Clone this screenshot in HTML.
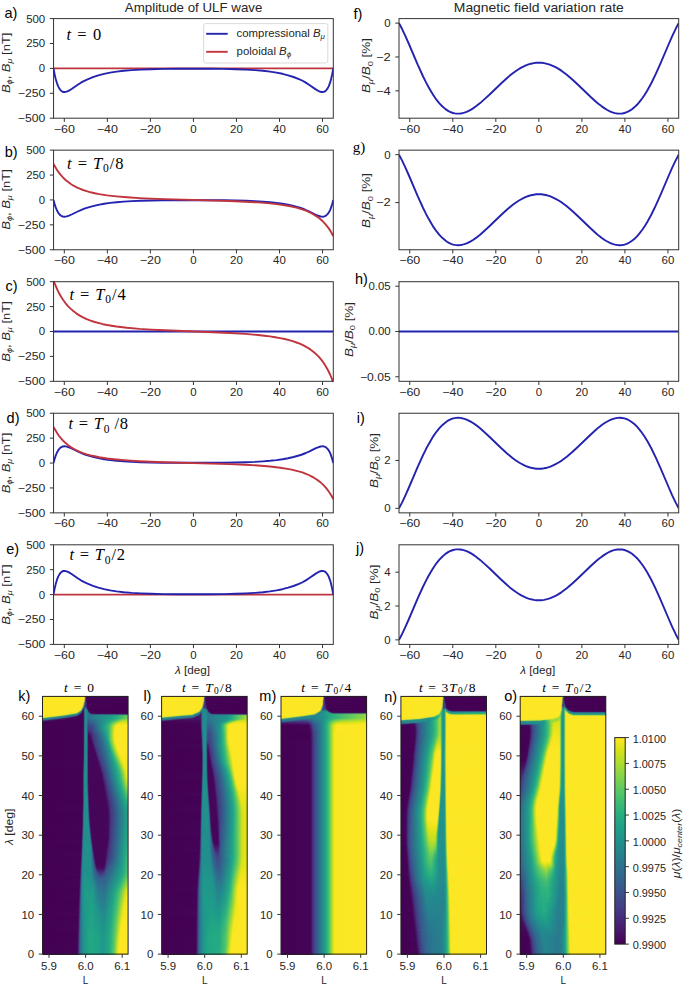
<!DOCTYPE html><html><head><meta charset="utf-8"><style>html,body{margin:0;padding:0;background:#fff;}#w{position:relative;width:685px;height:988px;overflow:hidden;background:#fff}i{position:absolute;display:block}svg{position:absolute;left:0;top:0;display:block}.p0{left:42.50px;width:85.60px}.p1{left:161.60px;width:85.60px}.p2{left:281.00px;width:85.60px}.p3{left:400.90px;width:85.60px}.p4{left:520.20px;width:85.60px}</style></head><body><div id="w"><i class="p0" style="top:696px;height:1px;background:linear-gradient(90deg,#fde725,#fce725 47.9%,#f3e329 48.5%,#c9ce3b 49.1%,#809a5b 49.6%,#4f536a 50.2%,#441c60 50.8%,#440657 51.4%,#440154 60.7%,#440154)"></i><i class="p0" style="top:697px;height:1px;background:linear-gradient(90deg,#fde725,#fce725 47.9%,#f1e12b 48.5%,#c0c443 49.1%,#728867 49.6%,#494571 50.2%,#431862 50.8%,#440557 51.4%,#440154)"></i><i class="p0" style="top:698px;height:1px;background:linear-gradient(90deg,#fde725,#fce725 47.9%,#f1e02b 48.5%,#c0c043 49.1%,#737f67 49.6%,#4a3e71 50.2%,#441562 50.8%,#440557 51.4%,#440154)"></i><i class="p0" style="top:699px;height:1px;background:linear-gradient(90deg,#fde725,#fce625 47.9%,#f0dd2b 48.5%,#c1b342 49.1%,#796c64 49.6%,#4e326f 50.2%,#451261 50.8%,#440457 51.4%,#440154)"></i><i class="p0" style="top:700px;height:1px;background:linear-gradient(90deg,#fde725,#fde725 47.3%,#f8e527 47.9%,#ddd632 48.5%,#a3a74c 49.1%,#67616a 49.6%,#4b2f70 50.2%,#451362 50.8%,#440557 51.4%,#440154)"></i><i class="p0" style="top:701px;height:1px;background:linear-gradient(90deg,#fde725,#fce725 47.3%,#f0e12b 47.9%,#bfc542 48.5%,#758b67 49.1%,#4c517b 49.6%,#46327a 50.2%,#450c5d 51.4%,#440154 52.6%,#440154)"></i><i class="p0" style="top:702px;height:1px;background:linear-gradient(90deg,#fde725,#fde725 46.7%,#f8e527 47.3%,#dedb31 47.9%,#a0b94e 48.5%,#5f8071 49.1%,#454e7f 49.6%,#45357d 50.2%,#451061 51.4%,#440456 52.0%,#440154)"></i><i class="p0" style="top:703px;height:1px;background:linear-gradient(90deg,#fde725,#fce725 46.7%,#f0e12b 47.3%,#bfc743 47.9%,#729369 48.5%,#485f7f 49.1%,#434082 49.6%,#452573 50.8%,#451161 51.4%,#440457 52.0%,#440154)"></i><i class="p0" style="top:704px;height:1px;background:linear-gradient(90deg,#fde725,#fde725 46.1%,#f9e627 46.7%,#e1dc31 47.3%,#a4bb4d 47.9%,#618170 48.5%,#464f80 49.1%,#443980 49.6%,#452573 50.8%,#440457 52.0%,#440154)"></i><i class="p0" style="top:705px;height:1px;background:linear-gradient(90deg,#fde725,#fce625 46.1%,#eee02c 46.7%,#bcc644 47.3%,#70936a 47.9%,#476080 48.5%,#434182 49.1%,#46327e 50.2%,#452775 50.8%,#440659 52.0%,#440154 56.7%,#440154)"></i><i class="p0" style="top:706px;height:1px;background:linear-gradient(90deg,#fde725,#fce725 45.6%,#f2e32a 46.1%,#cbd33a 46.7%,#87ae5b 47.3%,#507b78 47.9%,#424f82 48.5%,#443a81 49.1%,#45307c 50.8%,#440456 52.6%,#440154)"></i><i class="p0" style="top:707px;height:1px;background:linear-gradient(90deg,#fde725,#fce725 45.0%,#f1e32a 45.6%,#cbd33a 46.1%,#87b25a 46.7%,#508577 47.3%,#3e5d83 47.9%,#3f4784 48.5%,#413f82 50.8%,#412f76 51.4%,#431563 52.0%,#440557 52.6%,#440154)"></i><i class="p0" style="top:708px;height:1px;background:linear-gradient(90deg,#fde725,#fce725 44.4%,#f1e32a 45.0%,#cad33a 45.6%,#85b35a 46.1%,#4c8a77 46.7%,#39617f 47.3%,#3b467d 47.9%,#394d83 48.5%,#33628a 49.1%,#2f6c8c 49.6%,#2f698a 50.8%,#34527e 51.4%,#3d296a 52.0%,#420c5a 52.6%,#440154 53.7%,#440154)"></i><i class="p0" style="top:709px;height:1px;background:linear-gradient(90deg,#fde725,#f9e626 43.8%,#eee22b 44.4%,#c8d33b 45.0%,#84b25b 45.6%,#4c8977 46.1%,#395e7c 46.7%,#3c3570 47.3%,#3d2e6e 47.9%,#29798a 49.1%,#24898c 49.6%,#23898c 50.8%,#277d89 51.4%,#31597d 52.0%,#3c2969 52.6%,#430c5a 53.2%,#440154 54.3%,#440154)"></i><i class="p0" style="top:710px;height:1px;background:linear-gradient(90deg,#fde725,#fae625 42.1%,#e9e12b 43.2%,#d1d933 43.8%,#a7c946 44.4%,#73ad60 45.0%,#488878 45.6%,#395d7c 46.1%,#3d2f6d 46.7%,#411560 47.3%,#3e2367 47.9%,#287c89 49.1%,#228d8c 49.6%,#218f8c 50.8%,#23898c 51.4%,#2a7689 52.0%,#3e2569 53.2%,#430b5a 53.7%,#440154 54.9%,#440154)"></i><i class="p0" style="top:711px;height:1px;background:linear-gradient(90deg,#fde725,#fae625 40.3%,#eae12b 41.5%,#d3da33 42.1%,#abcb44 42.6%,#7ab65c 43.2%,#519f73 43.8%,#3b8c81 44.4%,#337a85 45.0%,#355a7e 45.6%,#3d2e6d 46.1%,#42105d 46.7%,#430a59 47.3%,#3e2165 47.9%,#33527c 48.5%,#277c89 49.1%,#228d8c 49.6%,#228b8d 51.4%,#277f8d 52.0%,#2e6a8a 52.6%,#3e256a 53.7%,#430d5c 54.3%,#440255 55.5%,#440154)"></i><i class="p0" style="top:712px;height:1px;background:linear-gradient(90deg,#fde725,#fae725 35.6%,#eee22a 39.1%,#e8e02c 39.7%,#d4da33 40.3%,#adcc44 40.9%,#53a073 42.1%,#3c8e81 42.6%,#2d7b8b 43.8%,#2d7089 44.4%,#33567f 45.0%,#3c2d6c 45.6%,#420f5d 46.1%,#440456 46.7%,#430758 47.3%,#3e2065 47.9%,#33527c 48.5%,#277c89 49.1%,#228d8c 49.6%,#228c8d 51.4%,#30678b 53.2%,#355583 53.7%,#401f67 54.9%,#430f5d 55.5%,#440254 57.2%,#440154)"></i><i class="p0" style="top:713px;height:1px;background:linear-gradient(90deg,#fde725,#fae725 28.6%,#e3de2d 34.5%,#b7d33e 36.8%,#7dbb5a 39.1%,#3b8e81 40.9%,#2d7c8b 42.1%,#2f6788 43.2%,#411f67 45.0%,#430c5b 45.6%,#440254 46.7%,#430757 47.3%,#3e2065 47.9%,#33527c 48.5%,#277c89 49.1%,#228d8c 49.6%,#228c8d 51.4%,#2d708e 53.2%,#2f6a8b 54.3%,#326087 54.9%,#411b64 56.7%,#420c5b 57.8%,#430a58)"></i><i class="p0" style="top:714px;height:1px;background:linear-gradient(90deg,#fde725,#f9e626 21.6%,#e6df2d 26.9%,#ced935 28.6%,#6db361 32.7%,#41997d 35.0%,#338588 38.6%,#2c7c8b 40.3%,#2f6888 41.5%,#402269 43.2%,#430859 44.4%,#440254 46.7%,#430757 47.3%,#3e2065 47.9%,#33527c 48.5%,#277c89 49.1%,#228d8c 49.6%,#228c8d 51.4%,#2b758e 52.6%,#2d718e 53.7%,#2b738d 55.5%,#335b85 57.8%,#385a74 92.9%,#3f596e)"></i><i class="p0" style="top:715px;height:1px;background:linear-gradient(90deg,#fde725,#f8e626 12.3%,#e2de2d 19.3%,#bad43d 22.2%,#50a473 26.9%,#3b9281 28.6%,#2d808b 33.3%,#2d6d8a 39.1%,#306588 39.7%,#3b3b77 40.9%,#43125f 42.1%,#440255 43.8%,#440254 46.7%,#430757 47.3%,#3e2065 47.9%,#33527c 48.5%,#277c89 49.1%,#228d8c 49.6%,#228c8d 51.4%,#2b758e 52.6%,#2c718e 53.7%,#26818d 61.3%,#219589 79.4%,#2ba67f 87.6%,#52ba68 95.8%,#6dc259)"></i><i class="p0" style="top:716px;height:1px;background:linear-gradient(90deg,#fce724,#e3de2d 9.3%,#bdd53c 12.3%,#4fa374 18.7%,#3a9282 21.0%,#2a768c 29.8%,#326087 33.9%,#421965 39.7%,#440456 41.5%,#440254 46.7%,#430757 47.3%,#3e2065 47.9%,#33527c 48.5%,#277c89 49.1%,#228d8c 49.6%,#228c8d 51.4%,#2b758e 52.6%,#2c718e 53.7%,#25848e 61.3%,#1f9b8a 78.9%,#27ad81 87.0%,#4ec36b 94.6%,#73d055)"></i><i class="p0" style="top:717px;height:1px;background:linear-gradient(90deg,#dddd2d,#c0d63b 2.3%,#50a473 8.8%,#3a9281 11.1%,#2e818a 16.9%,#2c6f8a 24.5%,#375283 28.0%,#431662 33.3%,#440657 38.0%,#440254 46.7%,#430757 47.3%,#3e2065 47.9%,#33527c 48.5%,#277c89 49.1%,#228d8c 49.6%,#228b8d 51.4%,#2b758e 52.6%,#2d718e 53.7%,#25848e 61.3%,#1f9b8a 78.9%,#28ae80 87.0%,#4fc36a 94.6%,#74d055)"></i><i class="p0" style="top:718px;height:1px;background:linear-gradient(90deg,#419a7c,#328488 5.3%,#2b758c 13.4%,#335e87 18.7%,#421e68 25.1%,#430a59 28.6%,#440154 40.9%,#440254 46.7%,#430757 47.3%,#3e2065 47.9%,#33527c 48.5%,#277c89 49.1%,#228d8c 49.6%,#238b8d 51.4%,#2c738e 52.6%,#2e6e8e 53.7%,#25848e 62.5%,#1f9e89 79.4%,#2aaf7f 86.4%,#56c666 94.0%,#80d34d)"></i><i class="p0" style="top:719px;height:1px;background:linear-gradient(90deg,#2a7c8d,#306689 7.6%,#3f3072 14.0%,#430e5d 19.3%,#440154 30.4%,#440254 46.7%,#430757 47.3%,#3e2065 47.9%,#33527c 48.5%,#277c89 49.1%,#228d8c 49.6%,#21908c 50.8%,#287d8d 52.0%,#2e6e8e 52.6%,#31688e 53.7%,#23898e 68.3%,#22a784 81.2%,#37b877 86.4%,#94d740 97.5%,#98d83e)"></i><i class="p0" style="top:720px;height:1px;background:linear-gradient(90deg,#365584,#431461 8.2%,#440456 15.8%,#440254 46.7%,#430757 47.3%,#3e2065 47.9%,#33527c 48.5%,#277c89 49.1%,#228d8c 49.6%,#218f8c 50.8%,#23898d 51.4%,#31688d 52.6%,#34608d 53.7%,#1f9f88 76.5%,#2db27d 82.4%,#5fc961 88.2%,#a7db34 94.6%,#afdc2f 99.3%,#afdc2f)"></i><i class="p0" style="top:721px;height:1px;background:linear-gradient(90deg,#430c5b,#440154 14.6%,#440254 46.7%,#430757 47.3%,#3e2065 47.9%,#33527c 48.5%,#277c89 49.1%,#228d8c 49.6%,#218f8c 50.8%,#24888d 51.4%,#33638c 52.6%,#375a8c 53.2%,#1f9c89 74.2%,#2cb17e 80.0%,#4fc36a 84.1%,#bbde28 92.3%,#c4e023 96.4%,#c4e023)"></i><i class="p0" style="top:722px;height:1px;background:linear-gradient(90deg,#440154,#440254 46.7%,#430757 47.3%,#3e2065 47.9%,#33527c 48.5%,#277c89 49.1%,#228d8c 49.6%,#218f8c 50.8%,#24888d 51.4%,#355e8c 52.6%,#3a538b 53.2%,#2a788e 64.3%,#20a287 74.8%,#33b57a 79.4%,#63ca5f 83.5%,#cae021 90.0%,#d7e21b 92.3%,#d7e21b)"></i><i class="p0" style="top:723px;height:1px;background:linear-gradient(90deg,#440154,#440254 46.7%,#430757 47.3%,#3e2065 47.9%,#33527c 48.5%,#277c89 49.1%,#228d8c 49.6%,#218f8c 50.8%,#24878d 51.4%,#375a8b 52.6%,#3d4e8a 53.2%,#34618d 59.6%,#1f9e88 73.0%,#30b47c 77.7%,#4fc36a 80.6%,#d1e120 87.6%,#e4e41b 89.4%,#e7e41a)"></i><i class="p0" style="top:724px;height:1px;background:linear-gradient(90deg,#440154,#440254 46.7%,#430757 47.3%,#3e2065 47.9%,#33527c 48.5%,#277c89 49.1%,#228d8c 49.6%,#218f8c 50.8%,#25868d 51.4%,#395689 52.6%,#3f4988 53.2%,#3a548b 57.8%,#1f9b8a 71.8%,#2bb07f 75.9%,#45bf70 78.9%,#86d449 82.4%,#d5e21f 85.9%,#efe51e 87.6%,#f3e61e)"></i><i class="p0" style="top:725px;height:1px;background:linear-gradient(90deg,#440154,#440254 46.7%,#430757 47.3%,#3e2065 47.9%,#33527c 48.5%,#277c89 49.1%,#228d8c 49.6%,#218f8c 50.8%,#25868c 51.4%,#3a5388 52.6%,#404587 53.2%,#3d4c8a 57.2%,#1f978b 70.7%,#27ad81 74.8%,#46c06f 78.3%,#8ed644 81.8%,#d6e21d 84.7%,#f6e621 86.4%,#fbe723 98.1%,#fbe723)"></i><i class="p0" style="top:726px;height:1px;background:linear-gradient(90deg,#440154,#440254 46.7%,#430757 47.3%,#3e2065 47.9%,#33527c 48.5%,#277c89 49.1%,#228d8c 49.6%,#218f8c 50.8%,#25858c 51.4%,#3b5088 52.6%,#414286 53.2%,#3f4888 57.2%,#21918c 69.5%,#25ab82 74.2%,#42be72 77.7%,#7dd24f 80.6%,#d7e21d 84.1%,#f9e722 85.9%,#fde725)"></i><i class="p0" style="top:727px;height:2px;background:linear-gradient(90deg,#440154,#440254 46.7%,#430757 47.3%,#3e2165 47.9%,#33527c 48.5%,#277c89 49.1%,#228d8c 49.6%,#218f8c 50.8%,#25868c 51.4%,#3b4f87 52.6%,#423f84 53.2%,#414287 57.2%,#24868e 67.8%,#20a486 73.0%,#3bba75 77.1%,#57c666 78.9%,#d1e11e 83.5%,#f8e622 85.3%,#fde725 91.1%,#fde725)"></i><i class="p0" style="top:729px;height:1px;background:linear-gradient(90deg,#440154,#440254 46.7%,#430757 47.3%,#3e2165 47.9%,#33537c 48.5%,#277d89 49.1%,#228d8c 49.6%,#218f8c 50.8%,#25868c 51.4%,#3c4c85 52.6%,#433a81 53.2%,#443882 56.1%,#2b758e 65.4%,#20a287 73.0%,#34b779 76.5%,#4cc26c 78.3%,#a5db36 81.8%,#d8e21d 83.5%,#f4e620 84.7%,#fde725 86.4%,#fde725)"></i><i class="p0" style="top:730px;height:1px;background:linear-gradient(90deg,#440154,#440254 46.7%,#430757 47.3%,#3e2165 47.9%,#33537c 48.5%,#277d89 49.1%,#228d8c 49.6%,#218f8c 50.8%,#24878c 51.4%,#2e6d89 52.0%,#3c4a83 52.6%,#45347e 53.2%,#46307d 54.3%,#414387 58.4%,#238a8d 69.5%,#22a784 74.2%,#3aba76 77.1%,#58c765 78.9%,#cbe121 82.9%,#ece51d 84.1%,#fce724 85.3%,#fde725)"></i><i class="p0" style="top:731px;height:1px;background:linear-gradient(90deg,#440154,#440254 46.7%,#430757 47.3%,#3e2165 47.9%,#32547c 48.5%,#277d89 49.1%,#228d8c 49.6%,#218f8c 50.8%,#24888c 51.4%,#2e6e88 52.0%,#3d4780 52.6%,#452d79 53.2%,#482777 54.3%,#365c8d 62.5%,#1f9d89 73.0%,#2db17d 75.9%,#4cc26c 78.3%,#aadc32 81.8%,#cee11f 82.9%,#efe51e 84.1%,#fde724 85.3%,#fde725)"></i><i class="p0" style="top:732px;height:1px;background:linear-gradient(90deg,#440154,#440254 46.7%,#430757 47.3%,#3e2265 47.9%,#32547c 48.5%,#277e89 49.1%,#228e8c 49.6%,#21908c 50.8%,#24898c 51.4%,#2d6f88 52.0%,#3c457e 52.6%,#452773 53.2%,#481d6e 53.7%,#3d4c8a 60.7%,#1f968b 72.4%,#26ac81 75.4%,#40bd72 77.7%,#78d152 80.0%,#d1e11e 82.9%,#f1e51f 84.1%,#fde724 85.3%,#fde725)"></i><i class="p0" style="top:733px;height:1px;background:linear-gradient(90deg,#440154,#440254 46.7%,#430757 47.3%,#3d2265 47.9%,#32557c 48.5%,#277e89 49.1%,#228e8c 49.6%,#21908c 50.8%,#238a8c 51.4%,#2d7087 52.0%,#3c447b 52.6%,#45216d 53.2%,#471466 53.7%,#481d6f 55.5%,#433e85 59.0%,#26838e 70.1%,#21a585 74.8%,#37b878 77.1%,#58c765 78.9%,#d4e21e 82.9%,#f3e620 84.1%,#fde724 85.3%,#fde725)"></i><i class="p0" style="top:734px;height:1px;background:linear-gradient(90deg,#440154,#440254 46.7%,#430757 47.3%,#3d2265 47.9%,#32557c 48.5%,#277e89 49.1%,#228e8c 49.6%,#21908c 50.8%,#238a8c 51.4%,#2c7187 52.0%,#3b4279 52.6%,#441b68 53.2%,#460c5f 53.7%,#470f61 54.9%,#453882 58.4%,#2b758e 68.3%,#20a287 74.8%,#36b778 77.1%,#68cc5c 79.4%,#d5e21e 82.9%,#f4e620 84.1%,#fde725 85.9%,#fde725)"></i><i class="p0" style="top:735px;height:2px;background:linear-gradient(90deg,#440154,#440254 46.7%,#430757 47.3%,#3d2365 47.9%,#31567c 48.5%,#267f89 49.1%,#228e8c 49.6%,#21908c 50.8%,#238b8b 51.4%,#2c7186 52.0%,#431864 53.2%,#45085a 53.7%,#460b5e 55.5%,#453580 58.4%,#2f6c8e 67.8%,#209e88 74.8%,#2bb07f 76.5%,#58c765 78.9%,#d6e21e 82.9%,#f5e621 84.1%,#fde725 85.9%,#fde725)"></i><i class="p0" style="top:737px;height:2px;background:linear-gradient(90deg,#440154,#440254 46.7%,#430857 47.3%,#3d2365 47.9%,#31567c 48.5%,#267f89 49.1%,#218e8c 49.6%,#21908c 50.8%,#238b8b 51.4%,#2c7286 52.0%,#431764 53.2%,#450759 53.7%,#450659 55.5%,#471b6c 57.2%,#453681 59.0%,#2e6f8e 68.9%,#20988a 74.8%,#28ac81 76.5%,#47c06f 78.3%,#99d83d 81.2%,#d3e21e 82.9%,#f3e620 84.1%,#fde724 85.3%,#fde725)"></i><i class="p0" style="top:739px;height:1px;background:linear-gradient(90deg,#440154,#440254 46.7%,#430857 47.3%,#3d2465 47.9%,#31577c 48.5%,#268089 49.1%,#218e8c 49.6%,#21908c 50.8%,#238b8b 51.4%,#2c7286 52.0%,#431764 53.2%,#450759 53.7%,#450659 56.1%,#471d6e 57.8%,#443882 59.6%,#2a778e 70.7%,#209a8a 75.4%,#2cb07e 77.1%,#60c961 79.4%,#cde120 82.9%,#efe51f 84.1%,#fde724 85.3%,#fde725)"></i><i class="p0" style="top:740px;height:1px;background:linear-gradient(90deg,#440154,#440254 46.7%,#430857 47.3%,#3d2465 47.9%,#30587c 48.5%,#26808a 49.1%,#218e8c 49.6%,#21908c 50.8%,#238b8b 51.4%,#2c7286 52.0%,#431764 53.2%,#450759 53.7%,#45075a 56.7%,#453580 59.6%,#32658e 68.3%,#20968b 75.4%,#29ad80 77.1%,#5bc863 79.4%,#c8e022 82.9%,#ebe51e 84.1%,#fce724 85.3%,#fde725)"></i><i class="p0" style="top:741px;height:1px;background:linear-gradient(90deg,#440154,#440254 46.7%,#430857 47.3%,#3c2565 47.9%,#30597c 48.5%,#26808a 49.1%,#218e8c 49.6%,#21908c 50.8%,#238b8b 51.4%,#2c7286 52.0%,#431764 53.2%,#450759 53.7%,#450558 56.7%,#471b6c 58.4%,#443982 60.2%,#2b768e 71.3%,#20998a 75.9%,#2eb17d 77.7%,#77d053 80.6%,#d4e21e 83.5%,#f4e620 84.7%,#fde725 86.4%,#fde725)"></i><i class="p0" style="top:742px;height:1px;background:linear-gradient(90deg,#440154,#440254 46.7%,#430857 47.3%,#3c2565 47.9%,#305a7c 48.5%,#25818a 49.1%,#218e8c 49.6%,#21908c 50.8%,#238b8b 51.4%,#2c7286 52.0%,#431764 53.2%,#450759 53.7%,#450659 57.2%,#472070 59.0%,#443b83 60.7%,#2a788e 71.8%,#20968b 75.9%,#2aae7f 77.7%,#5fc961 80.0%,#cde120 83.5%,#efe51f 84.7%,#fce724 85.9%,#fde725)"></i><i class="p0" style="top:743px;height:1px;background:linear-gradient(90deg,#440154,#440254 46.7%,#430857 47.3%,#3c2665 47.9%,#2f5b7c 48.5%,#25828a 49.1%,#218e8c 49.6%,#21908c 50.8%,#238b8b 51.4%,#2c7286 52.0%,#431764 53.2%,#450759 53.7%,#46075b 57.8%,#443882 60.7%,#2c728e 71.3%,#20998a 76.5%,#2fb27c 78.3%,#7ad151 81.2%,#d7e21e 84.1%,#f5e621 85.3%,#fde725 87.0%,#fde725)"></i><i class="p0" style="top:744px;height:1px;background:linear-gradient(90deg,#440154,#440254 46.7%,#430857 47.3%,#3c2665 47.9%,#2f5c7c 48.5%,#25828a 49.1%,#218f8c 49.6%,#21908c 50.8%,#238b8b 51.4%,#2c7286 52.0%,#431764 53.2%,#450759 53.7%,#450559 57.8%,#471d6e 59.6%,#443a83 61.3%,#2a788e 72.4%,#20968b 76.5%,#2aae7f 78.3%,#71cf56 81.2%,#cde120 84.1%,#efe51f 85.3%,#fce724 86.4%,#fde725)"></i><i class="p0" style="top:745px;height:1px;background:linear-gradient(90deg,#440154,#440254 46.7%,#420857 47.3%,#3b2765 47.9%,#2e5d7c 48.5%,#25838a 49.1%,#218f8c 49.6%,#238b8b 51.4%,#2c7286 52.0%,#431764 53.2%,#450759 53.7%,#45075a 58.4%,#472172 60.2%,#433d84 61.9%,#2b758e 72.4%,#20998a 77.1%,#2fb27c 78.9%,#79d152 81.8%,#d6e21e 84.7%,#f4e620 85.9%,#fde725 87.6%,#fde725)"></i><i class="p0" style="top:746px;height:1px;background:linear-gradient(90deg,#440154,#440254 46.7%,#420957 47.3%,#3b2865 47.9%,#2e5e7c 48.5%,#24848a 49.1%,#218f8c 49.6%,#238b8b 51.4%,#2c7286 52.0%,#431764 53.2%,#450759 53.7%,#46085b 59.0%,#443982 61.9%,#2a778e 73.0%,#20958b 77.1%,#2aae80 78.9%,#5fc961 81.2%,#cae021 84.7%,#ede51e 85.9%,#fce724 87.0%,#fde725)"></i><i class="p0" style="top:747px;height:1px;background:linear-gradient(90deg,#440154,#440254 46.7%,#420957 47.3%,#3b2965 47.9%,#2d5f7c 48.5%,#24858a 49.1%,#218f8c 49.6%,#238b8b 51.4%,#2c7286 52.0%,#431764 53.2%,#450759 53.7%,#450659 59.0%,#471e6f 60.7%,#433c84 62.5%,#2b758e 73.0%,#20998a 77.7%,#2eb17d 79.4%,#75d054 82.4%,#d1e11f 85.3%,#f1e61f 86.4%,#fde724 87.6%,#fde725)"></i><i class="p0" style="top:748px;height:1px;background:linear-gradient(90deg,#440154,#440254 46.7%,#420957 47.3%,#3a2965 47.9%,#2d617c 48.5%,#248589 49.1%,#218f8c 49.6%,#238b8b 51.4%,#2c7286 52.0%,#431764 53.2%,#450759 53.7%,#45075a 59.6%,#443881 62.5%,#2d6f8e 72.4%,#20958b 77.7%,#28ac80 79.4%,#5bc863 81.8%,#d7e21e 85.9%,#f5e621 87.0%,#fde725 88.8%,#fde725)"></i><i class="p0" style="top:749px;height:1px;background:linear-gradient(90deg,#440154,#440254 46.7%,#420957 47.3%,#3a2a65 47.9%,#2d617c 48.5%,#248589 49.1%,#218f8c 49.6%,#238b8b 51.4%,#2c7286 52.0%,#431764 53.2%,#450759 53.7%,#450558 59.6%,#471b6c 61.3%,#443a83 63.1%,#287d8e 74.8%,#20998a 78.3%,#2cb07e 80.0%,#60c960 82.4%,#cae021 85.9%,#ece51e 87.0%,#fce724 88.2%,#fde725)"></i><i class="p0" style="top:750px;height:1px;background:linear-gradient(90deg,#440154,#440254 46.7%,#420957 47.3%,#3a2a65 47.9%,#2d617c 48.5%,#248689 49.1%,#218f8c 49.6%,#238b8b 51.4%,#2c7286 52.0%,#431764 53.2%,#450759 53.7%,#450659 60.2%,#472070 61.9%,#433d84 63.7%,#2a778e 74.2%,#209c89 78.9%,#2fb27c 80.6%,#75d054 83.5%,#cfe120 86.4%,#efe51e 87.6%,#fae723 88.8%,#fbe723)"></i><i class="p0" style="top:751px;height:1px;background:linear-gradient(90deg,#440154,#440254 46.7%,#420957 47.3%,#3a2a65 47.9%,#2d617c 48.5%,#238689 49.1%,#218f8c 49.6%,#238b8b 51.4%,#2c7286 52.0%,#431764 53.2%,#450759 53.7%,#46075b 60.7%,#443982 63.7%,#2d718e 73.6%,#20988a 78.9%,#29ae80 80.6%,#59c764 82.9%,#d3e21f 87.0%,#f1e51f 88.2%,#fbe723 90.0%,#fbe723)"></i><i class="p0" style="top:752px;height:1px;background:linear-gradient(90deg,#440154,#440254 46.7%,#420957 47.3%,#3a2a65 47.9%,#2d627c 48.5%,#238689 49.1%,#218f8c 49.6%,#238b8b 51.4%,#2c7286 52.0%,#431764 53.2%,#450759 53.7%,#450559 60.7%,#471d6e 62.5%,#433b83 64.3%,#287b8e 75.4%,#209c89 79.4%,#2cb07e 81.2%,#5dc862 83.5%,#d7e21e 87.6%,#f3e620 88.8%,#fbe723 91.1%,#fbe723)"></i><i class="p0" style="top:753px;height:1px;background:linear-gradient(90deg,#440154,#440254 46.7%,#420957 47.3%,#3a2a65 47.9%,#2c627c 48.5%,#238689 49.1%,#218f8c 49.6%,#238b8b 51.4%,#2c7286 52.0%,#431764 53.2%,#450759 53.7%,#45065a 61.3%,#472171 63.1%,#433d84 64.8%,#287d8e 75.9%,#209f88 80.0%,#2fb27c 81.8%,#61ca60 84.1%,#c8e022 87.6%,#e9e51d 88.8%,#f9e722 90.0%,#fbe723)"></i><i class="p0" style="top:754px;height:1px;background:linear-gradient(90deg,#440154,#440254 46.7%,#420957 47.3%,#3a2a65 47.9%,#2c637c 48.5%,#238689 49.1%,#21908c 49.6%,#238b8b 51.4%,#2c7286 52.0%,#431764 53.2%,#450759 53.7%,#46085b 61.9%,#443a82 64.8%,#2a788e 75.4%,#20a187 80.6%,#32b47b 82.4%,#63cb5e 84.7%,#cbe121 88.2%,#ebe51e 89.4%,#fae722 90.5%,#fbe723)"></i><i class="p0" style="top:755px;height:1px;background:linear-gradient(90deg,#440154,#440254 46.7%,#420957 47.3%,#3a2b65 47.9%,#2c637c 48.5%,#238789 49.1%,#21908c 49.6%,#238b8b 51.4%,#2c7286 52.0%,#431764 53.2%,#450759 53.7%,#450659 61.9%,#471e6f 63.7%,#433c84 65.4%,#26818e 77.1%,#21a486 81.2%,#34b679 82.9%,#67cc5c 85.3%,#cee120 88.8%,#ede51e 90.0%,#f9e722 91.1%,#fae722)"></i><i class="p0" style="top:756px;height:1px;background:linear-gradient(90deg,#440154,#440254 46.7%,#420957 47.3%,#3a2b65 47.9%,#2c637c 48.5%,#238789 49.1%,#21918c 50.2%,#238b8b 51.4%,#2c7286 52.0%,#431764 53.2%,#450759 53.7%,#45075a 62.5%,#443881 65.4%,#2f6c8e 74.2%,#20a187 81.2%,#37b878 83.5%,#6acc5b 85.9%,#d1e11f 89.4%,#eee51e 90.5%,#f9e621 92.3%,#f9e621)"></i><i class="p0" style="top:757px;height:1px;background:linear-gradient(90deg,#440154,#440254 46.7%,#420a58 47.3%,#3a2d67 47.9%,#2c657d 48.5%,#238789 49.1%,#21918c 50.2%,#238b8b 51.4%,#2c7286 52.0%,#431764 53.2%,#450759 53.7%,#450558 62.5%,#471b6d 64.3%,#443a83 66.0%,#297a8e 76.5%,#21a386 81.8%,#39b977 84.1%,#6ccd59 86.4%,#d3e21e 90.0%,#f0e51e 91.1%,#f8e621 92.9%,#f8e621)"></i><i class="p0" style="top:758px;height:1px;background:linear-gradient(90deg,#440154,#440255 46.7%,#430c5a 47.3%,#3a2f69 47.9%,#2c667e 48.5%,#23888a 49.1%,#21918c 50.2%,#238b8b 51.4%,#2c7286 52.0%,#431764 53.2%,#450759 53.7%,#450659 63.1%,#472071 64.8%,#433c84 66.6%,#27808e 77.7%,#22a585 82.4%,#3bba75 84.7%,#6fce58 87.0%,#d5e21e 90.5%,#f1e51e 91.7%,#f8e621 94.0%,#f8e621)"></i><i class="p0" style="top:759px;height:1px;background:linear-gradient(90deg,#440154,#440355 46.7%,#430d5b 47.3%,#3b316b 47.9%,#2c687f 48.5%,#23888a 49.1%,#21918c 50.2%,#238b8b 51.4%,#2c7286 52.0%,#431764 53.2%,#450759 53.7%,#46085b 63.7%,#443882 66.6%,#2e6f8e 75.4%,#20a287 82.4%,#34b679 84.7%,#63ca5f 87.0%,#c7e023 90.5%,#e7e41d 91.7%,#f7e620 92.9%,#f8e621)"></i><i class="p0" style="top:760px;height:1px;background:linear-gradient(90deg,#440154,#440355 46.7%,#430e5c 47.3%,#3b346d 47.9%,#2c6a80 48.5%,#23898a 49.1%,#21918c 50.2%,#238b8b 51.4%,#2c7286 52.0%,#431764 53.2%,#450759 53.7%,#450559 63.7%,#471d6e 65.4%,#443b83 67.2%,#29798e 77.1%,#1f9f88 82.4%,#2fb37c 84.7%,#57c666 87.0%,#c9e022 91.1%,#e9e41d 92.3%,#f6e620 93.5%,#f7e620)"></i><i class="p0" style="top:761px;height:1px;background:linear-gradient(90deg,#440154,#440356 46.7%,#43105d 47.3%,#3b366f 47.9%,#2c6c81 48.5%,#238a8a 49.1%,#21918c 50.2%,#238b8b 51.4%,#2c7286 52.0%,#431764 53.2%,#450759 53.7%,#45075a 64.3%,#453681 67.2%,#31678e 74.8%,#20a187 82.9%,#31b47b 85.3%,#5ac764 87.6%,#cce121 91.7%,#eae51d 92.9%,#f5e61f 94.0%,#f6e620)"></i><i class="p0" style="top:762px;height:1px;background:linear-gradient(90deg,#440154,#440456 46.7%,#43115f 47.3%,#3b3971 47.9%,#2c6d83 48.5%,#238a8b 49.1%,#21918c 50.2%,#238b8b 51.4%,#2c7286 52.0%,#431764 53.2%,#450759 53.7%,#450558 64.3%,#471a6c 66.0%,#443982 67.8%,#2c718e 76.5%,#1f9f88 82.9%,#33b67a 85.9%,#5cc862 88.2%,#cfe11f 92.3%,#ece51d 93.5%,#f6e620 95.2%,#f6e620)"></i><i class="p0" style="top:763px;height:1px;background:linear-gradient(90deg,#440154,#440456 46.7%,#431360 47.3%,#3b3b73 47.9%,#2c6f84 48.5%,#238a8b 49.1%,#21908c 50.8%,#238b8b 51.4%,#2c7286 52.0%,#431764 53.2%,#450759 53.7%,#450659 64.8%,#471e6f 66.6%,#443b83 68.3%,#287c8e 78.3%,#20a187 83.5%,#35b779 86.4%,#5fc961 88.8%,#d2e11e 92.9%,#ede51d 94.0%,#f6e61f 95.8%,#f6e61f)"></i><i class="p0" style="top:764px;height:1px;background:linear-gradient(90deg,#440154,#440456 46.7%,#431461 47.3%,#3b3e75 47.9%,#2c7085 48.5%,#238b8b 49.1%,#21908c 50.8%,#238b8b 51.4%,#2c7286 52.0%,#431764 53.2%,#450759 53.7%,#46075b 65.4%,#453781 68.3%,#306a8e 75.9%,#1f9f88 83.5%,#30b47b 86.4%,#55c567 88.8%,#d5e21e 93.5%,#eee51d 94.6%,#f5e61f 98.1%,#f5e61f)"></i><i class="p0" style="top:765px;height:1px;background:linear-gradient(90deg,#440154,#440557 46.7%,#421662 47.3%,#2c7286 48.5%,#238b8b 49.1%,#21908c 50.8%,#238b8b 51.4%,#2c7286 52.0%,#431764 53.2%,#450759 53.7%,#450559 65.4%,#471c6d 67.2%,#443982 68.9%,#2b748e 77.7%,#20a187 84.1%,#32b57a 87.0%,#58c765 89.4%,#c8e022 93.5%,#e6e41c 94.6%,#f3e61e 95.8%,#f4e61e)"></i><i class="p0" style="top:766px;height:1px;background:linear-gradient(90deg,#440154,#440557 46.7%,#421863 47.3%,#2b7487 48.5%,#238b8c 49.1%,#21908c 50.8%,#238b8b 51.4%,#2c7286 52.0%,#431764 53.2%,#450759 53.7%,#45075a 66.0%,#472071 67.8%,#433b83 69.5%,#297b8e 78.9%,#20a386 84.7%,#35b779 87.6%,#5cc863 90.0%,#cce120 94.0%,#e9e41c 95.2%,#f4e61e 97.0%,#f4e61e)"></i><i class="p0" style="top:767px;height:1px;background:linear-gradient(90deg,#440154,#440254 46.1%,#440557 46.7%,#411a64 47.3%,#2a7588 48.5%,#228c8c 49.1%,#21908c 50.8%,#238b8b 51.4%,#2c7286 52.0%,#431764 53.2%,#450759 53.7%,#450558 66.0%,#47196b 67.8%,#443881 69.5%,#2e6d8e 77.1%,#20a187 84.7%,#31b47b 87.6%,#53c568 90.0%,#afdc30 93.5%,#e0e31c 95.2%,#f1e51d 96.4%,#f3e61e)"></i><i class="p0" style="top:768px;height:1px;background:linear-gradient(90deg,#440154,#440254 46.1%,#440657 46.7%,#401b64 47.3%,#2a7788 48.5%,#228c8c 49.1%,#21908c 50.8%,#238b8b 51.4%,#2c7286 52.0%,#431764 53.2%,#450759 53.7%,#45065a 66.6%,#471e6f 68.3%,#443a83 70.1%,#2a778e 78.9%,#20a387 85.3%,#33b67a 88.2%,#57c666 90.5%,#d5e21d 95.2%,#ede51c 96.4%,#f1e51d)"></i><i class="p0" style="top:769px;height:1px;background:linear-gradient(90deg,#440154,#440254 46.1%,#430657 46.7%,#401d65 47.3%,#364d7b 47.9%,#297989 48.5%,#228d8c 49.1%,#21908c 50.8%,#238b8b 51.4%,#2c7286 52.0%,#431764 53.2%,#450759 53.7%,#450558 66.6%,#47186a 68.3%,#453681 70.1%,#306a8e 77.1%,#1fa187 85.3%,#35b778 88.8%,#4fc36a 90.5%,#a9db33 94.0%,#dae31c 95.8%,#eee51c 97.0%,#f1e51d)"></i><i class="p0" style="top:770px;height:1px;background:linear-gradient(90deg,#440154,#440254 46.1%,#430757 46.7%,#3f1f65 47.3%,#34507b 47.9%,#287b89 48.5%,#228d8c 49.1%,#21908c 50.8%,#238b8b 51.4%,#2c7286 52.0%,#431764 53.2%,#450759 53.7%,#450659 67.2%,#481d6e 68.9%,#443982 70.7%,#2b748e 78.9%,#1f9f88 85.3%,#32b57a 88.8%,#54c568 91.1%,#c0df25 95.2%,#ebe51b 97.0%,#f1e51d)"></i><i class="p0" style="top:771px;height:1px;background:linear-gradient(90deg,#440154,#440254 46.1%,#430757 46.7%,#3e2165 47.3%,#33537c 47.9%,#277d89 48.5%,#228d8c 49.1%,#21908c 50.8%,#238b8b 51.4%,#2c7286 52.0%,#431764 53.2%,#450759 53.7%,#46085b 67.8%,#453580 70.7%,#31668e 77.1%,#1f9d89 85.3%,#2fb37c 88.8%,#4dc26b 91.1%,#a6db35 94.6%,#d7e21c 96.4%,#ece51b 97.5%,#efe51c)"></i><i class="p0" style="top:772px;height:1px;background:linear-gradient(90deg,#440154,#440254 46.1%,#430857 46.7%,#3d2365 47.3%,#31567c 47.9%,#267f89 48.5%,#228e8c 49.1%,#21908c 50.8%,#238b8b 51.4%,#2c7286 52.0%,#431764 53.2%,#450759 53.7%,#450659 67.8%,#481b6d 69.5%,#443882 71.3%,#2d718e 78.9%,#1fa088 85.9%,#32b57a 89.4%,#52c568 91.7%,#bedf26 95.8%,#e9e41b 97.5%,#efe51c)"></i><i class="p0" style="top:773px;height:1px;background:linear-gradient(90deg,#440154,#440254 46.1%,#430857 46.7%,#3c2565 47.3%,#30597c 47.9%,#25818a 48.5%,#218e8c 49.1%,#21908c 50.8%,#238b8b 51.4%,#2c7286 52.0%,#431764 53.2%,#450759 53.7%,#46075b 68.3%,#433b83 71.8%,#2a778e 80.0%,#20a287 86.4%,#35b779 90.0%,#4dc26b 91.7%,#a5db35 95.2%,#d7e21c 97.0%,#ebe51b 98.1%,#eee51b)"></i><i class="p0" style="top:774px;height:1px;background:linear-gradient(90deg,#440154,#440254 46.1%,#420857 46.7%,#3c2765 47.3%,#2f5c7c 47.9%,#25828a 48.5%,#218f8c 49.1%,#21908c 50.8%,#238b8b 51.4%,#2c7286 52.0%,#431764 53.2%,#450759 53.7%,#450659 68.3%,#481b6d 70.1%,#443882 71.8%,#2d718e 79.4%,#1fa088 86.4%,#32b57a 90.0%,#53c568 92.3%,#afdc2f 95.8%,#dfe31b 97.5%,#ece51b 98.7%,#ece51b)"></i><i class="p0" style="top:775px;height:2px;background:linear-gradient(90deg,#440154,#440254 46.1%,#420957 46.7%,#3b2965 47.3%,#2d607c 47.9%,#248589 48.5%,#218f8c 49.1%,#21908c 50.8%,#238b8b 51.4%,#2c7286 52.0%,#431764 53.2%,#450759 53.7%,#45075a 68.9%,#472978 71.3%,#404487 73.6%,#228b8d 83.5%,#21a585 87.6%,#3bba75 91.1%,#59c765 92.9%,#d7e21c 97.5%,#eae51a 98.7%,#ece51a)"></i><i class="p0" style="top:777px;height:1px;background:linear-gradient(90deg,#440154,#440254 46.1%,#420957 46.7%,#3a2a65 47.3%,#2d617c 47.9%,#248589 48.5%,#218f8c 49.1%,#21908c 50.8%,#238b8b 51.4%,#2c7286 52.0%,#431864 53.2%,#450759 53.7%,#450558 68.9%,#471769 70.7%,#453680 72.4%,#31688e 78.9%,#1f9f88 87.0%,#32b57b 90.5%,#52c469 92.9%,#bfdf26 97.0%,#dde31b 98.1%,#e9e41a 99.3%,#eae41a)"></i><i class="p0" style="top:778px;height:1px;background:linear-gradient(90deg,#440154,#440254 46.1%,#420957 46.7%,#3a2a65 47.3%,#2d617c 47.9%,#248689 48.5%,#218f8c 49.1%,#21908c 50.8%,#238b8c 51.4%,#2c7286 52.0%,#431864 53.2%,#45075a 53.7%,#450659 69.5%,#481d6e 71.3%,#443a83 73.0%,#2c728e 80.6%,#20a287 87.6%,#35b779 91.1%,#4dc36b 92.9%,#a7db34 96.4%,#d8e21c 98.1%,#e6e419 99.3%,#e7e419)"></i><i class="p0" style="top:779px;height:1px;background:linear-gradient(90deg,#440154,#440254 46.1%,#420957 46.7%,#3a2a65 47.3%,#2d627c 47.9%,#238689 48.5%,#218f8c 49.1%,#238b8c 51.4%,#2b7387 52.0%,#431965 53.2%,#45075a 53.7%,#450558 69.5%,#47186a 71.3%,#453781 73.0%,#2f6c8e 80.0%,#1fa088 87.6%,#32b57a 91.1%,#55c567 93.5%,#d1e11e 98.1%,#e3e419 99.3%,#e4e419)"></i><i class="p0" style="top:780px;height:1px;background:linear-gradient(90deg,#440154,#440254 46.1%,#420957 46.7%,#3a2a65 47.3%,#2d627c 47.9%,#238689 48.5%,#218f8c 49.1%,#238b8c 51.4%,#2b7487 52.0%,#421a65 53.2%,#45085a 53.7%,#45065a 70.1%,#481e6f 71.8%,#443a83 73.6%,#2a778e 81.8%,#20a287 88.2%,#35b778 91.7%,#4fc36a 93.5%,#a9db33 97.0%,#d7e21b 98.7%,#e0e318)"></i><i class="p0" style="top:781px;height:1px;background:linear-gradient(90deg,#440154,#440254 46.1%,#420957 46.7%,#3a2a65 47.3%,#2c627c 47.9%,#238689 48.5%,#218f8c 49.1%,#238c8c 51.4%,#2b7588 52.0%,#421b66 53.2%,#45085a 53.7%,#450559 70.1%,#471a6b 71.8%,#453781 73.6%,#2f6c8e 80.6%,#1fa088 88.2%,#33b57a 91.7%,#56c666 94.0%,#cfe11e 98.7%,#dae319)"></i><i class="p0" style="top:782px;height:1px;background:linear-gradient(90deg,#440154,#440254 46.1%,#420957 46.7%,#3a2a65 47.3%,#2c627c 47.9%,#238689 48.5%,#218f8c 49.1%,#228c8c 51.4%,#2a7688 52.0%,#421c67 53.2%,#45085b 53.7%,#450457 61.3%,#46075a 70.7%,#443a83 74.2%,#2a768e 82.4%,#20a187 88.8%,#35b778 92.3%,#5dc862 94.6%,#c7e021 98.7%,#d5e21a)"></i><i class="p0" style="top:783px;height:1px;background:linear-gradient(90deg,#440154,#440254 46.1%,#420957 46.7%,#3a2b65 47.3%,#2c637c 47.9%,#238689 48.5%,#21908c 49.1%,#228c8c 51.4%,#2a7789 52.0%,#421e68 53.2%,#45095b 53.7%,#450457 57.2%,#450659 70.7%,#481c6d 72.4%,#443882 74.2%,#2d708e 81.8%,#1fa088 88.8%,#32b57a 92.3%,#56c666 94.6%,#cae01f 99.3%,#cfe11d)"></i><i class="p0" style="top:784px;height:1px;background:linear-gradient(90deg,#440154,#440254 46.1%,#420957 46.7%,#3a2b65 47.3%,#2c637c 47.9%,#238789 48.5%,#21908c 49.1%,#228c8c 51.4%,#297989 52.0%,#412169 53.2%,#450a5c 53.7%,#450457 56.1%,#46085b 71.3%,#453580 74.2%,#32658e 80.6%,#1f9d89 88.8%,#2fb37c 92.3%,#50c46a 94.6%,#c1df24 99.3%,#c7e021)"></i><i class="p0" style="top:785px;height:1px;background:linear-gradient(90deg,#440154,#440254 46.1%,#420957 46.7%,#3a2b65 47.3%,#2c637c 47.9%,#238789 48.5%,#21918c 49.6%,#228d8c 51.4%,#297a89 52.0%,#36507e 52.6%,#41236a 53.2%,#450b5c 53.7%,#450457 55.5%,#45065a 71.3%,#472877 73.6%,#414286 75.9%,#24888e 85.9%,#22a685 90.5%,#38b877 93.5%,#63ca5f 95.8%,#b8de2a 99.3%,#bfdf25)"></i><i class="p0" style="top:786px;height:1px;background:linear-gradient(90deg,#440154,#440254 46.1%,#420957 46.7%,#3a2b65 47.3%,#2c637c 47.9%,#238789 48.5%,#21918c 49.6%,#228d8c 51.4%,#287b8a 52.0%,#35537f 52.6%,#40256c 53.2%,#440c5d 53.7%,#450457 54.9%,#450559 71.3%,#48196b 73.0%,#453580 74.8%,#30698e 81.8%,#1fa088 90.0%,#34b679 93.5%,#5bc863 95.8%,#aedc30 99.3%,#b6de2b)"></i><i class="p0" style="top:787px;height:1px;background:linear-gradient(90deg,#440154,#440254 46.1%,#420957 46.7%,#3a2b65 47.3%,#2c647c 47.9%,#238789 48.5%,#21918c 49.6%,#228d8c 51.4%,#287d8a 52.0%,#355580 52.6%,#40286d 53.2%,#440d5e 53.7%,#450457 54.9%,#46075a 71.8%,#443982 75.4%,#2c738e 83.5%,#20a287 90.5%,#30b47b 93.5%,#54c567 95.8%,#a4db36 99.3%,#addc30)"></i><i class="p0" style="top:788px;height:1px;background:linear-gradient(90deg,#440154,#440254 46.1%,#420957 46.7%,#3a2b65 47.3%,#2c647c 47.9%,#238789 48.5%,#21918c 49.6%,#228d8c 51.4%,#277e8a 52.0%,#345881 52.6%,#402a6e 53.2%,#440e5f 53.7%,#450457 54.9%,#450659 71.8%,#472675 74.2%,#424086 76.5%,#25858e 86.4%,#20a386 91.1%,#33b67a 94.0%,#65cb5e 97.0%,#a3da37)"></i><i class="p0" style="top:789px;height:1px;background:linear-gradient(90deg,#440154,#440254 46.1%,#420957 46.7%,#3a2c65 47.3%,#2c647c 47.9%,#238789 48.5%,#21918c 49.6%,#228e8c 51.4%,#277f8b 52.0%,#335a82 52.6%,#3f2c70 53.2%,#440f5f 53.7%,#450558 54.3%,#450558 71.8%,#47186a 73.6%,#443982 75.9%,#2a778e 84.7%,#1fa187 91.1%,#2fb37c 94.0%,#5dc862 97.0%,#98d83e)"></i><i class="p0" style="top:790px;height:1px;background:linear-gradient(90deg,#440154,#440254 46.1%,#420a57 46.7%,#3a2c65 47.3%,#2c647c 47.9%,#238889 48.5%,#21918c 49.6%,#228e8c 51.4%,#27808b 52.0%,#335c83 52.6%,#3f2e71 53.2%,#441060 53.7%,#450659 54.3%,#45075a 72.4%,#453781 75.9%,#2d708e 84.1%,#1f9f88 91.1%,#2cb17e 94.0%,#56c667 97.0%,#8dd645)"></i><i class="p0" style="top:791px;height:1px;background:linear-gradient(90deg,#440154,#440254 46.1%,#420a57 46.7%,#3a2c65 47.3%,#2b657c 47.9%,#238889 48.5%,#21918c 49.6%,#218e8c 51.4%,#26818b 52.0%,#325f84 52.6%,#3f3172 53.2%,#441161 53.7%,#450659 54.3%,#450659 72.4%,#472474 74.8%,#433e85 77.1%,#26828e 87.0%,#20a386 92.3%,#34b679 95.2%,#6fce58 98.7%,#82d44c)"></i><i class="p0" style="top:792px;height:1px;background:linear-gradient(90deg,#440154,#440254 46.1%,#420a57 46.7%,#392c65 47.3%,#2b657c 47.9%,#238889 48.5%,#21918c 49.6%,#218e8c 51.4%,#26828b 52.0%,#316184 52.6%,#3e3374 53.2%,#441262 53.7%,#450659 54.3%,#450558 72.4%,#471769 74.2%,#453882 76.5%,#2c748e 85.3%,#20a187 92.3%,#30b47b 95.2%,#78d152)"></i><i class="p0" style="top:793px;height:1px;background:linear-gradient(90deg,#440154,#440254 46.1%,#420a57 46.7%,#392c65 47.3%,#2b657b 47.9%,#238889 48.5%,#21918c 49.6%,#218e8c 51.4%,#26838b 52.0%,#316385 52.6%,#3e3575 53.2%,#441362 53.7%,#450659 54.3%,#45075a 73.0%,#453580 76.5%,#306a8e 84.1%,#1f9f88 92.3%,#2db17d 95.2%,#5ec962 98.7%,#6ece58)"></i><i class="p0" style="top:794px;height:1px;background:linear-gradient(90deg,#440154,#440254 46.1%,#420a57 46.7%,#392c65 47.3%,#2b657b 47.9%,#238889 48.5%,#21918c 49.6%,#218f8c 51.4%,#25848c 52.0%,#306686 52.6%,#3d3876 53.2%,#441563 53.7%,#450759 54.3%,#450559 73.0%,#482374 75.4%,#433d84 77.7%,#277f8e 87.6%,#21a486 93.5%,#35b779 96.4%,#65cb5e)"></i><i class="p0" style="top:795px;height:1px;background:linear-gradient(90deg,#440154,#440254 46.1%,#420a57 46.7%,#392c65 47.3%,#2b657b 47.9%,#238889 48.5%,#21918c 49.6%,#218f8c 51.4%,#25858c 52.0%,#2f6987 52.6%,#3d3c78 53.2%,#441765 53.7%,#45075a 54.3%,#450558 73.0%,#471769 74.8%,#453681 77.1%,#2e6d8e 85.3%,#20a287 93.5%,#31b47b 96.4%,#5cc863)"></i><i class="p0" style="top:796px;height:1px;background:linear-gradient(90deg,#440154,#440254 46.1%,#420a57 46.7%,#392c65 47.3%,#2b657b 47.9%,#238889 48.5%,#21918c 49.6%,#218f8c 51.4%,#24878c 52.0%,#2e6c88 52.6%,#431966 53.7%,#45085b 54.3%,#450457 68.3%,#45075a 73.6%,#453480 77.1%,#31678e 84.7%,#1f9f88 93.5%,#2db27d 96.4%,#54c568)"></i><i class="p0" style="top:797px;height:1px;background:linear-gradient(90deg,#440154,#440254 46.1%,#420a57 46.7%,#392c65 47.3%,#2b657b 47.9%,#238889 48.5%,#21918c 49.6%,#218f8c 51.4%,#24888c 52.0%,#2d7089 52.6%,#431d68 53.7%,#45095b 54.3%,#450457 57.8%,#450559 73.6%,#453782 77.7%,#2d718e 86.4%,#1fa187 94.0%,#34b679 97.5%,#4cc26c)"></i><i class="p0" style="top:798px;height:1px;background:linear-gradient(90deg,#440154,#440254 46.1%,#420a57 46.7%,#392c65 47.3%,#2b657b 47.9%,#238889 48.5%,#21918c 49.6%,#21908c 51.4%,#23898c 52.0%,#2c7389 52.6%,#42206a 53.7%,#450a5c 54.3%,#450457 56.1%,#46085b 74.2%,#453580 77.7%,#2f6b8e 85.9%,#1f9f88 94.0%,#30b47c 97.5%,#45bf70)"></i><i class="p0" style="top:799px;height:2px;background:linear-gradient(90deg,#440154,#440254 46.1%,#420a57 46.7%,#392c65 47.3%,#2b657b 47.9%,#238889 48.5%,#21918c 49.6%,#238b8c 52.0%,#2a788a 52.6%,#374f7f 53.2%,#41246c 53.7%,#450c5d 54.3%,#450457 55.5%,#450659 74.2%,#46337f 77.7%,#32658e 85.3%,#1f9f88 94.6%,#34b679 98.7%,#3cbb75)"></i><i class="p0" style="top:801px;height:2px;background:linear-gradient(90deg,#440154,#440254 46.1%,#420a57 46.7%,#392c65 47.3%,#2b667c 47.9%,#238889 48.5%,#21918c 49.6%,#228d8c 52.0%,#287d8a 52.6%,#355681 53.2%,#40296f 53.7%,#450e5f 54.3%,#450457 55.5%,#45075a 74.8%,#453480 78.3%,#30698e 86.4%,#1f9f88 95.2%,#33b67a)"></i><i class="p0" style="top:803px;height:2px;background:linear-gradient(90deg,#440154,#440255 46.1%,#430c5a 46.7%,#3a3169 47.3%,#2c687e 47.9%,#23898a 48.5%,#21918c 49.6%,#228e8c 52.0%,#27808b 52.6%,#335c83 53.2%,#3f2e71 53.7%,#441060 54.3%,#450659 54.9%,#46085b 75.4%,#453681 78.9%,#2e6d8e 87.6%,#20a287 96.4%,#2bb17e)"></i><i class="p0" style="top:805px;height:2px;background:linear-gradient(90deg,#440154,#440356 46.1%,#43115e 46.7%,#3b3870 47.3%,#2c6c82 47.9%,#238a8b 48.5%,#21918c 49.6%,#218e8c 52.0%,#26828b 52.6%,#316185 53.2%,#3e3474 53.7%,#441362 54.3%,#450659 54.9%,#450559 75.4%,#482373 77.7%,#433c84 80.0%,#287b8e 90.5%,#1fa287 97.0%,#26ac81)"></i><i class="p0" style="top:807px;height:2px;background:linear-gradient(90deg,#440154,#440456 46.1%,#431461 46.7%,#3a3e75 47.3%,#2c7085 47.9%,#238b8b 48.5%,#21918c 50.2%,#218f8c 52.0%,#25858c 52.6%,#2f6987 53.2%,#431865 54.3%,#45075a 54.9%,#45075a 75.9%,#453681 79.4%,#2f6c8e 88.2%,#1fa187 97.5%,#23a884)"></i><i class="p0" style="top:809px;height:2px;background:linear-gradient(90deg,#440154,#440557 46.1%,#421863 46.7%,#2b7487 47.9%,#238b8c 48.5%,#21908c 51.4%,#24888c 52.6%,#2d7089 53.2%,#421e68 54.3%,#45095b 54.9%,#450457 57.8%,#450558 75.9%,#48196b 77.7%,#45347f 79.4%,#31678e 87.6%,#1f9f88 97.5%,#21a685)"></i><i class="p0" style="top:811px;height:2px;background:linear-gradient(90deg,#440154,#440254 45.6%,#440657 46.1%,#401c64 46.7%,#2a7788 47.9%,#228c8c 48.5%,#21908c 52.0%,#238a8d 52.6%,#2a778a 53.2%,#36507f 53.7%,#41256c 54.3%,#450c5d 54.9%,#450457 56.1%,#46075b 76.5%,#453882 80.0%,#2d708e 89.4%,#1fa187 98.7%,#20a486)"></i><i class="p0" style="top:813px;height:2px;background:linear-gradient(90deg,#440154,#440254 45.6%,#430757 46.1%,#3f1f65 46.7%,#344f7b 47.3%,#287b89 47.9%,#228d8c 48.5%,#228d8c 52.6%,#287d8b 53.2%,#345882 53.7%,#402b6f 54.3%,#450f5f 54.9%,#450457 56.1%,#45065a 76.5%,#453781 80.0%,#2e6f8e 89.4%,#1fa088 98.7%,#20a387)"></i><i class="p0" style="top:815px;height:2px;background:linear-gradient(90deg,#440154,#440254 45.6%,#430757 46.1%,#3e2265 46.7%,#32547c 47.3%,#277e89 47.9%,#228e8c 48.5%,#228e8c 52.6%,#26818b 53.2%,#325f85 53.7%,#3f3374 54.3%,#441262 54.9%,#450659 55.5%,#450659 76.5%,#453781 80.0%,#2e6f8e 89.4%,#1fa088 98.7%,#20a387)"></i><i class="p0" style="top:817px;height:1px;background:linear-gradient(90deg,#440154,#440254 45.6%,#430857 46.1%,#3d2465 46.7%,#30587c 47.3%,#26808a 47.9%,#218e8c 48.5%,#218e8c 52.6%,#26838c 53.2%,#306687 53.7%,#431765 54.9%,#45075a 55.5%,#450659 76.5%,#453781 80.0%,#2e6f8e 89.4%,#1fa088 98.7%,#20a387)"></i><i class="p0" style="top:818px;height:1px;background:linear-gradient(90deg,#440154,#440254 45.6%,#430857 46.1%,#3c2665 46.7%,#2f5b7c 47.3%,#25828a 47.9%,#218e8c 48.5%,#218f8c 52.6%,#25858c 53.2%,#2f6b89 53.7%,#431b67 54.9%,#45085b 55.5%,#450457 64.8%,#450659 76.5%,#453781 80.0%,#2d6f8e 89.4%,#1fa088 98.7%,#20a387)"></i><i class="p0" style="top:819px;height:1px;background:linear-gradient(90deg,#440154,#440254 45.6%,#420857 46.1%,#3b2765 46.7%,#2e5d7c 47.3%,#25838a 47.9%,#218f8c 48.5%,#218f8c 52.6%,#24878c 53.2%,#2d708a 53.7%,#421f69 54.9%,#450a5c 55.5%,#450457 57.8%,#450659 76.5%,#453781 80.0%,#2d6f8e 89.4%,#1fa088 98.7%,#20a387)"></i><i class="p0" style="top:820px;height:2px;background:linear-gradient(90deg,#440154,#440254 45.6%,#420957 46.1%,#3b2965 46.7%,#2d607c 47.3%,#248589 47.9%,#218f8c 48.5%,#21908c 52.6%,#238a8d 53.2%,#2a778b 53.7%,#365180 54.3%,#40266d 54.9%,#450d5e 55.5%,#450457 56.7%,#45065a 76.5%,#453882 80.0%,#2d6f8e 89.4%,#1fa088 98.7%,#20a387)"></i><i class="p0" style="top:822px;height:1px;background:linear-gradient(90deg,#440154,#440254 45.6%,#420957 46.1%,#3a2a65 46.7%,#2d617c 47.3%,#248589 47.9%,#218f8c 48.5%,#228d8d 53.2%,#287e8b 53.7%,#335b83 54.3%,#3f2e72 54.9%,#441060 55.5%,#450659 56.1%,#45075a 76.5%,#443882 80.0%,#2d708e 89.4%,#1fa188 98.7%,#20a386)"></i><i class="p0" style="top:823px;height:1px;background:linear-gradient(90deg,#440154,#440254 45.6%,#420957 46.1%,#3a2a65 46.7%,#2d617c 47.3%,#248689 47.9%,#218f8c 48.5%,#228e8c 53.2%,#26828c 53.7%,#326186 54.3%,#3e3576 54.9%,#441463 55.5%,#450659 56.1%,#45075a 76.5%,#443882 80.0%,#2d708e 89.4%,#1fa187 98.7%,#20a486)"></i><i class="p0" style="top:824px;height:1px;background:linear-gradient(90deg,#440154,#440254 45.6%,#420957 46.1%,#3a2a65 46.7%,#2d627c 47.3%,#238689 47.9%,#218f8c 48.5%,#218f8c 53.2%,#25848c 53.7%,#306888 54.3%,#431865 55.5%,#45075a 56.1%,#45075a 76.5%,#443882 80.0%,#2d708e 89.4%,#1fa187 98.7%,#20a486)"></i><i class="p0" style="top:825px;height:1px;background:linear-gradient(90deg,#440154,#440254 45.6%,#420a58 46.1%,#3a2b67 46.7%,#2d637d 47.3%,#23868a 47.9%,#218f8c 48.5%,#218f8c 53.2%,#24878c 53.7%,#2d6e89 54.3%,#421d68 55.5%,#45095b 56.1%,#450457 60.7%,#46075a 76.5%,#443982 80.0%,#2c748e 90.0%,#1fa287 98.7%,#20a486)"></i><i class="p0" style="top:826px;height:1px;background:linear-gradient(90deg,#440154,#440355 45.6%,#430d5b 46.1%,#3b306b 46.7%,#2d6680 47.3%,#23878a 47.9%,#21918c 49.1%,#218f8c 53.2%,#23898d 53.7%,#2b748a 54.3%,#374e7f 54.9%,#41236a 55.5%,#440b5c 56.1%,#450457 57.8%,#46075a 76.5%,#443983 80.0%,#2b748e 90.0%,#20a287 98.7%,#21a586)"></i><i class="p0" style="top:827px;height:1px;background:linear-gradient(90deg,#440154,#440356 45.6%,#43105e 46.1%,#3c3670 46.7%,#2d6982 47.3%,#23888b 47.9%,#21918c 49.1%,#21908c 53.2%,#238b8d 53.7%,#297a8b 54.3%,#345681 54.9%,#402a6e 55.5%,#440e5e 56.1%,#450457 57.2%,#46075a 76.5%,#45347f 79.4%,#34608d 86.4%,#1f9f88 97.5%,#21a585)"></i><i class="p0" style="top:828px;height:1px;background:linear-gradient(90deg,#440154,#440456 45.6%,#431360 46.1%,#3b3a74 46.7%,#2d6c85 47.3%,#23898b 47.9%,#21918c 49.1%,#228d8d 53.7%,#277f8b 54.3%,#325e84 54.9%,#3f3173 55.5%,#441161 56.1%,#450659 56.7%,#46075a 76.5%,#453480 79.4%,#32648e 87.0%,#1f9f88 97.5%,#21a685)"></i><i class="p0" style="top:829px;height:1px;background:linear-gradient(90deg,#440154,#440557 45.6%,#431562 46.1%,#2d6f86 47.3%,#23898c 47.9%,#21918c 49.1%,#218e8c 53.7%,#26838c 54.3%,#306587 54.9%,#3d3977 55.5%,#441664 56.1%,#450759 56.7%,#46075a 76.5%,#453580 79.4%,#32648e 87.0%,#1fa088 97.5%,#21a685)"></i><i class="p0" style="top:830px;height:1px;background:linear-gradient(90deg,#440154,#440557 45.6%,#421863 46.1%,#2c7287 47.3%,#238a8c 47.9%,#21918c 49.6%,#218f8c 53.7%,#25868c 54.3%,#2e6c89 54.9%,#421b66 56.1%,#45085a 56.7%,#450457 75.4%,#460d60 77.1%,#453580 79.4%,#32658e 87.0%,#1fa088 97.5%,#22a785)"></i><i class="p0" style="top:831px;height:1px;background:linear-gradient(90deg,#440154,#440254 45.0%,#440657 45.6%,#411a64 46.1%,#2b7488 47.3%,#238b8c 47.9%,#21918c 50.2%,#218f8c 53.7%,#24888d 54.3%,#2b738a 54.9%,#374c7e 55.5%,#412169 56.1%,#440a5b 56.7%,#450457 58.4%,#46075b 76.5%,#453681 79.4%,#30698e 87.6%,#1fa188 97.5%,#22a784)"></i><i class="p0" style="top:832px;height:1px;background:linear-gradient(90deg,#440154,#440254 45.0%,#440657 45.6%,#401c64 46.1%,#374a7b 46.7%,#2a7689 47.3%,#238b8c 47.9%,#21918c 51.4%,#238b8d 54.3%,#297a8b 54.9%,#345581 55.5%,#40296d 56.1%,#440d5e 56.7%,#450457 57.8%,#46085b 76.5%,#453781 79.4%,#2f6c8e 88.2%,#1fa187 97.5%,#22a884)"></i><i class="p0" style="top:833px;height:1px;background:linear-gradient(90deg,#440154,#440254 45.0%,#430657 45.6%,#3f1e65 46.1%,#354d7b 46.7%,#297889 47.3%,#228c8c 47.9%,#21918c 53.2%,#228d8d 54.3%,#277f8b 54.9%,#325e84 55.5%,#3f3172 56.1%,#441161 56.7%,#450659 57.2%,#46085b 76.5%,#453781 79.4%,#30698e 87.6%,#1f9f88 97.0%,#23a984)"></i><i class="p0" style="top:834px;height:1px;background:linear-gradient(90deg,#440154,#440254 45.0%,#430757 45.6%,#3f1f65 46.1%,#344f7c 46.7%,#287a89 47.3%,#228c8c 47.9%,#21908c 53.7%,#218e8c 54.3%,#26838c 54.9%,#306687 55.5%,#431664 56.7%,#450759 57.2%,#46085b 76.5%,#443882 79.4%,#2e6d8e 88.2%,#1f9f88 97.0%,#23a983)"></i><i class="p0" style="top:835px;height:1px;background:linear-gradient(90deg,#440154,#440254 45.0%,#430757 45.6%,#3e2165 46.1%,#33527c 46.7%,#287b8a 47.3%,#228d8c 47.9%,#218f8c 54.3%,#24868c 54.9%,#2d6d89 55.5%,#421c67 56.7%,#44085a 57.2%,#450457 68.3%,#46085b 76.5%,#443882 79.4%,#2e6e8e 88.2%,#1fa088 97.0%,#24aa83)"></i><i class="p0" style="top:836px;height:1px;background:linear-gradient(90deg,#440154,#440254 45.0%,#430858 45.6%,#3d2266 46.1%,#32547c 46.7%,#277d8a 47.3%,#228d8c 47.9%,#218f8c 54.3%,#23898d 54.9%,#2b748a 55.5%,#364e7e 56.1%,#40236a 56.7%,#440b5c 57.2%,#450457 59.0%,#450558 75.9%,#471b6c 77.7%,#443982 79.4%,#2c718e 88.8%,#1fa188 97.0%,#24ab82)"></i><i class="p0" style="top:837px;height:1px;background:linear-gradient(90deg,#440154,#440255 45.0%,#430959 45.6%,#3d2568 46.1%,#31587e 46.7%,#267f8a 47.3%,#228d8c 47.9%,#21908c 54.3%,#238b8d 54.9%,#287b8b 55.5%,#345882 56.1%,#3f2c6f 56.7%,#440f5f 57.2%,#450558 57.8%,#450559 75.9%,#471c6d 77.7%,#443a83 79.4%,#2b758e 89.4%,#1fa187 97.0%,#25ab82)"></i><i class="p0" style="top:838px;height:1px;background:linear-gradient(90deg,#440154,#440355 45.0%,#430c5b 45.6%,#3e2b6c 46.1%,#315c80 46.7%,#26808b 47.3%,#228e8c 47.9%,#228d8d 54.9%,#27808c 55.5%,#316186 56.1%,#3e3676 56.7%,#441463 57.2%,#450659 57.8%,#450659 75.9%,#471e6f 77.7%,#443b83 79.4%,#2b768e 89.4%,#20a287 97.0%,#26ac82)"></i><i class="p0" style="top:839px;height:1px;background:linear-gradient(90deg,#440154,#440356 45.0%,#440f5e 45.6%,#3d3070 46.1%,#306182 46.7%,#26828b 47.3%,#218e8c 47.9%,#218e8d 54.9%,#25848c 55.5%,#2f6a89 56.1%,#421b66 57.2%,#45085a 57.8%,#450457 74.8%,#460b5e 76.5%,#453580 78.9%,#34618d 85.9%,#1f9f88 96.4%,#26ad81)"></i><i class="p0" style="top:840px;height:1px;background:linear-gradient(90deg,#440154,#440456 45.0%,#431160 45.6%,#3d3573 46.1%,#306584 46.7%,#25848b 47.3%,#218e8c 47.9%,#218f8c 54.9%,#24878d 55.5%,#2c728a 56.1%,#374d7f 56.7%,#41236b 57.2%,#440b5c 57.8%,#450457 59.6%,#45075a 75.9%,#453681 78.9%,#30698e 87.0%,#1fa088 96.4%,#27ad81)"></i><i class="p0" style="top:841px;height:1px;background:linear-gradient(90deg,#440154,#440456 45.0%,#431361 45.6%,#3c3975 46.1%,#2f6886 46.7%,#25858c 47.3%,#21908c 48.5%,#218f8c 54.9%,#23898d 55.5%,#2a788c 56.1%,#355783 56.7%,#402d71 57.2%,#441060 57.8%,#450659 58.4%,#46085b 75.9%,#443882 78.9%,#2e6d8e 87.6%,#1fa187 96.4%,#28ae80)"></i><i class="p0" style="top:842px;height:1px;background:linear-gradient(90deg,#440154,#440557 45.0%,#431562 45.6%,#2e6c87 46.7%,#24878c 47.3%,#21908c 48.5%,#21908c 54.9%,#238b8d 55.5%,#287d8c 56.1%,#326087 56.7%,#441664 57.8%,#45075a 58.4%,#450558 75.4%,#471c6d 77.1%,#443982 78.9%,#2b758e 88.8%,#20a187 96.4%,#29af80)"></i><i class="p0" style="top:843px;height:1px;background:linear-gradient(90deg,#440154,#440557 45.0%,#421763 45.6%,#2d6f88 46.7%,#24888c 47.3%,#21908c 48.5%,#228c8d 55.5%,#27818d 56.1%,#2f698a 56.7%,#421d68 57.8%,#45095b 58.4%,#450457 61.9%,#450659 75.4%,#471f70 77.1%,#443a83 78.9%,#2a798e 89.4%,#20a287 96.4%,#2ab07f)"></i><i class="p0" style="top:844px;height:1px;background:linear-gradient(90deg,#440154,#440254 44.4%,#440557 45.0%,#411964 45.6%,#2c7088 46.7%,#24888c 47.3%,#21908c 48.5%,#228d8d 55.5%,#25848d 56.1%,#2d708b 56.7%,#374e81 57.2%,#41276e 57.8%,#450e5e 58.4%,#450457 59.6%,#45075a 75.4%,#453580 78.3%,#31688e 86.4%,#1f9f88 95.8%,#2bb07e)"></i><i class="p0" style="top:845px;height:1px;background:linear-gradient(90deg,#440154,#440254 44.4%,#440657 45.0%,#411a64 45.6%,#2c7289 46.7%,#23898c 47.3%,#21918c 49.1%,#218e8d 55.5%,#24878d 56.1%,#2b758c 56.7%,#355886 57.2%,#441363 58.4%,#450659 59.0%,#450558 74.8%,#47196b 76.5%,#453781 78.3%,#2f6c8e 87.0%,#1fa088 95.8%,#2cb17e)"></i><i class="p0" style="top:846px;height:1px;background:linear-gradient(90deg,#440154,#440254 44.4%,#440657 45.0%,#401c65 45.6%,#37497b 46.1%,#2b7489 46.7%,#23898c 47.3%,#21918c 49.1%,#218f8d 55.5%,#23898d 56.1%,#297a8d 56.7%,#336089 57.2%,#431a67 58.4%,#45085b 59.0%,#450457 67.8%,#450659 74.8%,#481c6e 76.5%,#443882 78.3%,#2c738e 88.2%,#1fa187 95.8%,#2db27d)"></i><i class="p0" style="top:847px;height:1px;background:linear-gradient(90deg,#440154,#440254 44.4%,#440758 45.0%,#401e66 45.6%,#364b7c 46.1%,#2a758a 46.7%,#238a8d 47.3%,#21918c 49.1%,#218f8c 55.5%,#238a8d 56.1%,#287d8d 56.7%,#30678b 57.2%,#3a4780 57.8%,#42236d 58.4%,#450c5e 59.0%,#450457 60.2%,#45075a 74.8%,#443983 78.3%,#2a788e 88.8%,#20a287 95.8%,#2eb37d)"></i><i class="p0" style="top:848px;height:1px;background:linear-gradient(90deg,#440154,#440255 44.4%,#440a5a 45.0%,#40236a 45.6%,#36507f 46.1%,#2a778a 46.7%,#238a8d 47.3%,#21918c 49.6%,#21908c 55.5%,#277f8d 56.7%,#2f6c8c 57.2%,#385084 57.8%,#451162 59.0%,#450659 59.6%,#46085b 74.8%,#453580 77.7%,#306a8e 86.4%,#1f9f88 95.2%,#2fb47c)"></i><i class="p0" style="top:849px;height:1px;background:linear-gradient(90deg,#440154,#440355 44.4%,#440c5c 45.0%,#40286d 45.6%,#355381 46.1%,#29798b 46.7%,#238b8d 47.3%,#21918c 50.2%,#228c8d 56.1%,#2d708d 57.2%,#365888 57.8%,#441866 59.0%,#45085a 59.6%,#450559 74.2%,#481b6c 75.9%,#453681 77.7%,#2e6e8e 87.0%,#1fa088 95.2%,#30b47b)"></i><i class="p0" style="top:850px;height:1px;background:linear-gradient(90deg,#440154,#440356 44.4%,#440e5e 45.0%,#402b70 45.6%,#355783 46.1%,#297a8b 46.7%,#238b8d 47.3%,#21918c 50.8%,#228d8d 56.1%,#2c748d 57.2%,#345e8a 57.8%,#43206c 59.0%,#450b5d 59.6%,#450457 60.7%,#450659 74.2%,#472877 76.5%,#423f85 78.9%,#24888e 91.1%,#20a486 95.8%,#31b57b)"></i><i class="p0" style="top:851px;height:1px;background:linear-gradient(90deg,#440154,#440456 44.4%,#44105f 45.0%,#3f2f72 45.6%,#345a84 46.1%,#287c8c 46.7%,#238b8d 47.3%,#21918c 52.0%,#228d8d 56.1%,#2b768e 57.2%,#3b4983 58.4%,#451061 59.6%,#450659 60.2%,#46075b 74.2%,#46337f 77.1%,#34608d 84.7%,#1f9e89 94.6%,#33b67a)"></i><i class="p0" style="top:852px;height:1px;background:linear-gradient(90deg,#440154,#440456 44.4%,#441160 45.0%,#3f3374 45.6%,#335d85 46.1%,#287d8c 46.7%,#228b8d 47.3%,#21918c 53.2%,#228e8d 56.1%,#2a788e 57.2%,#3a5087 58.4%,#441665 59.6%,#45085a 60.2%,#450558 73.6%,#48196b 75.4%,#453480 77.1%,#30688e 85.9%,#1f9e88 94.6%,#34b779)"></i><i class="p0" style="top:853px;height:1px;background:linear-gradient(90deg,#440154,#440457 44.4%,#431361 45.0%,#326086 46.1%,#277e8c 46.7%,#228c8d 47.3%,#21918c 54.3%,#218e8d 56.1%,#297a8e 57.2%,#385689 58.4%,#441e6b 59.6%,#450b5d 60.2%,#450457 61.9%,#450659 73.6%,#472676 75.9%,#433e85 78.3%,#24868e 90.5%,#21a685 95.8%,#35b778)"></i><i class="p0" style="top:854px;height:1px;background:linear-gradient(90deg,#440154,#440557 44.4%,#431462 45.0%,#316387 46.1%,#277f8c 46.7%,#228c8d 47.3%,#21908c 55.5%,#24888d 56.7%,#365a8a 58.4%,#442571 59.6%,#450f60 60.2%,#450457 61.3%,#45075a 73.6%,#453681 77.1%,#2d718e 87.0%,#1fa088 94.6%,#37b878)"></i><i class="p0" style="top:855px;height:1px;background:linear-gradient(90deg,#440154,#440557 44.4%,#431663 45.0%,#316588 46.1%,#27818d 46.7%,#228d8d 47.3%,#218f8d 56.1%,#287d8e 57.2%,#3d4885 59.0%,#451464 60.2%,#45075a 60.7%,#46085b 73.6%,#46327f 76.5%,#33638d 84.7%,#1fa088 94.6%,#38b977)"></i><i class="p0" style="top:856px;height:1px;background:linear-gradient(90deg,#440154,#440557 44.4%,#421764 45.0%,#306888 46.1%,#26828d 46.7%,#21908c 47.9%,#218f8d 56.1%,#277e8e 57.2%,#3b4e88 59.0%,#451b6a 60.2%,#450a5d 60.7%,#450457 63.1%,#450558 73.0%,#48196b 74.8%,#453480 76.5%,#31678e 85.3%,#1fa187 94.6%,#39ba76)"></i><i class="p0" style="top:857px;height:1px;background:linear-gradient(90deg,#440154,#440254 43.8%,#440658 44.4%,#421a65 45.0%,#2f6a89 46.1%,#26838d 46.7%,#21908c 47.9%,#218f8d 56.1%,#277f8e 57.2%,#3a5389 59.0%,#442370 60.2%,#450e60 60.7%,#450457 61.9%,#450659 73.0%,#481c6d 74.8%,#453681 76.5%,#2f6c8e 85.9%,#20a287 94.6%,#3bba75)"></i><i class="p0" style="top:858px;height:1px;background:linear-gradient(90deg,#440154,#440255 43.8%,#44085a 44.4%,#421e69 45.0%,#3a467d 45.6%,#2e6d8a 46.1%,#25848d 46.7%,#21908c 47.9%,#218f8d 56.1%,#27818e 57.2%,#38568b 59.0%,#442a75 60.2%,#451364 60.7%,#45075a 61.3%,#450659 73.0%,#443882 76.5%,#2b758e 87.0%,#20a287 94.6%,#3cbb75)"></i><i class="p0" style="top:859px;height:1px;background:linear-gradient(90deg,#440154,#440355 43.8%,#440a5c 44.4%,#42226c 45.0%,#394a7f 45.6%,#2d708b 46.1%,#25858d 46.7%,#21908c 47.9%,#218f8d 56.1%,#26828e 57.2%,#3d4987 59.6%,#451a69 60.7%,#450a5c 61.3%,#450457 64.3%,#46075b 73.0%,#453680 75.9%,#32658e 84.1%,#1f9f88 94.0%,#33b67a 98.1%,#3ebc74)"></i><i class="p0" style="top:860px;height:1px;background:linear-gradient(90deg,#440154,#440356 43.8%,#440c5d 44.4%,#42266e 45.0%,#384e81 45.6%,#2c728b 46.1%,#25868d 46.7%,#21908c 47.9%,#21908d 56.1%,#26838e 57.2%,#3b4f89 59.6%,#452270 60.7%,#450e60 61.3%,#450457 62.5%,#46085b 73.0%,#443982 75.9%,#2d718e 85.9%,#1fa088 94.0%,#33b67a 98.1%,#3fbc73)"></i><i class="p0" style="top:861px;height:1px;background:linear-gradient(90deg,#440154,#440356 43.8%,#440e5e 44.4%,#412a71 45.0%,#375283 45.6%,#2b748b 46.1%,#24878d 46.7%,#20918c 48.5%,#228c8d 56.7%,#3a538a 59.6%,#442b75 60.7%,#451364 61.3%,#45075a 61.9%,#450559 72.4%,#471d6e 74.2%,#433c84 75.9%,#287d8e 87.6%,#20a486 94.6%,#40bd73)"></i><i class="p0" style="top:862px;height:1px;background:linear-gradient(90deg,#440154,#440456 43.8%,#441060 44.4%,#412d73 45.0%,#365584 45.6%,#2b768c 46.1%,#24878d 46.7%,#20918c 48.5%,#228c8d 56.7%,#38588b 59.6%,#42347b 60.7%,#451b6a 61.3%,#450a5d 61.9%,#450457 64.3%,#450659 72.4%,#472272 74.2%,#424086 75.9%,#25858e 88.8%,#20a486 94.6%,#39ba76 98.7%,#41be72)"></i><i class="p0" style="top:863px;height:1px;background:linear-gradient(90deg,#440154,#440456 43.8%,#441161 44.4%,#403075 45.0%,#365885 45.6%,#2a788c 46.1%,#24888d 46.7%,#20918c 48.5%,#228c8d 56.7%,#3b4f89 60.2%,#442471 61.3%,#450f61 61.9%,#450457 63.1%,#45075a 72.4%,#472675 74.2%,#414487 75.9%,#228c8d 90.0%,#23a884 95.2%,#42be71)"></i><i class="p0" style="top:864px;height:1px;background:linear-gradient(90deg,#440154,#440457 43.8%,#441362 44.4%,#355b86 45.6%,#2a798c 46.1%,#23898d 46.7%,#20928c 48.5%,#228d8d 56.7%,#39548b 60.2%,#432f78 61.3%,#451666 61.9%,#45085a 62.5%,#450558 71.8%,#471163 73.0%,#414286 75.4%,#25858e 88.2%,#21a585 94.6%,#43bf71)"></i><i class="p0" style="top:865px;height:1px;background:linear-gradient(90deg,#440154,#440557 43.8%,#431462 44.4%,#345d87 45.6%,#297a8d 46.1%,#23898d 46.7%,#20928c 48.5%,#228d8d 56.7%,#3c4d88 60.7%,#450d5f 62.5%,#450458 63.7%,#450659 71.8%,#471567 73.0%,#423d84 74.8%,#3b528b 77.1%,#1f9a8a 92.3%,#29af7f 96.4%,#44bf70)"></i><i class="p0" style="top:866px;height:1px;background:linear-gradient(90deg,#440154,#440255 43.2%,#440658 43.8%,#431765 44.4%,#336088 45.6%,#297c8d 46.1%,#218f8c 47.3%,#228d8d 56.7%,#3a528a 60.7%,#3f4484 61.3%,#451566 62.5%,#45095c 63.1%,#46085c 71.8%,#471a6b 73.0%,#414386 74.8%,#38578c 77.7%,#1f9b8a 92.3%,#2ab07f 96.4%,#45bf70)"></i><i class="p0" style="top:867px;height:1px;background:linear-gradient(90deg,#440154,#440255 43.2%,#45085a 43.8%,#431b68 44.4%,#326389 45.6%,#287d8d 46.1%,#21908c 47.3%,#228e8d 56.7%,#3c4c88 61.3%,#461162 63.1%,#460a5d 64.8%,#470d60 71.8%,#452f7b 73.6%,#3c4f8a 75.4%,#1f978b 91.1%,#28ae80 95.8%,#46c06f)"></i><i class="p0" style="top:868px;height:1px;background:linear-gradient(90deg,#440154,#440355 43.2%,#450a5b 43.8%,#431f6b 44.4%,#31658a 45.6%,#287e8d 46.1%,#21908c 47.3%,#218e8d 56.7%,#3a538b 61.3%,#3e4685 61.9%,#461c6b 63.1%,#471062 64.3%,#471063 71.3%,#471d6e 72.4%,#404486 74.2%,#39568c 75.9%,#1f9b8a 91.7%,#29ae80 95.8%,#47c06f)"></i><i class="p0" style="top:869px;height:1px;background:linear-gradient(90deg,#440154,#440355 43.2%,#450b5d 43.8%,#43226d 44.4%,#3c4580 45.0%,#30678a 45.6%,#277f8d 46.1%,#21908c 47.3%,#218e8d 56.7%,#3b4f89 61.9%,#471c6c 63.7%,#481568 68.3%,#481769 71.3%,#45327d 73.0%,#3b518b 74.8%,#1f9a8a 91.1%,#2aaf7f 95.8%,#49c16d)"></i><i class="p0" style="top:870px;height:1px;background:linear-gradient(90deg,#440154,#440356 43.2%,#450d5e 43.8%,#43256f 44.4%,#3b4881 45.0%,#306a8b 45.6%,#27808d 46.1%,#21918c 47.3%,#218e8d 56.7%,#3c4c88 62.5%,#462976 63.7%,#481e6f 64.8%,#482071 71.3%,#3b508a 74.2%,#1f988a 90.5%,#28ae80 95.2%,#4cc26c)"></i><i class="p0" style="top:871px;height:1px;background:linear-gradient(90deg,#440154,#440356 43.2%,#450e5f 43.8%,#422871 44.4%,#3a4b83 45.0%,#2f6c8b 45.6%,#27818d 46.1%,#21918c 47.3%,#218e8d 56.7%,#39548b 62.5%,#462c79 64.3%,#482575 67.8%,#472a79 71.3%,#3a548b 74.2%,#1f9a8a 90.5%,#29af80 95.2%,#4ec36b)"></i><i class="p0" style="top:872px;height:1px;background:linear-gradient(90deg,#440154,#440456 43.2%,#440f60 43.8%,#422a73 44.4%,#394e84 45.0%,#2e6e8c 45.6%,#26828d 46.1%,#21918c 47.3%,#218f8d 56.7%,#3a548b 63.1%,#46317d 64.8%,#462f7d 70.7%,#38588c 74.2%,#1f9e89 91.1%,#2ab07f 95.2%,#51c469)"></i><i class="p0" style="top:873px;height:1px;background:linear-gradient(90deg,#440154,#440456 43.2%,#441060 43.8%,#385185 45.0%,#2d708c 45.6%,#26838d 46.1%,#20948c 47.9%,#218f8d 56.7%,#365b8d 62.5%,#3a548b 63.7%,#443882 65.4%,#453781 70.1%,#375a8c 74.2%,#1f9d89 90.5%,#2cb17e 95.2%,#55c667)"></i><i class="p0" style="top:874px;height:1px;background:linear-gradient(90deg,#440154,#440457 43.2%,#441261 43.8%,#375486 45.0%,#2d728c 45.6%,#25848d 46.1%,#20948c 47.9%,#228c8d 57.2%,#355e8d 62.5%,#39558b 64.3%,#424086 66.0%,#424186 70.1%,#34618d 75.4%,#1fa088 91.1%,#2eb37c 95.2%,#59c764)"></i><i class="p0" style="top:875px;height:1px;background:linear-gradient(90deg,#440154,#440557 43.2%,#441463 43.8%,#375787 45.0%,#2c738d 45.6%,#25848d 46.1%,#1f948c 47.9%,#228d8d 57.2%,#34608d 62.5%,#39568c 64.8%,#3f4888 66.6%,#3e4a89 70.1%,#20948c 87.6%,#26ac82 93.5%,#4dc36b 98.1%,#5fc961)"></i><i class="p0" style="top:876px;height:1px;background:linear-gradient(90deg,#440154,#440255 42.6%,#440659 43.2%,#441665 43.8%,#365987 45.0%,#2b758d 45.6%,#228d8d 46.7%,#1f958b 49.1%,#228e8d 57.2%,#34608d 63.1%,#3a548b 66.0%,#3b518b 69.5%,#1f988b 88.2%,#28ae80 93.5%,#52c568 98.1%,#66cc5d)"></i><i class="p0" style="top:877px;height:1px;background:linear-gradient(90deg,#440154,#440255 42.6%,#45085a 43.2%,#441a68 43.8%,#355c88 45.0%,#2b778d 45.6%,#228d8d 46.7%,#1f968b 49.1%,#218f8d 57.2%,#33638d 63.1%,#39568c 68.9%,#31668e 75.4%,#1fa187 90.0%,#2eb37c 94.0%,#6dce59)"></i><i class="p0" style="top:878px;height:1px;background:linear-gradient(90deg,#440154,#440255 42.6%,#45095b 43.2%,#441c6a 43.8%,#345e89 45.0%,#2a788d 45.6%,#218e8d 46.7%,#1f968b 49.1%,#21908c 57.2%,#32658e 63.1%,#365d8d 70.1%,#33648d 74.2%,#1fa187 89.4%,#2db27d 93.5%,#60ca61 98.1%,#74d054)"></i><i class="p0" style="top:879px;height:1px;background:linear-gradient(90deg,#440154,#440355 42.6%,#450a5c 43.2%,#441f6c 43.8%,#33608a 45.0%,#297a8d 45.6%,#218e8d 46.7%,#1f978b 49.1%,#20918c 57.2%,#32658e 63.7%,#34618d 73.0%,#1fa088 88.8%,#31b57b 93.5%,#70cf57 98.7%,#7dd24f)"></i><i class="p0" style="top:880px;height:1px;background:linear-gradient(90deg,#440154,#440356 42.6%,#450b5d 43.2%,#44216e 43.8%,#33628a 45.0%,#297a8d 45.6%,#218e8d 46.7%,#1f978b 49.1%,#218f8d 57.8%,#31678e 63.7%,#33638d 73.0%,#1fa088 88.2%,#30b47b 92.9%,#67cc5c 97.5%,#87d549)"></i><i class="p0" style="top:881px;height:1px;background:linear-gradient(90deg,#440154,#440356 42.6%,#450d5e 43.2%,#44246f 43.8%,#3d4481 44.4%,#32648b 45.0%,#297b8d 45.6%,#218f8d 46.7%,#1f988b 49.1%,#20918c 57.8%,#30698e 63.7%,#32648e 73.0%,#1fa088 87.6%,#30b47b 92.3%,#67cc5c 97.0%,#92d742)"></i><i class="p0" style="top:882px;height:1px;background:linear-gradient(90deg,#440154,#440356 42.6%,#450e5f 43.2%,#432671 43.8%,#3c4782 44.4%,#31668b 45.0%,#297c8d 45.6%,#218f8c 46.7%,#1f988b 49.1%,#20938c 57.8%,#2f6b8e 63.7%,#31668e 73.0%,#20a287 87.6%,#34b779 92.3%,#70cf57 97.0%,#9dd93b)"></i><i class="p0" style="top:883px;height:1px;background:linear-gradient(90deg,#440154,#440456 42.6%,#450e5f 43.2%,#3b4983 44.4%,#31678b 45.0%,#287c8d 45.6%,#20948b 47.3%,#1f988b 54.9%,#21918c 58.4%,#2f6c8e 64.3%,#31688e 73.0%,#1fa287 87.0%,#33b67a 91.7%,#70cf57 96.4%,#a8db33)"></i><i class="p0" style="top:884px;height:1px;background:linear-gradient(90deg,#440154,#440456 42.6%,#440f60 43.2%,#3b4b84 44.4%,#30698c 45.0%,#287d8e 45.6%,#20948b 47.3%,#1f998a 53.2%,#20928c 58.4%,#2e6e8e 64.3%,#30698e 73.0%,#1fa187 86.4%,#33b67a 91.1%,#67cc5c 95.2%,#b4dd2c)"></i><i class="p0" style="top:885px;height:1px;background:linear-gradient(90deg,#440154,#440457 42.6%,#441161 43.2%,#3a4d85 44.4%,#306a8c 45.0%,#287e8e 45.6%,#20958b 47.3%,#1f9a8a 53.7%,#20948c 58.4%,#2d708e 64.3%,#2f6b8e 73.0%,#1fa188 85.9%,#33b67a 90.5%,#5dc962 94.0%,#bedf26)"></i><i class="p0" style="top:886px;height:1px;background:linear-gradient(90deg,#440154,#440558 42.6%,#451363 43.2%,#395086 44.4%,#2f6c8c 45.0%,#287e8e 45.6%,#20958b 47.3%,#1e9b8a 52.6%,#1f968b 58.4%,#2c728e 64.3%,#2f6d8e 73.0%,#20a387 85.9%,#37b878 90.5%,#6fce58 94.6%,#c8e020)"></i><i class="p0" style="top:887px;height:1px;background:linear-gradient(90deg,#440154,#440255 42.1%,#450659 42.6%,#451565 43.2%,#395286 44.4%,#2f6d8c 45.0%,#23898d 46.1%,#1f9b8a 48.5%,#1f978b 58.4%,#2c728e 64.8%,#2e6e8e 73.0%,#20a287 85.3%,#36b878 90.0%,#6ece58 94.0%,#cce11f 99.3%,#d2e11c)"></i><i class="p0" style="top:888px;height:1px;background:linear-gradient(90deg,#440154,#440255 42.1%,#45075a 42.6%,#451867 43.2%,#385487 44.4%,#2e6e8d 45.0%,#23898d 46.1%,#1f9b8a 48.5%,#1f998a 58.4%,#2b748e 64.8%,#2d6f8e 73.0%,#1fa187 84.7%,#35b778 89.4%,#62ca5f 92.9%,#cce11e 98.7%,#dbe319)"></i><i class="p0" style="top:889px;height:1px;background:linear-gradient(90deg,#440154,#440255 42.1%,#45085b 42.6%,#451a69 43.2%,#375688 44.4%,#2e6f8d 45.0%,#23898d 46.1%,#1f9b8a 48.5%,#1f9a8a 58.4%,#2b758e 64.8%,#2d718e 73.0%,#20a386 84.7%,#39b977 89.4%,#6acd5b 92.9%,#d5e21b 98.7%,#e1e319)"></i><i class="p0" style="top:890px;height:1px;background:linear-gradient(90deg,#440154,#440355 42.1%,#45095b 42.6%,#451c6a 43.2%,#375888 44.4%,#2d718d 45.0%,#238a8d 46.1%,#1e9b8a 48.5%,#1f9b8a 58.4%,#2a778e 64.8%,#2c728e 73.0%,#20a287 84.1%,#33b67a 88.2%,#54c567 91.1%,#d4e21c 98.1%,#e8e41a)"></i><i class="p0" style="top:891px;height:1px;background:linear-gradient(90deg,#440154,#440355 42.1%,#450a5c 42.6%,#451e6c 43.2%,#365a89 44.4%,#2d728d 45.0%,#238a8d 46.1%,#1e9c89 48.5%,#1f9c89 58.4%,#2a788e 64.8%,#2c748e 73.0%,#20a486 84.1%,#36b878 88.2%,#5ac764 91.1%,#d3e21c 97.5%,#ede51b)"></i><i class="p0" style="top:892px;height:1px;background:linear-gradient(90deg,#440154,#440356 42.1%,#450b5d 42.6%,#44206d 43.2%,#365b89 44.4%,#2c738d 45.0%,#238a8d 46.1%,#1e9c89 48.5%,#1f9d89 58.4%,#29798e 65.4%,#2b758e 73.0%,#20a287 83.5%,#34b679 87.6%,#56c666 90.5%,#cfe11d 97.0%,#ede51c 99.3%,#f1e61d)"></i><i class="p0" style="top:893px;height:2px;background:linear-gradient(90deg,#440154,#440356 42.1%,#450c5e 42.6%,#44226f 43.2%,#355e8a 44.4%,#2c748d 45.0%,#238a8d 46.1%,#1e9c89 48.5%,#1f9e89 58.4%,#297b8e 65.4%,#2a778e 73.0%,#20a486 83.5%,#37b877 87.6%,#5cc863 90.5%,#d7e21b 97.0%,#f5e61f)"></i><i class="p0" style="top:895px;height:2px;background:linear-gradient(90deg,#440154,#440356 42.1%,#450e5f 42.6%,#3d4482 43.8%,#2b768d 45.0%,#21908c 46.7%,#1e9d89 49.1%,#1f9f88 58.4%,#287d8e 65.4%,#2a778e 72.4%,#20a386 82.9%,#36b878 87.0%,#5ac864 90.0%,#d6e21b 96.4%,#f4e61f 99.3%,#f7e620)"></i><i class="p0" style="top:897px;height:2px;background:linear-gradient(90deg,#440154,#440457 42.1%,#451061 42.6%,#3c4883 43.8%,#2b778e 45.0%,#1f968b 47.3%,#1f9e89 52.0%,#1f9f88 58.4%,#277f8e 65.4%,#29798e 72.4%,#20a287 82.4%,#35b779 86.4%,#57c666 89.4%,#d4e21c 95.8%,#eae51a 97.5%,#f9e621)"></i><i class="p0" style="top:899px;height:2px;background:linear-gradient(90deg,#440154,#440255 41.5%,#450658 42.1%,#451364 42.6%,#3b4b85 43.8%,#2a788e 45.0%,#1f968b 47.3%,#1fa088 53.7%,#1f9d89 59.0%,#26818e 66.0%,#297b8e 72.4%,#20a486 82.4%,#38b977 86.4%,#5dc962 89.4%,#d1e11d 95.2%,#eae51a 97.0%,#f9e722)"></i><i class="p0" style="top:901px;height:2px;background:linear-gradient(90deg,#440154,#440255 41.5%,#45075a 42.1%,#451767 42.6%,#3a4e86 43.8%,#2a788e 45.0%,#1f968b 47.3%,#1fa088 53.7%,#1f9d89 59.0%,#25838e 66.0%,#287d8e 72.4%,#20a386 81.8%,#37b878 85.9%,#5ac764 88.8%,#cee11e 94.6%,#eae41a 96.4%,#fae722)"></i><i class="p0" style="top:903px;height:2px;background:linear-gradient(90deg,#440154,#440255 41.5%,#45095b 42.1%,#451a69 42.6%,#395287 43.8%,#29798e 45.0%,#1f998a 47.9%,#1fa088 58.4%,#25858e 66.6%,#27808e 72.4%,#21a585 81.8%,#3aba76 85.9%,#60ca61 88.8%,#d7e21b 94.6%,#ede51b 96.4%,#fae722)"></i><i class="p0" style="top:905px;height:2px;background:linear-gradient(90deg,#440154,#440355 41.5%,#450a5c 42.1%,#451d6c 42.6%,#385588 43.8%,#297a8e 45.0%,#1f998a 47.9%,#1fa287 57.8%,#24868e 67.2%,#26828e 72.4%,#20a486 81.2%,#38b977 85.3%,#5cc863 88.2%,#d4e21c 94.0%,#eee51b 95.8%,#fce724)"></i><i class="p0" style="top:907px;height:2px;background:linear-gradient(90deg,#440154,#440356 41.5%,#450c5d 42.1%,#403c7f 43.2%,#2e6d8d 44.4%,#26838e 45.6%,#1f9b8a 48.5%,#1fa287 57.8%,#24868e 68.3%,#25848e 72.4%,#21a685 81.2%,#3bbb75 85.3%,#62ca5f 88.2%,#d1e11d 93.5%,#eee51c 95.2%,#fce724)"></i><i class="p0" style="top:909px;height:2px;background:linear-gradient(90deg,#440154,#440356 41.5%,#450d5e 42.1%,#3f3f81 43.2%,#2e6f8d 44.4%,#23898d 46.1%,#1f9a8a 48.5%,#1fa287 57.8%,#25848e 70.7%,#20a486 80.6%,#39b976 84.7%,#5dc962 87.6%,#cde11f 92.9%,#ede51c 94.6%,#fce724)"></i><i class="p0" style="top:911px;height:2px;background:linear-gradient(90deg,#440154,#440457 41.5%,#450f60 42.1%,#3e4382 43.2%,#2d708e 44.4%,#218f8c 46.7%,#1e9b8a 49.6%,#1fa287 57.8%,#24868e 71.8%,#21a685 80.6%,#3cbb75 84.7%,#63cb5f 87.6%,#d6e21c 92.9%,#f2e61d 94.6%,#fde724)"></i><i class="p0" style="top:913px;height:2px;background:linear-gradient(90deg,#440154,#450558 41.5%,#451263 42.1%,#3d4684 43.2%,#2d718e 44.4%,#20948c 47.3%,#20a386 57.2%,#23888e 71.8%,#21a486 80.0%,#3aba76 84.1%,#5ec962 87.0%,#d2e11d 92.3%,#f1e51d 94.0%,#fde725)"></i><i class="p0" style="top:915px;height:2px;background:linear-gradient(90deg,#440154,#440255 40.9%,#450759 41.5%,#451565 42.1%,#3d4985 43.2%,#2d718e 44.4%,#20948c 47.3%,#20a386 57.2%,#238a8d 71.8%,#21a685 80.0%,#3dbb74 84.1%,#63cb5f 87.0%,#cde11f 91.7%,#f0e51d 93.5%,#fde725)"></i><i class="p0" style="top:917px;height:2px;background:linear-gradient(90deg,#440154,#440255 40.9%,#45085a 41.5%,#451868 42.1%,#3c4b86 43.2%,#2d728e 44.4%,#20938c 47.3%,#20a486 56.7%,#228c8d 71.8%,#22a784 80.0%,#3fbd73 84.1%,#5dc962 86.4%,#d6e21c 91.7%,#f5e61f 93.5%,#fde725)"></i><i class="p0" style="top:919px;height:2px;background:linear-gradient(90deg,#440154,#440355 40.9%,#45095b 41.5%,#451a6a 42.1%,#3b4e87 43.2%,#2c728e 44.4%,#20938c 47.3%,#21a586 56.7%,#218e8d 71.8%,#21a585 79.4%,#3cbb75 83.5%,#62ca5f 86.4%,#d1e11e 91.1%,#f4e61f 92.9%,#fde725)"></i><i class="p0" style="top:921px;height:2px;background:linear-gradient(90deg,#440154,#440355 40.9%,#450a5c 41.5%,#42377d 42.6%,#32658d 43.8%,#297b8e 45.0%,#1f968b 47.9%,#21a586 56.7%,#218f8d 71.8%,#22a785 79.4%,#3fbc73 83.5%,#5cc863 85.9%,#cae120 90.5%,#f2e61e 92.3%,#fbe723 94.6%,#fde725)"></i><i class="p0" style="top:923px;height:2px;background:linear-gradient(90deg,#440154,#440356 40.9%,#450b5d 41.5%,#41397e 42.6%,#31678d 43.8%,#26828e 45.6%,#1f978b 48.5%,#21a585 56.7%,#20918c 71.8%,#23a884 79.4%,#41be72 83.5%,#60ca60 85.9%,#d3e21d 90.5%,#f7e621 92.3%,#fde725)"></i><i class="p0" style="top:925px;height:2px;background:linear-gradient(90deg,#440154,#440356 40.9%,#450c5e 41.5%,#413c7f 42.6%,#31688d 43.8%,#24888d 46.1%,#1f988b 49.1%,#21a685 56.1%,#1f968b 67.8%,#20928c 71.8%,#24a983 79.4%,#44bf70 83.5%,#65cb5d 85.9%,#cde11f 90.0%,#f4e620 91.7%,#fde725 95.8%,#fde725)"></i><i class="p0" style="top:927px;height:2px;background:linear-gradient(90deg,#440154,#440457 40.9%,#450e60 41.5%,#403e81 42.6%,#30698d 43.8%,#228d8d 46.7%,#22a785 55.5%,#1f9a8a 66.6%,#20948c 71.8%,#25aa82 79.4%,#46c06f 83.5%,#6acd5b 85.9%,#d5e21d 90.0%,#f0e51e 91.1%,#fce724 92.9%,#fde725)"></i><i class="p0" style="top:929px;height:2px;background:linear-gradient(90deg,#440154,#450558 40.9%,#451062 41.5%,#3f4082 42.6%,#30698d 43.8%,#228d8d 46.7%,#22a784 54.9%,#1f9d89 66.0%,#1f958b 71.8%,#23a884 78.9%,#42be71 82.9%,#62ca5f 85.3%,#cde11f 89.4%,#ece51d 90.5%,#fce724 91.7%,#fde725)"></i><i class="p0" style="top:931px;height:2px;background:linear-gradient(90deg,#440154,#440255 40.3%,#450659 40.9%,#461364 41.5%,#3f4383 42.6%,#306a8d 43.8%,#228d8d 46.7%,#22a784 54.9%,#1f9f88 65.4%,#1f958c 71.3%,#24a983 78.9%,#44bf70 82.9%,#66cb5d 85.3%,#d5e21d 89.4%,#f2e61f 90.5%,#fde724 91.7%,#fde725)"></i><i class="p0" style="top:933px;height:2px;background:linear-gradient(90deg,#440154,#440255 40.3%,#450759 40.9%,#461565 41.5%,#3e4484 42.6%,#306a8d 43.8%,#20918c 47.3%,#22a884 54.9%,#1fa088 65.4%,#1f958b 71.3%,#24aa83 78.9%,#46c06f 82.9%,#6acd5b 85.3%,#cce120 88.8%,#ece51d 90.0%,#fce724 91.1%,#fde725)"></i><i class="p0" style="top:935px;height:2px;background:linear-gradient(90deg,#440154,#440255 40.3%,#45085a 40.9%,#461767 41.5%,#3e4685 42.6%,#2f6b8e 43.8%,#21918c 47.3%,#22a884 54.9%,#1fa287 64.8%,#1f968b 71.3%,#25ab82 78.9%,#48c16e 82.9%,#61ca60 84.7%,#c2df25 88.2%,#e4e41c 89.4%,#fae723 90.5%,#fde725)"></i><i class="p0" style="top:937px;height:2px;background:linear-gradient(90deg,#440154,#440255 40.3%,#45095b 40.9%,#443079 42.1%,#355d8b 43.2%,#2b758e 44.4%,#20948c 47.9%,#22a884 54.9%,#20a287 64.8%,#1f978b 71.3%,#26ac82 78.9%,#4ac16d 82.9%,#64cb5e 84.7%,#c9e022 88.2%,#ebe51d 89.4%,#fce724 90.5%,#fde725)"></i><i class="p0" style="top:939px;height:2px;background:linear-gradient(90deg,#440154,#440355 40.3%,#45095c 40.9%,#43317a 42.1%,#355e8c 43.2%,#2b758e 44.4%,#20948c 47.9%,#22a884 54.9%,#20a387 64.8%,#1f978b 71.3%,#26ac81 78.9%,#4bc26c 82.9%,#68cc5c 84.7%,#d0e11f 88.2%,#f0e51f 89.4%,#fde724 90.5%,#fde725)"></i><i class="p0" style="top:941px;height:2px;background:linear-gradient(90deg,#440154,#440355 40.3%,#450a5c 40.9%,#43337b 42.1%,#345f8c 43.2%,#2b768e 44.4%,#20948c 47.9%,#22a884 54.9%,#20a387 64.8%,#1f978b 71.3%,#24aa83 78.3%,#46c06f 82.4%,#6bcd5a 84.7%,#d6e21e 88.2%,#f5e621 89.4%,#fde725 91.1%,#fde725)"></i><i class="p0" style="top:943px;height:2px;background:linear-gradient(90deg,#440154,#440356 40.3%,#450b5d 40.9%,#3c4c87 42.6%,#2e6d8e 43.8%,#20918c 47.3%,#22a884 54.9%,#20a387 64.8%,#1f978b 71.3%,#24aa83 78.3%,#47c06f 82.4%,#60ca60 84.1%,#b7de2b 87.0%,#dce31d 88.2%,#f8e622 89.4%,#fde725 94.0%,#fde725)"></i><i class="p0" style="top:945px;height:3px;background:linear-gradient(90deg,#440154,#440356 40.3%,#450b5d 40.9%,#3b4e88 42.6%,#2e6e8e 43.8%,#20928c 47.3%,#22a884 54.9%,#20a387 64.8%,#1f978b 71.3%,#25ab82 78.3%,#49c16e 82.4%,#63cb5e 84.1%,#bedf27 87.0%,#e4e41d 88.2%,#fae723 89.4%,#fde725)"></i><i class="p0" style="top:948px;height:3px;background:linear-gradient(90deg,#440154,#440356 40.3%,#450c5e 40.9%,#42387e 42.1%,#33628c 43.2%,#287d8e 45.0%,#20948c 47.9%,#22a884 54.9%,#20a387 64.8%,#1f978b 71.3%,#26ab82 78.3%,#4ac26d 82.4%,#67cc5c 84.1%,#c6e023 87.0%,#ebe51e 88.2%,#fce724 89.4%,#fde725)"></i><i class="p0" style="top:951px;height:3px;background:linear-gradient(90deg,#440154,#450457 40.3%,#450e60 40.9%,#423a7f 42.1%,#33638d 43.2%,#25848e 45.6%,#1f968b 48.5%,#22a884 54.9%,#20a387 64.8%,#1f978b 71.3%,#26ac81 78.3%,#4cc26c 82.4%,#6bcd5a 84.1%,#cee121 87.0%,#f1e51f 88.2%,#fde724 89.4%,#fde725)"></i><i class="p0" style="top:954px;height:1px;background:linear-gradient(90deg,#440154,#450557 40.3%,#460f61 40.9%,#413b80 42.1%,#33638d 43.2%,#25848e 45.6%,#1f968b 48.5%,#22a884 54.9%,#20a387 64.8%,#1f978b 71.3%,#24aa83 77.7%,#46c06f 81.8%,#5fc961 83.5%,#93d741 85.3%,#d2e11f 87.0%,#f4e621 88.2%,#fde725 89.4%,#fde725)"></i><i class="p1" style="top:696px;height:1px;background:linear-gradient(90deg,#fde725,#fce625 48.5%,#efdf2b 49.1%,#bcbd42 49.6%,#6f745e 50.2%,#482b5f 50.8%,#440957 51.4%,#440154 52.6%,#440154)"></i><i class="p1" style="top:697px;height:1px;background:linear-gradient(90deg,#fde725,#fde725 47.9%,#f8e527 48.5%,#dcd832 49.1%,#9fab4d 49.6%,#626163 50.2%,#472160 50.8%,#440757 51.4%,#440154 54.3%,#440154)"></i><i class="p1" style="top:698px;height:1px;background:linear-gradient(90deg,#fde725,#fce725 47.9%,#f2e12a 48.5%,#c2c541 49.1%,#768965 49.6%,#4b4570 50.2%,#441862 50.8%,#440657 51.4%,#440154 71.3%,#440154)"></i><i class="p1" style="top:699px;height:1px;background:linear-gradient(90deg,#fde725,#fce725 47.9%,#f1e02b 48.5%,#bfc243 49.1%,#718569 49.6%,#494777 50.2%,#45206b 50.8%,#450b5d 51.4%,#440154 52.6%,#440154)"></i><i class="p1" style="top:700px;height:1px;background:linear-gradient(90deg,#fde725,#fce625 47.9%,#f0df2b 48.5%,#bfbd44 49.1%,#747e69 49.6%,#4b477b 50.2%,#452772 50.8%,#451061 51.4%,#440456 52.0%,#440154)"></i><i class="p1" style="top:701px;height:1px;background:linear-gradient(90deg,#fde725,#f9e526 47.9%,#e5d92f 48.5%,#b0ad49 49.1%,#6e696a 49.6%,#4d3c7a 50.2%,#462673 50.8%,#451161 51.4%,#440457 52.0%,#440154)"></i><i class="p1" style="top:702px;height:1px;background:linear-gradient(90deg,#fde725,#fce725 47.3%,#f1e12a 47.9%,#c2c741 48.5%,#778e66 49.1%,#4d547b 49.6%,#46377e 50.2%,#440659 52.0%,#440154 57.2%,#440154)"></i><i class="p1" style="top:703px;height:1px;background:linear-gradient(90deg,#fde725,#fae626 47.3%,#e8de2d 47.9%,#b0be48 48.5%,#68846d 49.1%,#47507f 49.6%,#453880 50.2%,#452270 51.4%,#450f60 52.0%,#440456 52.6%,#440154)"></i><i class="p1" style="top:704px;height:1px;background:linear-gradient(90deg,#fde725,#fce725 46.7%,#f2e22a 47.3%,#c2cc41 47.9%,#739f67 48.5%,#456d80 49.1%,#404883 49.6%,#443780 50.2%,#452573 51.4%,#440457 52.6%,#440154)"></i><i class="p1" style="top:705px;height:1px;background:linear-gradient(90deg,#fde725,#fbe626 46.7%,#ebdf2d 47.3%,#b5c047 47.9%,#6a886d 48.5%,#465480 49.1%,#443c81 49.6%,#46327e 50.8%,#452674 51.4%,#440658 52.6%,#440154 69.5%,#440154)"></i><i class="p1" style="top:706px;height:1px;background:linear-gradient(90deg,#fde725,#fce725 46.1%,#f2e32a 46.7%,#c4ce3f 47.3%,#77a465 47.9%,#47727e 48.5%,#404a83 49.1%,#443881 49.6%,#462e7b 51.4%,#450e5f 52.6%,#440154 53.7%,#440154)"></i><i class="p1" style="top:707px;height:1px;background:linear-gradient(90deg,#fde725,#fce725 45.6%,#f7e527 46.1%,#e2dd30 46.7%,#abbf4a 47.3%,#648a6f 47.9%,#435a82 48.5%,#414283 49.1%,#443a82 50.2%,#44367f 51.4%,#442974 52.0%,#441362 52.6%,#440557 53.2%,#440154)"></i><i class="p1" style="top:708px;height:1px;background:linear-gradient(90deg,#fde725,#fbe625 45.0%,#f1e329 45.6%,#d1d837 46.1%,#94be53 46.7%,#569c73 47.3%,#377d86 47.9%,#33678b 48.5%,#365b8b 49.6%,#385688 51.4%,#3a467f 52.0%,#430f5d 53.2%,#440254 54.3%,#440154)"></i><i class="p1" style="top:709px;height:1px;background:linear-gradient(90deg,#fde725,#fce725 43.8%,#f7e527 44.4%,#e4df2e 45.0%,#b5cd43 45.6%,#74ae62 46.1%,#43927d 46.7%,#2e848a 47.3%,#26838d 49.1%,#277f8d 51.4%,#2a778b 52.0%,#305f82 52.6%,#411660 53.7%,#430657 54.3%,#440154 61.9%,#440154)"></i><i class="p1" style="top:710px;height:1px;background:linear-gradient(90deg,#fde725,#fae626 43.2%,#f0e32a 43.8%,#cfd738 44.4%,#559e73 45.6%,#348886 46.1%,#2a808c 46.7%,#228e8d 49.6%,#24868d 52.0%,#287c8c 52.6%,#2f6585 53.2%,#401b63 54.3%,#430858 54.9%,#440154 57.2%,#440154)"></i><i class="p1" style="top:711px;height:1px;background:linear-gradient(90deg,#fde725,#fce725 40.3%,#e6e02d 42.6%,#d2d934 43.2%,#a8c947 43.8%,#6eac65 44.4%,#42907e 45.0%,#2f808a 45.6%,#2a788e 46.7%,#218e8d 49.1%,#24888e 52.0%,#29788d 53.2%,#2f6688 53.7%,#3f2368 54.9%,#430d5c 55.5%,#440255 56.7%,#440154)"></i><i class="p1" style="top:712px;height:1px;background:linear-gradient(90deg,#fde725,#fae725 38.0%,#ebe12b 39.7%,#dfdd2f 40.3%,#c8d738 40.9%,#61ab6a 42.6%,#489b79 43.2%,#308289 44.4%,#30698b 45.6%,#345f8b 46.1%,#32668c 46.7%,#25858d 47.9%,#218e8d 49.1%,#24888e 52.0%,#2e6b8b 54.3%,#3a3e78 55.5%,#421360 56.7%,#440255 58.4%,#440154)"></i><i class="p1" style="top:713px;height:1px;background:linear-gradient(90deg,#fde725,#fae725 35.0%,#efe32a 36.8%,#e5df2d 37.4%,#d4da33 38.0%,#94c44f 39.1%,#53a272 40.3%,#40947e 40.9%,#2d818b 42.6%,#2a798d 43.8%,#2e6b8a 44.4%,#3e3e7d 45.6%,#3e4281 46.1%,#2b758d 47.3%,#25858d 47.9%,#218e8d 49.1%,#24888e 52.0%,#2b758e 54.3%,#2f6889 56.1%,#3a3f78 57.2%,#421661 58.4%,#420c5a 59.6%,#440b57)"></i><i class="p1" style="top:714px;height:1px;background:linear-gradient(90deg,#fde725,#f9e626 21.0%,#e1de2c 33.3%,#d2da32 35.0%,#c1d53a 35.6%,#5faa6b 37.4%,#479a79 38.0%,#338787 39.1%,#297a8e 41.5%,#2e6c8a 43.2%,#345a85 43.8%,#432770 45.0%,#452571 45.6%,#40397d 46.1%,#2b758d 47.3%,#25858d 47.9%,#218e8d 49.1%,#24888e 52.0%,#2b768e 54.3%,#2b758c 57.2%,#325f86 59.0%,#335a7e 78.3%,#406470 91.1%,#4c6166)"></i><i class="p1" style="top:715px;height:1px;background:linear-gradient(90deg,#fde725,#f6e527 11.1%,#e5df2d 18.1%,#c0d63b 21.6%,#8fc452 25.7%,#49a077 32.7%,#297c8e 38.6%,#30688a 40.9%,#45226e 43.8%,#471768 45.0%,#46206e 45.6%,#365988 46.7%,#2b758d 47.3%,#25858d 47.9%,#218e8d 49.1%,#24888e 52.0%,#2b768e 54.3%,#24878c 70.7%,#21918a 77.7%,#29a580 82.9%,#58bd65 90.0%,#a6d034)"></i><i class="p1" style="top:716px;height:1px;background:linear-gradient(90deg,#f4e528,#e5df2d 6.4%,#c8d838 9.3%,#51a572 17.5%,#3a9281 20.4%,#318488 26.9%,#2a778d 36.8%,#326288 38.6%,#432771 40.9%,#471667 42.6%,#471567 45.0%,#46206e 45.6%,#365988 46.7%,#2b758d 47.3%,#25858d 47.9%,#218e8d 49.1%,#24888e 52.0%,#2b768e 54.3%,#23898e 66.6%,#1f958b 77.1%,#25ab82 82.4%,#4cc26c 88.2%,#b3dd2d)"></i><i class="p1" style="top:717px;height:1px;background:linear-gradient(90deg,#a1cc47,#4ba176 6.4%,#388f83 9.3%,#2b808c 17.5%,#2e6b8a 35.0%,#355a86 36.2%,#44216d 38.6%,#471365 40.9%,#471567 45.0%,#46206e 45.6%,#365988 46.7%,#2b758d 47.3%,#25858d 47.9%,#218e8d 49.1%,#24888e 52.0%,#2b768e 54.3%,#23898e 66.6%,#1f958b 77.1%,#25ab82 82.4%,#4cc26c 88.2%,#b3dd2d)"></i><i class="p1" style="top:718px;height:1px;background:linear-gradient(90deg,#358786,#297b8e 10.5%,#2f698a 20.4%,#44216d 35.6%,#471163 38.6%,#471567 45.0%,#461f6e 45.6%,#365988 46.7%,#2c758d 47.3%,#25858d 47.9%,#218e8d 49.1%,#24888e 52.0%,#2b758e 54.3%,#23898e 66.6%,#1f958b 77.1%,#26ac82 82.4%,#4ec36b 88.2%,#b5dd2b)"></i><i class="p1" style="top:719px;height:1px;background:linear-gradient(90deg,#297a8e,#2f6989 8.8%,#3e3677 16.4%,#441664 22.8%,#471063 43.2%,#471365 45.0%,#461e6d 45.6%,#365888 46.7%,#2c748d 47.3%,#25858d 47.9%,#218e8d 49.1%,#24888e 52.0%,#2b748e 54.3%,#23888e 66.6%,#1f978b 76.5%,#27ac81 81.2%,#54c567 87.0%,#bade28 97.5%,#c4e022)"></i><i class="p1" style="top:720px;height:1px;background:linear-gradient(90deg,#355784,#431764 9.3%,#45095b 16.9%,#470f62 45.0%,#451b6a 45.6%,#375787 46.7%,#2c748d 47.3%,#25858d 47.9%,#218e8d 49.1%,#24878e 52.0%,#2d718e 54.3%,#23898e 67.2%,#1f988a 74.8%,#29ad80 78.9%,#53c468 83.5%,#bfdf27 92.3%,#d1e11d 96.4%,#d3e21b)"></i><i class="p1" style="top:721px;height:1px;background:linear-gradient(90deg,#430c5b,#450357 16.4%,#460b5e 45.0%,#451767 45.6%,#375686 46.7%,#2c748c 47.3%,#25858d 47.9%,#218e8d 49.1%,#24878e 52.0%,#2e6d8e 54.3%,#228b8d 68.3%,#20998a 73.0%,#2bae7f 76.5%,#58c665 80.6%,#c8e025 87.6%,#dde31b 90.5%,#e1e319)"></i><i class="p1" style="top:722px;height:1px;background:linear-gradient(90deg,#440154,#45085b 45.0%,#451464 45.6%,#375586 46.7%,#2c738c 47.3%,#25858d 47.9%,#218e8d 49.1%,#24868e 52.0%,#306a8e 54.3%,#20958b 70.7%,#26aa82 73.6%,#46be6f 76.5%,#88d349 80.0%,#cfe125 83.5%,#e7e41e 85.9%,#ede51b 97.5%,#ede51b)"></i><i class="p1" style="top:723px;height:1px;background:linear-gradient(90deg,#440154,#450658 45.0%,#441262 45.6%,#412f75 46.1%,#375485 46.7%,#2c738c 47.3%,#25858d 47.9%,#218e8d 49.1%,#24868e 52.0%,#2f6b8e 53.7%,#2f6b8e 56.7%,#20958b 69.5%,#2aae7f 72.4%,#57c566 75.4%,#c2df2a 79.4%,#e5e422 81.2%,#f3e620 83.5%,#f6e620)"></i><i class="p1" style="top:724px;height:1px;background:linear-gradient(90deg,#440154,#440457 45.0%,#441161 45.6%,#412e74 46.1%,#375485 46.7%,#2c738c 47.3%,#25858d 47.9%,#218e8d 49.1%,#25868e 52.0%,#30688e 53.7%,#31678e 56.1%,#1f978b 68.9%,#29ae80 71.3%,#4fc36a 73.6%,#8fd643 75.9%,#cae025 77.7%,#eae421 78.9%,#fae724 80.6%,#fce724)"></i><i class="p1" style="top:725px;height:2px;background:linear-gradient(90deg,#440154,#440456 45.0%,#441060 45.6%,#412d74 46.1%,#375385 46.7%,#2c738c 47.3%,#25858d 47.9%,#218e8d 49.1%,#25858e 52.0%,#32658d 53.7%,#33628d 56.1%,#20968b 68.3%,#28ad80 70.7%,#4ec36b 73.0%,#7fd24e 74.8%,#d2e120 77.1%,#f4e621 78.3%,#fde725 80.0%,#fde725)"></i><i class="p1" style="top:727px;height:2px;background:linear-gradient(90deg,#440154,#440356 45.0%,#440f5f 45.6%,#412a72 46.1%,#385083 46.7%,#2d718c 47.3%,#25858d 47.9%,#218f8d 49.1%,#238b8d 51.4%,#2a788e 52.6%,#355e8d 53.7%,#375b8d 55.5%,#1f988b 68.3%,#29ae80 70.7%,#4ec36b 73.0%,#81d34c 74.8%,#c2df26 76.5%,#eae51e 77.7%,#fce724 78.9%,#fde725)"></i><i class="p1" style="top:729px;height:2px;background:linear-gradient(90deg,#440154,#440355 45.0%,#440b5c 45.6%,#42236d 46.1%,#394a80 46.7%,#2d6f8b 47.3%,#25848d 47.9%,#218f8d 49.1%,#228b8d 51.4%,#2b768e 52.6%,#38588c 53.7%,#39558c 55.5%,#20948c 67.8%,#24a983 70.1%,#40bd73 72.4%,#6bcd5a 74.2%,#c3df25 76.5%,#ece51f 77.7%,#fce724 78.9%,#fde725)"></i><i class="p1" style="top:731px;height:2px;background:linear-gradient(90deg,#440154,#440254 45.0%,#440658 45.6%,#421965 46.1%,#2f6a89 47.3%,#25838d 47.9%,#218f8d 49.1%,#228c8d 51.4%,#2c738d 52.6%,#3b528b 53.7%,#3c4f8a 55.5%,#20948b 67.8%,#27ad81 70.7%,#46c06f 73.0%,#7cd150 74.8%,#c3df26 76.5%,#eee51f 77.7%,#fde724 78.9%,#fde725)"></i><i class="p1" style="top:733px;height:2px;background:linear-gradient(90deg,#440154,#440557 45.6%,#431462 46.1%,#316587 47.3%,#26828c 47.9%,#228d8d 48.5%,#228d8d 51.4%,#26838d 52.0%,#375b8b 53.2%,#3d4d8a 53.7%,#3e4b89 55.5%,#20948b 67.8%,#26ac82 70.7%,#42be71 73.0%,#63ca5f 74.2%,#c2df26 76.5%,#eee51f 77.7%,#fde724 78.9%,#fde725)"></i><i class="p1" style="top:735px;height:2px;background:linear-gradient(90deg,#440154,#440456 45.6%,#44105f 46.1%,#3e3172 46.7%,#325e84 47.3%,#27808c 47.9%,#228d8d 48.5%,#228d8d 51.4%,#26828d 52.0%,#38588b 53.2%,#3e4a89 53.7%,#3f4989 56.1%,#20948b 67.8%,#26ab82 70.7%,#41bd72 73.0%,#61c960 74.2%,#c2df26 76.5%,#efe51f 77.7%,#fde724 78.9%,#fde725)"></i><i class="p1" style="top:737px;height:2px;background:linear-gradient(90deg,#440154,#440355 45.6%,#440c5c 46.1%,#3f296d 46.7%,#335881 47.3%,#287d8b 47.9%,#228d8c 48.5%,#228d8d 51.4%,#26828d 52.0%,#39568a 53.2%,#3f4888 53.7%,#404788 56.1%,#21908c 67.2%,#22a685 70.1%,#37b878 72.4%,#4dc26b 73.6%,#8dd545 75.4%,#bfdf28 76.5%,#ece51f 77.7%,#fce724 78.9%,#fde725)"></i><i class="p1" style="top:739px;height:2px;background:linear-gradient(90deg,#440154,#440254 45.6%,#430758 46.1%,#3f2066 46.7%,#34507c 47.3%,#287a8a 47.9%,#228c8c 48.5%,#21908c 50.8%,#228d8d 51.4%,#26818d 52.0%,#3a548a 53.2%,#404688 53.7%,#404788 56.7%,#21908c 67.2%,#25aa82 70.7%,#3ebc73 73.0%,#5cc863 74.2%,#d1e121 77.1%,#f6e622 78.3%,#fde725 80.0%,#fde725)"></i><i class="p1" style="top:741px;height:1px;background:linear-gradient(90deg,#440154,#440254 45.6%,#430657 46.1%,#401d65 46.7%,#364c7b 47.3%,#297789 47.9%,#238b8c 48.5%,#21908c 50.8%,#228d8d 51.4%,#27818d 52.0%,#3b4f88 53.2%,#414286 53.7%,#3f4989 57.2%,#218f8d 67.2%,#24aa83 70.7%,#3dbb74 73.0%,#58c665 74.2%,#c9e023 77.1%,#f2e620 78.3%,#fde724 79.4%,#fde725)"></i><i class="p1" style="top:742px;height:1px;background:linear-gradient(90deg,#440154,#440254 45.6%,#440657 46.1%,#401c64 46.7%,#37497b 47.3%,#2a7689 47.9%,#238b8c 48.5%,#21908c 50.8%,#228d8d 51.4%,#27808c 52.0%,#3d4985 53.2%,#433a82 53.7%,#3d4c8a 57.8%,#20938c 67.8%,#24a983 70.7%,#3cbb75 73.0%,#56c666 74.2%,#c3df25 77.1%,#ede51f 78.3%,#fde724 79.4%,#fde725)"></i><i class="p1" style="top:743px;height:1px;background:linear-gradient(90deg,#440154,#440254 45.6%,#440657 46.1%,#411a64 46.7%,#2b7488 47.9%,#238a8c 48.5%,#21918c 50.2%,#228d8d 51.4%,#27808c 52.0%,#3f4180 53.2%,#45317c 53.7%,#37598c 59.6%,#1f9c89 68.9%,#2db17d 71.8%,#45bf70 73.6%,#79d151 75.4%,#d4e220 77.7%,#f6e622 78.9%,#fde725 81.2%,#fde725)"></i><i class="p1" style="top:744px;height:1px;background:linear-gradient(90deg,#440154,#440557 46.1%,#421863 46.7%,#2c7188 47.9%,#238a8c 48.5%,#21918c 50.2%,#228d8c 51.4%,#277f8b 52.0%,#40387a 53.2%,#462674 53.7%,#433e85 56.1%,#26828e 65.4%,#21a486 70.1%,#39b976 73.0%,#61ca60 74.8%,#cce122 77.7%,#f2e620 78.9%,#fde724 80.0%,#fde725)"></i><i class="p1" style="top:745px;height:1px;background:linear-gradient(90deg,#440154,#440557 46.1%,#421662 46.7%,#2d6f87 47.9%,#23898c 48.5%,#21918c 49.6%,#228d8c 51.4%,#277f8b 52.0%,#403274 53.2%,#461d6c 53.7%,#472070 54.3%,#433c84 56.1%,#287d8e 64.8%,#20a386 70.1%,#38b877 73.0%,#5dc862 74.8%,#c5e024 77.7%,#ece51f 78.9%,#fce724 80.0%,#fde725)"></i><i class="p1" style="top:746px;height:1px;background:linear-gradient(90deg,#440154,#440456 46.1%,#431461 46.7%,#3b3c75 47.3%,#2d6c85 47.9%,#24888c 48.5%,#21918c 49.6%,#228e8c 51.4%,#277f8b 52.0%,#325c82 52.6%,#3f3072 53.2%,#461867 53.7%,#471a6b 54.3%,#443983 56.1%,#2c748e 63.7%,#20a287 70.1%,#37b878 73.0%,#59c764 74.8%,#d2e11f 78.3%,#f5e621 79.4%,#fde725 81.2%,#fde725)"></i><i class="p1" style="top:747px;height:1px;background:linear-gradient(90deg,#440154,#440456 46.1%,#43115f 46.7%,#3c3772 47.3%,#2e6a84 47.9%,#24888b 48.5%,#21918c 49.6%,#228e8c 51.4%,#27808b 52.0%,#325c82 52.6%,#3f2e71 53.2%,#451565 53.7%,#471567 54.3%,#453781 56.1%,#2e6e8e 63.1%,#20a287 70.1%,#35b779 73.0%,#55c567 74.8%,#b5dd2c 77.7%,#dee31d 78.9%,#f9e722 80.0%,#fde725)"></i><i class="p1" style="top:748px;height:1px;background:linear-gradient(90deg,#440154,#440355 46.1%,#430f5d 46.7%,#3c336e 47.3%,#2e6781 47.9%,#24878b 48.5%,#21918c 49.6%,#228e8c 51.4%,#27808b 52.0%,#325c82 52.6%,#3f2d70 53.2%,#451262 53.7%,#471163 54.3%,#45337f 56.1%,#32648d 61.9%,#20a187 70.1%,#34b679 73.0%,#52c469 74.8%,#addc31 77.7%,#d7e21e 78.9%,#f6e621 80.0%,#fde725 82.4%,#fde725)"></i><i class="p1" style="top:749px;height:1px;background:linear-gradient(90deg,#440154,#440255 46.1%,#430c5a 46.7%,#3b2e6a 47.3%,#2d637f 47.9%,#24868a 48.5%,#218f8c 49.1%,#228e8c 51.4%,#27808b 52.0%,#325c82 52.6%,#3f2d70 53.2%,#451161 53.7%,#460e60 54.3%,#453881 56.7%,#2d708e 63.7%,#1fa088 70.1%,#32b57a 73.0%,#4ec36b 74.8%,#a6db35 77.7%,#cee120 78.9%,#f1e51f 80.0%,#fde724 81.2%,#fde725)"></i><i class="p1" style="top:750px;height:1px;background:linear-gradient(90deg,#440154,#440254 46.1%,#420958 46.7%,#3b2a66 47.3%,#2d617d 47.9%,#24858a 48.5%,#218f8c 49.1%,#228e8c 51.4%,#27808b 52.0%,#325c82 52.6%,#3f2d6f 53.2%,#451060 53.7%,#460b5d 54.3%,#453580 56.7%,#32658e 62.5%,#1f9f88 70.1%,#31b47b 73.0%,#4bc16d 74.8%,#9fd93a 77.7%,#d9e21d 79.4%,#f6e621 80.6%,#fde725 82.9%,#fde725)"></i><i class="p1" style="top:751px;height:1px;background:linear-gradient(90deg,#440154,#440254 46.1%,#420957 46.7%,#3b2865 47.3%,#2e5f7c 47.9%,#24848a 48.5%,#218f8c 49.1%,#228e8c 51.4%,#27808b 52.0%,#325c82 52.6%,#3f2d6f 53.2%,#440f5f 53.7%,#45095c 54.3%,#471a6c 55.5%,#443a83 57.2%,#2b768e 64.8%,#20a387 70.7%,#36b778 73.6%,#54c567 75.4%,#bedf27 78.9%,#e3e41d 80.0%,#fae723 81.2%,#fde725)"></i><i class="p1" style="top:752px;height:1px;background:linear-gradient(90deg,#440154,#440254 46.1%,#420857 46.7%,#3b2765 47.3%,#2e5d7c 47.9%,#25838a 48.5%,#218f8c 49.1%,#228e8c 51.4%,#26808b 52.0%,#325c82 52.6%,#3f2d6f 53.2%,#440f5f 53.7%,#45075a 54.3%,#471668 55.5%,#443781 57.2%,#2d708e 64.3%,#20a287 70.7%,#34b679 73.6%,#51c469 75.4%,#a3da37 78.3%,#dce31d 80.0%,#f8e622 81.2%,#fde725 84.7%,#fde725)"></i><i class="p1" style="top:753px;height:1px;background:linear-gradient(90deg,#440154,#440254 46.1%,#430857 46.7%,#3c2665 47.3%,#2f5b7c 47.9%,#25828a 48.5%,#218f8c 49.1%,#228e8c 51.4%,#26808b 52.0%,#325c82 52.6%,#3f2d6f 53.2%,#440f5f 53.7%,#450659 54.3%,#471264 55.5%,#453580 57.2%,#355f8d 62.5%,#1f9c89 70.1%,#2cb17e 73.0%,#4dc26b 75.4%,#9dd93b 78.3%,#d5e21e 80.0%,#f3e620 81.2%,#fde725 82.9%,#fde725)"></i><i class="p1" style="top:754px;height:1px;background:linear-gradient(90deg,#440154,#440254 46.1%,#430857 46.7%,#3c2565 47.3%,#305a7c 47.9%,#25818a 48.5%,#218e8c 49.1%,#228e8c 51.4%,#26808b 52.0%,#325c82 52.6%,#3f2d6f 53.2%,#440f5f 53.7%,#450659 54.3%,#460e61 55.5%,#443a83 57.8%,#2b768e 65.4%,#1fa088 70.7%,#31b47b 73.6%,#49c16d 75.4%,#96d83f 78.3%,#cde120 80.0%,#ede51e 81.2%,#fce724 82.4%,#fde725)"></i><i class="p1" style="top:755px;height:1px;background:linear-gradient(90deg,#440154,#440254 46.1%,#430857 46.7%,#3c2565 47.3%,#30597c 47.9%,#26808a 48.5%,#218e8c 49.1%,#218e8c 51.4%,#26818b 52.0%,#325c82 52.6%,#3f2d6f 53.2%,#440f5f 53.7%,#450659 54.3%,#460b5e 55.5%,#443881 57.8%,#2e6f8e 64.8%,#1f9f88 70.7%,#2fb37c 73.6%,#52c469 75.9%,#b3dd2d 79.4%,#d7e21d 80.6%,#f4e620 81.8%,#fde725 83.5%,#fde725)"></i><i class="p1" style="top:756px;height:1px;background:linear-gradient(90deg,#440154,#440254 46.1%,#430857 46.7%,#3d2465 47.3%,#31587c 47.9%,#26808a 48.5%,#218e8c 49.1%,#218e8c 51.4%,#26818b 52.0%,#325d82 52.6%,#3f2d6f 53.2%,#440f5f 53.7%,#450558 54.3%,#46095c 55.5%,#453580 57.8%,#355e8d 63.1%,#1f9e89 70.7%,#2eb27d 73.6%,#4ec36b 75.9%,#addc31 79.4%,#d0e11f 80.6%,#efe51e 81.8%,#fde724 82.9%,#fde725)"></i><i class="p1" style="top:757px;height:1px;background:linear-gradient(90deg,#440154,#440254 46.1%,#430857 46.7%,#3d2365 47.3%,#31577c 47.9%,#267f89 48.5%,#218e8c 49.1%,#218e8c 51.4%,#26818b 52.0%,#325d82 52.6%,#3f2e6f 53.2%,#440f5f 53.7%,#450558 54.3%,#45075a 55.5%,#433b83 58.4%,#297b8e 66.6%,#1fa187 71.3%,#32b57a 74.2%,#57c666 76.5%,#c9e021 80.6%,#eae51d 81.8%,#fce724 82.9%,#fde725)"></i><i class="p1" style="top:758px;height:2px;background:linear-gradient(90deg,#440154,#440254 46.1%,#430857 46.7%,#3d2365 47.3%,#31567c 47.9%,#267f89 48.5%,#228e8c 49.1%,#218e8c 51.4%,#26818b 52.0%,#325d82 52.6%,#3e2e6f 53.2%,#440f5f 53.7%,#450558 54.3%,#460a5d 56.1%,#443881 58.4%,#2e6d8e 65.4%,#1f9f88 71.3%,#2fb37c 74.2%,#51c469 76.5%,#afdc2f 80.0%,#d2e11e 81.2%,#f0e51f 82.4%,#fde724 83.5%,#fde725)"></i><i class="p1" style="top:760px;height:2px;background:linear-gradient(90deg,#440154,#440254 46.1%,#430857 46.7%,#3d2365 47.3%,#31567c 47.9%,#267f89 48.5%,#228e8c 49.1%,#218e8c 51.4%,#26828b 52.0%,#315e82 52.6%,#3e2e6f 53.2%,#440f5f 53.7%,#450558 54.3%,#450659 56.1%,#471668 57.2%,#433b83 59.0%,#2b748e 66.6%,#1fa187 71.8%,#31b57b 74.8%,#56c666 77.1%,#c6e022 81.2%,#e8e41d 82.4%,#fbe723 83.5%,#fde725)"></i><i class="p1" style="top:762px;height:1px;background:linear-gradient(90deg,#440154,#440254 46.1%,#430857 46.7%,#3d2465 47.3%,#31577c 47.9%,#268089 48.5%,#218e8c 49.1%,#218e8c 51.4%,#26828b 52.0%,#315f82 52.6%,#3e2f70 53.2%,#44105f 53.7%,#450558 54.3%,#46085b 56.7%,#423f85 59.6%,#2d708e 66.6%,#1f9e88 71.8%,#2eb27d 74.8%,#4fc36a 77.1%,#acdc31 80.6%,#cfe11f 81.8%,#efe51e 82.9%,#fde724 84.1%,#fde725)"></i><i class="p1" style="top:763px;height:1px;background:linear-gradient(90deg,#440154,#440254 46.1%,#430857 46.7%,#3c2465 47.3%,#30587c 47.9%,#26808a 48.5%,#218e8c 49.1%,#218e8c 51.4%,#25838b 52.0%,#316082 52.6%,#3e3070 53.2%,#44105f 53.7%,#450558 54.3%,#450659 56.7%,#471668 57.8%,#433c83 59.6%,#2e6e8e 66.6%,#1f9c89 71.8%,#2bb07e 74.8%,#49c16d 77.1%,#94d740 80.0%,#c9e021 81.8%,#ebe51d 82.9%,#fce724 84.1%,#fde725)"></i><i class="p1" style="top:764px;height:1px;background:linear-gradient(90deg,#440154,#440254 46.1%,#430857 46.7%,#3c2565 47.3%,#305a7c 47.9%,#25818a 48.5%,#218e8c 49.1%,#218f8c 51.4%,#25838b 52.0%,#306183 52.6%,#3e3170 53.2%,#441060 53.7%,#450659 54.3%,#46085c 57.2%,#443881 59.6%,#37598c 64.3%,#1f9e89 72.4%,#2eb27d 75.4%,#4fc36a 77.7%,#b1dd2e 81.2%,#d5e21e 82.4%,#f4e620 83.5%,#fde725 85.3%,#fde725)"></i><i class="p1" style="top:765px;height:1px;background:linear-gradient(90deg,#440154,#440254 46.1%,#420857 46.7%,#3c2665 47.3%,#2f5c7c 47.9%,#25828a 48.5%,#218f8c 49.1%,#218f8c 51.4%,#25848b 52.0%,#306283 52.6%,#3e3271 53.2%,#441160 53.7%,#450659 54.3%,#45065a 57.2%,#47196a 58.4%,#433d84 60.2%,#2e6d8e 67.2%,#1f9f88 73.0%,#30b47b 75.9%,#48c06e 77.7%,#98d83e 80.6%,#cfe11f 82.4%,#f0e51f 83.5%,#fde724 84.7%,#fde725)"></i><i class="p1" style="top:766px;height:1px;background:linear-gradient(90deg,#440154,#440254 46.1%,#420957 46.7%,#3b2865 47.3%,#2e5e7c 47.9%,#24848a 48.5%,#218f8c 49.1%,#218f8c 51.4%,#25848b 52.0%,#306383 52.6%,#3d3372 53.2%,#441160 53.7%,#450659 54.3%,#450558 57.2%,#471365 58.4%,#443982 60.2%,#2d6f8e 67.8%,#20a187 73.6%,#33b67a 76.5%,#4ec36b 78.3%,#a2da37 81.2%,#dbe31d 82.9%,#f8e622 84.1%,#fde725 88.2%,#fde725)"></i><i class="p1" style="top:767px;height:1px;background:linear-gradient(90deg,#440154,#440254 46.1%,#420957 46.7%,#3b2965 47.3%,#2d607c 47.9%,#248589 48.5%,#218f8c 49.1%,#218f8c 51.4%,#25858b 52.0%,#2f6584 52.6%,#3d3472 53.2%,#441261 53.7%,#450659 54.3%,#45075a 57.8%,#472977 59.6%,#414387 61.3%,#2f6c8e 67.8%,#1f9e89 73.6%,#2fb37c 76.5%,#47c06f 78.3%,#87d449 80.6%,#d5e21e 82.9%,#f5e621 84.1%,#fde725 85.9%,#fde725)"></i><i class="p1" style="top:768px;height:1px;background:linear-gradient(90deg,#440154,#440254 46.1%,#420957 46.7%,#3a2965 47.3%,#2d617c 47.9%,#248589 48.5%,#218f8c 49.1%,#218f8c 51.4%,#25858b 52.0%,#2f6684 52.6%,#3d3673 53.2%,#441361 53.7%,#450659 54.3%,#450659 57.8%,#471567 59.0%,#443a83 60.7%,#2c748e 68.9%,#1f9f88 74.2%,#31b47b 77.1%,#4cc26c 78.9%,#91d742 81.2%,#cfe120 82.9%,#f1e61f 84.1%,#fde724 85.3%,#fde725)"></i><i class="p1" style="top:769px;height:1px;background:linear-gradient(90deg,#440154,#440254 46.1%,#420957 46.7%,#3a2a65 47.3%,#2d617c 47.9%,#248689 48.5%,#218f8c 49.1%,#218f8c 51.4%,#24868b 52.0%,#2f6885 52.6%,#3d3875 53.2%,#441462 53.7%,#450659 54.3%,#46085b 58.4%,#453680 60.7%,#3b508b 64.3%,#2b768e 69.5%,#20a187 74.8%,#33b67a 77.7%,#52c469 79.4%,#9dd93b 81.8%,#c7e023 82.9%,#ede51e 84.1%,#fce724 85.3%,#fde725)"></i><i class="p1" style="top:770px;height:1px;background:linear-gradient(90deg,#440154,#440254 46.1%,#420957 46.7%,#3a2a65 47.3%,#2d627c 47.9%,#238689 48.5%,#218f8c 49.1%,#218f8c 51.4%,#24878c 52.0%,#2e6a86 52.6%,#3c3b76 53.2%,#441563 53.7%,#450759 54.3%,#450659 58.4%,#471769 59.6%,#433b83 61.3%,#2c738e 69.5%,#1f9e89 74.8%,#2fb37c 77.7%,#4ac16d 79.4%,#93d741 81.8%,#d5e21f 83.5%,#f6e621 84.7%,#fde725 86.4%,#fde725)"></i><i class="p1" style="top:771px;height:1px;background:linear-gradient(90deg,#440154,#440254 46.1%,#420957 46.7%,#3a2a65 47.3%,#2c627c 47.9%,#238689 48.5%,#218f8c 49.1%,#218f8c 51.4%,#24888c 52.0%,#2e6c86 52.6%,#3c3d77 53.2%,#431664 53.7%,#450759 54.3%,#450558 58.4%,#471264 59.6%,#443781 61.3%,#32668e 68.3%,#1f9f88 75.4%,#32b57b 78.3%,#50c36a 80.0%,#9fd939 82.4%,#cde121 83.5%,#f3e620 84.7%,#fde724 85.9%,#fde725)"></i><i class="p1" style="top:772px;height:1px;background:linear-gradient(90deg,#440154,#440255 46.1%,#420a59 46.7%,#3b2c67 47.3%,#2d647d 47.9%,#23878a 48.5%,#21918c 49.6%,#21908c 51.4%,#23898c 52.0%,#2d6f87 52.6%,#431865 53.7%,#45075a 54.3%,#45075a 59.0%,#472776 60.7%,#424186 62.5%,#2c728e 70.1%,#20a187 75.9%,#34b679 78.9%,#57c666 80.6%,#c5e025 83.5%,#eee51f 84.7%,#fde724 85.9%,#fde725)"></i><i class="p1" style="top:773px;height:1px;background:linear-gradient(90deg,#440154,#440355 46.1%,#430d5b 46.7%,#3b316b 47.3%,#2d667f 47.9%,#23878a 48.5%,#21918c 49.6%,#21908c 51.4%,#238a8c 52.0%,#2c7188 52.6%,#421965 53.7%,#45075a 54.3%,#450659 59.0%,#471567 60.2%,#443982 61.9%,#2b748e 70.7%,#20a287 76.5%,#38b877 79.4%,#4fc36a 80.6%,#a3da37 82.9%,#d4e220 84.1%,#f7e622 85.3%,#fde725 87.6%,#fde725)"></i><i class="p1" style="top:774px;height:1px;background:linear-gradient(90deg,#440154,#440356 46.1%,#430f5d 46.7%,#3b356f 47.3%,#2d6982 47.9%,#23888b 48.5%,#21918c 49.6%,#238b8c 52.0%,#2b7488 52.6%,#421b66 53.7%,#45085a 54.3%,#450558 59.0%,#471163 60.2%,#453680 61.9%,#37598c 67.2%,#1f9c89 75.9%,#2db27d 78.9%,#47c06f 80.6%,#81d34c 82.4%,#cbe023 84.1%,#f4e621 85.3%,#fde725 86.4%,#fde725)"></i><i class="p1" style="top:775px;height:1px;background:linear-gradient(90deg,#440154,#440456 46.1%,#43125f 46.7%,#3b3972 47.3%,#2d6c83 47.9%,#23898b 48.5%,#21918c 49.6%,#228c8c 52.0%,#2a7689 52.6%,#411d67 53.7%,#44095a 54.3%,#450458 59.0%,#460d60 60.2%,#433b83 62.5%,#297a8e 71.8%,#20a287 77.1%,#38b877 80.0%,#4fc36a 81.2%,#8fd643 82.9%,#c2df26 84.1%,#eee51f 85.3%,#fde724 86.4%,#fde725)"></i><i class="p1" style="top:776px;height:1px;background:linear-gradient(90deg,#440154,#440456 46.1%,#431461 46.7%,#3b3c74 47.3%,#2d6e85 47.9%,#23898b 48.5%,#21918c 49.6%,#228c8c 52.0%,#297989 52.6%,#412068 53.7%,#44095b 54.3%,#450457 57.2%,#450659 59.6%,#471567 60.7%,#443982 62.5%,#2c738e 71.3%,#20a187 77.1%,#35b779 80.0%,#48c06e 81.2%,#86d449 82.9%,#d2e121 84.7%,#f6e622 85.9%,#fde725 88.2%,#fde725)"></i><i class="p1" style="top:777px;height:1px;background:linear-gradient(90deg,#440154,#440557 46.1%,#421662 46.7%,#2c7086 47.9%,#238a8c 48.5%,#21918c 50.2%,#228d8c 52.0%,#297a89 52.6%,#36507d 53.2%,#402269 53.7%,#440a5b 54.3%,#450457 56.1%,#46095c 60.2%,#453781 62.5%,#32648d 69.5%,#1f9f88 77.1%,#32b57b 80.0%,#43be71 81.2%,#65cb5d 82.4%,#c9e024 84.7%,#f3e621 85.9%,#fde725 87.0%,#fde725)"></i><i class="p1" style="top:778px;height:1px;background:linear-gradient(90deg,#440154,#440557 46.1%,#421863 46.7%,#2b7387 47.9%,#238b8c 48.5%,#21918c 50.8%,#228d8c 52.0%,#287c8a 52.6%,#34547f 53.2%,#40256b 53.7%,#440b5c 54.3%,#450457 55.5%,#45075a 60.2%,#433c84 63.1%,#287e8e 73.0%,#20a187 77.7%,#36b778 80.6%,#4bc16d 81.8%,#8bd546 83.5%,#bfdf28 84.7%,#ece51f 85.9%,#fde724 87.0%,#fde725)"></i><i class="p1" style="top:779px;height:1px;background:linear-gradient(90deg,#440154,#440254 45.6%,#440557 46.1%,#411a64 46.7%,#2b7588 47.9%,#238b8c 48.5%,#21908c 51.4%,#228e8c 52.0%,#277e8a 52.6%,#335780 53.2%,#3f286c 53.7%,#440d5d 54.3%,#450457 55.5%,#450659 60.2%,#471769 61.3%,#443a83 63.1%,#2a788e 72.4%,#1fa088 77.7%,#33b57a 80.6%,#45bf70 81.8%,#69cc5b 82.9%,#cde122 85.3%,#f5e621 86.4%,#fde725 87.6%,#fde725)"></i><i class="p1" style="top:780px;height:1px;background:linear-gradient(90deg,#440154,#440254 45.6%,#440657 46.1%,#401c64 46.7%,#2a7788 47.9%,#228c8c 48.5%,#228e8c 52.0%,#27808b 52.6%,#325b81 53.2%,#3f2c6e 53.7%,#440e5e 54.3%,#450457 55.5%,#450559 60.2%,#471366 61.3%,#443881 63.1%,#2e6d8e 71.3%,#1f9e89 77.7%,#30b47b 80.6%,#4dc26b 82.4%,#8ed644 84.1%,#c3df26 85.3%,#efe520 86.4%,#fde724 87.6%,#fde725)"></i><i class="p1" style="top:781px;height:1px;background:linear-gradient(90deg,#440154,#440254 45.6%,#430657 46.1%,#401e65 46.7%,#354d7b 47.3%,#297989 47.9%,#228d8c 48.5%,#218e8c 52.0%,#26818b 52.6%,#325e82 53.2%,#3e2f70 53.7%,#441060 54.3%,#450559 54.9%,#46085b 60.7%,#453680 63.1%,#39558c 67.8%,#1f9c89 77.7%,#2eb27d 80.6%,#47c06f 82.4%,#83d34b 84.1%,#d0e122 85.9%,#f6e622 87.0%,#fde725 88.8%,#fde725)"></i><i class="p1" style="top:782px;height:1px;background:linear-gradient(90deg,#440154,#440254 45.6%,#430757 46.1%,#3f1f65 46.7%,#34507c 47.3%,#287b89 47.9%,#228d8c 48.5%,#218e8c 52.0%,#26838b 52.6%,#316284 53.2%,#3e3373 53.7%,#441261 54.3%,#450659 54.9%,#45075a 60.7%,#433b83 63.7%,#287c8e 73.6%,#20a386 78.9%,#39b977 81.8%,#50c36a 82.9%,#91d643 84.7%,#c4df26 85.9%,#f0e520 87.0%,#fce724 88.2%,#fce724)"></i><i class="p1" style="top:783px;height:1px;background:linear-gradient(90deg,#440154,#440254 45.6%,#430757 46.1%,#3e2165 46.7%,#33537c 47.3%,#277d89 47.9%,#228d8c 48.5%,#218f8c 52.0%,#25848c 52.6%,#306685 53.2%,#3d3775 53.7%,#441462 54.3%,#450659 54.9%,#450659 60.7%,#471768 61.9%,#443a82 63.7%,#2a768e 73.0%,#20a187 78.9%,#36b778 81.8%,#49c16e 82.9%,#85d44a 84.7%,#d1e121 86.4%,#f4e621 87.6%,#fbe723 90.0%,#fbe723)"></i><i class="p1" style="top:784px;height:1px;background:linear-gradient(90deg,#440154,#440254 45.6%,#430857 46.1%,#3d2365 46.7%,#31567c 47.3%,#267f89 47.9%,#228e8c 48.5%,#218f8c 52.0%,#24868c 52.6%,#2e6a87 53.2%,#431764 54.3%,#45075a 54.9%,#450559 60.7%,#471366 61.9%,#443881 63.7%,#2f6c8e 71.8%,#1fa088 78.9%,#33b67a 81.8%,#52c468 83.5%,#92d742 85.3%,#c4df25 86.4%,#eee51f 87.6%,#fae723 88.8%,#fbe723)"></i><i class="p1" style="top:785px;height:1px;background:linear-gradient(90deg,#440154,#440254 45.6%,#430857 46.1%,#3c2565 46.7%,#30597c 47.3%,#26808a 47.9%,#218e8c 48.5%,#218f8c 52.0%,#24888c 52.6%,#2d6f88 53.2%,#421b66 54.3%,#45085a 54.9%,#450558 60.7%,#471163 61.9%,#453580 63.7%,#38598c 68.9%,#1f9a8a 78.3%,#2ab07f 81.2%,#4bc26c 83.5%,#87d448 85.3%,#d0e121 87.0%,#f3e620 88.2%,#fae722 90.5%,#fae722)"></i><i class="p1" style="top:786px;height:1px;background:linear-gradient(90deg,#440154,#440254 45.6%,#430857 46.1%,#3c2665 46.7%,#2f5b7c 47.3%,#25828a 47.9%,#218f8c 48.5%,#21908c 52.0%,#238a8c 52.6%,#2b7589 53.2%,#412069 54.3%,#450a5c 54.9%,#450457 57.2%,#45075a 61.3%,#433b83 64.3%,#297b8e 74.2%,#20a187 79.4%,#34b779 82.4%,#54c567 84.1%,#abdc32 86.4%,#dbe31f 87.6%,#ede51e 88.2%,#f8e621 89.4%,#f9e621)"></i><i class="p1" style="top:787px;height:1px;background:linear-gradient(90deg,#440154,#440254 45.6%,#420957 46.1%,#3b2865 46.7%,#2e5e7c 47.3%,#24848a 47.9%,#218f8c 48.5%,#228c8c 52.6%,#297a8a 53.2%,#36527f 53.7%,#41256c 54.3%,#450c5d 54.9%,#450457 56.1%,#450659 61.3%,#472474 63.1%,#423f85 64.8%,#25858e 75.9%,#21a486 80.0%,#39b976 82.9%,#4ec36b 84.1%,#88d448 85.9%,#cfe121 87.6%,#f1e61f 88.8%,#f8e621 91.1%,#f8e621)"></i><i class="p1" style="top:788px;height:1px;background:linear-gradient(90deg,#440154,#440254 45.6%,#420957 46.1%,#3b2965 46.7%,#2d607c 47.3%,#248589 47.9%,#218f8c 48.5%,#228d8c 52.6%,#287e8a 53.2%,#345881 53.7%,#402a6f 54.3%,#440e5f 54.9%,#450457 56.1%,#450659 61.3%,#471467 62.5%,#443881 64.3%,#2f6c8e 72.4%,#20a287 80.0%,#36b878 82.9%,#57c666 84.7%,#abdc32 87.0%,#d9e21e 88.2%,#eae51e 88.8%,#f6e620 90.0%,#f7e620)"></i><i class="p1" style="top:789px;height:1px;background:linear-gradient(90deg,#440154,#440254 45.6%,#420958 46.1%,#3a2a66 46.7%,#2d617c 47.3%,#248589 47.9%,#218f8c 48.5%,#228e8c 52.6%,#27808b 53.2%,#335c83 53.7%,#3f2f71 54.3%,#441060 54.9%,#450659 55.5%,#450558 61.3%,#471264 62.5%,#453680 64.3%,#33638d 71.3%,#1fa088 80.0%,#34b679 82.9%,#51c469 84.7%,#9fd939 87.0%,#cde121 88.2%,#efe51e 89.4%,#f6e620 91.1%,#f6e620)"></i><i class="p1" style="top:790px;height:1px;background:linear-gradient(90deg,#440154,#440255 45.6%,#430b59 46.1%,#3b2d69 46.7%,#2d637e 47.3%,#24868a 47.9%,#218f8c 48.5%,#218e8c 52.6%,#26828b 53.2%,#326185 53.7%,#3e3474 54.3%,#441362 54.9%,#450659 55.5%,#46085b 61.9%,#433b83 64.8%,#297a8e 74.8%,#20a386 80.6%,#38b977 83.5%,#5ac764 85.3%,#d6e21f 88.8%,#f1e51e 90.0%,#f5e61f)"></i><i class="p1" style="top:791px;height:1px;background:linear-gradient(90deg,#440154,#440355 45.6%,#430e5c 46.1%,#3c326d 46.7%,#2d6681 47.3%,#24878a 47.9%,#21918c 49.1%,#218f8c 52.6%,#25848c 53.2%,#306687 53.7%,#3d3977 54.3%,#441664 54.9%,#450759 55.5%,#45075a 61.9%,#443a83 64.8%,#2b758e 74.2%,#20a287 80.6%,#36b778 83.5%,#54c567 85.3%,#9fd939 87.6%,#cbe022 88.8%,#ece51d 90.0%,#f4e61e 91.7%,#f4e61e)"></i><i class="p1" style="top:792px;height:1px;background:linear-gradient(90deg,#440154,#440356 45.6%,#43115e 46.1%,#3c3671 46.7%,#2d6983 47.3%,#24888b 47.9%,#21918c 49.1%,#218f8c 52.6%,#25868c 53.2%,#2e6b88 53.7%,#431a66 54.9%,#45085a 55.5%,#450659 61.9%,#472373 63.7%,#433e85 65.4%,#25838e 76.5%,#21a586 81.2%,#3bba75 84.1%,#5dc862 85.9%,#d3e21f 89.4%,#eee51d 90.5%,#f3e61e)"></i><i class="p1" style="top:793px;height:1px;background:linear-gradient(90deg,#440154,#440456 45.6%,#431360 46.1%,#3b3b74 46.7%,#2d6c85 47.3%,#23898b 47.9%,#21918c 49.1%,#218f8c 52.6%,#24888c 53.2%,#2c718a 53.7%,#421f69 54.9%,#450a5c 55.5%,#450457 57.8%,#450559 61.9%,#471466 63.1%,#453781 64.8%,#31678e 72.4%,#1f9f88 80.6%,#31b57b 83.5%,#58c665 85.9%,#b4dd2d 88.8%,#dce31d 90.0%,#f0e51c 91.1%,#f1e51d)"></i><i class="p1" style="top:794px;height:1px;background:linear-gradient(90deg,#440154,#440557 45.6%,#431562 46.1%,#2d6f86 47.3%,#23898c 47.9%,#21918c 49.1%,#21908c 52.6%,#238a8d 53.2%,#2a768a 53.7%,#374f80 54.3%,#41256c 54.9%,#450c5d 55.5%,#450457 56.7%,#46095c 62.5%,#453580 64.8%,#345f8d 71.3%,#1f9d89 80.6%,#2fb37c 83.5%,#52c568 85.9%,#96d83f 88.2%,#d2e11f 90.0%,#ece51c 91.1%,#f0e51c)"></i><i class="p1" style="top:795px;height:1px;background:linear-gradient(90deg,#440154,#440557 45.6%,#421863 46.1%,#2c7187 47.3%,#238a8c 47.9%,#21918c 49.6%,#228c8d 53.2%,#297b8b 53.7%,#355681 54.3%,#402a6f 54.9%,#450e5f 55.5%,#450457 56.7%,#46085b 62.5%,#443b83 65.4%,#2a798e 75.4%,#1fa088 81.2%,#34b679 84.1%,#5bc863 86.4%,#c7e022 90.0%,#e7e41b 91.1%,#efe51c 92.9%,#efe51c)"></i><i class="p1" style="top:796px;height:1px;background:linear-gradient(90deg,#440154,#440254 45.0%,#440657 45.6%,#411a64 46.1%,#2b7488 47.3%,#238b8c 47.9%,#21918c 50.2%,#228d8c 53.2%,#277f8b 53.7%,#335b83 54.3%,#3f2e72 54.9%,#441060 55.5%,#450659 56.1%,#45075a 62.5%,#443a82 65.4%,#2b748e 74.8%,#21a486 81.8%,#39b976 84.7%,#56c666 86.4%,#d0e11f 90.5%,#e9e41b 91.7%,#eee51b)"></i><i class="p1" style="top:797px;height:1px;background:linear-gradient(90deg,#440154,#440254 45.0%,#440657 45.6%,#401c64 46.1%,#37497b 46.7%,#2a7689 47.3%,#238b8c 47.9%,#21918c 51.4%,#228e8c 53.2%,#26818b 53.7%,#326085 54.3%,#3e3475 54.9%,#441362 55.5%,#450659 56.1%,#450659 62.5%,#472373 64.3%,#433e85 66.0%,#26828e 77.1%,#20a287 81.8%,#37b878 84.7%,#5fc961 87.0%,#d7e21c 91.1%,#eae51a 92.3%,#ece51b)"></i><i class="p1" style="top:798px;height:1px;background:linear-gradient(90deg,#440154,#440254 45.0%,#430657 45.6%,#401e65 46.1%,#364d7b 46.7%,#297889 47.3%,#228c8c 47.9%,#21908c 52.6%,#218e8c 53.2%,#26838c 53.7%,#306687 54.3%,#431664 55.5%,#45075a 56.1%,#450559 62.5%,#471467 63.7%,#453781 65.4%,#31688e 73.0%,#20a187 81.8%,#35b779 84.7%,#5bc863 87.0%,#cfe11f 91.1%,#e7e41a 92.3%,#ebe51a)"></i><i class="p1" style="top:799px;height:1px;background:linear-gradient(90deg,#440154,#440254 45.0%,#430757 45.6%,#3f1f65 46.1%,#344f7c 46.7%,#287a89 47.3%,#228c8c 47.9%,#218f8c 53.2%,#25858c 53.7%,#2e6b89 54.3%,#431b67 55.5%,#45085b 56.1%,#450457 61.9%,#46095c 63.1%,#453580 65.4%,#34608d 71.8%,#1fa088 81.8%,#33b67a 84.7%,#58c765 87.0%,#b5dd2c 90.5%,#e2e41a 92.3%,#eae51a 94.6%,#eae51a)"></i><i class="p1" style="top:800px;height:1px;background:linear-gradient(90deg,#440154,#440254 45.0%,#430757 45.6%,#3e2165 46.1%,#33527c 46.7%,#287c89 47.3%,#228d8c 47.9%,#218f8c 53.2%,#24878d 53.7%,#2c718a 54.3%,#38497e 54.9%,#42216a 55.5%,#450a5c 56.1%,#450457 57.8%,#46085b 63.1%,#45347f 65.4%,#37598c 70.7%,#1f9a8a 81.2%,#2bb17e 84.1%,#54c567 87.0%,#aedc30 90.5%,#dde31b 92.3%,#e9e41a 93.5%,#e9e41a)"></i><i class="p1" style="top:801px;height:1px;background:linear-gradient(90deg,#440154,#440254 45.0%,#430757 45.6%,#3d2265 46.1%,#32547c 46.7%,#277d8a 47.3%,#228d8c 47.9%,#218f8c 53.2%,#23898d 53.7%,#2b768b 54.3%,#365080 54.9%,#41266d 55.5%,#450d5e 56.1%,#450457 57.2%,#45075a 63.1%,#443a83 66.0%,#2b748e 75.4%,#20a287 82.4%,#37b878 85.3%,#5dc962 87.6%,#d6e21c 92.3%,#e6e419 93.5%,#e7e419)"></i><i class="p1" style="top:802px;height:1px;background:linear-gradient(90deg,#440154,#440254 45.0%,#430857 45.6%,#3d2365 46.1%,#31577c 46.7%,#267f8a 47.3%,#228e8c 47.9%,#21908c 53.2%,#238b8d 53.7%,#29798b 54.3%,#355683 54.9%,#402b70 55.5%,#450f60 56.1%,#450559 56.7%,#45075a 63.1%,#443982 66.0%,#2d708e 74.8%,#20a187 82.4%,#35b778 85.3%,#67cc5d 88.2%,#cfe11e 92.3%,#e4e419 93.5%,#e7e419)"></i><i class="p1" style="top:803px;height:1px;background:linear-gradient(90deg,#440154,#440254 45.0%,#430858 45.6%,#3c2566 46.1%,#30597d 46.7%,#26808a 47.3%,#218e8c 47.9%,#21908c 53.2%,#228c8d 53.7%,#287d8c 54.3%,#335c85 54.9%,#3f3174 55.5%,#441262 56.1%,#450659 56.7%,#450659 63.1%,#472373 64.8%,#433e85 66.6%,#26818e 77.7%,#21a586 82.9%,#3bba75 85.9%,#70cf57 88.8%,#d7e21b 92.9%,#e5e419 94.0%,#e6e419)"></i><i class="p1" style="top:804px;height:1px;background:linear-gradient(90deg,#440154,#440255 45.0%,#430a59 45.6%,#3d2969 46.1%,#305d7e 46.7%,#25828a 47.3%,#218e8c 47.9%,#228d8d 53.7%,#27818c 54.3%,#326287 54.9%,#3e3877 55.5%,#441564 56.1%,#450759 56.7%,#450559 63.1%,#471466 64.3%,#453781 66.0%,#32658e 73.0%,#1f9f88 82.4%,#33b57a 85.3%,#60ca60 88.2%,#d1e11d 92.9%,#e3e419 94.0%,#e5e419)"></i><i class="p1" style="top:805px;height:1px;background:linear-gradient(90deg,#440154,#440355 45.0%,#430d5c 45.6%,#3d2e6c 46.1%,#2f6180 46.7%,#25848a 47.3%,#218f8c 47.9%,#218e8c 53.7%,#26848c 54.3%,#306888 54.9%,#431a66 56.1%,#45085a 56.7%,#450558 63.1%,#471265 64.3%,#453580 66.0%,#33628d 72.4%,#1f9e88 82.4%,#31b57b 85.3%,#5ec961 88.2%,#cce11f 92.9%,#e0e319 94.0%,#e4e418)"></i><i class="p1" style="top:806px;height:1px;background:linear-gradient(90deg,#440154,#440356 45.0%,#430f5d 45.6%,#3d326f 46.1%,#2f6482 46.7%,#25858b 47.3%,#218f8c 47.9%,#218f8c 53.7%,#25868c 54.3%,#2e6d8a 54.9%,#421f69 56.1%,#450a5c 56.7%,#450457 59.0%,#46085c 63.7%,#45347f 66.0%,#375b8d 71.3%,#1f9e89 82.4%,#30b47b 85.3%,#5dc863 88.2%,#d4e21c 93.5%,#e1e318 94.6%,#e2e418)"></i><i class="p1" style="top:807px;height:2px;background:linear-gradient(90deg,#440154,#440456 45.0%,#431260 45.6%,#3c3873 46.1%,#2e6984 46.7%,#24878b 47.3%,#21908c 48.5%,#218f8c 53.7%,#24888d 54.3%,#2c738b 54.9%,#374f81 55.5%,#41276e 56.1%,#450d5f 56.7%,#450457 57.8%,#45075a 63.7%,#443a83 66.6%,#2c728e 75.4%,#20a187 82.9%,#36b778 85.9%,#71cf56 89.4%,#cee11e 93.5%,#dfe319 94.6%,#e2e418)"></i><i class="p1" style="top:809px;height:2px;background:linear-gradient(90deg,#440154,#440557 45.0%,#431562 45.6%,#2d6d87 46.7%,#24888c 47.3%,#21918c 48.5%,#21908c 53.7%,#238a8d 54.3%,#297a8c 54.9%,#355a85 55.5%,#403175 56.1%,#441362 56.7%,#450659 57.2%,#450659 63.7%,#471668 64.8%,#443982 66.6%,#2f6b8e 74.2%,#1fa088 82.9%,#34b679 85.9%,#6dce59 89.4%,#d3e21c 94.0%,#dfe318 95.2%,#e0e318)"></i><i class="p1" style="top:811px;height:1px;background:linear-gradient(90deg,#440154,#440557 45.0%,#421763 45.6%,#2d6f88 46.7%,#24898c 47.3%,#21918c 48.5%,#228c8d 54.3%,#287e8d 54.9%,#326288 55.5%,#431865 56.7%,#45075a 57.2%,#450558 63.7%,#471365 64.8%,#443781 66.6%,#32658e 73.0%,#1fa088 82.9%,#33b67a 85.9%,#6ccd59 89.4%,#d0e11d 94.0%,#dee319 95.2%,#dfe318)"></i><i class="p1" style="top:812px;height:1px;background:linear-gradient(90deg,#440154,#440557 45.0%,#421863 45.6%,#2c7188 46.7%,#23898c 47.3%,#21918c 48.5%,#228d8d 54.3%,#27818d 54.9%,#306789 55.5%,#431c68 56.7%,#45095b 57.2%,#450457 61.9%,#46095c 64.3%,#453681 66.6%,#34618d 72.4%,#1f9f88 82.9%,#33b67a 85.9%,#77d053 90.0%,#cee11e 94.0%,#dee319 95.2%,#dfe318)"></i><i class="p1" style="top:813px;height:2px;background:linear-gradient(90deg,#440154,#440254 44.4%,#440657 45.0%,#411a64 45.6%,#2c7289 46.7%,#23898c 47.3%,#21918c 49.1%,#228e8d 54.3%,#25848d 54.9%,#2e6d8a 55.5%,#39497f 56.1%,#42236c 56.7%,#450c5d 57.2%,#450457 58.4%,#45075b 64.3%,#433d84 67.2%,#2a788e 76.5%,#20a386 83.5%,#3aba76 86.4%,#81d34c 90.5%,#d7e21a 94.6%,#dfe318 97.0%,#dfe318)"></i><i class="p1" style="top:815px;height:2px;background:linear-gradient(90deg,#440154,#440254 44.4%,#440657 45.0%,#401c65 45.6%,#37497b 46.1%,#2b7489 46.7%,#238a8c 47.3%,#21918c 49.1%,#218f8c 54.3%,#24878d 54.9%,#2c738b 55.5%,#375283 56.1%,#412b71 56.7%,#451060 57.2%,#450659 57.8%,#450659 64.3%,#471769 65.4%,#433c84 67.2%,#2b758e 75.9%,#20a386 83.5%,#3aba76 86.4%,#81d34c 90.5%,#d7e21a 94.6%,#dfe318 97.0%,#dfe318)"></i><i class="p1" style="top:817px;height:2px;background:linear-gradient(90deg,#440154,#440254 44.4%,#430758 45.0%,#401e65 45.6%,#364b7c 46.1%,#2a7689 46.7%,#238a8c 47.3%,#21918c 49.6%,#218f8c 54.3%,#24898d 54.9%,#2a778c 55.5%,#355986 56.1%,#441463 57.2%,#450659 57.8%,#450558 64.3%,#471366 65.4%,#433b83 67.2%,#30698e 73.6%,#1f9f88 82.9%,#33b57a 85.9%,#75d054 90.0%,#d7e21a 94.6%,#dfe318 97.0%,#dfe318)"></i><i class="p1" style="top:819px;height:2px;background:linear-gradient(90deg,#440154,#440255 44.4%,#44095a 45.0%,#402269 45.6%,#364f7e 46.1%,#2a788a 46.7%,#238b8c 47.3%,#21918c 50.2%,#21908c 54.3%,#238a8d 54.9%,#297b8d 55.5%,#336189 56.1%,#431966 57.2%,#45085a 57.8%,#450458 64.3%,#461062 65.4%,#443982 67.2%,#3a538b 70.1%,#1f9b8a 82.4%,#2cb17e 85.3%,#6acd5b 89.4%,#d7e21a 94.6%,#dfe318 97.0%,#dfe318)"></i><i class="p1" style="top:821px;height:2px;background:linear-gradient(90deg,#440154,#440355 44.4%,#440c5c 45.0%,#40276d 45.6%,#355481 46.1%,#29798b 46.7%,#238b8d 47.3%,#21918c 50.8%,#228c8d 54.9%,#277f8d 55.5%,#30688a 56.1%,#421f6a 57.2%,#450a5c 57.8%,#450457 59.6%,#450659 64.8%,#47196a 66.0%,#414186 67.8%,#29798e 76.5%,#21a486 83.5%,#3aba76 86.4%,#81d34c 90.5%,#d7e21a 94.6%,#dfe318 97.0%,#dfe318)"></i><i class="p1" style="top:823px;height:2px;background:linear-gradient(90deg,#440154,#440356 44.4%,#440e5e 45.0%,#402c70 45.6%,#355783 46.1%,#297b8b 46.7%,#228b8d 47.3%,#21918c 52.6%,#228d8d 54.9%,#26828d 55.5%,#2e6e8b 56.1%,#384d81 56.7%,#41276f 57.2%,#450e5f 57.8%,#450457 59.0%,#450559 64.8%,#471567 66.0%,#424085 67.8%,#306a8e 73.6%,#1fa088 82.9%,#33b67a 85.9%,#75d054 90.0%,#d7e21a 94.6%,#dfe318 97.0%,#dfe318)"></i><i class="p1" style="top:825px;height:2px;background:linear-gradient(90deg,#440154,#440456 44.4%,#44105f 45.0%,#3f2f73 45.6%,#345a84 46.1%,#287c8c 46.7%,#228c8d 47.3%,#21918c 53.2%,#228e8d 54.9%,#25858d 55.5%,#2c738c 56.1%,#375585 56.7%,#403075 57.2%,#441262 57.8%,#450659 58.4%,#450558 64.8%,#471365 66.0%,#423f85 67.8%,#37598c 70.7%,#1f9c89 82.4%,#2db27d 85.3%,#5fc961 88.8%,#d7e21a 94.6%,#dfe318 97.0%,#dfe318)"></i><i class="p1" style="top:827px;height:1px;background:linear-gradient(90deg,#440154,#440456 44.4%,#441160 45.0%,#3f3274 45.6%,#345c85 46.1%,#287d8c 46.7%,#228c8d 47.3%,#21918c 53.7%,#218e8d 54.9%,#24878d 55.5%,#2b768d 56.1%,#355c88 56.7%,#441765 57.8%,#45075a 58.4%,#450458 64.8%,#471163 66.0%,#423f84 67.8%,#39568c 70.1%,#1f988a 81.8%,#28ae80 84.7%,#55c667 88.2%,#d7e21a 94.6%,#dfe318 97.0%,#dfe318)"></i><i class="p1" style="top:828px;height:1px;background:linear-gradient(90deg,#440154,#440456 44.4%,#441261 45.0%,#3f3375 45.6%,#335d86 46.1%,#287d8c 46.7%,#228c8d 47.3%,#21908c 54.3%,#24888d 55.5%,#2a798d 56.1%,#336089 56.7%,#431b68 57.8%,#45095b 58.4%,#450457 63.7%,#45085b 65.4%,#471f6f 66.6%,#423e84 67.8%,#39568c 70.1%,#1f998a 81.8%,#29ae80 84.7%,#55c667 88.2%,#d7e21a 94.6%,#dfe318 97.0%,#dfe318)"></i><i class="p1" style="top:829px;height:1px;background:linear-gradient(90deg,#440154,#440456 44.4%,#431361 45.0%,#3e3476 45.6%,#335e86 46.1%,#287e8c 46.7%,#228c8d 47.3%,#21908c 54.3%,#23898d 55.5%,#32648a 56.7%,#42216c 57.8%,#450b5d 58.4%,#450457 59.6%,#45075a 65.4%,#471e6e 66.6%,#423e84 67.8%,#3a538b 69.5%,#1f998a 81.8%,#29ae80 84.7%,#55c667 88.2%,#d7e21a 94.6%,#dfe318 97.0%,#dfe318)"></i><i class="p1" style="top:830px;height:1px;background:linear-gradient(90deg,#440154,#440457 44.4%,#431362 45.0%,#336087 46.1%,#287e8c 46.7%,#228c8d 47.3%,#21908c 54.3%,#238a8d 55.5%,#30688b 56.7%,#3a4a82 57.2%,#422770 57.8%,#450f60 58.4%,#450457 59.6%,#45075a 65.4%,#471d6d 66.6%,#423e83 67.8%,#3a538b 69.5%,#1f998a 81.8%,#29ae80 84.7%,#55c667 88.2%,#d7e21a 94.6%,#dfe318 97.0%,#dfe318)"></i><i class="p1" style="top:831px;height:1px;background:linear-gradient(90deg,#440154,#440457 44.4%,#431462 45.0%,#326187 46.1%,#277e8c 46.7%,#228c8d 47.3%,#21908c 54.9%,#287e8d 56.1%,#395085 57.2%,#451262 58.4%,#450659 59.0%,#45075a 65.4%,#471c6d 66.6%,#423d83 67.8%,#3a538b 69.5%,#1f9a8a 81.8%,#29af80 84.7%,#55c667 88.2%,#d7e21a 94.6%,#dfe318 97.0%,#dfe318)"></i><i class="p1" style="top:832px;height:1px;background:linear-gradient(90deg,#440154,#440557 44.4%,#431562 45.0%,#326287 46.1%,#277f8c 46.7%,#228c8d 47.3%,#21908c 54.9%,#277f8d 56.1%,#375588 57.2%,#441765 58.4%,#45085a 59.0%,#45065a 65.4%,#471b6c 66.6%,#423d83 67.8%,#3a548b 69.5%,#1f9a8a 81.8%,#29af7f 84.7%,#55c667 88.2%,#d7e21a 94.6%,#dfe318 97.0%,#dfe318)"></i><i class="p1" style="top:833px;height:1px;background:linear-gradient(90deg,#440154,#440557 44.4%,#431563 45.0%,#326388 46.1%,#277f8c 46.7%,#228c8d 47.3%,#21908c 54.9%,#27818d 56.1%,#365a89 57.2%,#431d6a 58.4%,#450a5c 59.0%,#450457 60.7%,#450659 65.4%,#471a6b 66.6%,#423c83 67.8%,#3c508a 68.9%,#1f968b 81.2%,#25ab82 84.1%,#4cc26c 87.6%,#9ad93d 91.7%,#d7e21a 94.6%,#dfe318 97.0%,#dfe318)"></i><i class="p1" style="top:834px;height:1px;background:linear-gradient(90deg,#440154,#440557 44.4%,#431663 45.0%,#316488 46.1%,#27808d 46.7%,#228c8d 47.3%,#21908c 54.9%,#26828d 56.1%,#345f8b 57.2%,#3d4482 57.8%,#450f60 59.0%,#450457 60.2%,#450659 65.4%,#471a6b 66.6%,#423c82 67.8%,#3b508b 68.9%,#1f978b 81.2%,#25ab82 84.1%,#4cc26c 87.6%,#9ad93d 91.7%,#d7e21a 94.6%,#dfe318 97.0%,#dfe318)"></i><i class="p1" style="top:835px;height:1px;background:linear-gradient(90deg,#440154,#440557 44.4%,#431764 45.0%,#316588 46.1%,#27808d 46.7%,#228d8d 47.3%,#21908c 54.9%,#26838d 56.1%,#33628c 57.2%,#3b4b85 57.8%,#451363 59.0%,#450759 59.6%,#450659 65.4%,#47196a 66.6%,#423c82 67.8%,#3b508b 68.9%,#23898d 78.9%,#22a784 83.5%,#3cbb75 86.4%,#75d054 90.0%,#d7e21a 94.6%,#dfe318 97.0%,#dfe318)"></i><i class="p1" style="top:836px;height:1px;background:linear-gradient(90deg,#440154,#440254 43.8%,#440658 44.4%,#431965 45.0%,#316689 46.1%,#27808d 46.7%,#228d8d 47.3%,#228d8d 55.5%,#2b768e 56.7%,#395188 57.8%,#441a68 59.0%,#45095b 59.6%,#450457 64.8%,#460b5e 66.0%,#423b82 67.8%,#3b518b 68.9%,#1f978b 81.2%,#26ab82 84.1%,#4cc26c 87.6%,#9ad93d 91.7%,#d7e21a 94.6%,#dfe318 97.0%,#dfe318)"></i><i class="p1" style="top:837px;height:1px;background:linear-gradient(90deg,#440154,#440255 43.8%,#440759 44.4%,#431b67 45.0%,#306789 46.1%,#27818d 46.7%,#228d8d 47.3%,#228d8d 55.5%,#2a788e 56.7%,#38568a 57.8%,#43226e 59.0%,#450d5f 59.6%,#450457 60.7%,#450559 65.4%,#471769 66.6%,#423b82 67.8%,#3b518b 68.9%,#24878e 78.3%,#20a486 82.9%,#35b778 85.9%,#6acd5b 89.4%,#d7e21a 94.6%,#dfe318 97.0%,#dfe318)"></i><i class="p1" style="top:838px;height:1px;background:linear-gradient(90deg,#440154,#440255 43.8%,#44085a 44.4%,#431d69 45.0%,#30688a 46.1%,#26818d 46.7%,#228d8d 47.3%,#228e8d 55.5%,#29798e 56.7%,#3d4684 58.4%,#451263 59.6%,#450659 60.2%,#450559 65.4%,#471768 66.6%,#3e4988 68.3%,#31668e 71.8%,#1fa088 82.4%,#2fb37c 85.3%,#5fc961 88.8%,#d7e21a 94.6%,#dfe318 97.0%,#dfe318)"></i><i class="p1" style="top:839px;height:1px;background:linear-gradient(90deg,#440154,#440255 43.8%,#45095b 44.4%,#431f6a 45.0%,#30698a 46.1%,#26818d 46.7%,#21908c 47.9%,#228e8d 55.5%,#297b8e 56.7%,#3c4c87 58.4%,#441967 59.6%,#45095b 60.2%,#450457 64.8%,#460a5d 66.0%,#462875 67.2%,#3e4988 68.3%,#33638d 71.3%,#1fa088 82.4%,#30b47c 85.3%,#5fc961 88.8%,#d7e21a 94.6%,#dfe318 97.0%,#dfe318)"></i><i class="p1" style="top:840px;height:1px;background:linear-gradient(90deg,#440154,#440355 43.8%,#450a5c 44.4%,#43216c 45.0%,#3b457f 45.6%,#2f6a8a 46.1%,#26828d 46.7%,#21908c 47.9%,#218e8d 55.5%,#287c8e 56.7%,#3a5189 58.4%,#43236f 59.6%,#450d5f 60.2%,#450457 61.3%,#450558 65.4%,#471667 66.6%,#3e4988 68.3%,#33638d 71.3%,#1fa088 82.4%,#35b778 85.9%,#5fc961 88.8%,#d7e21a 94.6%,#dfe318 97.0%,#dfe318)"></i><i class="p1" style="top:841px;height:1px;background:linear-gradient(90deg,#440154,#440355 43.8%,#450b5c 44.4%,#43236d 45.0%,#3b4780 45.6%,#2f6b8a 46.1%,#26828d 46.7%,#21908c 47.9%,#218f8d 55.5%,#287e8e 56.7%,#3e4685 59.0%,#451464 60.2%,#45075a 60.7%,#450558 65.4%,#471667 66.6%,#3e4988 68.3%,#34608d 70.7%,#1f9d89 81.8%,#2bb07e 84.7%,#54c667 88.2%,#d7e21a 94.6%,#dfe318 97.0%,#dfe318)"></i><i class="p1" style="top:842px;height:1px;background:linear-gradient(90deg,#440154,#440356 43.8%,#450c5d 44.4%,#43246e 45.0%,#3b4981 45.6%,#2f6c8b 46.1%,#26828d 46.7%,#21908c 47.9%,#218f8d 55.5%,#277f8e 56.7%,#3c4c88 59.0%,#441c6a 60.2%,#450b5d 60.7%,#450558 63.7%,#460b5e 66.0%,#462775 67.2%,#3e4a88 68.3%,#34618d 70.7%,#1f9d89 81.8%,#30b47c 85.3%,#54c667 88.2%,#d7e21a 94.6%,#dfe318 97.0%,#dfe318)"></i><i class="p1" style="top:843px;height:1px;background:linear-gradient(90deg,#440154,#440356 43.8%,#450d5e 44.4%,#42266f 45.0%,#3a4a82 45.6%,#2f6c8b 46.1%,#26838d 46.7%,#21908c 47.9%,#218f8d 55.5%,#27818e 56.7%,#3a518a 59.0%,#3f4182 59.6%,#451263 60.7%,#46075b 61.9%,#46075b 65.4%,#471769 66.6%,#3e4a88 68.3%,#34618d 70.7%,#1f9d89 81.8%,#30b47c 85.3%,#54c667 88.2%,#d7e21a 94.6%,#dfe318 97.0%,#dfe318)"></i><i class="p1" style="top:844px;height:1px;background:linear-gradient(90deg,#440154,#440356 43.8%,#450e5e 44.4%,#422770 45.0%,#3a4c82 45.6%,#2e6d8b 46.1%,#26838d 46.7%,#21908c 47.9%,#218f8d 55.5%,#26828e 56.7%,#3d4987 59.6%,#451b6a 60.7%,#460e60 61.3%,#460a5d 65.4%,#47196a 66.6%,#3d4b88 68.3%,#34618d 70.7%,#1f9e89 81.8%,#30b47c 85.3%,#54c667 88.2%,#d7e21a 94.6%,#dfe318 97.0%,#dfe318)"></i><i class="p1" style="top:845px;height:1px;background:linear-gradient(90deg,#440154,#440356 43.8%,#440e5f 44.4%,#422972 45.0%,#394d83 45.6%,#2e6e8b 46.1%,#26838d 46.7%,#21908c 47.9%,#228c8d 56.1%,#3b4f89 59.6%,#3f3f81 60.2%,#461566 61.3%,#470d60 63.7%,#471164 66.0%,#462b78 67.2%,#3d4b89 68.3%,#33628d 70.7%,#1f9e89 81.8%,#30b47c 85.3%,#54c667 88.2%,#d7e21a 94.6%,#dfe318 97.0%,#dfe318)"></i><i class="p1" style="top:846px;height:1px;background:linear-gradient(90deg,#440154,#440456 43.8%,#440f60 44.4%,#422a72 45.0%,#394f84 45.6%,#2e6f8c 46.1%,#25848d 46.7%,#21908c 47.9%,#228c8d 56.1%,#37598c 59.0%,#3e4786 60.2%,#461f6e 61.3%,#471365 62.5%,#471567 66.0%,#452d7a 67.2%,#3d4c89 68.3%,#31668e 71.3%,#20a187 82.4%,#35b778 85.9%,#5fc961 88.8%,#d7e21a 94.6%,#dfe318 97.0%,#dfe318)"></i><i class="p1" style="top:847px;height:1px;background:linear-gradient(90deg,#440154,#440456 43.8%,#441060 44.4%,#412c73 45.0%,#395084 45.6%,#2d708c 46.1%,#25848d 46.7%,#21908c 47.9%,#228d8d 56.1%,#375b8c 59.0%,#3c4e89 60.2%,#471c6d 61.9%,#481668 65.4%,#472272 66.6%,#3c4d89 68.3%,#31678e 71.3%,#20a187 82.4%,#35b778 85.9%,#5fc961 88.8%,#d7e21a 94.6%,#dfe318 97.0%,#dfe318)"></i><i class="p1" style="top:848px;height:1px;background:linear-gradient(90deg,#440154,#440456 43.8%,#441161 44.4%,#385285 45.6%,#2d718c 46.1%,#25848d 46.7%,#21908c 47.9%,#228d8d 56.1%,#38578c 59.6%,#3e4786 60.7%,#472574 61.9%,#481b6d 63.7%,#481e6f 66.0%,#3c4e8a 68.3%,#306a8e 71.8%,#20a287 82.4%,#35b778 85.9%,#5fc961 88.8%,#d7e21a 94.6%,#dfe318 97.0%,#dfe318)"></i><i class="p1" style="top:849px;height:1px;background:linear-gradient(90deg,#440154,#440456 43.8%,#441161 44.4%,#385386 45.6%,#2d728c 46.1%,#25858d 46.7%,#21908c 47.9%,#228e8d 56.1%,#37598c 59.6%,#3c4e89 60.7%,#482575 62.5%,#481f71 65.4%,#472b79 66.6%,#3b508a 68.3%,#2d718e 73.0%,#20a287 82.4%,#35b778 85.9%,#5fc961 88.8%,#d7e21a 94.6%,#dfe318 97.0%,#dfe318)"></i><i class="p1" style="top:850px;height:1px;background:linear-gradient(90deg,#440154,#440457 43.8%,#441262 44.4%,#375586 45.6%,#2c738c 46.1%,#25858d 46.7%,#21908c 47.9%,#218e8d 56.1%,#375b8c 59.6%,#3e4987 61.3%,#462d7b 62.5%,#482475 65.4%,#46307d 66.6%,#38588c 68.9%,#1f9b8a 81.2%,#2bb07e 84.7%,#54c667 88.2%,#d7e21a 94.6%,#dfe318 97.0%,#dfe318)"></i><i class="p1" style="top:851px;height:1px;background:linear-gradient(90deg,#440154,#440558 43.8%,#441464 44.4%,#375687 45.6%,#2c738c 46.1%,#25858d 46.7%,#21908c 47.9%,#218e8d 56.1%,#365c8d 59.6%,#3c4f8a 61.3%,#462f7c 63.1%,#472979 65.4%,#424085 67.2%,#38588c 68.9%,#1f9b8a 81.2%,#2bb07e 84.7%,#54c667 88.2%,#d7e21a 94.6%,#dfe318 97.0%,#dfe318)"></i><i class="p1" style="top:852px;height:1px;background:linear-gradient(90deg,#440154,#440255 43.2%,#450759 43.8%,#441766 44.4%,#365887 45.6%,#2c748d 46.1%,#25868d 46.7%,#21908c 47.9%,#218f8d 56.1%,#355e8d 59.6%,#3d4b89 61.9%,#46327e 63.7%,#472e7c 65.4%,#37598c 68.9%,#1f9b8a 81.2%,#2bb07e 84.7%,#54c667 88.2%,#d7e21a 94.6%,#dfe318 97.0%,#dfe318)"></i><i class="p1" style="top:853px;height:1px;background:linear-gradient(90deg,#440154,#440255 43.2%,#45085a 43.8%,#441967 44.4%,#365a88 45.6%,#2b758d 46.1%,#24868d 46.7%,#21908c 47.9%,#218f8d 56.1%,#365b8d 60.2%,#3f4888 62.5%,#453580 64.3%,#443881 66.0%,#375a8c 68.9%,#1f9b8a 81.2%,#2bb07e 84.7%,#4bc26c 87.6%,#a6db35 92.3%,#d7e21a 94.6%,#dfe318 97.0%,#dfe318)"></i><i class="p1" style="top:854px;height:1px;background:linear-gradient(90deg,#440154,#440255 43.2%,#45095b 43.8%,#441b69 44.4%,#355b89 45.6%,#2b768d 46.1%,#24868d 46.7%,#21908c 47.9%,#218f8d 56.1%,#2d728e 58.4%,#365c8d 60.2%,#3c4e8a 62.5%,#443a83 64.3%,#433c84 66.0%,#355e8d 69.5%,#1f9f88 81.8%,#30b47c 85.3%,#55c667 88.2%,#d7e21a 94.6%,#dfe318 97.0%,#dfe318)"></i><i class="p1" style="top:855px;height:2px;background:linear-gradient(90deg,#440154,#440355 43.2%,#450a5c 43.8%,#441e6c 44.4%,#345e89 45.6%,#2a778d 46.1%,#24878d 46.7%,#21918c 48.5%,#228c8d 56.7%,#355f8d 60.2%,#3f4788 63.7%,#423f85 65.4%,#2d6f8e 72.4%,#20a287 82.4%,#36b778 85.9%,#6acd5b 89.4%,#d7e21a 94.6%,#dfe318 97.0%,#dfe318)"></i><i class="p1" style="top:857px;height:2px;background:linear-gradient(90deg,#440154,#440356 43.2%,#450c5e 43.8%,#44236f 44.4%,#33628a 45.6%,#297a8d 46.1%,#218e8d 47.3%,#228e8d 56.7%,#355e8d 60.7%,#404688 65.4%,#24868e 77.1%,#22a785 82.9%,#3dbc74 86.4%,#77d153 90.0%,#cfe11e 94.0%,#dee319 95.2%,#dfe318)"></i><i class="p1" style="top:859px;height:2px;background:linear-gradient(90deg,#440154,#440456 43.2%,#450f60 43.8%,#3c4883 45.0%,#287c8d 46.1%,#218e8d 47.3%,#218f8d 56.7%,#34618d 60.7%,#3e4b8a 66.0%,#1f958b 80.0%,#25ab82 83.5%,#48c06e 87.0%,#94d741 91.1%,#d2e21c 94.0%,#dfe318 95.2%,#e0e318)"></i><i class="p1" style="top:861px;height:2px;background:linear-gradient(90deg,#440154,#440255 42.6%,#450658 43.2%,#451464 43.8%,#3a4e85 45.0%,#287e8d 46.1%,#218f8d 47.3%,#218f8d 56.7%,#34618d 61.3%,#3c4e8a 66.0%,#1f968b 80.0%,#27ad81 83.5%,#4cc26c 87.0%,#a6db35 91.7%,#d7e21b 94.0%,#e2e418 95.8%,#e2e418)"></i><i class="p1" style="top:863px;height:2px;background:linear-gradient(90deg,#440154,#440255 42.6%,#45095b 43.2%,#451b69 43.8%,#385488 45.0%,#27808e 46.1%,#218f8d 47.3%,#218f8d 57.2%,#32658e 61.3%,#3b518b 66.0%,#1f978b 80.0%,#29af80 83.5%,#51c469 87.0%,#aedc30 91.7%,#dde319 94.0%,#e3e418 97.5%,#e3e418)"></i><i class="p1" style="top:865px;height:2px;background:linear-gradient(90deg,#440154,#440356 42.6%,#450c5e 43.2%,#3f3e7f 44.4%,#2d728d 45.6%,#238a8d 46.7%,#20928c 49.1%,#21908c 57.2%,#32668e 61.9%,#39558c 66.6%,#1f998a 80.0%,#27ad81 82.9%,#4fc36a 86.4%,#a9db33 91.1%,#dae31a 93.5%,#e5e419 95.2%,#e5e419)"></i><i class="p1" style="top:867px;height:2px;background:linear-gradient(90deg,#440154,#440457 42.6%,#451061 43.2%,#3d4583 44.4%,#2b768d 45.6%,#238b8d 46.7%,#20938c 49.1%,#218f8d 57.8%,#31678e 62.5%,#38588c 66.6%,#1f9b8a 80.0%,#2aaf7f 82.9%,#56c666 86.4%,#c0df25 91.7%,#e1e319 93.5%,#e7e419 97.5%,#e7e419)"></i><i class="p1" style="top:869px;height:2px;background:linear-gradient(90deg,#440154,#440255 42.1%,#45085a 42.6%,#451767 43.2%,#3b4d86 44.4%,#29798e 45.6%,#21908c 47.3%,#20938c 57.2%,#31688e 63.1%,#365c8d 67.2%,#1f9d89 80.0%,#2db27d 82.9%,#5ec961 86.4%,#d7e21b 92.3%,#e7e419 93.5%,#e9e41a)"></i><i class="p1" style="top:871px;height:2px;background:linear-gradient(90deg,#440154,#440356 42.1%,#450b5d 42.6%,#41387d 43.8%,#306b8d 45.0%,#25858e 46.1%,#1f948c 48.5%,#218f8d 58.4%,#2f6b8e 63.1%,#34618d 67.8%,#1f9f88 80.0%,#31b47b 82.9%,#68cc5c 86.4%,#d5e21c 91.7%,#e8e41a 92.9%,#ece51a)"></i><i class="p1" style="top:873px;height:1px;background:linear-gradient(90deg,#440154,#440356 42.1%,#450d5e 42.6%,#403e80 43.8%,#2e6e8d 45.0%,#24868e 46.1%,#1f958b 48.5%,#20918c 58.4%,#2e6e8e 63.1%,#33638d 67.8%,#1fa088 80.0%,#2eb27d 82.4%,#64cb5e 85.9%,#d1e11d 91.1%,#ebe51b 92.9%,#ede51b)"></i><i class="p1" style="top:874px;height:1px;background:linear-gradient(90deg,#440154,#450557 42.1%,#451061 42.6%,#3f4182 43.8%,#2d708d 45.0%,#24868e 46.1%,#1f958b 48.5%,#20928c 58.4%,#2d708e 63.1%,#32658e 67.8%,#1f9e88 79.4%,#29af7f 81.8%,#52c569 84.7%,#d7e21b 91.1%,#eae51b 92.3%,#efe51c)"></i><i class="p1" style="top:875px;height:1px;background:linear-gradient(90deg,#440154,#440255 41.5%,#450659 42.1%,#451364 42.6%,#3e4584 43.8%,#2d728d 45.0%,#24878e 46.1%,#1f968b 49.1%,#20938c 58.4%,#2d708e 63.7%,#30688e 68.3%,#1f9f88 79.4%,#2bb07f 81.8%,#56c666 84.7%,#d0e11d 90.5%,#ede51b 92.3%,#f0e51c)"></i><i class="p1" style="top:876px;height:1px;background:linear-gradient(90deg,#440154,#440255 41.5%,#45085a 42.1%,#461667 42.6%,#3d4985 43.8%,#2c748e 45.0%,#24878e 46.1%,#1f978b 49.1%,#21918c 59.0%,#2d718e 63.7%,#306a8e 68.3%,#1fa187 79.4%,#2cb17e 81.8%,#65cb5d 85.3%,#d6e21c 90.5%,#f0e51c 92.3%,#f1e51d)"></i><i class="p1" style="top:877px;height:2px;background:linear-gradient(90deg,#440154,#440355 41.5%,#450a5c 42.1%,#43347b 43.2%,#32648c 44.4%,#26818e 45.6%,#1f978b 48.5%,#20928c 59.0%,#2c748e 63.7%,#2e6e8e 68.9%,#20a387 79.4%,#2fb37c 81.8%,#60c961 84.7%,#d2e21d 90.0%,#efe51c 91.7%,#f3e61e)"></i><i class="p1" style="top:879px;height:2px;background:linear-gradient(90deg,#440154,#440356 41.5%,#450c5e 42.1%,#413a7f 43.2%,#30698d 44.4%,#26828e 45.6%,#1f988b 49.1%,#20948c 59.0%,#2b758e 64.3%,#2d718e 68.9%,#20a287 78.9%,#2bb07e 81.2%,#5cc863 84.1%,#d1e11d 89.4%,#f0e51d 91.1%,#f5e61f 99.3%,#f5e61f)"></i><i class="p1" style="top:881px;height:2px;background:linear-gradient(90deg,#440154,#440255 40.9%,#450658 41.5%,#461263 42.1%,#3f4182 43.2%,#2f6c8d 44.4%,#26828e 45.6%,#1f998a 49.1%,#20938c 59.6%,#2a788e 64.3%,#2b768e 69.5%,#1fa187 78.3%,#2fb37c 81.2%,#63ca5f 84.1%,#d0e11d 88.8%,#f0e51d 90.5%,#f7e620 92.9%,#f7e620)"></i><i class="p1" style="top:883px;height:2px;background:linear-gradient(90deg,#440154,#440255 40.9%,#45085a 41.5%,#442e78 42.6%,#355d8b 43.8%,#287b8e 45.0%,#1f9a8a 49.1%,#1f958b 59.6%,#297a8e 64.8%,#297b8e 70.1%,#20a486 78.3%,#32b57a 81.2%,#6acd5a 84.1%,#cee11e 88.2%,#efe51d 90.0%,#f9e622 91.7%,#f9e622)"></i><i class="p1" style="top:885px;height:2px;background:linear-gradient(90deg,#440154,#440355 40.9%,#450a5c 41.5%,#43337c 42.6%,#34618c 43.8%,#287d8e 45.0%,#1f9a8a 49.1%,#1f978b 59.6%,#287c8e 64.8%,#27808e 70.7%,#20a387 77.7%,#2fb37c 80.6%,#56c666 82.9%,#cce11f 87.6%,#ece51c 89.4%,#fbe723 91.1%,#fbe723)"></i><i class="p1" style="top:887px;height:2px;background:linear-gradient(90deg,#440154,#440456 40.9%,#450c5e 41.5%,#42387e 42.6%,#32648c 43.8%,#287e8e 45.0%,#1f9a8a 49.1%,#1f968b 60.2%,#277e8e 65.4%,#26828e 70.7%,#21a585 77.7%,#32b57a 80.6%,#5cc863 82.9%,#d4e21c 87.6%,#f9e622 90.0%,#fce724)"></i><i class="p1" style="top:889px;height:2px;background:linear-gradient(90deg,#440154,#450558 40.9%,#461062 41.5%,#413c80 42.6%,#31668d 43.8%,#277e8e 45.0%,#1f9b8a 49.1%,#1f978b 60.2%,#26818e 65.4%,#24878e 71.3%,#20a486 77.1%,#36b878 80.6%,#61ca60 82.9%,#cee11e 87.0%,#efe51d 88.8%,#fde724 90.5%,#fde725)"></i><i class="p1" style="top:891px;height:3px;background:linear-gradient(90deg,#440154,#440255 40.3%,#450759 40.9%,#452975 42.1%,#38568a 43.2%,#2b768e 44.4%,#1f9b8a 49.1%,#1f988a 60.2%,#25838e 65.4%,#228d8d 71.8%,#22a785 77.1%,#3bba75 80.6%,#68cc5c 82.9%,#d5e21c 87.0%,#f9e722 89.4%,#fde725)"></i><i class="p1" style="top:894px;height:3px;background:linear-gradient(90deg,#440154,#440255 40.3%,#45085b 40.9%,#442c77 42.1%,#37588b 43.2%,#2a778e 44.4%,#1f9b8a 49.1%,#1f9a8a 60.2%,#24868e 66.0%,#20938c 72.4%,#24aa83 77.1%,#41bd72 80.6%,#6fce58 82.9%,#cce11f 86.4%,#eee51c 88.2%,#fde724 90.0%,#fde725)"></i><i class="p1" style="top:897px;height:3px;background:linear-gradient(90deg,#440154,#440355 40.3%,#45095b 40.9%,#442f79 42.1%,#375a8b 43.2%,#2b768e 44.4%,#1f9b8a 49.1%,#1f9b8a 60.2%,#23898e 66.0%,#1f998a 73.0%,#27ad81 77.1%,#48c06e 80.6%,#77d053 82.9%,#d2e11d 86.4%,#efe51c 88.2%,#fde725 90.5%,#fde725)"></i><i class="p1" style="top:900px;height:2px;background:linear-gradient(90deg,#440154,#440355 40.3%,#450a5c 40.9%,#3e4786 42.6%,#2f6c8e 43.8%,#26828e 45.6%,#1e9c8a 49.6%,#1f9b8a 60.2%,#228c8d 66.6%,#1fa088 74.2%,#2fb37c 77.7%,#58c765 81.2%,#bade29 85.3%,#e3e41a 87.0%,#fce724 90.0%,#fde725)"></i><i class="p1" style="top:902px;height:2px;background:linear-gradient(90deg,#440154,#440356 40.3%,#450a5d 40.9%,#3e4886 42.6%,#2f6c8e 43.8%,#26828e 45.6%,#1e9b8a 49.6%,#1f9c8a 60.2%,#218e8d 66.6%,#21a585 74.8%,#38b977 78.3%,#5ec962 81.2%,#cfe11e 85.9%,#ede51b 87.6%,#fde725 91.1%,#fde725)"></i><i class="p1" style="top:904px;height:2px;background:linear-gradient(90deg,#440154,#440356 40.3%,#450b5d 40.9%,#3d4986 42.6%,#2f6c8e 43.8%,#24868e 46.1%,#1e9b8a 49.6%,#1f9c89 60.2%,#21908d 66.6%,#22a784 74.8%,#3dbb74 78.3%,#65cb5e 81.2%,#d5e21c 85.9%,#eee51c 87.6%,#fde725 91.7%,#fde725)"></i><i class="p1" style="top:906px;height:2px;background:linear-gradient(90deg,#440154,#440456 40.3%,#450c5e 40.9%,#3d4a87 42.6%,#2f6d8e 43.8%,#238b8d 46.7%,#1e9b8a 49.6%,#1e9c89 60.2%,#20928c 66.6%,#24aa83 74.8%,#42be72 78.3%,#6ccd5a 81.2%,#cee11f 85.3%,#ede51b 87.0%,#fde725 92.3%,#fde725)"></i><i class="p1" style="top:908px;height:2px;background:linear-gradient(90deg,#440154,#450457 40.3%,#460d5f 40.9%,#3d4b87 42.6%,#2f6d8e 43.8%,#238b8d 46.7%,#1f9a8a 49.6%,#1f9d89 60.2%,#1f958b 67.2%,#24aa83 74.2%,#40bd73 77.7%,#73cf55 81.2%,#d5e21c 85.3%,#ebe51b 86.4%,#fde725 92.9%,#fde725)"></i><i class="p1" style="top:910px;height:2px;background:linear-gradient(90deg,#440154,#450557 40.3%,#460e60 40.9%,#3c4c87 42.6%,#2f6d8e 43.8%,#20948c 47.9%,#1fa088 58.4%,#1f978b 67.2%,#26ac81 74.2%,#44bf70 77.7%,#7bd250 81.2%,#cee11e 84.7%,#efe51c 86.4%,#fde725 94.0%,#fde725)"></i><i class="p1" style="top:912px;height:2px;background:linear-gradient(90deg,#440154,#450558 40.3%,#460f61 40.9%,#3c4c88 42.6%,#2e6d8e 43.8%,#20948c 47.9%,#1fa088 59.0%,#1f998a 67.2%,#28ae80 74.2%,#42be71 77.1%,#83d44b 81.2%,#d6e21c 84.7%,#ede51c 85.9%,#fde725 92.9%,#fde725)"></i><i class="p1" style="top:914px;height:2px;background:linear-gradient(90deg,#440154,#450558 40.3%,#462371 41.5%,#3c4d88 42.6%,#2e6d8e 43.8%,#20948c 47.9%,#1fa187 58.4%,#1f9b8a 67.2%,#2bb17e 74.2%,#47c06f 77.1%,#8bd546 81.2%,#d1e11e 84.1%,#f1e51d 85.9%,#fde725 95.8%,#fde725)"></i><i class="p1" style="top:916px;height:2px;background:linear-gradient(90deg,#440154,#440255 39.7%,#461163 40.9%,#3c4d88 42.6%,#2e6d8e 43.8%,#1f968b 48.5%,#1fa287 58.4%,#1f9c89 67.2%,#2eb37d 74.2%,#4cc26c 77.1%,#93d741 81.2%,#d9e21c 84.1%,#efe51d 85.3%,#fae723 90.5%,#fde725)"></i><i class="p1" style="top:918px;height:2px;background:linear-gradient(90deg,#440154,#440255 39.7%,#461264 40.9%,#423a80 42.1%,#2f6d8e 43.8%,#20938c 47.9%,#20a387 57.8%,#1f9e89 67.2%,#31b57b 74.2%,#49c16e 76.5%,#8fd644 80.6%,#d3e21d 83.5%,#f3e61e 85.3%,#fde725 98.1%,#fde725)"></i><i class="p1" style="top:920px;height:2px;background:linear-gradient(90deg,#440154,#440255 39.7%,#461364 40.9%,#423a80 42.1%,#2f6d8e 43.8%,#1f968b 48.5%,#20a386 57.8%,#1fa088 67.2%,#38b977 74.8%,#6acd5b 78.3%,#b2dd2d 81.8%,#dce31b 83.5%,#f2e61e 84.7%,#fbe723 89.4%,#fde725)"></i><i class="p1" style="top:922px;height:2px;background:linear-gradient(90deg,#440154,#440255 39.7%,#461365 40.9%,#423b81 42.1%,#2f6d8e 43.8%,#20938c 47.9%,#20a486 57.2%,#20a386 67.8%,#3bbb75 74.8%,#70cf57 78.3%,#c8e021 82.4%,#efe51d 84.1%,#f9e622 85.9%,#fde725)"></i><i class="p1" style="top:924px;height:2px;background:linear-gradient(90deg,#440154,#440255 39.7%,#461465 40.9%,#423c81 42.1%,#2f6c8e 43.8%,#20938c 47.9%,#21a586 56.7%,#21a586 67.8%,#3fbc73 74.8%,#6bcd5a 77.7%,#c3df24 81.8%,#ebe51c 83.5%,#f9e722 84.7%,#fde725)"></i><i class="p1" style="top:926px;height:2px;background:linear-gradient(90deg,#440154,#440255 39.7%,#461566 40.9%,#423c81 42.1%,#2f6c8e 43.8%,#20938c 47.9%,#21a685 56.1%,#21a685 67.8%,#42be72 74.8%,#71cf57 77.7%,#d9e21c 82.4%,#f8e621 84.1%,#fde725)"></i><i class="p1" style="top:928px;height:2px;background:linear-gradient(90deg,#440154,#440255 39.7%,#45085a 40.3%,#452976 41.5%,#3b5089 42.6%,#2f6c8e 43.8%,#20938c 47.9%,#21a685 56.1%,#22a784 67.8%,#45bf70 74.8%,#76d054 77.7%,#d2e21d 81.8%,#f6e620 83.5%,#fde725 89.4%,#fde725)"></i><i class="p1" style="top:930px;height:2px;background:linear-gradient(90deg,#440154,#440255 39.7%,#45085b 40.3%,#413d82 42.1%,#2f6c8e 43.8%,#20928c 47.9%,#22a785 55.5%,#23a884 67.8%,#48c06e 74.8%,#7bd151 77.7%,#dae31c 81.8%,#fae723 83.5%,#fde725)"></i><i class="p1" style="top:932px;height:2px;background:linear-gradient(90deg,#440154,#440255 39.7%,#45085b 40.3%,#413e82 42.1%,#2f6c8e 43.8%,#20928c 47.9%,#22a785 55.5%,#24a983 67.8%,#46c06f 74.2%,#5bc863 75.9%,#d2e21d 81.2%,#f8e622 82.9%,#fde725 87.0%,#fde725)"></i><i class="p1" style="top:934px;height:2px;background:linear-gradient(90deg,#440154,#440355 39.7%,#45095b 40.3%,#413e83 42.1%,#2f6c8e 43.8%,#20928c 47.9%,#22a784 54.9%,#24aa83 67.8%,#46c06f 73.6%,#54c568 75.4%,#addc31 79.4%,#d9e21c 81.2%,#fae723 82.9%,#fde725)"></i><i class="p1" style="top:936px;height:3px;background:linear-gradient(90deg,#440154,#440355 39.7%,#45095b 40.3%,#413f83 42.1%,#2f6c8e 43.8%,#20928c 47.9%,#22a884 54.9%,#25ab82 67.8%,#48c06e 73.6%,#56c666 75.4%,#b3dd2d 79.4%,#e1e31b 81.2%,#f8e622 82.4%,#fde725 87.6%,#fde725)"></i><i class="p1" style="top:939px;height:3px;background:linear-gradient(90deg,#440154,#440355 39.7%,#45095c 40.3%,#414084 42.1%,#2e6d8e 43.8%,#20938c 47.9%,#22a884 54.9%,#25ab82 67.8%,#47c06f 73.0%,#50c46a 74.8%,#7ed24e 77.1%,#cae021 80.0%,#e9e41d 81.2%,#fbe723 82.4%,#fde725)"></i><i class="p1" style="top:942px;height:3px;background:linear-gradient(90deg,#440154,#440355 39.7%,#450a5c 40.3%,#404184 42.1%,#2e6e8e 43.8%,#20938c 47.9%,#22a884 54.9%,#25ab82 67.8%,#4ac16d 73.6%,#59c764 75.4%,#b0dd2f 78.9%,#e2e41c 80.6%,#f9e722 81.8%,#fde725)"></i><i class="p1" style="top:945px;height:2px;background:linear-gradient(90deg,#440154,#440356 39.7%,#450a5d 40.3%,#404284 42.1%,#2e6e8e 43.8%,#20938c 47.9%,#22a884 54.9%,#26ac81 67.8%,#4ac16d 73.6%,#5cc863 75.4%,#c8e022 79.4%,#e9e41d 80.6%,#fbe723 81.8%,#fde725)"></i><i class="p1" style="top:947px;height:2px;background:linear-gradient(90deg,#440154,#440356 39.7%,#450b5d 40.3%,#404385 42.1%,#33648d 43.2%,#24868e 46.1%,#1fa188 51.4%,#22a884 56.7%,#25ab82 67.2%,#4ec36b 74.2%,#6fce58 75.9%,#cfe11f 79.4%,#f8e622 81.2%,#fde725 87.6%,#fde725)"></i><i class="p1" style="top:949px;height:2px;background:linear-gradient(90deg,#440154,#440356 39.7%,#450b5e 40.3%,#3f4485 42.1%,#32648d 43.2%,#24878e 46.1%,#21a586 52.6%,#26ac81 67.2%,#50c469 74.2%,#85d44a 76.5%,#d7e21c 79.4%,#f3e61f 80.6%,#fde725 82.4%,#fde725)"></i><i class="p1" style="top:951px;height:2px;background:linear-gradient(90deg,#440154,#450456 39.7%,#460c5e 40.3%,#3f4485 42.1%,#32658d 43.2%,#24878e 46.1%,#21a586 52.6%,#27ad81 67.2%,#4dc36b 73.6%,#6ece58 75.4%,#cfe11e 78.9%,#f7e621 80.6%,#fde725 84.1%,#fde725)"></i><i class="p1" style="top:953px;height:2px;background:linear-gradient(90deg,#440154,#450457 39.7%,#460c5f 40.3%,#3f4585 42.1%,#32658d 43.2%,#228c8d 46.7%,#22a884 54.3%,#26ac82 66.6%,#4fc36a 73.6%,#84d44a 75.9%,#c7e022 78.3%,#e4e41b 79.4%,#f9e722 80.6%,#fde725)"></i><i class="p2" style="top:696px;height:1px;background:linear-gradient(90deg,#fde725,#fce725 47.9%,#f1e12b 48.5%,#bec442 49.1%,#6f8363 49.6%,#463c69 50.2%,#43125d 50.8%,#440456 51.4%,#440154)"></i><i class="p2" style="top:697px;height:1px;background:linear-gradient(90deg,#fde725,#fce725 47.9%,#f1e02b 48.5%,#bfc243 49.1%,#6e8a69 49.6%,#425074 50.2%,#3f1f64 50.8%,#430757 51.4%,#440154 53.7%,#440154)"></i><i class="p2" style="top:698px;height:1px;background:linear-gradient(90deg,#fde725,#fce625 47.9%,#f2dd2a 48.5%,#c5b441 49.1%,#7b6d64 49.6%,#4e356f 50.2%,#441462 50.8%,#440557 51.4%,#440154)"></i><i class="p2" style="top:699px;height:1px;background:linear-gradient(90deg,#fde725,#fbe626 47.9%,#eedb2c 48.5%,#bfaf43 49.1%,#786664 49.6%,#4f3270 50.2%,#461665 50.8%,#440759 51.4%,#440154 55.5%,#440154)"></i><i class="p2" style="top:700px;height:1px;background:linear-gradient(90deg,#fde725,#fde725 47.3%,#f4e329 47.9%,#cdd03a 48.5%,#889c5a 49.1%,#575c74 49.6%,#48377a 50.2%,#450f60 51.4%,#440456 52.0%,#440154)"></i><i class="p2" style="top:701px;height:2px;background:linear-gradient(90deg,#fde725,#fce725 47.3%,#f1e12b 47.9%,#bfc543 48.5%,#718b69 49.1%,#49527d 49.6%,#45377e 50.2%,#440658 52.0%,#440154 63.7%,#440154)"></i><i class="p2" style="top:703px;height:1px;background:linear-gradient(90deg,#fde725,#fce725 47.3%,#f1e02b 47.9%,#c1bf43 48.5%,#748069 49.1%,#4b4c7e 49.6%,#453780 50.2%,#452271 51.4%,#450f60 52.0%,#440456 52.6%,#440154)"></i><i class="p2" style="top:704px;height:1px;background:linear-gradient(90deg,#fde725,#fbe626 47.3%,#eedc2c 47.9%,#beb143 48.5%,#776c67 49.1%,#4f407b 49.6%,#46317d 50.8%,#440557 52.6%,#440154)"></i><i class="p2" style="top:705px;height:1px;background:linear-gradient(90deg,#fde725,#fce725 46.7%,#f2e329 47.3%,#c9cf3b 47.9%,#869c5a 48.5%,#575d74 49.1%,#483c7e 49.6%,#46327e 50.8%,#462a78 51.4%,#450a5b 52.6%,#440154 53.7%,#440154)"></i><i class="p2" style="top:706px;height:1px;background:linear-gradient(90deg,#fde725,#fde725 46.1%,#f6e527 46.7%,#d7da34 47.3%,#96ba52 47.9%,#598572 48.5%,#44527f 49.1%,#453980 49.6%,#46307d 51.4%,#440456 53.2%,#440154)"></i><i class="p2" style="top:707px;height:1px;background:linear-gradient(90deg,#fde725,#fae626 46.1%,#e6df2e 46.7%,#adc649 47.3%,#619e6e 47.9%,#3c7383 48.5%,#3d4d83 49.1%,#443981 49.6%,#46317e 51.4%,#452674 52.0%,#440557 53.2%,#440154)"></i><i class="p2" style="top:708px;height:1px;background:linear-gradient(90deg,#fde725,#fbe626 45.6%,#ede12c 46.1%,#b9cb45 46.7%,#69a76b 47.3%,#398584 47.9%,#346688 48.5%,#3e4884 49.1%,#443981 49.6%,#452f7b 52.0%,#450d5f 53.2%,#440154 54.3%,#440154)"></i><i class="p2" style="top:709px;height:1px;background:linear-gradient(90deg,#fde725,#fbe725 45.0%,#f0e32a 45.6%,#c3d23e 46.1%,#77b162 46.7%,#3f9080 47.3%,#31748a 47.9%,#375989 48.5%,#3e4986 49.1%,#404283 52.0%,#403579 52.6%,#430d5c 53.7%,#440154 55.5%,#440154)"></i><i class="p2" style="top:710px;height:1px;background:linear-gradient(90deg,#fde725,#fce725 43.2%,#f2e428 44.4%,#e5e02d 45.0%,#c4d43b 45.6%,#4a9b79 46.7%,#2d868a 47.3%,#2c738d 48.5%,#2d718a 52.6%,#306383 53.2%,#41145e 54.9%,#440455 56.1%,#440154)"></i><i class="p2" style="top:711px;height:1px;background:linear-gradient(90deg,#fde725,#fce725 41.5%,#f1e429 42.6%,#e3df2e 43.2%,#c8d738 43.8%,#70b560 45.0%,#4ba176 45.6%,#349284 46.1%,#248a8d 47.3%,#219888 53.2%,#239386 53.7%,#278583 54.3%,#30667c 54.9%,#3f2063 56.1%,#42105b 56.7%,#440154 60.2%,#440154)"></i><i class="p2" style="top:712px;height:1px;background:linear-gradient(90deg,#fde725,#fbe725 39.7%,#eee32a 40.9%,#dede31 41.5%,#bfd53d 42.1%,#65b067 43.2%,#459e79 43.8%,#349184 44.4%,#25878d 46.1%,#21a186 54.3%,#269483 55.5%,#3a4072 57.8%,#42165e 59.6%,#420c59 61.9%,#450f57)"></i><i class="p2" style="top:713px;height:1px;background:linear-gradient(90deg,#fde725,#f9e626 35.0%,#e9e12c 39.1%,#d8dc32 39.7%,#b5d141 40.3%,#5cab6d 41.5%,#409a7d 42.1%,#2b898a 43.2%,#23888e 46.1%,#21a685 54.9%,#289f80 57.8%,#2e8380 59.6%,#346a7c 60.7%,#3a6c77 69.5%,#567e67)"></i><i class="p2" style="top:714px;height:1px;background:linear-gradient(90deg,#fde725,#f9e626 27.5%,#e3df2d 33.3%,#bed63b 35.6%,#7cbc5a 38.6%,#3b9680 40.3%,#2a898b 41.5%,#24878e 45.0%,#21a685 54.9%,#2bab7f 60.2%,#8cce46 98.1%,#90cf43)"></i><i class="p2" style="top:715px;height:1px;background:linear-gradient(90deg,#fde725,#f8e626 19.3%,#e6df2d 25.1%,#c5d839 27.5%,#53a970 32.7%,#389582 35.0%,#25858e 41.5%,#1f998a 51.4%,#2bb07f 60.2%,#83d44c 92.9%,#98d83e)"></i><i class="p2" style="top:716px;height:1px;background:linear-gradient(90deg,#fde725,#f8e626 9.9%,#e1de2d 16.9%,#b7d43e 19.9%,#46a078 25.7%,#368f84 28.0%,#25848e 36.2%,#20928c 49.6%,#26ad81 57.8%,#74d055 88.2%,#98d83e)"></i><i class="p2" style="top:717px;height:1px;background:linear-gradient(90deg,#f8e626,#e4df2c 7.0%,#bed63c 9.9%,#4da474 16.4%,#399382 18.7%,#29858c 25.1%,#24878e 40.9%,#1f968b 50.8%,#2ab07f 59.6%,#7cd250 90.5%,#98d93e)"></i><i class="p2" style="top:718px;height:1px;background:linear-gradient(90deg,#c2d63b,#5bab6b 5.8%,#3b9480 8.8%,#308689 13.4%,#27808e 21.6%,#26818e 38.0%,#1f978b 50.8%,#2db17d 59.0%,#70cf57 82.9%,#9fda39)"></i><i class="p2" style="top:719px;height:1px;background:linear-gradient(90deg,#388d84,#277f8e 10.5%,#2b758e 23.4%,#31688d 29.8%,#1f958b 50.2%,#25ab82 54.9%,#58c765 65.4%,#78d152 74.2%,#b1dd2e)"></i><i class="p2" style="top:720px;height:1px;background:linear-gradient(90deg,#287e8e,#2c728d 12.9%,#3c4f89 23.4%,#3a538b 30.4%,#2b768e 39.7%,#1f998a 50.8%,#2aaf7f 54.9%,#6acd5a 63.1%,#92d742 70.7%,#c3e023)"></i><i class="p2" style="top:721px;height:1px;background:linear-gradient(90deg,#2b758d,#33628a 5.8%,#423c81 13.4%,#443982 27.5%,#414085 31.0%,#2f6d8e 38.6%,#228d8d 48.5%,#23a884 53.2%,#40bd73 56.7%,#7cd250 61.3%,#b0dd2f 68.9%,#d5e21b)"></i><i class="p2" style="top:722px;height:1px;background:linear-gradient(90deg,#3e3f7e,#462673 6.4%,#472877 30.4%,#355d8d 36.8%,#228d8d 48.5%,#22a785 52.6%,#3aba76 55.5%,#91d742 60.7%,#cae020 67.2%,#e4e419)"></i><i class="p2" style="top:723px;height:1px;background:linear-gradient(90deg,#461566,#481b6c 31.5%,#3e4988 35.6%,#34608d 38.6%,#287d8e 45.6%,#21a486 52.0%,#37b877 54.9%,#6dce59 57.8%,#aadc32 60.7%,#d9e21c 64.8%,#e3e41a 67.8%,#f0e51d)"></i><i class="p2" style="top:724px;height:1px;background:linear-gradient(90deg,#46085b,#470e61 32.1%,#423f85 35.6%,#38598c 38.0%,#2a778e 45.0%,#20a187 51.4%,#34b679 54.3%,#5dc862 56.7%,#b4dd2c 60.2%,#dee31b 63.1%,#f0e51e 64.8%,#f8e621)"></i><i class="p2" style="top:725px;height:1px;background:linear-gradient(90deg,#440255,#450457 32.1%,#472474 34.5%,#3b508b 37.4%,#287d8e 46.1%,#20a187 51.4%,#35b779 54.3%,#53c568 56.1%,#c0df25 60.2%,#e5e41a 62.5%,#f9e722 64.3%,#fde724)"></i><i class="p2" style="top:726px;height:2px;background:linear-gradient(90deg,#440154,#450356 32.7%,#472776 35.0%,#3d4c89 37.4%,#25848e 47.3%,#22a685 52.0%,#3ebc74 54.9%,#73cf55 57.2%,#c4e022 60.2%,#e3e41a 61.9%,#fbe723 63.7%,#fde725)"></i><i class="p2" style="top:728px;height:2px;background:linear-gradient(90deg,#440154,#450456 33.3%,#45347f 36.2%,#3d4c8a 38.0%,#24878e 47.9%,#22a685 52.0%,#3ebc74 54.9%,#73cf55 57.2%,#c5e022 60.2%,#e8e41b 61.9%,#fce724 63.7%,#fde725)"></i><i class="p2" style="top:730px;height:2px;background:linear-gradient(90deg,#440154,#450457 33.9%,#443781 36.8%,#3d4c8a 38.6%,#20948c 49.6%,#25aa82 52.6%,#3ebc74 54.9%,#73cf55 57.2%,#c7e021 60.2%,#ece51d 61.9%,#fde724 63.7%,#fde725)"></i><i class="p2" style="top:732px;height:8px;background:linear-gradient(90deg,#440154,#440255 33.9%,#47186a 35.6%,#414286 38.0%,#24878e 47.9%,#22a685 52.0%,#3ebc74 54.9%,#73cf55 57.2%,#c8e021 60.2%,#e4e41b 61.3%,#f9e722 62.5%,#fde725)"></i><i class="p2" style="top:740px;height:8px;background:linear-gradient(90deg,#440154,#450558 34.5%,#443882 37.4%,#3a528b 40.3%,#1f988a 50.2%,#29af80 53.2%,#48c06e 55.5%,#96d83f 58.4%,#c8e021 60.2%,#e5e41b 61.3%,#f9e722 62.5%,#fde725)"></i><i class="p2" style="top:748px;height:8px;background:linear-gradient(90deg,#440154,#450558 34.5%,#443882 37.4%,#3a528b 40.3%,#1f988a 50.2%,#29af80 53.2%,#48c06e 55.5%,#96d83f 58.4%,#c8e021 60.2%,#e5e41b 61.3%,#f9e722 62.5%,#fde725)"></i><i class="p2" style="top:756px;height:8px;background:linear-gradient(90deg,#440154,#450558 34.5%,#443882 37.4%,#3a528b 40.3%,#1f988a 50.2%,#29af80 53.2%,#48c06e 55.5%,#96d83f 58.4%,#c8e021 60.2%,#e5e41b 61.3%,#f9e722 62.5%,#fde725)"></i><i class="p2" style="top:764px;height:8px;background:linear-gradient(90deg,#440154,#450558 34.5%,#443882 37.4%,#3a528b 40.3%,#1f988a 50.2%,#29af80 53.2%,#48c06e 55.5%,#96d83f 58.4%,#c8e021 60.2%,#e5e41b 61.3%,#f9e722 62.5%,#fde725)"></i><i class="p2" style="top:772px;height:8px;background:linear-gradient(90deg,#440154,#450558 34.5%,#443882 37.4%,#3a528b 40.3%,#1f988a 50.2%,#29af80 53.2%,#48c06e 55.5%,#96d83f 58.4%,#c8e021 60.2%,#e5e41b 61.3%,#f9e722 62.5%,#fde725)"></i><i class="p2" style="top:780px;height:8px;background:linear-gradient(90deg,#440154,#450558 34.5%,#443882 37.4%,#3a528b 40.3%,#1f988a 50.2%,#29af80 53.2%,#48c06e 55.5%,#96d83f 58.4%,#c8e021 60.2%,#e5e41b 61.3%,#f9e722 62.5%,#fde725)"></i><i class="p2" style="top:788px;height:8px;background:linear-gradient(90deg,#440154,#450558 34.5%,#443882 37.4%,#3a528b 40.3%,#1f988a 50.2%,#29af80 53.2%,#48c06e 55.5%,#96d83f 58.4%,#c8e021 60.2%,#e5e41b 61.3%,#f9e722 62.5%,#fde725)"></i><i class="p2" style="top:796px;height:8px;background:linear-gradient(90deg,#440154,#450558 34.5%,#443882 37.4%,#3a528b 40.3%,#1f988a 50.2%,#29af80 53.2%,#48c06e 55.5%,#96d83f 58.4%,#c8e021 60.2%,#e5e41b 61.3%,#f9e722 62.5%,#fde725)"></i><i class="p2" style="top:804px;height:8px;background:linear-gradient(90deg,#440154,#450558 34.5%,#443882 37.4%,#3a528b 40.3%,#1f988a 50.2%,#29af80 53.2%,#48c06e 55.5%,#96d83f 58.4%,#c8e021 60.2%,#e5e41b 61.3%,#f9e722 62.5%,#fde725)"></i><i class="p2" style="top:812px;height:8px;background:linear-gradient(90deg,#440154,#450558 34.5%,#443882 37.4%,#3a528b 40.3%,#1f988a 50.2%,#29af80 53.2%,#48c06e 55.5%,#96d83f 58.4%,#c8e021 60.2%,#e5e41b 61.3%,#f9e722 62.5%,#fde725)"></i><i class="p2" style="top:820px;height:8px;background:linear-gradient(90deg,#440154,#450558 34.5%,#443882 37.4%,#3a528b 40.3%,#1f988a 50.2%,#29af80 53.2%,#48c06e 55.5%,#96d83f 58.4%,#c8e021 60.2%,#e5e41b 61.3%,#f9e722 62.5%,#fde725)"></i><i class="p2" style="top:828px;height:8px;background:linear-gradient(90deg,#440154,#450558 34.5%,#443882 37.4%,#3a528b 40.3%,#1f988a 50.2%,#29af80 53.2%,#48c06e 55.5%,#96d83f 58.4%,#c8e021 60.2%,#e5e41b 61.3%,#f9e722 62.5%,#fde725)"></i><i class="p2" style="top:836px;height:8px;background:linear-gradient(90deg,#440154,#450558 34.5%,#443882 37.4%,#3a528b 40.3%,#1f988a 50.2%,#29af80 53.2%,#48c06e 55.5%,#96d83f 58.4%,#c8e021 60.2%,#e5e41b 61.3%,#f9e722 62.5%,#fde725)"></i><i class="p2" style="top:844px;height:8px;background:linear-gradient(90deg,#440154,#450558 34.5%,#443882 37.4%,#3a528b 40.3%,#1f988a 50.2%,#29af80 53.2%,#48c06e 55.5%,#96d83f 58.4%,#c8e021 60.2%,#e5e41b 61.3%,#f9e722 62.5%,#fde725)"></i><i class="p2" style="top:852px;height:8px;background:linear-gradient(90deg,#440154,#450558 34.5%,#443882 37.4%,#3a528b 40.3%,#1f988a 50.2%,#29af80 53.2%,#48c06e 55.5%,#96d83f 58.4%,#c8e021 60.2%,#e5e41b 61.3%,#f9e722 62.5%,#fde725)"></i><i class="p2" style="top:860px;height:8px;background:linear-gradient(90deg,#440154,#450558 34.5%,#443882 37.4%,#3a528b 40.3%,#1f988a 50.2%,#29af80 53.2%,#48c06e 55.5%,#96d83f 58.4%,#c8e021 60.2%,#e5e41b 61.3%,#f9e722 62.5%,#fde725)"></i><i class="p2" style="top:868px;height:8px;background:linear-gradient(90deg,#440154,#450558 34.5%,#443882 37.4%,#3a528b 40.3%,#1f988a 50.2%,#29af80 53.2%,#48c06e 55.5%,#96d83f 58.4%,#c8e021 60.2%,#e5e41b 61.3%,#f9e722 62.5%,#fde725)"></i><i class="p2" style="top:876px;height:8px;background:linear-gradient(90deg,#440154,#450558 34.5%,#443882 37.4%,#3a528b 40.3%,#1f988a 50.2%,#29af80 53.2%,#48c06e 55.5%,#96d83f 58.4%,#c8e021 60.2%,#e5e41b 61.3%,#f9e722 62.5%,#fde725)"></i><i class="p2" style="top:884px;height:8px;background:linear-gradient(90deg,#440154,#450558 34.5%,#443882 37.4%,#3a528b 40.3%,#1f988a 50.2%,#29af80 53.2%,#48c06e 55.5%,#96d83f 58.4%,#c8e021 60.2%,#e5e41b 61.3%,#f9e722 62.5%,#fde725)"></i><i class="p2" style="top:892px;height:8px;background:linear-gradient(90deg,#440154,#450558 34.5%,#443882 37.4%,#3a528b 40.3%,#1f988a 50.2%,#29af80 53.2%,#48c06e 55.5%,#96d83f 58.4%,#c8e021 60.2%,#e5e41b 61.3%,#f9e722 62.5%,#fde725)"></i><i class="p2" style="top:900px;height:8px;background:linear-gradient(90deg,#440154,#450558 34.5%,#443882 37.4%,#3a528b 40.3%,#1f988a 50.2%,#29af80 53.2%,#48c06e 55.5%,#96d83f 58.4%,#c8e021 60.2%,#e5e41b 61.3%,#f9e722 62.5%,#fde725)"></i><i class="p2" style="top:908px;height:8px;background:linear-gradient(90deg,#440154,#450558 34.5%,#443882 37.4%,#3a528b 40.3%,#1f988a 50.2%,#29af80 53.2%,#48c06e 55.5%,#96d83f 58.4%,#c8e021 60.2%,#e5e41b 61.3%,#f9e722 62.5%,#fde725)"></i><i class="p2" style="top:916px;height:8px;background:linear-gradient(90deg,#440154,#450558 34.5%,#443882 37.4%,#3a528b 40.3%,#1f988a 50.2%,#29af80 53.2%,#48c06e 55.5%,#96d83f 58.4%,#c8e021 60.2%,#e5e41b 61.3%,#f9e722 62.5%,#fde725)"></i><i class="p2" style="top:924px;height:8px;background:linear-gradient(90deg,#440154,#450558 34.5%,#443882 37.4%,#3a528b 40.3%,#1f988a 50.2%,#29af80 53.2%,#48c06e 55.5%,#96d83f 58.4%,#c8e021 60.2%,#e5e41b 61.3%,#f9e722 62.5%,#fde725)"></i><i class="p2" style="top:932px;height:8px;background:linear-gradient(90deg,#440154,#450558 34.5%,#443882 37.4%,#3a528b 40.3%,#1f988a 50.2%,#29af80 53.2%,#48c06e 55.5%,#96d83f 58.4%,#c8e021 60.2%,#e5e41b 61.3%,#f9e722 62.5%,#fde725)"></i><i class="p2" style="top:940px;height:8px;background:linear-gradient(90deg,#440154,#450558 34.5%,#443882 37.4%,#3a528b 40.3%,#1f988a 50.2%,#29af80 53.2%,#48c06e 55.5%,#96d83f 58.4%,#c8e021 60.2%,#e5e41b 61.3%,#f9e722 62.5%,#fde725)"></i><i class="p2" style="top:948px;height:7px;background:linear-gradient(90deg,#440154,#450558 34.5%,#443882 37.4%,#3a528b 40.3%,#1f988a 50.2%,#29af80 53.2%,#48c06e 55.5%,#96d83f 58.4%,#c8e021 60.2%,#e5e41b 61.3%,#f9e722 62.5%,#fde725)"></i><i class="p3" style="top:696px;height:2px;background:linear-gradient(90deg,#fde725,#fce725 47.9%,#f2e529 48.5%,#c5d73c 49.1%,#75b35e 49.6%,#43726f 50.2%,#3d2d63 50.8%,#420a57 51.4%,#440154 52.6%,#440154)"></i><i class="p3" style="top:698px;height:1px;background:linear-gradient(90deg,#fde725,#fce725 47.9%,#f2e429 48.5%,#c4d63d 49.1%,#74b061 49.6%,#427573 50.2%,#3c366a 50.8%,#42105c 51.4%,#440355 52.0%,#440154)"></i><i class="p3" style="top:699px;height:1px;background:linear-gradient(90deg,#fde725,#fce725 47.9%,#f2e12a 48.5%,#c1c741 49.1%,#739567 49.6%,#426a7d 50.2%,#374c77 50.8%,#3d2464 51.4%,#420857 52.0%,#440154 53.2%,#440154)"></i><i class="p3" style="top:700px;height:1px;background:linear-gradient(90deg,#fde725,#fce625 47.9%,#f2dd2a 48.5%,#c5b440 49.1%,#7a7365 49.6%,#47547c 50.2%,#374b78 50.8%,#420a58 52.0%,#440154 53.2%,#440154)"></i><i class="p3" style="top:701px;height:1px;background:linear-gradient(90deg,#fde725,#fce625 47.9%,#f2dd2a 48.5%,#c6b240 49.1%,#7b6e65 49.6%,#494e7c 50.2%,#3a4c7e 50.8%,#41135e 52.0%,#440456 52.6%,#440154)"></i><i class="p3" style="top:702px;height:1px;background:linear-gradient(90deg,#fde725,#fbe625 47.9%,#eddc2b 48.5%,#beb042 49.1%,#776a66 49.6%,#4c457c 50.2%,#3c4a81 50.8%,#374877 51.4%,#420957 52.6%,#440154 53.7%,#440154)"></i><i class="p3" style="top:703px;height:1px;background:linear-gradient(90deg,#fde725,#fde725 47.3%,#f5e528 47.9%,#d0d637 48.5%,#8da656 49.1%,#5a6372 49.6%,#47427e 50.2%,#3d4881 50.8%,#364c79 51.4%,#420c59 52.6%,#440255 53.2%,#440154)"></i><i class="p3" style="top:704px;height:1px;background:linear-gradient(90deg,#fde725,#fce725 47.3%,#f3e429 47.9%,#c6d33c 48.5%,#7da25e 49.1%,#516176 49.6%,#45407f 50.2%,#3f4583 50.8%,#375483 51.4%,#374677 52.0%,#3e1f63 52.6%,#430757 53.2%,#440154 55.5%,#440154)"></i><i class="p3" style="top:705px;height:1px;background:linear-gradient(90deg,#fde725,#fce725 47.3%,#f2e429 47.9%,#c5d23d 48.5%,#7ba05f 49.1%,#506077 49.6%,#463d7f 50.2%,#433b81 50.8%,#3c4a81 51.4%,#364b79 52.0%,#420a58 53.2%,#440154 54.3%,#440154)"></i><i class="p3" style="top:706px;height:1px;background:linear-gradient(90deg,#fde725,#fce725 47.3%,#f1e22a 47.9%,#c1cc3f 48.5%,#769663 49.1%,#4d597a 49.6%,#453b80 50.2%,#443981 50.8%,#36527f 52.0%,#3a3870 52.6%,#41155e 53.2%,#440556 53.7%,#440154)"></i><i class="p3" style="top:707px;height:1px;background:linear-gradient(90deg,#fde725,#fae626 47.3%,#e9dc2c 47.9%,#b5b645 48.5%,#717569 49.1%,#4b497e 49.6%,#443c82 50.2%,#433c82 50.8%,#375584 52.0%,#34507a 52.6%,#3b2865 53.2%,#420a58 53.7%,#440154 54.9%,#440154)"></i><i class="p3" style="top:708px;height:1px;background:linear-gradient(90deg,#fde725,#fbe725 46.7%,#ece32a 47.3%,#bfd53c 47.9%,#7aaf5e 48.5%,#497e7c 49.1%,#396288 49.6%,#355e8b 50.8%,#2f7089 52.0%,#2f6981 52.6%,#3f1f63 53.7%,#420d5b 54.3%,#440154 56.1%,#440154)"></i><i class="p3" style="top:709px;height:1px;background:linear-gradient(90deg,#fde725,#fbe725 46.1%,#efe429 46.7%,#c4db39 47.3%,#81ca56 47.9%,#4cb271 48.5%,#319683 49.1%,#27878b 49.6%,#26888c 50.8%,#30a081 52.0%,#339f7e 52.6%,#2e8b82 53.2%,#2e6e82 53.7%,#3c2d6b 54.9%,#411660 55.5%,#430657 56.7%,#440154 72.4%,#440154)"></i><i class="p3" style="top:710px;height:1px;background:linear-gradient(90deg,#fde725,#fce725 45.6%,#f1e529 46.1%,#c9dc38 46.7%,#88ce52 47.3%,#56c169 47.9%,#3cb178 48.5%,#2b9e84 49.1%,#23928b 49.6%,#22948b 50.8%,#2da082 51.4%,#47b370 52.0%,#56b868 52.6%,#299486 53.7%,#248a89 54.3%,#277c87 54.9%,#3c3571 56.7%,#411862 58.4%,#420b59 60.7%,#420c59)"></i><i class="p3" style="top:711px;height:1px;background:linear-gradient(90deg,#fde725,#fce725 45.0%,#f2e529 45.6%,#cddd37 46.1%,#8dd050 46.7%,#5ac466 47.3%,#41ba73 47.9%,#279b87 49.1%,#21918c 50.2%,#22958a 50.8%,#2ea281 51.4%,#4eb76c 52.0%,#6ac45b 52.6%,#60bb63 53.2%,#43aa76 53.7%,#2f9d82 54.3%,#23908a 55.5%,#2b7186 59.0%,#33577e 60.7%,#33607b)"></i><i class="p3" style="top:712px;height:1px;background:linear-gradient(90deg,#fde725,#fce725 44.4%,#f2e528 45.0%,#d0de35 45.6%,#93d14c 46.1%,#5fc563 46.7%,#45bd70 47.3%,#29a084 48.5%,#21918c 49.6%,#22958a 50.8%,#2fa281 51.4%,#56ba68 52.0%,#94d148 52.6%,#bfda37 53.2%,#b7d63b 53.7%,#5db668 54.9%,#3ca67a 55.5%,#2d9d83 56.1%,#22958a 58.4%,#219289 66.0%,#28a481)"></i><i class="p3" style="top:713px;height:1px;background:linear-gradient(90deg,#fde725,#fbe725 42.6%,#f2e528 43.8%,#e6e32b 44.4%,#c7dd35 45.0%,#62c661 46.1%,#49c06e 46.7%,#2fac7e 47.9%,#21948b 49.1%,#22958a 50.8%,#2fa281 51.4%,#57ba68 52.0%,#9cd346 52.6%,#d9e12f 53.2%,#f1e528 53.7%,#ece329 54.3%,#d7de2f 54.9%,#87c850 56.1%,#67be60 56.7%,#48b073 57.8%,#2ea082 60.2%,#32af7b 94.0%,#35b279)"></i><i class="p3" style="top:714px;height:1px;background:linear-gradient(90deg,#fde725,#fce725 40.3%,#ebe32a 42.1%,#dbe02e 42.6%,#9fd445 43.8%,#61c661 45.0%,#50c26a 45.6%,#41ba73 47.3%,#249c87 48.5%,#20918c 49.6%,#22958a 50.8%,#2fa281 51.4%,#57ba68 52.0%,#9cd346 52.6%,#dbe12e 53.2%,#f7e626 53.7%,#fae725 54.9%,#d9df2d 57.8%,#98d047 60.7%,#94cf49 64.3%,#a2d541)"></i><i class="p3" style="top:715px;height:1px;background:linear-gradient(90deg,#fde725,#fae725 36.8%,#ece32a 39.7%,#dfe12e 40.3%,#c7dc36 40.9%,#5ec264 42.6%,#4bbd6d 43.2%,#41bc72 44.4%,#49c06d 45.6%,#5ec761 46.7%,#4cbe6c 47.3%,#32ad7c 47.9%,#249c87 48.5%,#20918c 49.6%,#22958a 50.8%,#2fa281 51.4%,#57ba68 52.0%,#9cd346 52.6%,#dbe12e 53.2%,#f7e626 53.7%,#fde725 55.5%,#f2e528 64.3%,#f4e527)"></i><i class="p3" style="top:716px;height:1px;background:linear-gradient(90deg,#fde725,#f9e626 29.8%,#e6e12c 35.0%,#c5db37 37.4%,#abd540 38.6%,#98d049 39.1%,#5dbf65 40.3%,#45b871 40.9%,#34b479 42.1%,#37b878 43.8%,#47bf6e 45.0%,#7acf50 46.1%,#75ce53 46.7%,#33ad7c 47.9%,#249c87 48.5%,#20918c 49.6%,#22958a 50.8%,#2fa281 51.4%,#57ba68 52.0%,#9cd346 52.6%,#dbe12e 53.2%,#f7e626 53.7%,#fde725 55.5%,#fde725)"></i><i class="p3" style="top:717px;height:1px;background:linear-gradient(90deg,#fde725,#f9e626 22.8%,#e3df2d 28.0%,#bbd63c 30.4%,#4fb16f 35.0%,#34a97d 37.4%,#29af7f 41.5%,#3dbb74 43.8%,#4ac06c 44.4%,#63c85e 45.0%,#85d249 45.6%,#95d63f 46.1%,#7fd04d 46.7%,#55c166 47.3%,#34ad7c 47.9%,#249c87 48.5%,#20918c 49.6%,#22958a 50.8%,#2fa281 51.4%,#57ba68 52.0%,#9cd346 52.6%,#dbe12e 53.2%,#f7e626 53.7%,#fde725 55.5%,#fde725)"></i><i class="p3" style="top:718px;height:1px;background:linear-gradient(90deg,#fde725,#e8e02d 18.1%,#d4dc31 21.6%,#b7d53e 23.4%,#4aa874 28.0%,#369b81 29.8%,#2a9288 33.3%,#1fa188 38.0%,#2bb07e 41.5%,#3cb975 42.6%,#60c860 43.8%,#a0d939 45.6%,#9fd939 46.1%,#81d14c 46.7%,#55c166 47.3%,#34ad7c 47.9%,#249c87 48.5%,#20918c 49.6%,#22958a 50.8%,#2fa281 51.4%,#57ba68 52.0%,#9cd346 52.6%,#dbe12e 53.2%,#f7e626 53.7%,#fde725 55.5%,#fde725)"></i><i class="p3" style="top:719px;height:1px;background:linear-gradient(90deg,#ebe12c,#dcdd2d 4.1%,#abd142 9.3%,#4ca874 18.7%,#309186 24.5%,#228b8d 31.0%,#1f978b 35.6%,#24aa83 39.7%,#3ab976 41.5%,#a4da36 45.6%,#a1d938 46.1%,#81d14c 46.7%,#55c166 47.3%,#34ad7c 47.9%,#249c87 48.5%,#20918c 49.6%,#22958a 50.8%,#2fa281 51.4%,#57ba68 52.0%,#9cd346 52.6%,#dbe12e 53.2%,#f7e626 53.7%,#fde725 55.5%,#fde725)"></i><i class="p3" style="top:720px;height:1px;background:linear-gradient(90deg,#5daf69,#389881 5.8%,#2a8c89 15.8%,#218e8d 33.3%,#22a585 38.0%,#34b679 40.3%,#5cc863 42.6%,#a4da36 45.6%,#a1d938 46.1%,#81d14c 46.7%,#55c166 47.3%,#34ad7c 47.9%,#249c87 48.5%,#20918c 49.6%,#22958a 50.8%,#2fa281 51.4%,#57ba68 52.0%,#9cd346 52.6%,#dbe12e 53.2%,#f7e626 53.7%,#fde725 55.5%,#fde725)"></i><i class="p3" style="top:721px;height:1px;background:linear-gradient(90deg,#29898a,#228b8d 32.1%,#22a784 37.4%,#3ebc74 40.9%,#6acd5b 43.2%,#a4da36 45.6%,#a1d938 46.1%,#81d14c 46.7%,#55c166 47.3%,#34ad7c 47.9%,#249c87 48.5%,#20918c 49.6%,#22958a 50.8%,#2fa281 51.4%,#57ba68 52.0%,#9cd346 52.6%,#dbe12e 53.2%,#f7e626 53.7%,#fde725 55.5%,#fde725)"></i><i class="p3" style="top:722px;height:1px;background:linear-gradient(90deg,#25848e,#287c8e 21.0%,#287c8e 28.0%,#1fa187 36.2%,#32b57a 39.7%,#50c46a 42.1%,#a4da36 45.6%,#a1d938 46.1%,#81d14c 46.7%,#55c166 47.3%,#34ad7c 47.9%,#249c87 48.5%,#20918c 49.6%,#22958a 50.8%,#2fa281 51.4%,#57ba68 52.0%,#9cd346 52.6%,#dbe12e 53.2%,#f7e626 53.7%,#fde725 55.5%,#fde725)"></i><i class="p3" style="top:723px;height:1px;background:linear-gradient(90deg,#2a748a,#365482 8.2%,#402d71 15.2%,#3b518a 19.3%,#20938c 33.9%,#25ab82 38.0%,#46bf6f 41.5%,#87d549 44.4%,#a4da36 45.6%,#a1d938 46.1%,#81d14c 46.7%,#55c166 47.3%,#34ad7c 47.9%,#249c87 48.5%,#20918c 49.6%,#22958a 50.8%,#2fa281 51.4%,#57ba68 52.0%,#9cd346 52.6%,#dbe12e 53.2%,#f7e626 53.7%,#fde725 55.5%,#fde725)"></i><i class="p3" style="top:724px;height:1px;background:linear-gradient(90deg,#41226b,#430a59 9.3%,#45085a 15.2%,#424085 18.7%,#32648d 23.4%,#1f9e89 35.6%,#2db27d 39.1%,#46bf6f 41.5%,#87d549 44.4%,#a4da36 45.6%,#a1d938 46.1%,#81d14c 46.7%,#55c166 47.3%,#34ad7c 47.9%,#249c87 48.5%,#20918c 49.6%,#22958a 50.8%,#2fa281 51.4%,#57ba68 52.0%,#9cd346 52.6%,#dbe12e 53.2%,#f7e626 53.7%,#fde725 55.5%,#fde725)"></i><i class="p3" style="top:725px;height:2px;background:linear-gradient(90deg,#440355,#440356 15.2%,#471c6d 16.9%,#433d84 18.7%,#34618d 22.8%,#1f9e89 35.6%,#2db27d 39.1%,#46bf6f 41.5%,#87d549 44.4%,#a4da36 45.6%,#a1d938 46.1%,#81d14c 46.7%,#55c166 47.3%,#34ad7c 47.9%,#249c87 48.5%,#20918c 49.6%,#22958a 50.8%,#2fa281 51.4%,#57ba68 52.0%,#9cd346 52.6%,#dbe12e 53.2%,#f7e626 53.7%,#fde725 55.5%,#fde725)"></i><i class="p3" style="top:727px;height:2px;background:linear-gradient(90deg,#440154,#440355 15.8%,#471163 16.9%,#443780 18.7%,#3a538b 21.0%,#287b8e 28.6%,#21a586 36.8%,#37b877 40.3%,#50c46a 42.1%,#a4da36 45.6%,#a1d938 46.1%,#81d14c 46.7%,#55c166 47.3%,#34ad7c 47.9%,#249c87 48.5%,#20918c 49.6%,#22958a 50.8%,#2fa281 51.4%,#57ba68 52.0%,#9cd346 52.6%,#dbe12e 53.2%,#f7e626 53.7%,#fde725 55.5%,#fde725)"></i><i class="p3" style="top:729px;height:4px;background:linear-gradient(90deg,#440154,#450457 16.4%,#471769 17.5%,#423f84 19.3%,#34608d 22.8%,#1f9e89 35.6%,#2eb27d 39.1%,#46c06f 41.5%,#89d548 44.4%,#a5db36 45.6%,#a1d938 46.1%,#82d14b 46.7%,#56c166 47.3%,#34ad7b 47.9%,#249c87 48.5%,#20918c 49.6%,#22958a 50.8%,#2fa281 51.4%,#58bb68 52.0%,#9dd346 52.6%,#dbe12e 53.2%,#f7e626 53.7%,#fde725 56.1%,#fde725)"></i><i class="p3" style="top:733px;height:2px;background:linear-gradient(90deg,#440154,#450558 16.4%,#472876 18.1%,#3f4888 19.9%,#31668e 23.9%,#1f9f88 35.6%,#30b47c 39.1%,#4cc26c 41.5%,#aadc32 45.6%,#a6da35 46.1%,#86d249 46.7%,#58c165 47.3%,#35ad7b 47.9%,#259c87 48.5%,#21918c 49.6%,#22958a 50.8%,#2fa380 51.4%,#59bb67 52.0%,#9ed345 52.6%,#dce12e 53.2%,#f8e626 53.7%,#fde725 56.1%,#fde725)"></i><i class="p3" style="top:735px;height:1px;background:linear-gradient(90deg,#440154,#450558 16.4%,#443780 18.7%,#3a548b 21.0%,#25858e 30.4%,#21a486 36.2%,#38b977 39.7%,#51c469 41.5%,#a5db35 45.0%,#afdc2f 45.6%,#aadb32 46.1%,#89d246 46.7%,#5bc263 47.3%,#36ad7a 47.9%,#259c87 48.5%,#21918c 49.6%,#22958a 50.8%,#30a380 51.4%,#5abc66 52.0%,#a0d444 52.6%,#dde22d 53.2%,#f8e626 53.7%,#fde725 56.1%,#fde725)"></i><i class="p3" style="top:736px;height:1px;background:linear-gradient(90deg,#440154,#440255 15.8%,#461062 16.9%,#443881 18.7%,#3a548b 21.0%,#238b8d 31.5%,#21a585 36.2%,#3aba76 39.7%,#55c667 41.5%,#9eda3a 44.4%,#b3dd2d 45.6%,#addb30 46.1%,#8dd344 46.7%,#5dc362 47.3%,#37ae7a 47.9%,#259b87 48.5%,#21918c 49.6%,#22968a 50.8%,#30a480 51.4%,#5bbc66 52.0%,#a1d443 52.6%,#dde22d 53.2%,#f8e626 53.7%,#fde725 56.7%,#fde725)"></i><i class="p3" style="top:737px;height:1px;background:linear-gradient(90deg,#440154,#440255 15.8%,#461163 16.9%,#443982 18.7%,#375a8c 21.6%,#1f9c89 34.5%,#2cb17e 38.0%,#4ec36b 40.9%,#9ad93d 43.8%,#b7de2a 45.6%,#b1dc2e 46.1%,#90d442 46.7%,#5fc360 47.3%,#37ae7a 47.9%,#259b87 48.5%,#21918c 49.6%,#23968a 50.8%,#31a47f 51.4%,#5cbd65 52.0%,#a2d442 52.6%,#dee22d 53.2%,#f8e626 53.7%,#fde725 56.7%,#fde725)"></i><i class="p3" style="top:738px;height:1px;background:linear-gradient(90deg,#440154,#440355 15.8%,#471365 16.9%,#433b83 18.7%,#375b8c 21.6%,#1f9d89 34.5%,#2eb37d 38.0%,#48c06e 40.3%,#74cf54 42.1%,#a2da37 43.8%,#bcde27 45.6%,#b5dd2b 46.1%,#94d540 46.7%,#62c45f 47.3%,#38ae79 47.9%,#269b87 48.5%,#21918c 49.6%,#23968a 50.8%,#31a57f 51.4%,#5dbd64 52.0%,#a3d542 52.6%,#dfe22c 53.2%,#f8e626 53.7%,#fde725 57.2%,#fde725)"></i><i class="p3" style="top:739px;height:1px;background:linear-gradient(90deg,#440154,#450356 15.8%,#471567 16.9%,#433d83 18.7%,#345f8d 22.2%,#1f9f88 34.5%,#30b47b 38.0%,#4dc26b 40.3%,#a0da39 43.2%,#c1df24 45.6%,#bade29 46.1%,#98d53d 46.7%,#64c45d 47.3%,#39ae79 47.9%,#269b87 48.5%,#21918c 49.6%,#23968a 50.8%,#32a57f 51.4%,#5fbe63 52.0%,#a5d541 52.6%,#dfe22c 53.2%,#f8e626 53.7%,#fde725 57.8%,#fde725)"></i><i class="p3" style="top:740px;height:1px;background:linear-gradient(90deg,#440154,#450457 15.8%,#471769 16.9%,#423e84 18.7%,#33638d 22.8%,#1fa088 34.5%,#33b67a 38.0%,#53c568 40.3%,#a9dc33 43.2%,#c6e021 45.6%,#bfde26 46.1%,#9dd63a 46.7%,#67c55b 47.3%,#3aae78 47.9%,#269b87 48.5%,#21918c 49.6%,#239789 50.8%,#32a67e 51.4%,#60be62 52.0%,#a6d540 52.6%,#e0e22b 53.2%,#f8e626 53.7%,#fde725 58.4%,#fde725)"></i><i class="p3" style="top:741px;height:1px;background:linear-gradient(90deg,#440154,#450558 15.8%,#424085 18.7%,#32648d 22.8%,#1f9e88 33.9%,#30b47b 37.4%,#4dc26b 39.7%,#80d34d 41.5%,#a7db34 42.6%,#c1df24 44.4%,#cce11e 45.6%,#c5df23 46.1%,#a3d737 46.7%,#6bc659 47.3%,#3bae77 47.9%,#269b87 48.5%,#21918c 49.6%,#239789 50.8%,#33a67e 51.4%,#61bf61 52.0%,#a8d63f 52.6%,#e1e22b 53.2%,#f9e625 53.7%,#fde725 60.2%,#fde725)"></i><i class="p3" style="top:742px;height:1px;background:linear-gradient(90deg,#440154,#440255 15.2%,#460f62 16.4%,#443881 18.1%,#3a548b 20.4%,#1f988a 32.7%,#29af7f 36.2%,#48c16e 39.1%,#63ca5f 40.3%,#b3dd2d 42.6%,#cde11e 45.0%,#d1e11c 45.6%,#cae021 46.1%,#a8d835 46.7%,#6ec658 47.3%,#3cae77 47.9%,#269b87 48.5%,#21918c 49.6%,#239789 50.8%,#33a77d 51.4%,#63c061 52.0%,#a9d63e 52.6%,#e2e32a 53.2%,#f9e625 53.7%,#fde725 62.5%,#fde725)"></i><i class="p3" style="top:743px;height:1px;background:linear-gradient(90deg,#440154,#440255 15.2%,#461163 16.4%,#433a82 18.1%,#375a8c 21.0%,#1f9e89 33.3%,#31b47b 36.8%,#4ec36b 39.1%,#6ecd58 40.3%,#afdc2f 42.1%,#c7e021 43.2%,#d6e21a 45.6%,#cfe11f 46.1%,#add932 46.7%,#3daf76 47.9%,#269b87 48.5%,#21918c 49.6%,#239789 50.8%,#34a77d 51.4%,#64c060 52.0%,#abd73d 52.6%,#e2e32a 53.2%,#f9e625 53.7%,#fde725 64.8%,#fde725)"></i><i class="p3" style="top:744px;height:1px;background:linear-gradient(90deg,#440154,#440356 15.2%,#471466 16.4%,#433c83 18.1%,#355f8d 21.6%,#1fa088 33.3%,#2eb37c 36.2%,#49c16d 38.6%,#64cb5e 39.7%,#bcde27 42.1%,#cfe11d 43.2%,#dce319 45.6%,#d4e11d 46.1%,#b2da30 46.7%,#3faf76 47.9%,#269b87 48.5%,#21918c 49.6%,#239889 50.8%,#35a87c 51.4%,#66c15f 52.0%,#add73c 52.6%,#e3e329 53.2%,#f9e625 53.7%,#fde725 72.4%,#fde725)"></i><i class="p3" style="top:745px;height:1px;background:linear-gradient(90deg,#440154,#450457 15.2%,#471769 16.4%,#423e84 18.1%,#34608d 21.6%,#1f9e89 32.7%,#2cb17e 35.6%,#4fc36a 38.6%,#6fce57 39.7%,#c9e021 42.1%,#d7e21a 43.2%,#e1e319 45.6%,#dbe21d 46.1%,#b8db2f 46.7%,#40af75 47.9%,#279b87 48.5%,#21918c 49.6%,#249889 50.8%,#35a97c 51.4%,#67c15e 52.0%,#aed73b 52.6%,#e4e329 53.2%,#f9e625 53.7%,#fde725 98.7%,#fde725)"></i><i class="p3" style="top:746px;height:1px;background:linear-gradient(90deg,#440154,#450558 15.2%,#472876 16.9%,#3f4888 18.7%,#2e6e8e 23.9%,#1fa088 32.7%,#2fb37c 35.6%,#55c667 38.6%,#7bd150 39.7%,#c4df24 41.5%,#d4e21c 42.1%,#e2e419 44.4%,#e6e419 45.6%,#e0e31d 46.1%,#bedb2e 46.7%,#41af75 47.9%,#279b87 48.5%,#21918c 49.6%,#249889 50.8%,#36a97b 51.4%,#69c25d 52.0%,#b0d83a 52.6%,#e5e328 53.2%,#f9e725 53.7%,#fde725)"></i><i class="p3" style="top:747px;height:1px;background:linear-gradient(90deg,#440154,#440255 14.6%,#460f62 15.8%,#443881 17.5%,#3a548b 19.9%,#1f9a8a 31.5%,#28ad80 34.5%,#50c46a 38.0%,#70ce57 39.1%,#d0e11f 41.5%,#e2e419 42.6%,#ebe51b 45.6%,#e5e31e 46.1%,#c3dc2f 46.7%,#42af75 47.9%,#279a87 48.5%,#21918c 49.6%,#249888 50.8%,#37aa7b 51.4%,#6ac35c 52.0%,#b1d839 52.6%,#e6e328 53.2%,#f9e725 53.7%,#fde725)"></i><i class="p3" style="top:748px;height:1px;background:linear-gradient(90deg,#440154,#440255 14.6%,#471264 15.8%,#433a82 17.5%,#375a8c 20.4%,#1f9b89 31.5%,#2aaf7f 34.5%,#4bc26c 37.4%,#66cb5d 38.6%,#c8e023 40.9%,#dce31c 41.5%,#e9e41a 42.6%,#efe51c 45.6%,#e9e420 46.1%,#c8dd30 46.7%,#42ae75 47.9%,#279a87 48.5%,#21918c 49.6%,#249988 50.8%,#38aa7a 51.4%,#6bc35b 52.0%,#b3d838 52.6%,#e6e328 53.2%,#fae725 53.7%,#fde725)"></i><i class="p3" style="top:749px;height:1px;background:linear-gradient(90deg,#440154,#440356 14.6%,#471466 15.8%,#433c83 17.5%,#345f8d 21.0%,#1f9d89 31.5%,#2cb17e 34.5%,#50c469 37.4%,#70ce57 38.6%,#bcde29 40.3%,#e5e41c 41.5%,#efe51c 43.2%,#f3e61e 45.6%,#ede422 46.1%,#cbdd31 46.7%,#43ae75 47.9%,#279a87 48.5%,#21918c 49.6%,#249988 50.8%,#38aa7a 51.4%,#6cc35b 52.0%,#b4d938 52.6%,#e7e327 53.2%,#fae725 53.7%,#fde725)"></i><i class="p3" style="top:750px;height:1px;background:linear-gradient(90deg,#440154,#450457 14.6%,#471769 15.8%,#423f84 17.5%,#32648e 21.6%,#1f9f88 31.5%,#2fb37c 34.5%,#56c666 37.4%,#7ad150 38.6%,#cae023 40.3%,#e0e31d 40.9%,#ede51d 41.5%,#f6e620 45.6%,#f0e524 46.1%,#cddd32 46.7%,#43ae75 47.9%,#269a87 48.5%,#21918c 49.6%,#249988 50.8%,#39ab7a 51.4%,#6ec45a 52.0%,#b5d937 52.6%,#e7e427 53.2%,#fae725 53.7%,#fde725)"></i><i class="p3" style="top:751px;height:1px;background:linear-gradient(90deg,#440154,#450558 14.6%,#414185 17.5%,#30688e 22.2%,#1fa188 31.5%,#31b57b 34.5%,#5cc863 37.4%,#85d44a 38.6%,#bcde2a 39.7%,#eae51e 40.9%,#f7e620 42.1%,#f9e622 45.6%,#f2e525 46.1%,#cfde33 46.7%,#43ad75 47.9%,#269987 48.5%,#21918c 49.6%,#259988 50.8%,#39ab79 51.4%,#6ec459 52.0%,#b6d937 52.6%,#e8e427 53.2%,#fae725 53.7%,#fde725)"></i><i class="p3" style="top:752px;height:1px;background:linear-gradient(90deg,#440154,#440255 14.0%,#461062 15.2%,#443881 16.9%,#3a548b 19.3%,#1f9a8a 30.4%,#29ae80 33.3%,#54c567 36.8%,#77d053 38.0%,#c7e025 39.7%,#f1e620 40.9%,#fae722 42.1%,#fbe724 45.6%,#f4e526 46.1%,#d0de34 46.7%,#43ac75 47.9%,#269987 48.5%,#21918c 49.6%,#259988 50.8%,#3aab79 51.4%,#6fc559 52.0%,#b7d936 52.6%,#e8e427 53.2%,#fae725 53.7%,#fde725)"></i><i class="p3" style="top:753px;height:1px;background:linear-gradient(90deg,#440154,#440255 14.0%,#471264 15.2%,#433a82 16.9%,#375a8c 19.9%,#1f9b8a 30.4%,#2bb07f 33.3%,#4ec36b 36.2%,#6acc5b 37.4%,#d1e122 39.7%,#e8e41f 40.3%,#f6e622 40.9%,#fde725 44.4%,#fce725 45.6%,#f5e627 46.1%,#d1de35 46.7%,#43ac76 47.9%,#269888 48.5%,#21918c 49.6%,#259988 50.8%,#3aab79 51.4%,#70c559 52.0%,#b7d936 52.6%,#e9e426 53.2%,#fae725 53.7%,#fde725)"></i><i class="p3" style="top:754px;height:1px;background:linear-gradient(90deg,#440154,#440356 14.0%,#471466 15.2%,#433c83 16.9%,#34608d 20.4%,#1f9d89 30.4%,#2cb17e 33.3%,#52c469 36.2%,#71ce56 37.4%,#c0df28 39.1%,#dae320 39.7%,#efe520 40.3%,#fde724 41.5%,#fde725 45.6%,#f5e627 46.1%,#d1de35 46.7%,#43ab76 47.9%,#269888 48.5%,#21918c 49.6%,#259988 50.8%,#3aab79 51.4%,#70c559 52.0%,#b7d936 52.6%,#e9e426 53.2%,#fae725 53.7%,#fde725)"></i><i class="p3" style="top:755px;height:1px;background:linear-gradient(90deg,#440154,#450457 14.0%,#471769 15.2%,#423e84 16.9%,#32648e 21.0%,#1f9e89 30.4%,#2eb27d 33.3%,#55c667 36.2%,#78d052 37.4%,#c8e025 39.1%,#f4e621 40.3%,#fde725 41.5%,#fde725 45.6%,#f5e628 46.1%,#d1dd35 46.7%,#42aa77 47.9%,#269788 48.5%,#21928c 50.2%,#259988 50.8%,#3aab79 51.4%,#70c559 52.0%,#b7d936 52.6%,#e9e426 53.2%,#fae725 53.7%,#fde725)"></i><i class="p3" style="top:756px;height:1px;background:linear-gradient(90deg,#440154,#450558 14.0%,#472876 15.8%,#3f4888 17.5%,#2a768e 23.9%,#20a386 31.0%,#36b778 33.9%,#59c765 36.2%,#7ed24e 37.4%,#cfe122 39.1%,#e7e41f 39.7%,#f6e622 40.3%,#fde725 42.1%,#fde725 45.6%,#f5e628 46.1%,#d0dd36 46.7%,#42a977 47.9%,#269788 48.5%,#21928c 50.2%,#259988 50.8%,#3aab79 51.4%,#70c559 52.0%,#b7d936 52.6%,#e9e426 53.2%,#fae725 53.7%,#fde725)"></i><i class="p3" style="top:757px;height:1px;background:linear-gradient(90deg,#440154,#440255 13.4%,#460f61 14.6%,#443781 16.4%,#3a548b 18.7%,#1f9c89 29.8%,#2bb07e 32.7%,#51c469 35.6%,#6ece58 36.8%,#bbde2a 38.6%,#d6e220 39.1%,#ebe51f 39.7%,#f8e622 40.3%,#fde725 45.0%,#f5e528 46.1%,#cfdd36 46.7%,#84c656 47.3%,#41a878 47.9%,#269688 48.5%,#21928c 50.2%,#259988 50.8%,#3aab79 51.4%,#70c559 52.0%,#b7d936 52.6%,#e9e426 53.2%,#fae725 53.7%,#fde725)"></i><i class="p3" style="top:758px;height:1px;background:linear-gradient(90deg,#440154,#440255 13.4%,#461163 14.6%,#443982 16.4%,#375a8c 19.3%,#1f9d89 29.8%,#2db27d 32.7%,#53c568 35.6%,#74cf54 36.8%,#c2df27 38.6%,#f0e520 39.7%,#fde724 40.9%,#fde725 45.6%,#f5e528 46.1%,#cfdd37 46.7%,#83c557 47.3%,#41a779 47.9%,#269689 48.5%,#21928c 50.2%,#259988 50.8%,#3aab79 51.4%,#70c559 52.0%,#b7d936 52.6%,#e9e426 53.2%,#fae725 53.7%,#fde725)"></i><i class="p3" style="top:759px;height:1px;background:linear-gradient(90deg,#440154,#440355 13.4%,#471365 14.6%,#433b83 16.4%,#375b8c 19.3%,#1f9e89 29.8%,#2eb37d 32.7%,#57c666 35.6%,#7ad151 36.8%,#c9e024 38.6%,#f4e621 39.7%,#fde725 40.9%,#fde725 45.6%,#f5e528 46.1%,#cedc37 46.7%,#82c458 47.3%,#40a679 47.9%,#269589 48.5%,#21928c 50.2%,#259988 50.8%,#39ab79 51.4%,#70c459 52.0%,#b7d936 52.6%,#e8e426 53.2%,#fae725 53.7%,#fde725)"></i><i class="p3" style="top:760px;height:1px;background:linear-gradient(90deg,#440154,#450356 13.4%,#471667 14.6%,#433d84 16.4%,#34608d 19.9%,#1f9f88 29.8%,#30b47c 32.7%,#5ac764 35.6%,#81d34d 36.8%,#d0e122 38.6%,#e7e41f 39.1%,#f6e622 39.7%,#fde725 41.5%,#fde725 45.6%,#f4e528 46.1%,#cddc38 46.7%,#80c359 47.3%,#3fa57a 47.9%,#259489 48.5%,#21928c 50.2%,#259988 50.8%,#39ab79 51.4%,#6fc459 52.0%,#b6d936 52.6%,#e8e427 53.2%,#fae725 53.7%,#fde725)"></i><i class="p3" style="top:761px;height:1px;background:linear-gradient(90deg,#440154,#450457 13.4%,#472675 15.2%,#3f4788 16.9%,#2a768e 23.4%,#21a486 30.4%,#38b977 33.3%,#5ec961 35.6%,#88d448 36.8%,#bdde29 38.0%,#d7e220 38.6%,#ece520 39.1%,#f9e623 39.7%,#fde725 45.6%,#f4e528 46.1%,#ccdc38 46.7%,#7fc25a 47.3%,#3fa47b 47.9%,#259489 48.5%,#21928c 50.2%,#249988 50.8%,#39aa7a 51.4%,#6ec45a 52.0%,#b6d937 52.6%,#e8e427 53.2%,#fae725 53.7%,#fde725)"></i><i class="p3" style="top:762px;height:1px;background:linear-gradient(90deg,#440154,#450558 13.4%,#414185 16.4%,#30698e 21.0%,#1fa187 29.8%,#33b67a 32.7%,#54c567 35.0%,#76d053 36.2%,#c4df26 38.0%,#f1e520 39.1%,#fde724 40.3%,#fde725 45.6%,#f4e528 46.1%,#cbdb39 46.7%,#7ec25b 47.3%,#3ea47b 47.9%,#259489 48.5%,#21928c 50.2%,#249888 50.8%,#38aa7a 51.4%,#6ec45a 52.0%,#b5d937 52.6%,#e8e427 53.2%,#fae725 53.7%,#fde725)"></i><i class="p3" style="top:763px;height:1px;background:linear-gradient(90deg,#440154,#440255 12.9%,#461062 14.0%,#443881 15.8%,#3a548b 18.1%,#1f998a 28.6%,#29ae80 31.5%,#4dc26b 34.5%,#67cc5c 35.6%,#cbe024 38.0%,#f5e621 39.1%,#fde725 40.3%,#fde725 45.6%,#f4e528 46.1%,#cadb39 46.7%,#7cc15c 47.3%,#3da37c 47.9%,#25948a 48.5%,#21928c 50.2%,#249888 50.8%,#38aa7a 51.4%,#6dc35b 52.0%,#b4d938 52.6%,#e7e327 53.2%,#fae725 53.7%,#fde725)"></i><i class="p3" style="top:764px;height:1px;background:linear-gradient(90deg,#440154,#440255 12.9%,#471264 14.0%,#433a82 15.8%,#375a8c 18.7%,#1f9e88 29.2%,#2fb37c 32.1%,#5cc863 35.0%,#83d34b 36.2%,#d1e121 38.0%,#f7e622 39.1%,#fde725 41.5%,#fde725 45.6%,#f4e529 46.1%,#c9db3a 46.7%,#7ac15d 47.3%,#3ca37c 47.9%,#25948a 48.5%,#21928c 50.2%,#249889 50.8%,#37a97b 51.4%,#6cc35b 52.0%,#b4d838 52.6%,#e7e327 53.2%,#fae725 53.7%,#fde725)"></i><i class="p3" style="top:765px;height:1px;background:linear-gradient(90deg,#440154,#450356 12.9%,#471567 14.0%,#433c83 15.8%,#345f8d 19.3%,#1f9f88 29.2%,#31b47b 32.1%,#52c469 34.5%,#72cf56 35.6%,#bede28 37.4%,#d8e220 38.0%,#ede51f 38.6%,#fde724 39.7%,#fde725 45.6%,#f3e529 46.1%,#c8da3b 46.7%,#79c05e 47.3%,#3ba37d 47.9%,#24948a 48.5%,#21928c 50.2%,#249889 50.8%,#37a97b 51.4%,#6bc25c 52.0%,#b3d838 52.6%,#e6e328 53.2%,#fae725 53.7%,#fde725)"></i><i class="p3" style="top:766px;height:1px;background:linear-gradient(90deg,#440154,#450457 12.9%,#472575 14.6%,#3f4688 16.4%,#2c738e 22.2%,#1fa088 29.2%,#33b57a 32.1%,#55c667 34.5%,#77d052 35.6%,#c5e025 37.4%,#f2e621 38.6%,#fde725 39.7%,#fce725 45.6%,#f3e529 46.1%,#c7da3b 46.7%,#77bf5f 47.3%,#39a27e 47.9%,#24948a 48.5%,#21928c 50.2%,#249789 50.8%,#37a87b 51.4%,#6ac25c 52.0%,#b2d839 52.6%,#e6e328 53.2%,#fae725 53.7%,#fde725)"></i><i class="p3" style="top:767px;height:1px;background:linear-gradient(90deg,#440154,#450558 12.9%,#424085 15.8%,#30698e 20.4%,#20a187 29.2%,#34b679 32.1%,#59c765 34.5%,#7ed24e 35.6%,#cce123 37.4%,#f5e622 38.6%,#fde725 39.7%,#fce725 45.6%,#f3e529 46.1%,#c6d93c 46.7%,#75bf60 47.3%,#38a27e 47.9%,#24948a 48.5%,#21928c 50.2%,#249789 50.8%,#36a77c 51.4%,#69c15d 52.0%,#b0d83a 52.6%,#e5e328 53.2%,#f9e725 53.7%,#fde725)"></i><i class="p3" style="top:768px;height:1px;background:linear-gradient(90deg,#440154,#440255 12.3%,#460f62 13.4%,#443781 15.2%,#3a548b 17.5%,#1f998a 28.0%,#29af7f 31.0%,#50c46a 33.9%,#6dcd58 35.0%,#d2e121 37.4%,#e9e41f 38.0%,#f7e622 38.6%,#fde725 41.5%,#fce725 45.6%,#f2e529 46.1%,#c4d93c 46.7%,#73be60 47.3%,#37a17f 47.9%,#24948a 48.5%,#21918c 50.2%,#239789 50.8%,#35a77c 51.4%,#68c05e 52.0%,#afd73a 52.6%,#e5e328 53.2%,#f9e625 53.7%,#fde725)"></i><i class="p3" style="top:769px;height:1px;background:linear-gradient(90deg,#440154,#440255 12.3%,#471264 13.4%,#443982 15.2%,#375a8c 18.1%,#1f998a 28.0%,#2bb07f 31.0%,#52c568 33.9%,#73cf55 35.0%,#bfdf28 36.8%,#eee520 38.0%,#fde724 39.1%,#fce725 45.6%,#f0e428 46.1%,#c1d83b 46.7%,#70bd60 47.3%,#36a17f 47.9%,#23938a 48.5%,#21918c 50.2%,#239689 50.8%,#35a67d 51.4%,#67c05e 52.0%,#aed73b 52.6%,#e4e329 53.2%,#f9e625 53.7%,#fde725)"></i><i class="p3" style="top:770px;height:1px;background:linear-gradient(90deg,#440154,#440356 12.3%,#471466 13.4%,#433c83 15.2%,#355f8d 18.7%,#1f9f88 28.6%,#32b57a 31.5%,#56c666 33.9%,#79d152 35.0%,#c6e025 36.8%,#f2e621 38.0%,#fde725 39.1%,#fce725 45.6%,#efe427 46.1%,#bdd73a 46.7%,#6cbc61 47.3%,#34a080 47.9%,#23938a 48.5%,#23968a 50.8%,#35a57d 51.4%,#66bf5f 52.0%,#add73c 52.6%,#e4e329 53.2%,#f9e625 53.7%,#fde725 82.9%,#fde725)"></i><i class="p3" style="top:771px;height:1px;background:linear-gradient(90deg,#440154,#450457 12.3%,#472574 14.0%,#404688 15.8%,#2c728e 21.6%,#1fa088 28.6%,#34b679 31.5%,#59c765 33.9%,#7fd24e 35.0%,#cde123 36.8%,#f5e622 38.0%,#fde725 39.7%,#fbe724 45.6%,#ede427 46.1%,#b9d63a 46.7%,#69bb61 47.3%,#33a080 47.9%,#23938b 48.5%,#23958a 50.8%,#34a47e 51.4%,#65be60 52.0%,#acd63c 52.6%,#e3e329 53.2%,#f9e625 53.7%,#fde725 71.8%,#fde725)"></i><i class="p3" style="top:772px;height:1px;background:linear-gradient(90deg,#440154,#450558 12.3%,#424085 15.2%,#30688e 19.9%,#20a187 28.6%,#35b779 31.5%,#5dc862 33.9%,#85d44a 35.0%,#d4e221 36.8%,#eae51f 37.4%,#f7e622 38.0%,#fde725 40.9%,#fbe724 45.6%,#ebe327 46.1%,#b6d53a 46.7%,#66ba62 47.3%,#329f80 47.9%,#23938b 48.5%,#23958a 50.8%,#34a37e 51.4%,#63bd61 52.0%,#aad63d 52.6%,#e2e32a 53.2%,#f9e625 53.7%,#fde725 66.0%,#fde725)"></i><i class="p3" style="top:773px;height:1px;background:linear-gradient(90deg,#440154,#440255 11.7%,#460f62 12.9%,#443781 14.6%,#3a548b 16.9%,#1f988a 27.5%,#2aaf7f 30.4%,#53c568 33.3%,#74cf54 34.5%,#c1df27 36.2%,#efe520 37.4%,#fde724 38.6%,#fae724 45.6%,#e9e327 46.1%,#b2d43b 46.7%,#62b963 47.3%,#309f81 47.9%,#22938b 48.5%,#23958a 50.8%,#33a27f 51.4%,#62bd62 52.0%,#a9d53e 52.6%,#e2e22a 53.2%,#f9e625 53.7%,#fde725 63.7%,#fde725)"></i><i class="p3" style="top:774px;height:1px;background:linear-gradient(90deg,#440154,#440255 11.7%,#471264 12.9%,#443982 14.6%,#375a8c 17.5%,#1f9e89 28.0%,#32b57b 31.0%,#56c666 33.3%,#7ad151 34.5%,#c7e024 36.2%,#f3e621 37.4%,#fde725 38.6%,#fae725 45.6%,#e7e328 46.1%,#aed43c 46.7%,#5fb864 47.3%,#2f9e82 47.9%,#22938b 48.5%,#23948a 50.8%,#33a27f 51.4%,#61bc63 52.0%,#a8d53f 52.6%,#e1e22a 53.2%,#f9e625 53.7%,#fde725 61.9%,#fde725)"></i><i class="p3" style="top:775px;height:1px;background:linear-gradient(90deg,#440154,#450356 11.7%,#471466 12.9%,#433c83 14.6%,#355f8d 18.1%,#1f9f88 28.0%,#33b67a 31.0%,#59c764 33.3%,#80d24d 34.5%,#cfe122 36.2%,#f6e622 37.4%,#fde725 39.1%,#fae625 45.6%,#e5e229 46.1%,#aad33e 46.7%,#5bb666 47.3%,#2e9d82 47.9%,#22938b 48.5%,#23948a 50.8%,#32a180 51.4%,#60bb63 52.0%,#a7d540 52.6%,#e1e22b 53.2%,#f8e625 53.7%,#fde725 59.6%,#fde725)"></i><i class="p3" style="top:776px;height:1px;background:linear-gradient(90deg,#440154,#450457 11.7%,#472575 13.4%,#404688 15.2%,#2c728e 21.0%,#1fa088 28.0%,#2eb27d 30.4%,#50c46a 32.7%,#6fce57 33.9%,#bbde2a 35.6%,#d5e220 36.2%,#ebe51f 36.8%,#f8e622 37.4%,#fde725 42.1%,#f9e625 45.6%,#e3e22a 46.1%,#a6d140 46.7%,#58b568 47.3%,#2c9d83 47.9%,#22938b 48.5%,#23938a 50.8%,#32a080 51.4%,#5fbb64 52.0%,#a5d440 52.6%,#e0e22b 53.2%,#f8e625 53.7%,#fde725 58.4%,#fde725)"></i><i class="p3" style="top:777px;height:1px;background:linear-gradient(90deg,#440154,#450558 11.7%,#424085 14.6%,#30688e 19.3%,#20a187 28.0%,#2fb37c 30.4%,#53c568 32.7%,#75cf54 33.9%,#c2df27 35.6%,#f0e520 36.8%,#fde724 38.0%,#f9e625 45.6%,#e0e12b 46.1%,#a2d042 46.7%,#55b46a 47.3%,#2b9c84 47.9%,#22928b 48.5%,#23938b 50.8%,#31a080 51.4%,#5dba65 52.0%,#a4d441 52.6%,#dfe22c 53.2%,#f8e626 53.7%,#fde725 57.8%,#fde725)"></i><i class="p3" style="top:778px;height:1px;background:linear-gradient(90deg,#440154,#440255 11.1%,#461062 12.3%,#443881 14.0%,#3a548b 16.4%,#1f988a 26.9%,#2bb07f 29.8%,#56c666 32.7%,#7bd150 33.9%,#c9e024 35.6%,#f4e621 36.8%,#fde725 38.0%,#fde725 45.0%,#f8e626 45.6%,#dee12c 46.1%,#9ecf45 46.7%,#52b26b 47.3%,#2a9b84 47.9%,#21918c 49.1%,#23938b 50.8%,#31a081 51.4%,#5cba66 52.0%,#a3d442 52.6%,#dfe22c 53.2%,#f8e626 53.7%,#fde725 57.2%,#fde725)"></i><i class="p3" style="top:779px;height:1px;background:linear-gradient(90deg,#440154,#440355 11.1%,#471365 12.3%,#433a82 14.0%,#375a8c 16.9%,#1f998a 26.9%,#27ac81 29.2%,#4dc36b 32.1%,#6bcd5a 33.3%,#d0e122 35.6%,#e7e41f 36.2%,#f6e622 36.8%,#fde725 38.6%,#fde725 45.0%,#f8e626 45.6%,#dce02e 46.1%,#99ce48 46.7%,#4fb16e 47.3%,#299a85 47.9%,#21918c 49.1%,#23938b 50.8%,#30a081 51.4%,#5bb966 52.0%,#a2d343 52.6%,#dee22c 53.2%,#f8e626 53.7%,#fde725 57.2%,#fde725)"></i><i class="p3" style="top:780px;height:1px;background:linear-gradient(90deg,#440154,#450356 11.1%,#471567 12.3%,#433c83 14.0%,#345f8d 17.5%,#1f9f88 27.5%,#2db27d 29.8%,#50c46a 32.1%,#70ce57 33.3%,#bdde29 35.0%,#d7e220 35.6%,#ece51f 36.2%,#f8e622 36.8%,#fde725 42.6%,#fde725 45.0%,#f7e626 45.6%,#dae02f 46.1%,#95cc4b 46.7%,#4caf70 47.3%,#289986 47.9%,#21918c 49.1%,#23938b 50.8%,#309f81 51.4%,#5ab967 52.0%,#a0d344 52.6%,#dee22d 53.2%,#f8e626 53.7%,#fde725 56.7%,#fde725)"></i><i class="p3" style="top:781px;height:1px;background:linear-gradient(90deg,#440154,#450557 11.1%,#423e84 14.0%,#32648e 18.1%,#1fa088 27.5%,#2fb37c 29.8%,#53c568 32.1%,#76d053 33.3%,#c4df26 35.0%,#f1e520 36.2%,#fde724 37.4%,#fde725 45.0%,#f7e627 45.6%,#d7df31 46.1%,#91cb4d 46.7%,#49ad72 47.3%,#289987 47.9%,#21918c 49.1%,#23938b 50.8%,#2f9f82 51.4%,#58b868 52.0%,#9fd244 52.6%,#dde12d 53.2%,#f8e626 53.7%,#fde725 56.1%,#fde725)"></i><i class="p3" style="top:782px;height:1px;background:linear-gradient(90deg,#440154,#450658 11.1%,#443680 13.4%,#3a538b 15.8%,#1f978b 26.3%,#25ab82 28.6%,#4bc26c 31.5%,#67cb5c 32.7%,#cbe024 35.0%,#f5e621 36.2%,#fde725 37.4%,#fde725 45.0%,#f6e627 45.6%,#d5df32 46.1%,#8ec950 46.7%,#47ab74 47.3%,#279887 47.9%,#21918c 49.6%,#22938b 50.8%,#2f9f82 51.4%,#58b868 52.0%,#9ed245 52.6%,#dde12e 53.2%,#f8e626 53.7%,#fde725 56.1%,#fde725)"></i><i class="p3" style="top:783px;height:1px;background:linear-gradient(90deg,#440154,#440255 10.5%,#471163 11.7%,#443981 13.4%,#37598c 16.4%,#1f9d89 26.9%,#2cb17e 29.2%,#4ec36b 31.5%,#6ccd59 32.7%,#d2e121 35.0%,#e8e41f 35.6%,#f7e622 36.2%,#fde725 38.6%,#fde725 45.0%,#f6e627 45.6%,#d3de34 46.1%,#45aa76 47.3%,#269788 47.9%,#21918c 49.6%,#22938b 50.8%,#2e9f82 51.4%,#57b869 52.0%,#9dd246 52.6%,#dce12e 53.2%,#f8e626 53.7%,#fde725 56.1%,#fde725)"></i><i class="p3" style="top:784px;height:1px;background:linear-gradient(90deg,#440154,#440356 10.5%,#471466 11.7%,#433b83 13.4%,#375a8c 16.4%,#1f998a 26.3%,#28ad81 28.6%,#51c469 31.5%,#72cf56 32.7%,#bfdf28 34.5%,#d9e220 35.0%,#ede51f 35.6%,#fde724 36.8%,#fde725 45.0%,#f5e628 45.6%,#d1dd35 46.1%,#43a877 47.3%,#269688 47.9%,#21918c 50.2%,#22938b 50.8%,#2e9f82 51.4%,#56b769 52.0%,#9cd246 52.6%,#dce12e 53.2%,#f7e626 53.7%,#fde725 56.1%,#fde725)"></i><i class="p3" style="top:785px;height:1px;background:linear-gradient(90deg,#440154,#450457 10.5%,#472574 12.3%,#404688 14.0%,#2e6e8e 19.3%,#1fa088 26.9%,#2fb37c 29.2%,#54c567 31.5%,#78d052 32.7%,#c6e025 34.5%,#f2e621 35.6%,#fde725 36.8%,#fde725 45.0%,#f5e528 45.6%,#cfdc37 46.1%,#83c457 46.7%,#41a679 47.3%,#269589 47.9%,#21918c 50.2%,#22938b 50.8%,#2e9e83 51.4%,#55b76a 52.0%,#9bd147 52.6%,#dbe12f 53.2%,#f7e626 53.7%,#fde725 55.5%,#fde725)"></i><i class="p3" style="top:786px;height:1px;background:linear-gradient(90deg,#440154,#450558 10.5%,#424085 13.4%,#30688e 18.1%,#20a187 26.9%,#31b47b 29.2%,#58c765 31.5%,#7ed24e 32.7%,#cde123 34.5%,#f5e622 35.6%,#fde725 37.4%,#fde725 45.0%,#f4e528 45.6%,#ccdc38 46.1%,#80c25a 46.7%,#3fa47b 47.3%,#259489 47.9%,#22938b 50.8%,#2d9e83 51.4%,#54b76a 52.0%,#9ad147 52.6%,#dbe12f 53.2%,#f7e626 53.7%,#fde725 55.5%,#fde725)"></i><i class="p3" style="top:787px;height:1px;background:linear-gradient(90deg,#440154,#440255 9.9%,#461163 11.1%,#443881 12.9%,#3a548b 15.2%,#1f988a 25.7%,#27ac81 28.0%,#4fc36a 31.0%,#6ece58 32.1%,#bade2a 33.9%,#d5e221 34.5%,#ebe51f 35.0%,#f8e622 35.6%,#fde725 39.7%,#fde725 45.0%,#f4e528 45.6%,#cadb3a 46.1%,#7bc15c 46.7%,#3ca37c 47.3%,#25948a 47.9%,#22938b 50.8%,#2d9e83 51.4%,#53b66b 52.0%,#99d148 52.6%,#dae12f 53.2%,#f7e626 53.7%,#fde725 55.5%,#fde725)"></i><i class="p3" style="top:788px;height:1px;background:linear-gradient(90deg,#440154,#440356 9.9%,#471466 11.1%,#433b83 12.9%,#375a8c 15.8%,#1f998a 25.7%,#28ad80 28.0%,#52c568 31.0%,#75d054 32.1%,#c3df27 33.9%,#f0e520 35.0%,#fde724 36.2%,#fce725 45.0%,#f3e529 45.6%,#c6da3b 46.1%,#76bf5f 46.7%,#39a27e 47.3%,#24948a 47.9%,#22938b 50.8%,#2d9e83 51.4%,#53b66b 52.0%,#98d149 52.6%,#dae12f 53.2%,#f7e626 53.7%,#fde725 55.5%,#fde725)"></i><i class="p3" style="top:789px;height:1px;background:linear-gradient(90deg,#440154,#450457 9.9%,#472675 11.7%,#404688 13.4%,#2c728e 19.3%,#20a088 26.3%,#30b47b 28.6%,#57c666 31.0%,#7dd24f 32.1%,#cbe023 33.9%,#f5e621 35.0%,#fde725 36.2%,#fce725 45.0%,#f0e428 45.6%,#c1d83b 46.1%,#70bd61 46.7%,#36a17f 47.3%,#23938a 47.9%,#22938b 50.8%,#2c9e83 51.4%,#52b66c 52.0%,#97d049 52.6%,#d9e130 53.2%,#f7e626 53.7%,#fde725 55.5%,#fde725)"></i><i class="p3" style="top:790px;height:1px;background:linear-gradient(90deg,#440154,#440255 9.3%,#460f62 10.5%,#443680 12.3%,#3a538b 14.6%,#1f988b 25.1%,#26ac82 27.5%,#4ec36b 30.4%,#6ece58 31.5%,#bade2b 33.3%,#d4e221 33.9%,#eae51f 34.5%,#f7e622 35.0%,#fde725 38.6%,#fbe725 45.0%,#ece427 45.6%,#b8d63a 46.1%,#67ba62 46.7%,#329f80 47.3%,#23938b 47.9%,#22938b 50.8%,#2c9e83 51.4%,#51b66c 52.0%,#96d04a 52.6%,#d9e030 53.2%,#f7e626 53.7%,#fde725 55.5%,#fde725)"></i><i class="p3" style="top:791px;height:1px;background:linear-gradient(90deg,#440154,#440356 9.3%,#471365 10.5%,#433a82 12.3%,#375a8c 15.2%,#1f998a 25.1%,#28ad80 27.5%,#52c568 30.4%,#75d054 31.5%,#c3df26 33.3%,#f0e520 34.5%,#fde724 35.6%,#fae725 45.0%,#e7e328 45.6%,#aed33c 46.1%,#5eb765 46.7%,#2f9e82 47.3%,#22938b 47.9%,#22938b 50.8%,#2c9e84 51.4%,#50b56d 52.0%,#95d04a 52.6%,#d8e030 53.2%,#f7e627 53.7%,#fde725 55.5%,#fde725)"></i><i class="p3" style="top:792px;height:1px;background:linear-gradient(90deg,#440154,#450457 9.3%,#472574 11.1%,#404687 12.9%,#2e6e8e 18.1%,#20a088 25.7%,#30b47b 28.0%,#57c665 30.4%,#7ed24e 31.5%,#cce123 33.3%,#f5e622 34.5%,#fde725 35.6%,#f9e625 45.0%,#e1e12a 45.6%,#a3d042 46.1%,#56b369 46.7%,#2b9c84 47.3%,#22928b 47.9%,#22938b 50.8%,#2b9d84 51.4%,#4fb56e 52.0%,#94cf4b 52.6%,#d7e031 53.2%,#f7e627 53.7%,#fde725 55.5%,#fde725)"></i><i class="p3" style="top:793px;height:1px;background:linear-gradient(90deg,#440154,#440255 8.8%,#460f62 9.9%,#443680 11.7%,#3a538b 14.0%,#1f988b 24.5%,#26ac81 26.9%,#4fc36a 29.8%,#6fce57 31.0%,#bbde2a 32.7%,#d6e220 33.3%,#ebe51f 33.9%,#f8e622 34.5%,#fde725 39.1%,#fde725 44.4%,#f8e626 45.0%,#dce02e 45.6%,#99cd49 46.1%,#4eaf6f 46.7%,#299986 47.3%,#21918c 48.5%,#22938b 50.8%,#2b9d84 51.4%,#4eb56e 52.0%,#93cf4c 52.6%,#d7e031 53.2%,#f6e627 53.7%,#fde725 54.9%,#fde725)"></i><i class="p3" style="top:794px;height:1px;background:linear-gradient(90deg,#440154,#440356 8.8%,#471466 9.9%,#443a82 11.7%,#375a8c 14.6%,#1f9a8a 24.5%,#28ae80 26.9%,#48c06e 29.2%,#63ca5f 30.4%,#aadb33 32.1%,#dfe31f 33.3%,#f2e621 33.9%,#fde725 35.0%,#fde725 44.4%,#f6e627 45.0%,#d6df32 45.6%,#8fc94f 46.1%,#48aa74 46.7%,#279787 47.3%,#21918c 49.1%,#22938b 50.8%,#2b9d84 51.4%,#4db46f 52.0%,#92cf4d 52.6%,#d6e032 53.2%,#f6e627 53.7%,#fde725 54.9%,#fde725)"></i><i class="p3" style="top:795px;height:1px;background:linear-gradient(90deg,#440154,#450557 8.8%,#433d84 11.7%,#32648d 15.8%,#20a187 25.1%,#31b47b 27.5%,#59c765 29.8%,#80d24d 31.0%,#cfe122 32.7%,#e7e41f 33.3%,#f6e622 33.9%,#fde725 35.6%,#fde725 44.4%,#f5e528 45.0%,#d0dd36 45.6%,#42a678 46.7%,#269589 47.3%,#21918c 49.6%,#22938b 50.8%,#2a9d84 51.4%,#4cb46f 52.0%,#91ce4d 52.6%,#d6e032 53.2%,#f6e627 53.7%,#fde725 54.9%,#fde725)"></i><i class="p3" style="top:796px;height:1px;background:linear-gradient(90deg,#440154,#440255 8.2%,#461062 9.3%,#443680 11.1%,#3a538b 13.4%,#1f988a 23.9%,#27ac81 26.3%,#50c46a 29.2%,#71cf56 30.4%,#bfdf28 32.1%,#d9e220 32.7%,#ede520 33.3%,#fde724 34.5%,#fde725 44.4%,#f4e528 45.0%,#cadb39 45.6%,#7cc15c 46.1%,#3da37c 46.7%,#25948a 47.3%,#22938b 50.8%,#2a9d85 51.4%,#4bb370 52.0%,#8fce4e 52.6%,#d5df32 53.2%,#f6e627 53.7%,#fde725 54.9%,#fde725)"></i><i class="p3" style="top:797px;height:1px;background:linear-gradient(90deg,#440154,#450356 8.2%,#471466 9.3%,#433a82 11.1%,#375a8c 14.0%,#1f9a8a 23.9%,#29ae80 26.3%,#55c567 29.2%,#79d151 30.4%,#c9e024 32.1%,#f3e621 33.3%,#fde725 34.5%,#fce725 44.4%,#f2e529 45.0%,#c4d93c 45.6%,#73be61 46.1%,#37a17f 46.7%,#24948a 47.3%,#22938b 50.8%,#2a9c85 51.4%,#4ab370 52.0%,#8ecd4f 52.6%,#d4df33 53.2%,#f6e627 53.7%,#fde725 54.9%,#fde725)"></i><i class="p3" style="top:798px;height:1px;background:linear-gradient(90deg,#440154,#450558 8.2%,#423e84 11.1%,#32648e 15.2%,#1f9c89 23.9%,#2bb07e 26.3%,#4dc26b 28.6%,#6ccd59 29.8%,#d2e121 32.1%,#e9e41f 32.7%,#f7e622 33.3%,#fde725 36.2%,#fbe725 44.4%,#ede428 45.0%,#b9d53c 45.6%,#67b963 46.1%,#329f81 46.7%,#23938b 47.3%,#22938b 50.8%,#299c85 51.4%,#49b371 52.0%,#8dcd50 52.6%,#d3df33 53.2%,#f6e627 53.7%,#fde725 54.9%,#fde725)"></i><i class="p3" style="top:799px;height:1px;background:linear-gradient(90deg,#440154,#440255 7.6%,#471163 8.8%,#443781 10.5%,#3a548b 12.9%,#1f998a 23.4%,#27ad81 25.7%,#51c469 28.6%,#73cf55 29.8%,#c2df27 31.5%,#efe520 32.7%,#fde724 33.9%,#fae625 44.4%,#e5e229 45.0%,#aad13f 45.6%,#5ab467 46.1%,#2d9c83 46.7%,#22928b 47.3%,#21938b 50.8%,#299c85 51.4%,#48b272 52.0%,#8ccd51 52.6%,#d3df34 53.2%,#f6e627 53.7%,#fde725 54.9%,#fde725)"></i><i class="p3" style="top:800px;height:1px;background:linear-gradient(90deg,#440154,#450457 7.6%,#472272 9.3%,#404487 11.1%,#2e6e8e 16.4%,#20a088 23.9%,#30b37c 26.3%,#56c666 28.6%,#7bd150 29.8%,#cbe023 31.5%,#f5e621 32.7%,#fde725 33.9%,#fde725 43.8%,#f8e626 44.4%,#dde02d 45.0%,#9ccd47 45.6%,#50af6e 46.1%,#299986 46.7%,#21918c 47.9%,#21938b 50.8%,#299c85 51.4%,#47b272 52.0%,#8acc51 52.6%,#d2df34 53.2%,#f5e627 53.7%,#fde725 54.9%,#fde725)"></i><i class="p3" style="top:801px;height:1px;background:linear-gradient(90deg,#440154,#450558 7.6%,#423e84 10.5%,#32648e 14.6%,#1f9d89 23.4%,#2cb07e 25.7%,#4ec36b 28.0%,#6dcd59 29.2%,#d4e221 31.5%,#eae51f 32.1%,#f8e622 32.7%,#fde725 36.8%,#fde725 43.8%,#f6e627 44.4%,#d6de32 45.0%,#8fc850 45.6%,#48a974 46.1%,#279688 46.7%,#21918c 47.9%,#21928b 50.8%,#289c86 51.4%,#46b173 52.0%,#d1de35 53.2%,#f5e627 53.7%,#fde725 54.9%,#fde725)"></i><i class="p3" style="top:802px;height:1px;background:linear-gradient(90deg,#440154,#440255 7.0%,#471163 8.2%,#443781 9.9%,#3a548b 12.3%,#1f998a 22.8%,#28ad80 25.1%,#51c469 28.0%,#74cf54 29.2%,#c3df27 31.0%,#f0e520 32.1%,#fde724 33.3%,#fde725 43.8%,#f5e528 44.4%,#cedc37 45.0%,#83c358 45.6%,#41a579 46.1%,#269489 46.7%,#21918c 49.6%,#21928b 50.8%,#289b86 51.4%,#45b173 52.0%,#d1de35 53.2%,#f5e628 53.7%,#fde725 54.9%,#fde725)"></i><i class="p3" style="top:803px;height:1px;background:linear-gradient(90deg,#440154,#450457 7.0%,#472272 8.8%,#414387 10.5%,#2e6e8e 15.8%,#20a088 23.4%,#30b47c 25.7%,#56c666 28.0%,#7bd150 29.2%,#cbe023 31.0%,#f5e621 32.1%,#fde725 33.3%,#fce725 43.8%,#f3e529 44.4%,#c7da3b 45.0%,#78c05e 45.6%,#3aa27d 46.1%,#24948a 46.7%,#21928c 50.8%,#289b86 51.4%,#45b074 52.0%,#d0de35 53.2%,#f5e628 53.7%,#fde725 54.9%,#fde725)"></i><i class="p3" style="top:804px;height:1px;background:linear-gradient(90deg,#440154,#450558 7.0%,#433d84 9.9%,#32648e 14.0%,#1f9d89 22.8%,#2bb07e 25.1%,#4dc36b 27.5%,#6ccd59 28.6%,#d3e221 31.0%,#eae51f 31.5%,#f7e622 32.1%,#fde725 35.0%,#fce725 43.8%,#f0e428 44.4%,#bed73c 45.0%,#6cbb62 45.6%,#34a080 46.1%,#23938b 46.7%,#21928c 50.8%,#279b86 51.4%,#44b074 52.0%,#85ca54 52.6%,#cede35 53.2%,#f4e527 53.7%,#fde725 54.9%,#fde725)"></i><i class="p3" style="top:805px;height:1px;background:linear-gradient(90deg,#440154,#440255 6.4%,#471163 7.6%,#443680 9.3%,#3a538b 11.7%,#1f998a 22.2%,#27ad81 24.5%,#50c469 27.5%,#72cf56 28.6%,#c0df28 30.4%,#dbe320 31.0%,#efe520 31.5%,#fde724 32.7%,#fae725 43.8%,#e8e328 44.4%,#afd33d 45.0%,#5fb665 45.6%,#2e9d82 46.1%,#22938b 46.7%,#21928c 50.8%,#279b86 51.4%,#42af75 52.0%,#83ca55 52.6%,#cddd35 53.2%,#f4e527 53.7%,#fde725 54.9%,#fde725)"></i><i class="p3" style="top:806px;height:1px;background:linear-gradient(90deg,#440154,#450356 6.4%,#471466 7.6%,#443982 9.3%,#375a8c 12.3%,#1f9b8a 22.2%,#29ae80 24.5%,#54c568 27.5%,#78d052 28.6%,#c8e025 30.4%,#f3e621 31.5%,#fde725 32.7%,#fde725 43.2%,#f8e625 43.8%,#dfe12c 44.4%,#9fce44 45.0%,#53b16c 45.6%,#2a9a85 46.1%,#21918c 47.3%,#21928c 50.8%,#279b87 51.4%,#42af75 52.0%,#81c955 52.6%,#cbdd35 53.2%,#f3e527 53.7%,#fce725 54.3%,#fde725)"></i><i class="p3" style="top:807px;height:1px;background:linear-gradient(90deg,#440154,#450457 6.4%,#472474 8.2%,#404587 9.9%,#2e6f8e 15.2%,#20a187 22.8%,#31b47b 25.1%,#57c666 27.5%,#7ed24e 28.6%,#cee122 30.4%,#e6e41f 31.0%,#f6e622 31.5%,#fde725 33.3%,#fde725 43.2%,#f7e627 43.8%,#d7df31 44.4%,#91ca4e 45.0%,#49ab73 45.6%,#289787 46.1%,#21918c 47.3%,#21928c 50.8%,#269b87 51.4%,#41af76 52.0%,#80c956 52.6%,#cadd35 53.2%,#f3e527 53.7%,#fce725 54.3%,#fde725)"></i><i class="p3" style="top:808px;height:1px;background:linear-gradient(90deg,#440154,#450558 6.4%,#423e84 9.3%,#32658e 13.4%,#1f9d89 22.2%,#2cb07e 24.5%,#4dc36b 26.9%,#6ccd59 28.0%,#b9de2b 29.8%,#d4e221 30.4%,#ebe51f 31.0%,#f8e622 31.5%,#fde725 35.6%,#fde725 43.2%,#f5e528 43.8%,#d0dd36 44.4%,#42a678 45.6%,#269589 46.1%,#21918c 48.5%,#21928c 50.8%,#269a87 51.4%,#40ae76 52.0%,#7ec856 52.6%,#c9dc35 53.2%,#f2e527 53.7%,#fce725 54.3%,#fde725)"></i><i class="p3" style="top:809px;height:1px;background:linear-gradient(90deg,#440154,#440255 5.8%,#461062 7.0%,#443680 8.8%,#3a548b 11.1%,#1f998a 21.6%,#27ad81 23.9%,#50c46a 26.9%,#70ce57 28.0%,#bfdf28 29.8%,#d9e220 30.4%,#eee520 31.0%,#fde724 32.1%,#fce725 43.2%,#f3e528 43.8%,#c9db39 44.4%,#7bc15c 45.0%,#3ca37c 45.6%,#25948a 46.1%,#21928c 50.8%,#269a87 51.4%,#3fae77 52.0%,#7cc856 52.6%,#c7dc35 53.2%,#f1e526 53.7%,#fce725 54.3%,#fde725)"></i><i class="p3" style="top:810px;height:1px;background:linear-gradient(90deg,#440154,#440356 5.8%,#471265 7.0%,#443981 8.8%,#375a8c 11.7%,#1f9a8a 21.6%,#28ae80 23.9%,#51c469 26.9%,#74cf54 28.0%,#c3df26 29.8%,#f1e621 31.0%,#fde725 32.1%,#fce725 43.2%,#f0e428 43.8%,#c0d83b 44.4%,#70bd60 45.0%,#36a17f 45.6%,#24948a 46.1%,#21928c 50.8%,#269a87 51.4%,#3eae77 52.0%,#7ac757 52.6%,#c5dc35 53.2%,#f0e526 53.7%,#fce724 54.3%,#fde725)"></i><i class="p3" style="top:811px;height:1px;background:linear-gradient(90deg,#440154,#450356 5.8%,#471467 7.0%,#433a82 8.8%,#355f8d 12.3%,#1f9b8a 21.6%,#29ae80 23.9%,#53c568 26.9%,#77d053 28.0%,#c7e025 29.8%,#f4e621 31.0%,#fde725 32.1%,#fae725 43.2%,#e8e328 43.8%,#b1d43c 44.4%,#62b963 45.0%,#309f81 45.6%,#22938b 46.1%,#21928c 50.8%,#269a87 51.4%,#3dad78 52.0%,#79c757 52.6%,#c4db35 53.2%,#f0e526 53.7%,#fce724 54.3%,#fde725)"></i><i class="p3" style="top:812px;height:1px;background:linear-gradient(90deg,#440154,#450457 5.8%,#472473 7.6%,#404587 9.3%,#2e6f8e 14.6%,#20a088 22.2%,#30b37c 24.5%,#54c567 26.9%,#79d151 28.0%,#cae024 29.8%,#f5e622 31.0%,#fde725 32.1%,#fde725 42.6%,#f9e625 43.2%,#e0e12b 43.8%,#a2d142 44.4%,#56b469 45.0%,#2c9c83 45.6%,#22938b 46.1%,#21928c 50.8%,#259a87 51.4%,#3cad78 52.0%,#77c657 52.6%,#c2db35 53.2%,#efe526 53.7%,#fbe724 54.3%,#fde725)"></i><i class="p3" style="top:813px;height:1px;background:linear-gradient(90deg,#440154,#450457 5.8%,#472574 7.6%,#404688 9.3%,#2d6f8e 14.6%,#20a187 22.2%,#30b47b 24.5%,#55c667 26.9%,#7bd150 28.0%,#cce123 29.8%,#e5e41f 30.4%,#f5e622 31.0%,#fde725 32.7%,#fde725 42.6%,#f7e626 43.2%,#d9e030 43.8%,#95cd4a 44.4%,#4cb06f 45.0%,#299a86 45.6%,#21918c 46.7%,#21928c 50.8%,#259a88 51.4%,#3bac78 52.0%,#76c658 52.6%,#c1db35 53.2%,#eee426 53.7%,#fbe724 54.3%,#fde725)"></i><i class="p3" style="top:814px;height:1px;background:linear-gradient(90deg,#440154,#450558 5.8%,#423e84 8.8%,#32658e 12.9%,#20a187 22.2%,#30b47b 24.5%,#56c666 26.9%,#7cd150 28.0%,#cde123 29.8%,#f6e622 31.0%,#fde725 32.7%,#fde725 42.6%,#f6e627 43.2%,#d3de34 43.8%,#8ac952 44.4%,#45ac75 45.0%,#279887 45.6%,#21918c 47.3%,#21928c 50.8%,#259a88 51.4%,#3bac79 52.0%,#74c558 52.6%,#bfda35 53.2%,#ede426 53.7%,#fbe724 54.3%,#fde725)"></i><i class="p3" style="top:815px;height:1px;background:linear-gradient(90deg,#440154,#450558 5.8%,#423f85 8.8%,#32658e 12.9%,#20a187 22.2%,#30b47b 24.5%,#56c666 26.9%,#7cd150 28.0%,#cde123 29.8%,#f6e622 31.0%,#fde725 32.7%,#fde725 42.6%,#f4e528 43.2%,#cddc37 43.8%,#81c558 44.4%,#40a879 45.0%,#259689 45.6%,#21918c 49.1%,#21928c 50.8%,#259a88 51.4%,#3aac79 52.0%,#73c559 52.6%,#bdda35 53.2%,#ede426 53.7%,#fbe724 54.3%,#fde725)"></i><i class="p3" style="top:816px;height:1px;background:linear-gradient(90deg,#440154,#450558 5.8%,#424085 8.8%,#32658e 12.9%,#20a187 22.2%,#30b47b 24.5%,#56c666 26.9%,#7bd150 28.0%,#cce123 29.8%,#e5e41f 30.4%,#f5e622 31.0%,#fde725 32.7%,#fce725 42.6%,#f0e527 43.2%,#c3da37 43.8%,#76c15b 44.4%,#3aa47c 45.0%,#24948a 45.6%,#21928c 50.8%,#259a88 51.4%,#3aac79 52.0%,#71c559 52.6%,#bcda35 53.2%,#ece426 53.7%,#fbe724 54.3%,#fde725)"></i><i class="p3" style="top:817px;height:1px;background:linear-gradient(90deg,#440154,#450558 5.8%,#424085 8.8%,#32658e 12.9%,#20a187 22.2%,#30b47b 24.5%,#55c667 26.9%,#7ad151 28.0%,#cae024 29.8%,#f5e622 31.0%,#fde725 32.1%,#fae725 42.6%,#e8e327 43.2%,#b3d63a 43.8%,#68bc5f 44.4%,#35a17f 45.0%,#23948a 45.6%,#21928c 50.8%,#259988 51.4%,#39ab79 52.0%,#70c45a 52.6%,#bad936 53.2%,#ebe426 53.7%,#fbe724 54.3%,#fde725)"></i><i class="p3" style="top:818px;height:1px;background:linear-gradient(90deg,#440154,#450558 5.8%,#414185 8.8%,#32668e 12.9%,#20a087 22.2%,#30b47c 24.5%,#55c567 26.9%,#79d051 28.0%,#c8e024 29.8%,#f3e621 31.0%,#fce724 32.1%,#fde725 42.1%,#f8e625 42.6%,#e0e22b 43.2%,#a3d342 43.8%,#5bb866 44.4%,#2f9f81 45.0%,#23938b 45.6%,#21928c 50.8%,#249988 51.4%,#38ab7a 52.0%,#6ec45a 52.6%,#b8d936 53.2%,#eae426 53.7%,#fae724 54.3%,#fde725)"></i><i class="p3" style="top:819px;height:1px;background:linear-gradient(90deg,#440154,#450558 5.8%,#443680 8.2%,#3a548b 10.5%,#1f9b89 21.6%,#29af80 23.9%,#53c568 26.9%,#77d053 28.0%,#c5e025 29.8%,#f1e520 31.0%,#fbe723 32.1%,#fbe724 42.1%,#f5e625 42.6%,#d6e02f 43.2%,#94cf4a 43.8%,#4fb46d 44.4%,#2b9d84 45.0%,#22938b 45.6%,#21928c 50.8%,#249988 51.4%,#38ab7a 52.0%,#6cc35b 52.6%,#b6d937 53.2%,#e9e426 53.7%,#fae724 54.3%,#fde725)"></i><i class="p3" style="top:820px;height:1px;background:linear-gradient(90deg,#440154,#450558 5.8%,#443780 8.2%,#39558c 10.5%,#1f9b8a 21.6%,#29ae80 23.9%,#52c568 26.9%,#74cf54 28.0%,#c1df27 29.8%,#eee51f 31.0%,#f9e722 32.1%,#fae723 42.1%,#f1e525 42.6%,#ccde32 43.2%,#45b073 44.4%,#289b86 45.0%,#21918c 46.1%,#21928c 50.8%,#249988 51.4%,#37ab7a 52.0%,#6bc35c 52.6%,#b4d838 53.2%,#e8e327 53.7%,#fae725 54.3%,#fde725)"></i><i class="p3" style="top:821px;height:1px;background:linear-gradient(90deg,#440154,#450558 5.8%,#443881 8.2%,#39558c 10.5%,#1f9b8a 21.6%,#29ae80 23.9%,#51c469 26.9%,#72cf56 28.0%,#bdde29 29.8%,#eae51e 31.0%,#f7e621 32.1%,#f6e621 42.1%,#e8e424 42.6%,#bbda34 43.2%,#75c657 43.8%,#3cac78 44.4%,#259988 45.0%,#21918c 46.1%,#21928c 50.8%,#249988 51.4%,#36aa7b 52.0%,#69c35c 52.6%,#b2d839 53.2%,#e7e327 53.7%,#fae725 54.3%,#fde725)"></i><i class="p3" style="top:822px;height:1px;background:linear-gradient(90deg,#440154,#450658 5.8%,#443881 8.2%,#39558c 10.5%,#1f9b8a 21.6%,#28ad80 23.9%,#50c46a 26.9%,#6fce57 28.0%,#d2e120 30.4%,#e6e41d 31.0%,#f5e61f 32.1%,#f7e621 41.5%,#f3e621 42.1%,#dee227 42.6%,#aad73b 43.2%,#66c15f 43.8%,#35a87c 44.4%,#249789 45.0%,#21918c 46.7%,#21928c 50.8%,#249988 51.4%,#35aa7b 52.0%,#67c25d 52.6%,#b0d83a 53.2%,#e6e328 53.7%,#fae725 54.3%,#fde725)"></i><i class="p3" style="top:823px;height:1px;background:linear-gradient(90deg,#440154,#450658 5.8%,#443881 8.2%,#39568c 10.5%,#1f9a8a 21.6%,#28ad81 23.9%,#4ec36b 26.9%,#6ccd59 28.0%,#cce122 30.4%,#e1e31d 31.0%,#eee51d 31.5%,#f5e61f 37.4%,#f5e61f 41.5%,#efe521 42.1%,#d5e02a 42.6%,#9ad344 43.2%,#59bc66 43.8%,#30a480 44.4%,#23968a 45.0%,#21918c 50.2%,#249988 51.4%,#35aa7c 52.0%,#66c25e 52.6%,#aed73b 53.2%,#e5e328 53.7%,#f9e625 54.3%,#fde725)"></i><i class="p3" style="top:824px;height:1px;background:linear-gradient(90deg,#440154,#450659 5.8%,#443982 8.2%,#39568c 10.5%,#1f9a8a 21.6%,#2cb17e 24.5%,#59c764 27.5%,#95d740 29.2%,#c7e024 30.4%,#eae51c 31.5%,#f2e61d 34.5%,#f2e61e 41.5%,#e9e420 42.1%,#c8de2c 42.6%,#8bcf4b 43.2%,#4db76d 43.8%,#2ca083 44.4%,#22948b 45.0%,#21928c 50.8%,#249988 51.4%,#34aa7c 52.0%,#64c15f 52.6%,#acd73c 53.2%,#e3e329 53.7%,#f9e625 54.3%,#fde725 80.6%,#fde725)"></i><i class="p3" style="top:825px;height:1px;background:linear-gradient(90deg,#440154,#450659 5.8%,#433a82 8.2%,#39568c 10.5%,#1f998a 21.6%,#2cb17e 24.5%,#57c666 27.5%,#79d151 28.6%,#c1df26 30.4%,#e6e41b 31.5%,#efe51c 33.3%,#eee51d 41.5%,#e0e321 42.1%,#b8db31 42.6%,#44b272 43.8%,#299d85 44.4%,#21918c 45.6%,#21928c 50.8%,#249989 51.4%,#34a97c 52.0%,#63c160 52.6%,#aad63d 53.2%,#e2e32a 53.7%,#f9e625 54.3%,#fde725 67.2%,#fde725)"></i><i class="p3" style="top:826px;height:1px;background:linear-gradient(90deg,#440154,#450659 5.8%,#433a82 8.2%,#365c8d 11.1%,#1f9e89 22.2%,#31b57b 25.1%,#55c667 27.5%,#75d054 28.6%,#d1e11f 31.0%,#e2e41b 31.5%,#ebe51a 32.7%,#eee51c 40.9%,#eae41d 41.5%,#d7e124 42.1%,#a8d839 42.6%,#6bc65a 43.2%,#3caf77 43.8%,#269b87 44.4%,#21918c 45.6%,#21928c 50.8%,#239989 51.4%,#33a97d 52.0%,#61c061 52.6%,#a8d63f 53.2%,#e1e22b 53.7%,#f9e625 54.3%,#fde725 61.9%,#fde725)"></i><i class="p3" style="top:827px;height:1px;background:linear-gradient(90deg,#440154,#450659 5.8%,#433a82 8.2%,#365c8d 11.1%,#1f9d89 22.2%,#30b47b 25.1%,#53c568 27.5%,#71cf56 28.6%,#cbe121 31.0%,#dde31b 31.5%,#e8e419 32.7%,#ebe51a 40.9%,#e5e41c 41.5%,#cee027 42.1%,#9ad540 42.6%,#5fc261 43.2%,#35ab7b 43.8%,#249a88 44.4%,#21918c 45.6%,#21928c 50.8%,#239989 51.4%,#32a97d 52.0%,#5fc062 52.6%,#a6d640 53.2%,#e0e22b 53.7%,#f8e626 54.3%,#fde725 59.0%,#fde725)"></i><i class="p3" style="top:828px;height:1px;background:linear-gradient(90deg,#440154,#450659 5.8%,#433b82 8.2%,#38578c 10.5%,#1f9d89 22.2%,#30b37c 25.1%,#5dc962 28.0%,#aedc30 30.4%,#d7e21c 31.5%,#e5e419 32.7%,#e9e41a 40.3%,#dee31d 41.5%,#c1de2a 42.1%,#54be68 43.2%,#30a87e 43.8%,#239889 44.4%,#21918c 46.1%,#21928c 50.8%,#239889 51.4%,#32a97d 52.0%,#5ebf63 52.6%,#a4d541 53.2%,#dfe22c 53.7%,#f8e626 54.3%,#fde725 57.8%,#fde725)"></i><i class="p3" style="top:829px;height:1px;background:linear-gradient(90deg,#440154,#450659 5.8%,#433b83 8.2%,#365c8d 11.1%,#1f9c89 22.2%,#2fb37c 25.1%,#5bc863 28.0%,#92d742 29.8%,#d1e11e 31.5%,#e1e319 32.7%,#e6e419 40.3%,#e3e41a 40.9%,#d6e21f 41.5%,#b3db30 42.1%,#4bba6d 43.2%,#2da681 43.8%,#22978a 44.4%,#21918c 46.7%,#21928c 50.8%,#239889 51.4%,#31a87e 52.0%,#5cbf64 52.6%,#a2d542 53.2%,#dee22d 53.7%,#f8e626 54.3%,#fde725 57.2%,#fde725)"></i><i class="p3" style="top:830px;height:1px;background:linear-gradient(90deg,#440154,#450659 5.8%,#433c83 8.2%,#365c8d 11.1%,#1f9c89 22.2%,#2eb27d 25.1%,#59c765 28.0%,#8dd645 29.8%,#cae020 31.5%,#dde319 32.7%,#e4e419 39.7%,#dee31a 40.9%,#cee022 41.5%,#a7d937 42.1%,#44b771 43.2%,#2aa383 43.8%,#22968a 44.4%,#21918c 47.9%,#21928c 50.8%,#239889 51.4%,#31a87e 52.0%,#5bbf65 52.6%,#a0d443 53.2%,#dde22d 53.7%,#f8e626 54.3%,#fde725 56.7%,#fde725)"></i><i class="p3" style="top:831px;height:1px;background:linear-gradient(90deg,#440154,#450659 5.8%,#433c83 8.2%,#365d8d 11.1%,#1f9b89 22.2%,#2db27d 25.1%,#56c666 28.0%,#88d448 29.8%,#c5e023 31.5%,#dae319 32.7%,#e0e318 39.7%,#dae21b 40.9%,#c6df25 41.5%,#9cd63d 42.1%,#67c75c 42.6%,#3db475 43.2%,#28a184 43.8%,#20918c 45.0%,#21928c 50.8%,#239889 51.4%,#31a87e 52.0%,#5abe66 52.6%,#9ed445 53.2%,#dce12e 53.7%,#f7e626 54.3%,#fde725 56.7%,#fde725)"></i><i class="p3" style="top:832px;height:1px;background:linear-gradient(90deg,#440154,#450659 5.8%,#433c83 8.2%,#365d8d 11.1%,#1f9b8a 22.2%,#2cb17e 25.1%,#54c567 28.0%,#82d34c 29.8%,#cee11e 32.1%,#d9e219 33.9%,#dce319 39.7%,#d4e21c 40.9%,#bdde29 41.5%,#5ec461 42.6%,#38b178 43.2%,#26a085 43.8%,#20918c 45.0%,#21928c 50.8%,#239889 51.4%,#30a87e 52.0%,#59be66 52.6%,#9dd446 53.2%,#dbe12f 53.7%,#f7e626 54.3%,#fde725 56.1%,#fde725)"></i><i class="p3" style="top:833px;height:1px;background:linear-gradient(90deg,#440154,#440255 5.3%,#461163 6.4%,#433c83 8.2%,#355d8d 11.1%,#1f9a8a 22.2%,#2bb07e 25.1%,#52c568 28.0%,#7ed24f 29.8%,#c7e021 32.1%,#d4e21b 33.3%,#dae319 39.1%,#d6e21a 40.3%,#cde11f 40.9%,#b2dc2e 41.5%,#56c166 42.6%,#34af7b 43.2%,#259e86 43.8%,#20918c 45.0%,#21928c 50.8%,#239889 51.4%,#30a77f 52.0%,#57be67 52.6%,#9bd347 53.2%,#dae12f 53.7%,#f7e626 54.3%,#fde725 56.1%,#fde725)"></i><i class="p3" style="top:834px;height:1px;background:linear-gradient(90deg,#440154,#440255 5.3%,#461163 6.4%,#423d84 8.2%,#355d8d 11.1%,#1f9e88 22.8%,#30b47b 25.7%,#5bc863 28.6%,#9ed93a 31.0%,#c1df24 32.1%,#d0e11c 33.3%,#d6e21a 39.1%,#d1e11c 40.3%,#c6e022 40.9%,#a9da33 41.5%,#50bf69 42.6%,#32ad7d 43.2%,#249d87 43.8%,#20918c 45.0%,#21928c 50.8%,#239889 51.4%,#2fa77f 52.0%,#56bd68 52.6%,#99d348 53.2%,#d9e130 53.7%,#f7e626 54.3%,#fde725 56.1%,#fde725)"></i><i class="p3" style="top:835px;height:1px;background:linear-gradient(90deg,#440154,#440255 5.3%,#461163 6.4%,#423d84 8.2%,#355d8d 11.1%,#1f9e89 22.8%,#2fb37c 25.7%,#59c764 28.6%,#99d83d 31.0%,#bcde27 32.1%,#cce11e 33.3%,#d4e21b 38.6%,#cde11e 40.3%,#c0df25 40.9%,#a1d938 41.5%,#4bbd6c 42.6%,#2fab7e 43.2%,#239c88 43.8%,#20918c 45.0%,#21928c 50.8%,#239889 51.4%,#2fa77f 52.0%,#55bd69 52.6%,#d8e130 53.7%,#f6e626 54.3%,#fde725 55.5%,#fde725)"></i><i class="p3" style="top:836px;height:2px;background:linear-gradient(90deg,#440154,#440255 5.3%,#461163 6.4%,#423d84 8.2%,#355d8d 11.1%,#1f9d89 22.8%,#2eb27d 25.7%,#56c666 28.6%,#91d742 31.0%,#bfdf25 32.7%,#cfe11c 36.8%,#c6e021 40.3%,#b8dd2a 40.9%,#98d73e 41.5%,#46bb70 42.6%,#2da980 43.2%,#239b88 43.8%,#20918c 45.0%,#21928c 50.8%,#229889 51.4%,#2ea780 52.0%,#53bc6a 52.6%,#d4e02f 53.7%,#f4e625 54.3%,#fde725 55.5%,#fde725)"></i><i class="p3" style="top:838px;height:2px;background:linear-gradient(90deg,#440154,#440255 5.3%,#461264 6.4%,#423d84 8.2%,#355d8d 11.1%,#1f9c89 22.8%,#2cb17e 25.7%,#5dc862 29.2%,#b5dd2b 32.7%,#c4e022 35.0%,#c7e021 38.6%,#bddf26 40.3%,#aedc30 40.9%,#8ed544 41.5%,#41b972 42.6%,#2ba881 43.2%,#21938c 44.4%,#21918c 50.8%,#229789 51.4%,#2da680 52.0%,#50bb6b 52.6%,#cfdf2e 53.7%,#f2e525 54.3%,#fce724 54.9%,#fde725)"></i><i class="p3" style="top:840px;height:1px;background:linear-gradient(90deg,#440154,#440255 5.3%,#461163 6.4%,#423d84 8.2%,#355d8d 11.1%,#1f9b89 22.8%,#2bb07e 25.7%,#5ac764 29.2%,#addc30 32.7%,#bcdf27 34.5%,#c3e023 38.0%,#b6de2b 40.3%,#a7db34 40.9%,#88d348 41.5%,#3fb874 42.6%,#2aa782 43.2%,#21928c 44.4%,#21918c 50.8%,#22978a 51.4%,#2da681 52.0%,#4ebb6c 52.6%,#cbde2e 53.7%,#f0e524 54.3%,#fbe724 54.9%,#fde725)"></i><i class="p3" style="top:841px;height:1px;background:linear-gradient(90deg,#440154,#450659 5.8%,#433d83 8.2%,#355d8d 11.1%,#1f9b8a 22.8%,#2ab07f 25.7%,#57c766 29.2%,#b1dd2e 33.3%,#bfdf25 37.4%,#b0dd2f 40.3%,#a1da38 40.9%,#5dc662 42.1%,#3db775 42.6%,#29a682 43.2%,#21928c 44.4%,#21918c 50.8%,#22978a 51.4%,#2ca581 52.0%,#4cba6d 52.6%,#c8de2f 53.7%,#efe524 54.3%,#fbe724 54.9%,#fde725)"></i><i class="p3" style="top:842px;height:1px;background:linear-gradient(90deg,#440154,#450659 5.8%,#433c83 8.2%,#365d8d 11.1%,#1f9f88 23.4%,#2fb37c 26.3%,#5fc961 29.8%,#abdc31 33.3%,#bade28 37.4%,#a8db34 40.3%,#9ad83d 40.9%,#3ab676 42.6%,#28a683 43.2%,#21928c 44.4%,#21918c 50.8%,#22978a 51.4%,#2ba581 52.0%,#4bb96d 52.6%,#c6dd2f 53.7%,#eee524 54.3%,#fbe724 54.9%,#fde725)"></i><i class="p3" style="top:843px;height:1px;background:linear-gradient(90deg,#440154,#450658 5.8%,#433b82 8.2%,#38578c 10.5%,#1f9a8a 22.8%,#28ae80 25.7%,#52c569 29.2%,#a6db35 33.3%,#b4dd2c 37.4%,#a0da39 40.3%,#91d642 40.9%,#38b478 42.6%,#27a583 43.2%,#21928c 44.4%,#21918c 50.8%,#22978a 51.4%,#2ba582 52.0%,#49b96e 52.6%,#c3dd30 53.7%,#ece525 54.3%,#fbe724 54.9%,#fde725)"></i><i class="p3" style="top:844px;height:1px;background:linear-gradient(90deg,#440154,#450558 5.8%,#462c79 7.6%,#3d4c89 9.3%,#306a8e 13.4%,#20a187 23.9%,#32b57a 26.9%,#63cb5f 30.4%,#a0da39 33.3%,#aedc30 36.8%,#96d83f 40.3%,#89d448 40.9%,#35b379 42.6%,#26a484 43.2%,#21928c 44.4%,#21918c 50.8%,#22968a 51.4%,#2aa482 52.0%,#47b86f 52.6%,#7fcd4f 53.2%,#c0dc31 53.7%,#ebe425 54.3%,#fae724 54.9%,#fde725)"></i><i class="p3" style="top:845px;height:1px;background:linear-gradient(90deg,#440154,#450558 5.8%,#471b6c 7.0%,#404386 8.8%,#33638d 12.3%,#1f9d89 23.4%,#2bb07e 26.3%,#56c667 29.8%,#9ad93d 33.3%,#a7db34 36.2%,#9dd93b 38.6%,#8dd645 40.3%,#80d24d 40.9%,#33b17b 42.6%,#25a385 43.2%,#21928c 44.4%,#21918c 50.8%,#22968a 51.4%,#2aa482 52.0%,#46b770 52.6%,#7dcc51 53.2%,#bedc32 53.7%,#eae426 54.3%,#fae724 54.9%,#fde725)"></i><i class="p3" style="top:846px;height:1px;background:linear-gradient(90deg,#440154,#450457 5.8%,#47196a 7.0%,#414286 8.8%,#33638d 12.3%,#1fa088 23.9%,#2fb37c 26.9%,#5cc863 30.4%,#99d93d 33.9%,#9fda39 37.4%,#83d44b 40.3%,#76d053 40.9%,#30b07c 42.6%,#24a285 43.2%,#21928c 44.4%,#21908c 50.8%,#22968a 51.4%,#29a383 52.0%,#44b771 52.6%,#7acb52 53.2%,#bbdb34 53.7%,#e8e426 54.3%,#fae725 54.9%,#fde725)"></i><i class="p3" style="top:847px;height:1px;background:linear-gradient(90deg,#440154,#450356 5.8%,#471769 7.0%,#414185 8.8%,#33638d 12.3%,#1f9f88 23.9%,#2eb27d 26.9%,#62ca60 31.0%,#93d741 33.9%,#98d83e 37.4%,#79d151 40.3%,#6dcd59 40.9%,#2eae7e 42.6%,#21978a 43.8%,#21908d 46.1%,#21908c 50.8%,#29a383 52.0%,#42b672 52.6%,#77cb54 53.2%,#b8db35 53.7%,#e7e427 54.3%,#fae725 54.9%,#fde725)"></i><i class="p3" style="top:848px;height:1px;background:linear-gradient(90deg,#440154,#440356 5.8%,#471567 7.0%,#424085 8.8%,#33628d 12.3%,#1f9f88 23.9%,#32b57b 27.5%,#68cc5c 31.5%,#8ed645 33.9%,#94d841 36.8%,#70ce57 40.3%,#51c369 41.5%,#2bac7f 42.6%,#20968b 43.8%,#21908d 46.7%,#21908c 50.8%,#28a284 52.0%,#41b573 52.6%,#74ca56 53.2%,#b5da37 53.7%,#e6e428 54.3%,#f9e725 54.9%,#fde725)"></i><i class="p3" style="top:849px;height:1px;background:linear-gradient(90deg,#440154,#440255 5.8%,#471465 7.0%,#423e84 8.8%,#34618d 12.3%,#1f9e89 23.9%,#30b47b 27.5%,#64cb5e 31.5%,#88d548 33.9%,#8cd645 36.8%,#66cb5d 40.3%,#49c06d 41.5%,#29ab81 42.6%,#20968b 43.8%,#218f8d 47.3%,#21908c 50.8%,#28a184 52.0%,#3fb474 52.6%,#71c958 53.2%,#b2da39 53.7%,#e5e329 54.3%,#f9e625 54.9%,#fde725 90.5%,#fde725)"></i><i class="p3" style="top:850px;height:1px;background:linear-gradient(90deg,#440154,#440255 5.8%,#461264 7.0%,#433c83 8.8%,#365d8d 11.7%,#1f9d89 23.9%,#2fb37c 27.5%,#68cc5c 32.1%,#85d44a 34.5%,#85d44a 36.8%,#52c469 40.9%,#27a982 42.6%,#21918c 44.4%,#218f8c 50.8%,#27a184 52.0%,#3db475 52.6%,#6ec859 53.2%,#afd93a 53.7%,#e3e329 54.3%,#f9e625 54.9%,#fde725 66.6%,#fde725)"></i><i class="p3" style="top:851px;height:1px;background:linear-gradient(90deg,#440154,#450659 6.4%,#433a82 8.8%,#365c8d 11.7%,#1f9d89 23.9%,#2db27d 27.5%,#64cb5e 32.1%,#7fd34e 34.5%,#7ed34e 36.8%,#49c16d 40.9%,#25a784 42.6%,#21918c 44.4%,#218f8d 50.8%,#27a085 52.0%,#3bb376 52.6%,#6ac75b 53.2%,#acd83c 53.7%,#e2e32a 54.3%,#f9e625 54.9%,#fde725 61.3%,#fde725)"></i><i class="p3" style="top:852px;height:1px;background:linear-gradient(90deg,#440154,#450558 6.4%,#443881 8.8%,#39568c 11.1%,#1f9c89 23.9%,#2cb17e 27.5%,#7ad151 34.5%,#77d153 36.8%,#42bd71 40.9%,#23a585 42.6%,#21918c 44.4%,#218f8d 50.8%,#26a085 52.0%,#3ab277 52.6%,#67c65d 53.2%,#a9d83e 53.7%,#e0e22b 54.3%,#f8e626 54.9%,#fde725 59.0%,#fde725)"></i><i class="p3" style="top:853px;height:1px;background:linear-gradient(90deg,#440154,#450557 6.4%,#472877 8.2%,#3e4989 9.9%,#30688e 14.0%,#20a287 25.1%,#35b779 28.6%,#74d054 34.5%,#71cf57 36.8%,#3bba75 40.9%,#22a386 42.6%,#21918c 44.4%,#218e8d 50.8%,#269f86 52.0%,#38b178 52.6%,#64c55f 53.2%,#a5d740 53.7%,#dfe22c 54.3%,#f8e626 54.9%,#fde725 57.8%,#fde725)"></i><i class="p3" style="top:854px;height:1px;background:linear-gradient(90deg,#440154,#450457 6.4%,#471769 7.6%,#423f85 9.3%,#33628d 12.9%,#1f9e88 24.5%,#2eb37d 28.0%,#6fcf58 34.5%,#6acd5a 36.8%,#2db17d 41.5%,#209a8a 43.2%,#21908d 45.0%,#228e8d 50.8%,#259f86 52.0%,#36b079 52.6%,#61c461 53.2%,#a2d642 53.7%,#dde22d 54.3%,#f8e626 54.9%,#fde725 57.2%,#fde725)"></i><i class="p3" style="top:855px;height:1px;background:linear-gradient(90deg,#440154,#450356 6.4%,#471567 7.6%,#423d84 9.3%,#34618d 12.9%,#1f9e89 24.5%,#2db27d 28.0%,#6acd5a 34.5%,#64cb5e 36.8%,#29ae80 41.5%,#1f998a 43.2%,#218f8d 45.6%,#228e8d 50.8%,#259e86 52.0%,#35af7a 52.6%,#5dc263 53.2%,#9ed544 53.7%,#dbe12e 54.3%,#f7e626 54.9%,#fde725 56.7%,#fde725)"></i><i class="p3" style="top:856px;height:2px;background:linear-gradient(90deg,#440154,#440255 6.4%,#471264 7.6%,#433a82 9.3%,#365b8d 12.3%,#1f9d89 24.5%,#2bb17e 28.0%,#63cb5f 34.5%,#5cc863 36.8%,#25aa82 41.5%,#21918c 44.4%,#228d8d 50.8%,#249d87 52.0%,#33ae7c 52.6%,#59c165 53.2%,#d5e02d 54.3%,#f4e625 54.9%,#fde725 56.1%,#fde725)"></i><i class="p3" style="top:858px;height:2px;background:linear-gradient(90deg,#440154,#450658 7.0%,#443680 9.3%,#3a548b 11.7%,#1f9c89 24.5%,#2eb27d 28.6%,#56c666 33.3%,#59c765 35.6%,#44be71 38.0%,#22a685 41.5%,#21908c 44.4%,#228d8d 50.8%,#249c87 52.0%,#30ac7d 52.6%,#53bf68 53.2%,#cddf2d 54.3%,#f0e524 54.9%,#fbe724 55.5%,#fde725)"></i><i class="p3" style="top:860px;height:2px;background:linear-gradient(90deg,#440154,#450457 7.0%,#472675 8.8%,#404688 10.5%,#306a8e 15.2%,#1fa187 25.7%,#36b778 29.8%,#51c469 33.3%,#51c469 35.6%,#23a884 40.9%,#21908c 44.4%,#228d8d 50.8%,#239b88 52.0%,#2eab7e 52.6%,#4ebd6b 53.2%,#c4de2f 54.3%,#ede525 54.9%,#fbe724 55.5%,#fde725)"></i><i class="p3" style="top:862px;height:2px;background:linear-gradient(90deg,#440154,#450356 7.0%,#471466 8.2%,#433a82 9.9%,#375a8c 12.9%,#1f9d89 25.1%,#2fb37c 29.2%,#4bc26c 33.3%,#47c06f 36.2%,#22a685 40.9%,#218f8d 45.0%,#228c8d 50.8%,#239a88 52.0%,#2caa80 52.6%,#48bb6e 53.2%,#7ccd51 53.7%,#badc34 54.3%,#e8e427 54.9%,#fae725 55.5%,#fde725)"></i><i class="p3" style="top:864px;height:2px;background:linear-gradient(90deg,#440154,#440255 7.0%,#471163 8.2%,#443780 9.9%,#3a538b 12.3%,#21908c 22.8%,#23a884 27.5%,#45bf70 33.3%,#41be72 36.2%,#21a585 40.9%,#218f8d 45.0%,#228c8d 50.8%,#229a89 52.0%,#2aa881 52.6%,#42b972 53.2%,#71ca57 53.7%,#afd93b 54.3%,#e2e32a 54.9%,#f8e625 55.5%,#fde725 60.7%,#fde725)"></i><i class="p3" style="top:866px;height:1px;background:linear-gradient(90deg,#440154,#450659 7.6%,#423e84 10.5%,#32648d 14.6%,#1f9e88 25.7%,#2eb27d 29.8%,#43be71 34.5%,#2eb37c 38.6%,#1f9d89 42.1%,#218e8d 45.0%,#228f8c 51.4%,#29a782 52.6%,#3fb774 53.2%,#69c85b 53.7%,#a5d73e 54.3%,#dae22a 54.9%,#f5e624 55.5%,#fde725 56.7%,#fde725)"></i><i class="p3" style="top:867px;height:1px;background:linear-gradient(90deg,#440154,#450558 7.6%,#433c83 10.5%,#33638d 14.6%,#1f9e89 25.7%,#2fb47c 30.4%,#3fbd73 35.0%,#26ac82 39.7%,#21918c 43.8%,#228b8d 50.8%,#229889 52.0%,#28a682 52.6%,#3cb675 53.2%,#64c65e 53.7%,#d3e12a 54.9%,#f2e624 55.5%,#fce724 56.1%,#fde725)"></i><i class="p3" style="top:868px;height:1px;background:linear-gradient(90deg,#440154,#450558 7.6%,#433a82 10.5%,#355e8d 14.0%,#1f9d89 25.7%,#2db27d 30.4%,#3dbb74 35.0%,#23a884 40.3%,#228d8d 45.0%,#228f8c 51.4%,#27a683 52.6%,#3ab577 53.2%,#5fc561 53.7%,#cde02b 54.9%,#efe524 55.5%,#fbe724 56.1%,#fde725)"></i><i class="p3" style="top:869px;height:1px;background:linear-gradient(90deg,#440154,#450457 7.6%,#443881 10.5%,#38588c 13.4%,#1f9c89 25.7%,#2eb37d 31.0%,#3aba76 35.0%,#23a884 40.3%,#228d8d 45.0%,#228f8c 51.4%,#27a583 52.6%,#38b478 53.2%,#5ac463 53.7%,#c6df2d 54.9%,#ece525 55.5%,#fae724 56.1%,#fde725)"></i><i class="p3" style="top:870px;height:1px;background:linear-gradient(90deg,#440154,#450356 7.6%,#472070 9.3%,#424085 11.1%,#2f6b8e 16.4%,#1fa088 26.9%,#38b977 34.5%,#25ab82 39.7%,#218f8d 43.8%,#238b8d 50.8%,#22978a 52.0%,#26a484 52.6%,#35b379 53.2%,#56c266 53.7%,#c0dd30 54.9%,#e9e426 55.5%,#fae725 56.1%,#fde725)"></i><i class="p3" style="top:871px;height:2px;background:linear-gradient(90deg,#440154,#440356 7.6%,#471c6e 9.3%,#404587 11.7%,#2d708e 17.5%,#1f9f88 26.9%,#34b779 35.0%,#22a785 40.3%,#228c8d 45.0%,#228e8d 51.4%,#25a385 52.6%,#33b17b 53.2%,#50c069 53.7%,#80cf4e 54.3%,#b8dc34 54.9%,#e4e427 55.5%,#f8e625 56.1%,#fde725 63.1%,#fde725)"></i><i class="p3" style="top:873px;height:2px;background:linear-gradient(90deg,#440154,#450558 8.2%,#443982 11.1%,#365c8d 14.6%,#1f968b 25.1%,#28ae80 32.1%,#2eb37c 35.6%,#1fa088 41.5%,#228b8d 45.0%,#228d8d 51.4%,#24a285 52.6%,#30b07c 53.2%,#4bbe6c 53.7%,#76cd54 54.3%,#acda38 54.9%,#dbe227 55.5%,#f4e623 56.1%,#fde725 57.2%,#fde725)"></i><i class="p3" style="top:875px;height:2px;background:linear-gradient(90deg,#440154,#450457 8.2%,#433d84 11.7%,#30698e 16.9%,#1f978b 25.7%,#28ae80 33.3%,#26ac82 38.0%,#20928c 43.2%,#238a8d 46.7%,#228d8d 51.4%,#24a186 52.6%,#2eaf7d 53.2%,#46bc6f 53.7%,#6ecb58 54.3%,#d2e128 55.5%,#f0e523 56.1%,#fbe724 56.7%,#fde725)"></i><i class="p3" style="top:877px;height:2px;background:linear-gradient(90deg,#440154,#440255 8.2%,#47196b 9.9%,#424085 12.3%,#2b748e 19.3%,#1f978b 26.3%,#26ac81 35.6%,#1f9a8a 42.1%,#238a8d 45.0%,#228c8d 51.4%,#23a086 52.6%,#2dad7f 53.2%,#42bb71 53.7%,#67c95c 54.3%,#c9df2b 55.5%,#ece524 56.1%,#fae724 56.7%,#fde725)"></i><i class="p3" style="top:879px;height:2px;background:linear-gradient(90deg,#440154,#450457 8.8%,#433b83 12.3%,#31668e 17.5%,#20938c 25.7%,#23a984 35.6%,#1f958b 42.6%,#23898e 46.1%,#238c8d 51.4%,#239f87 52.6%,#2bac80 53.2%,#3eb974 53.7%,#60c760 54.3%,#c1de2f 55.5%,#e8e426 56.1%,#f9e724 56.7%,#fde725)"></i><i class="p3" style="top:881px;height:2px;background:linear-gradient(90deg,#440154,#440255 8.8%,#47186a 10.5%,#433d84 12.9%,#2b748e 20.4%,#20948c 26.9%,#20a486 36.2%,#228e8d 43.8%,#24888e 50.8%,#21938b 52.0%,#29aa81 53.2%,#3bb776 53.7%,#5ac564 54.3%,#b8dc32 55.5%,#e2e325 56.1%,#f7e623 56.7%,#fde725 58.4%,#fde725)"></i><i class="p3" style="top:883px;height:2px;background:linear-gradient(90deg,#440154,#450457 9.3%,#443781 12.9%,#375b8c 16.9%,#20918c 26.9%,#1fa088 36.2%,#24878e 47.3%,#238a8d 51.4%,#229d88 52.6%,#28a982 53.2%,#38b677 53.7%,#54c367 54.3%,#afdb35 55.5%,#dae225 56.1%,#f3e623 56.7%,#fde725 57.8%,#fde725)"></i><i class="p3" style="top:885px;height:2px;background:linear-gradient(90deg,#440154,#450658 9.9%,#443982 13.4%,#33628d 18.7%,#21908c 27.5%,#1f9b8a 36.8%,#24868e 48.5%,#23898d 51.4%,#219c88 52.6%,#27a882 53.2%,#35b479 53.7%,#4fc16a 54.3%,#76ce53 54.9%,#a6d939 55.5%,#d3e127 56.1%,#f0e523 56.7%,#fbe724 57.2%,#fde725)"></i><i class="p3" style="top:887px;height:2px;background:linear-gradient(90deg,#440154,#450356 9.9%,#433b83 14.0%,#2d708e 21.6%,#218f8d 28.0%,#1f988b 36.8%,#24858e 49.1%,#23898d 51.4%,#26a783 53.2%,#33b37a 53.7%,#4bbf6c 54.3%,#70cc56 54.9%,#cde029 56.1%,#ede524 56.7%,#fbe724 57.2%,#fde725)"></i><i class="p3" style="top:889px;height:2px;background:linear-gradient(90deg,#440154,#450558 10.5%,#453680 14.0%,#3a548b 17.5%,#218f8d 28.6%,#20938c 37.4%,#25858e 49.1%,#24888d 51.4%,#25a684 53.2%,#31b27b 53.7%,#48be6e 54.3%,#6bcb5a 54.9%,#c7df2c 56.1%,#eae425 56.7%,#fae724 57.2%,#fde725)"></i><i class="p3" style="top:891px;height:2px;background:linear-gradient(90deg,#440154,#440356 10.5%,#443982 14.6%,#365c8d 19.3%,#228e8d 29.2%,#21908d 38.0%,#25848e 49.1%,#24888d 51.4%,#25a584 53.2%,#30b17c 53.7%,#45bd70 54.3%,#66c95c 54.9%,#c0de2e 56.1%,#e5e424 56.7%,#f8e623 57.2%,#fde725 60.7%,#fde725)"></i><i class="p3" style="top:893px;height:3px;background:linear-gradient(90deg,#440154,#450457 11.1%,#443a83 15.2%,#31668e 21.6%,#228d8d 29.8%,#228d8d 38.6%,#25848e 48.5%,#24888d 51.4%,#24a485 53.2%,#2eb07d 53.7%,#42bb72 54.3%,#61c85f 54.9%,#b8dd30 56.1%,#dfe324 56.7%,#f5e623 57.2%,#fde725 58.4%,#fde725)"></i><i class="p3" style="top:896px;height:3px;background:linear-gradient(90deg,#440154,#450558 11.7%,#433b83 15.8%,#2f6c8e 23.4%,#228b8d 30.4%,#23888e 40.3%,#25858e 50.8%,#21998a 52.6%,#2daf7e 53.7%,#3fba73 54.3%,#5cc662 54.9%,#b0db33 56.1%,#d8e225 56.7%,#f2e622 57.2%,#fde725 58.4%,#fde725)"></i><i class="p3" style="top:899px;height:3px;background:linear-gradient(90deg,#440154,#440355 11.7%,#453680 15.8%,#3a528b 19.3%,#23898d 30.4%,#24868e 40.9%,#25858e 50.8%,#21988a 52.6%,#2cae7f 53.7%,#3cb975 54.3%,#57c565 54.9%,#a9da37 56.1%,#d2e126 56.7%,#efe523 57.2%,#fbe724 57.8%,#fde725)"></i><i class="p3" style="top:902px;height:3px;background:linear-gradient(90deg,#440154,#450356 12.3%,#453781 16.4%,#375a8c 21.0%,#24888e 31.0%,#25848e 49.6%,#24888d 51.4%,#23a386 53.2%,#3ab876 54.3%,#53c367 54.9%,#a2d93a 56.1%,#cde029 56.7%,#ece524 57.2%,#fae724 57.8%,#fde725)"></i><i class="p3" style="top:905px;height:3px;background:linear-gradient(90deg,#440154,#450457 12.9%,#443982 16.9%,#355e8d 22.2%,#24868e 31.5%,#25838e 48.5%,#23898d 51.4%,#23a386 53.2%,#39b777 54.3%,#50c269 54.9%,#9bd73d 56.1%,#c6df2a 56.7%,#e7e423 57.2%,#f8e623 57.8%,#fde725 63.1%,#fde725)"></i><i class="p3" style="top:908px;height:4px;background:linear-gradient(90deg,#440154,#450558 13.4%,#443a83 17.5%,#32648e 23.9%,#25858e 32.7%,#26828e 47.9%,#238a8d 51.4%,#22a386 53.2%,#37b678 54.3%,#4dc16b 54.9%,#94d641 56.1%,#bede2c 56.7%,#e1e322 57.2%,#f5e622 57.8%,#fde725 59.0%,#fde725)"></i><i class="p3" style="top:912px;height:3px;background:linear-gradient(90deg,#440154,#440255 13.4%,#482575 16.4%,#404688 19.3%,#2b758e 28.6%,#26838e 33.9%,#26828e 47.9%,#238b8d 51.4%,#22a386 53.2%,#35b679 54.3%,#4ac06d 54.9%,#8fd544 56.1%,#b8dd2f 56.7%,#dce323 57.2%,#f3e622 57.8%,#fde725 59.0%,#fde725)"></i><i class="p3" style="top:915px;height:4px;background:linear-gradient(90deg,#440154,#440356 14.0%,#453680 18.1%,#39558c 22.2%,#277e8e 32.1%,#26828e 47.9%,#228c8d 51.4%,#22a386 53.2%,#35b579 54.3%,#48bf6e 54.9%,#89d448 56.1%,#b1dc32 56.7%,#d7e224 57.2%,#f1e522 57.8%,#fbe724 58.4%,#fde725)"></i><i class="p3" style="top:919px;height:4px;background:linear-gradient(90deg,#440154,#450356 14.6%,#453781 18.7%,#39568c 22.8%,#2a778e 31.0%,#277e8e 36.8%,#27808e 47.3%,#228d8d 51.4%,#22a486 53.2%,#34b57a 54.3%,#45be6f 54.9%,#60c860 55.5%,#abdb35 56.7%,#d1e126 57.2%,#eee523 57.8%,#fae724 58.4%,#fde725)"></i><i class="p3" style="top:923px;height:4px;background:linear-gradient(90deg,#440154,#450356 15.2%,#443781 19.3%,#39568c 23.4%,#2c728e 30.4%,#287c8e 36.2%,#27808e 47.3%,#218e8d 51.4%,#22a485 53.2%,#33b57a 54.3%,#44bd70 54.9%,#5dc762 55.5%,#cbe027 57.2%,#e9e422 57.8%,#f8e623 58.4%,#fde725 64.8%,#fde725)"></i><i class="p3" style="top:927px;height:4px;background:linear-gradient(90deg,#440154,#450356 15.8%,#443882 19.9%,#375a8c 24.5%,#2b758e 32.1%,#297a8e 39.7%,#26818e 47.9%,#20958b 52.0%,#28ac81 53.7%,#42bd72 54.9%,#59c664 55.5%,#c5df29 57.2%,#e4e421 57.8%,#f6e622 58.4%,#fde725 60.2%,#fde725)"></i><i class="p3" style="top:931px;height:4px;background:linear-gradient(90deg,#440154,#450457 16.4%,#443982 20.4%,#355e8d 25.7%,#29798e 35.0%,#277f8e 47.3%,#20968b 52.0%,#28ac81 53.7%,#40bc73 54.9%,#56c566 55.5%,#99d73e 56.7%,#bfde2b 57.2%,#e0e322 57.8%,#f4e622 58.4%,#fde725 59.6%,#fde725)"></i><i class="p3" style="top:935px;height:4px;background:linear-gradient(90deg,#440154,#450457 16.9%,#443b83 21.0%,#34618d 26.9%,#2a788e 36.8%,#277f8e 47.3%,#20968b 52.0%,#28ac81 53.7%,#3ebb73 54.9%,#53c468 55.5%,#94d641 56.7%,#b9dd2d 57.2%,#dbe322 57.8%,#f2e622 58.4%,#fde725 59.6%,#fde725)"></i><i class="p3" style="top:939px;height:3px;background:linear-gradient(90deg,#440154,#450558 17.5%,#453580 21.0%,#3b528b 24.5%,#2f6c8e 30.4%,#2a788e 39.1%,#277f8e 47.3%,#20978b 52.0%,#27ac81 53.7%,#3dba74 54.9%,#50c369 55.5%,#8fd544 56.7%,#b5dd2f 57.2%,#d8e223 57.8%,#f1e522 58.4%,#fbe724 59.0%,#fde725)"></i><i class="p3" style="top:942px;height:3px;background:linear-gradient(90deg,#440154,#440255 17.5%,#472777 20.4%,#3f4989 23.4%,#2f6b8e 30.4%,#2a788e 39.1%,#277f8e 47.3%,#20978b 52.0%,#27ab81 53.7%,#3bba75 54.9%,#4ec26b 55.5%,#8bd446 56.7%,#d5e224 57.8%,#efe522 58.4%,#fbe724 59.0%,#fde725)"></i><i class="p3" style="top:945px;height:3px;background:linear-gradient(90deg,#440154,#450356 18.1%,#443a83 22.2%,#355e8d 27.5%,#2a788e 36.8%,#277e8e 47.3%,#20978b 52.0%,#26ab82 53.7%,#3ab976 54.9%,#4cc16c 55.5%,#88d448 56.7%,#d1e125 57.8%,#ede522 58.4%,#fae723 59.0%,#fde725)"></i><i class="p3" style="top:948px;height:3px;background:linear-gradient(90deg,#440154,#450457 18.7%,#433d84 22.8%,#31688e 29.8%,#2a788e 39.7%,#277f8e 47.9%,#20968b 52.0%,#26ab82 53.7%,#38b877 54.9%,#49c06d 55.5%,#84d34a 56.7%,#cde026 57.8%,#eae521 58.4%,#f8e623 59.0%,#fde725 66.0%,#fde725)"></i><i class="p3" style="top:951px;height:4px;background:linear-gradient(90deg,#440154,#450558 19.3%,#443882 22.8%,#38578c 26.9%,#2f6c8e 32.1%,#2a788e 40.3%,#277e8e 47.9%,#20968b 52.0%,#26aa82 53.7%,#37b877 54.9%,#47bf6e 55.5%,#80d24d 56.7%,#c9e027 57.8%,#e7e421 58.4%,#f7e623 59.0%,#fde725 61.9%,#fde725)"></i><i class="p4" style="top:696px;height:1px;background:linear-gradient(90deg,#fde725,#fde725 47.9%,#f7e627 48.5%,#d8de31 49.1%,#95be4b 49.6%,#567b62 50.2%,#413060 50.8%,#430a57 51.4%,#440154 52.6%,#440154)"></i><i class="p4" style="top:697px;height:1px;background:linear-gradient(90deg,#fde725,#fde725 47.9%,#f6e527 48.5%,#d3da34 49.1%,#8db850 49.6%,#517766 50.2%,#402f61 50.8%,#430a57 51.4%,#440154 52.6%,#440154)"></i><i class="p4" style="top:698px;height:1px;background:linear-gradient(90deg,#fde725,#fce625 47.9%,#f2e02a 48.5%,#c3c140 49.1%,#748b65 49.6%,#445773 50.2%,#3e2766 50.8%,#420a58 51.4%,#440154 52.6%,#440154)"></i><i class="p4" style="top:699px;height:1px;background:linear-gradient(90deg,#fde725,#fce625 47.9%,#f0dd2a 48.5%,#c2b341 49.1%,#786f65 49.6%,#4a4879 50.2%,#3e3472 50.8%,#401861 51.4%,#430656 52.0%,#440154 61.3%,#440154)"></i><i class="p4" style="top:700px;height:1px;background:linear-gradient(90deg,#fde725,#fde725 47.3%,#f9e626 47.9%,#e1da2d 48.5%,#a9ae45 49.1%,#696c68 49.6%,#44507b 50.2%,#384877 50.8%,#420957 52.0%,#440154 53.2%,#440154)"></i><i class="p4" style="top:701px;height:1px;background:linear-gradient(90deg,#fde725,#fde725 47.3%,#f7e626 47.9%,#dbd92f 48.5%,#9fac49 49.1%,#646b6a 49.6%,#43507c 50.2%,#384978 50.8%,#420a58 52.0%,#440154 53.2%,#440154)"></i><i class="p4" style="top:702px;height:1px;background:linear-gradient(90deg,#fde725,#fde725 47.3%,#f7e527 47.9%,#d9d930 48.5%,#9dab4b 49.1%,#63686b 49.6%,#47467d 50.2%,#3e407d 50.8%,#42125e 52.0%,#440456 52.6%,#440154)"></i><i class="p4" style="top:703px;height:1px;background:linear-gradient(90deg,#fde725,#fde725 47.3%,#f5e428 47.9%,#d0d237 48.5%,#8ca055 49.1%,#5a6071 49.6%,#46417e 50.2%,#3d4780 50.8%,#374778 51.4%,#420a58 52.6%,#440154 53.7%,#440154)"></i><i class="p4" style="top:704px;height:1px;background:linear-gradient(90deg,#fde725,#fce625 47.3%,#f2de2a 47.9%,#c6b840 48.5%,#7c7564 49.1%,#50467b 49.6%,#443b80 50.2%,#35547f 51.4%,#393a70 52.0%,#40155e 52.6%,#440556 53.2%,#440154)"></i><i class="p4" style="top:705px;height:1px;background:linear-gradient(90deg,#fde725,#fce625 47.3%,#f2dd2a 47.9%,#c6b240 48.5%,#7c6c65 49.1%,#4f417b 49.6%,#443a81 50.2%,#345d85 51.4%,#32557a 52.0%,#3b2966 52.6%,#420a58 53.2%,#440154 54.3%,#440154)"></i><i class="p4" style="top:706px;height:1px;background:linear-gradient(90deg,#fde725,#fce625 47.3%,#f1de2b 47.9%,#c1b742 48.5%,#76786a 49.1%,#495381 49.6%,#3e4b87 50.2%,#3b5088 50.8%,#355e88 51.4%,#316182 52.0%,#401a61 53.2%,#430757 53.7%,#440154 57.2%,#440154)"></i><i class="p4" style="top:707px;height:1px;background:linear-gradient(90deg,#fde725,#f9e626 47.3%,#e3df2c 47.9%,#a7c247 48.5%,#5c966f 49.1%,#347c87 49.6%,#2b778c 50.2%,#2a8d86 52.0%,#2d7882 52.6%,#3e2768 53.7%,#420f5c 54.3%,#440255 55.5%,#440154)"></i><i class="p4" style="top:708px;height:1px;background:linear-gradient(90deg,#fde725,#fde725 46.7%,#f7e626 47.3%,#dadf30 47.9%,#96c74d 48.5%,#4da573 49.1%,#299288 49.6%,#228f8c 50.2%,#259689 50.8%,#3fac77 52.0%,#2a8886 53.2%,#2c6e83 53.7%,#3e2567 54.9%,#420e5c 55.5%,#440255 56.7%,#440154)"></i><i class="p4" style="top:709px;height:1px;background:linear-gradient(90deg,#fde725,#fde725 46.7%,#f7e626 47.3%,#d8df31 47.9%,#93c74e 48.5%,#4ba773 49.1%,#289588 49.6%,#21928b 50.2%,#259988 50.8%,#50b96b 52.0%,#4fb46d 52.6%,#299287 53.7%,#268488 54.3%,#2c6c83 54.9%,#3e2467 56.1%,#420f5c 56.7%,#440356 57.8%,#440154)"></i><i class="p4" style="top:710px;height:1px;background:linear-gradient(90deg,#fde725,#fce725 46.7%,#f3e527 47.3%,#d0dc34 47.9%,#46a576 49.1%,#279588 49.6%,#21928b 50.2%,#269987 50.8%,#3fac76 51.4%,#73c558 52.0%,#97d044 52.6%,#82c551 53.2%,#53af6d 53.7%,#339d80 54.3%,#279188 54.9%,#268389 55.5%,#2c6c83 56.1%,#3c306e 57.2%,#42145f 58.4%,#440355 61.3%,#440154)"></i><i class="p4" style="top:711px;height:1px;background:linear-gradient(90deg,#fde725,#fde725 46.1%,#f7e626 46.7%,#dee02d 47.3%,#a0ce45 47.9%,#58b06b 48.5%,#2e9a84 49.1%,#22928b 49.6%,#269987 50.8%,#40ad76 51.4%,#c0db33 52.6%,#d9df2c 53.2%,#bfd739 53.7%,#52ae6f 54.9%,#329c81 55.5%,#279188 56.1%,#287988 57.8%,#364a7a 59.6%,#411a63 61.3%,#420e5b 62.5%,#420e5a)"></i><i class="p4" style="top:712px;height:1px;background:linear-gradient(90deg,#fde725,#fae725 46.1%,#ede527 46.7%,#c8dc31 47.3%,#8ac74d 47.9%,#49a872 48.5%,#289587 49.1%,#21928c 50.2%,#269987 50.8%,#40ad76 51.4%,#7ec853 52.0%,#c6dc32 52.6%,#eee425 53.2%,#f4e526 53.7%,#e5e12c 54.3%,#bfd73a 54.9%,#50ad70 56.1%,#329d81 56.7%,#24928a 57.8%,#268089 60.7%,#2e6985 62.5%,#2e6a85)"></i><i class="p4" style="top:713px;height:1px;background:linear-gradient(90deg,#fde725,#fce725 45.6%,#f4e626 46.1%,#dbe22b 46.7%,#afd939 47.3%,#7bc453 47.9%,#45a674 48.5%,#289588 49.1%,#21928c 50.2%,#269987 50.8%,#40ad76 51.4%,#7ec853 52.0%,#c6dc32 52.6%,#efe525 53.2%,#fbe724 53.7%,#f6e527 54.9%,#e4e12c 55.5%,#bed73a 56.1%,#8bc850 56.7%,#61b965 57.2%,#47ad74 57.8%,#309e82 59.0%,#22908b 61.9%,#21928b)"></i><i class="p4" style="top:714px;height:1px;background:linear-gradient(90deg,#fde725,#fde725 45.0%,#f7e626 45.6%,#e1e32a 46.1%,#96d442 47.3%,#3ea479 48.5%,#269489 49.1%,#21928c 50.2%,#269987 50.8%,#40ad76 51.4%,#7ec853 52.0%,#c6dc32 52.6%,#efe525 53.2%,#fbe724 53.7%,#f7e626 56.1%,#d4dd30 57.8%,#a5d242 59.0%,#53b46c 60.7%,#37a47d 61.9%,#32a080 66.0%,#32a280)"></i><i class="p4" style="top:715px;height:1px;background:linear-gradient(90deg,#fde725,#fce724 44.4%,#f8e625 45.0%,#e9e427 45.6%,#a5d93a 46.7%,#7dcc4f 47.3%,#4cb46d 47.9%,#2c9d83 48.5%,#22938b 49.1%,#21928c 50.2%,#269987 50.8%,#40ad76 51.4%,#7ec853 52.0%,#c6dc32 52.6%,#efe525 53.2%,#fbe724 53.7%,#f8e626 58.4%,#e9e22a 60.2%,#b7d73a 62.5%,#b5d73a)"></i><i class="p4" style="top:716px;height:1px;background:linear-gradient(90deg,#fde725,#fae725 42.6%,#eee525 44.4%,#e2e326 45.0%,#94d641 46.7%,#70c857 47.3%,#42b073 47.9%,#289b86 48.5%,#21918c 49.6%,#269987 50.8%,#40ad76 51.4%,#7ec853 52.0%,#c6dc32 52.6%,#efe525 53.2%,#fbe724 53.7%,#fae725 61.3%,#f7e626)"></i><i class="p4" style="top:717px;height:1px;background:linear-gradient(90deg,#fde725,#f9e725 39.7%,#eee525 41.5%,#a7db37 45.0%,#9cd93c 46.1%,#8fd543 46.7%,#6cc759 47.3%,#40af75 47.9%,#279b86 48.5%,#21918c 49.6%,#269987 50.8%,#40ad76 51.4%,#7ec853 52.0%,#c6dc32 52.6%,#efe525 53.2%,#fbe724 53.7%,#fde725)"></i><i class="p4" style="top:718px;height:1px;background:linear-gradient(90deg,#fde725,#f9e626 30.4%,#f0e524 38.0%,#d7e227 39.7%,#afdc33 41.5%,#9ed93b 43.8%,#a0da39 46.1%,#96d63f 46.7%,#6fc757 47.3%,#40af75 47.9%,#279b86 48.5%,#21918c 49.6%,#269987 50.8%,#40ad76 51.4%,#7ec853 52.0%,#c6dc32 52.6%,#efe525 53.2%,#fbe724 53.7%,#fde725)"></i><i class="p4" style="top:719px;height:1px;background:linear-gradient(90deg,#f9e626,#ede22b 25.1%,#d9df2e 28.6%,#b2da3a 33.3%,#b2dd31 37.4%,#9cd93b 41.5%,#a0da39 45.0%,#b2dc2f 46.1%,#a1d839 46.7%,#72c855 47.3%,#40af74 47.9%,#279b86 48.5%,#21918c 49.6%,#269987 50.8%,#40ad76 51.4%,#7ec853 52.0%,#c6dc32 52.6%,#efe525 53.2%,#fbe724 53.7%,#fde725)"></i><i class="p4" style="top:720px;height:1px;background:linear-gradient(90deg,#cad937,#8bc753 22.8%,#76be5a 24.5%,#48ae73 27.5%,#3db376 29.8%,#4ec16b 32.1%,#96d83f 36.2%,#9bd93c 39.1%,#a2da38 43.2%,#b8de2b 45.0%,#c3df26 45.6%,#c3df26 46.1%,#a8d936 46.7%,#73c855 47.3%,#40af74 47.9%,#279b86 48.5%,#21918c 49.6%,#269987 50.8%,#40ad76 51.4%,#7ec853 52.0%,#c6dc32 52.6%,#efe525 53.2%,#fbe724 53.7%,#fde725)"></i><i class="p4" style="top:721px;height:1px;background:linear-gradient(90deg,#379682,#289488 25.1%,#22978a 27.5%,#25aa83 29.8%,#41bd72 32.1%,#93d741 36.2%,#a7db35 40.9%,#d7e21c 44.4%,#dae21b 45.6%,#cde021 46.1%,#aad935 46.7%,#74c854 47.3%,#40af74 47.9%,#279b86 48.5%,#21918c 49.6%,#269987 50.8%,#40ad76 51.4%,#7ec853 52.0%,#c6dc32 52.6%,#efe525 53.2%,#fbe724 53.7%,#fde725)"></i><i class="p4" style="top:722px;height:1px;background:linear-gradient(90deg,#25858e,#20918c 26.9%,#24a983 29.8%,#4ac16d 32.7%,#9cd93c 36.8%,#b8de2b 39.1%,#d7e21c 41.5%,#dfe318 45.0%,#dce31a 45.6%,#cee121 46.1%,#aad935 46.7%,#74c854 47.3%,#40af74 47.9%,#279b86 48.5%,#21918c 49.6%,#269987 50.8%,#40ad76 51.4%,#7ec853 52.0%,#c6dc32 52.6%,#efe525 53.2%,#fbe724 53.7%,#fde725)"></i><i class="p4" style="top:723px;height:1px;background:linear-gradient(90deg,#26818e,#21918c 26.3%,#24aa83 29.8%,#45bf70 32.7%,#85d44a 35.6%,#cfe11e 38.6%,#dde319 40.3%,#dde31a 45.6%,#cee121 46.1%,#aad935 46.7%,#74c854 47.3%,#40af74 47.9%,#279b86 48.5%,#21918c 49.6%,#269987 50.8%,#40ad76 51.4%,#7ec853 52.0%,#c6dc32 52.6%,#efe525 53.2%,#fbe724 53.7%,#fde725)"></i><i class="p4" style="top:724px;height:1px;background:linear-gradient(90deg,#335d85,#365382 11.1%,#2e708d 16.4%,#1f968b 26.9%,#29ae80 30.4%,#4dc26c 33.3%,#a5db35 36.8%,#d4e21c 38.6%,#dfe318 39.7%,#dde31a 45.6%,#cee121 46.1%,#aad935 46.7%,#74c854 47.3%,#40af74 47.9%,#279b86 48.5%,#21918c 49.6%,#269987 50.8%,#40ad76 51.4%,#7ec853 52.0%,#c6dc32 52.6%,#efe525 53.2%,#fbe724 53.7%,#fde725)"></i><i class="p4" style="top:725px;height:1px;background:linear-gradient(90deg,#430e5c,#430c5c 10.5%,#404486 14.0%,#2b758e 21.0%,#20a386 28.6%,#34b679 31.5%,#59c765 33.9%,#d5e21b 38.6%,#e0e318 39.7%,#dee31a 45.6%,#cfe121 46.1%,#aad934 46.7%,#40af74 47.9%,#279b86 48.5%,#21918c 49.6%,#269987 50.8%,#40ad76 51.4%,#7ec853 52.0%,#c6dc32 52.6%,#efe525 53.2%,#fbe724 53.7%,#fde725)"></i><i class="p4" style="top:726px;height:3px;background:linear-gradient(90deg,#440154,#450558 11.1%,#423f85 14.0%,#306a8e 19.3%,#1f9f88 28.0%,#2eb27d 31.0%,#4dc26c 33.3%,#99d83e 36.2%,#cde11f 38.0%,#e3e419 39.1%,#e3e41a 45.6%,#d4e121 46.1%,#adda34 46.7%,#41af74 47.9%,#279b86 48.5%,#21918c 49.6%,#269987 50.8%,#40ad76 51.4%,#7ec853 52.0%,#c6dc32 52.6%,#efe525 53.2%,#fbe724 53.7%,#fde725)"></i><i class="p4" style="top:729px;height:3px;background:linear-gradient(90deg,#440154,#440356 11.1%,#471567 12.3%,#423e84 14.0%,#33638d 18.1%,#1f9f88 28.0%,#2eb27d 31.0%,#4dc36b 33.3%,#9dd93b 36.2%,#d3e21e 38.0%,#e9e41a 39.1%,#e9e41c 45.6%,#d9e221 46.1%,#b0da33 46.7%,#41af74 47.9%,#279b86 48.5%,#21918c 49.6%,#269987 50.8%,#40ad76 51.4%,#7ec853 52.0%,#c6dc32 52.6%,#efe525 53.2%,#fbe724 53.7%,#fde725)"></i><i class="p4" style="top:732px;height:2px;background:linear-gradient(90deg,#440154,#450457 11.1%,#471769 12.3%,#424085 14.0%,#31678e 18.7%,#1fa088 28.0%,#2fb37c 31.0%,#51c469 33.3%,#a4da37 36.2%,#dbe31c 38.0%,#eee51c 39.1%,#ece51d 45.6%,#dbe222 46.1%,#b2da33 46.7%,#41af74 47.9%,#279b86 48.5%,#21918c 49.6%,#269987 50.8%,#40ad76 51.4%,#7ec853 52.0%,#c6dc32 52.6%,#efe525 53.2%,#fbe724 53.7%,#fde725)"></i><i class="p4" style="top:734px;height:1px;background:linear-gradient(90deg,#440154,#450557 11.1%,#472977 12.9%,#3f4989 14.6%,#29798e 21.6%,#1fa187 28.0%,#31b47b 31.0%,#48c06e 32.7%,#86d449 35.0%,#d1e11f 37.4%,#ece51c 38.6%,#f1e51d 44.4%,#eee51e 45.6%,#dde222 46.1%,#b3da33 46.7%,#41af74 47.9%,#279b86 48.5%,#21918c 49.6%,#269987 50.8%,#40ad76 51.4%,#7ec853 52.0%,#c6dc32 52.6%,#efe525 53.2%,#fbe724 53.7%,#fde725)"></i><i class="p4" style="top:735px;height:1px;background:linear-gradient(90deg,#440154,#450558 11.1%,#443881 13.4%,#39558c 15.8%,#1f9a8a 26.9%,#28ae80 29.8%,#41bd72 32.1%,#69cc5b 33.9%,#c5e023 36.8%,#e7e41c 38.0%,#f2e61d 39.1%,#efe51e 45.6%,#dee323 46.1%,#b4da33 46.7%,#41af74 47.9%,#279b86 48.5%,#21918c 49.6%,#269987 50.8%,#40ad76 51.4%,#7ec853 52.0%,#c6dc32 52.6%,#efe525 53.2%,#fbe724 53.7%,#fde725)"></i><i class="p4" style="top:736px;height:1px;background:linear-gradient(90deg,#440154,#440255 10.5%,#461063 11.7%,#433a82 13.4%,#375b8c 16.4%,#1f9b8a 26.9%,#29af7f 29.8%,#44be71 32.1%,#80d34d 34.5%,#cde120 36.8%,#ece51c 38.0%,#f3e61e 40.3%,#f0e51f 45.6%,#dfe323 46.1%,#b4da34 46.7%,#41af74 47.9%,#279b86 48.5%,#21918c 49.6%,#269987 50.8%,#40ad76 51.4%,#7ec853 52.0%,#c6dc32 52.6%,#efe525 53.2%,#fbe724 53.7%,#fde725)"></i><i class="p4" style="top:737px;height:1px;background:linear-gradient(90deg,#440154,#440255 10.5%,#461365 11.7%,#423d84 13.4%,#34608d 16.9%,#1fa088 27.5%,#30b47b 30.4%,#47c06e 32.1%,#88d548 34.5%,#d6e21e 36.8%,#f0e51d 38.0%,#f4e61e 45.0%,#f0e51f 45.6%,#dfe323 46.1%,#b5db33 46.7%,#41af74 47.9%,#279b86 48.5%,#21918c 49.6%,#269987 50.8%,#40ad76 51.4%,#7ec853 52.0%,#c6dc32 52.6%,#efe525 53.2%,#fbe724 53.7%,#fde725)"></i><i class="p4" style="top:738px;height:1px;background:linear-gradient(90deg,#440154,#440356 10.5%,#471667 11.7%,#424085 13.4%,#32658e 17.5%,#20a187 27.5%,#32b57a 30.4%,#4cc26c 32.1%,#90d643 34.5%,#cce121 36.2%,#ede51d 37.4%,#f6e61f 39.1%,#f2e620 45.6%,#e1e324 46.1%,#b6db33 46.7%,#41af74 47.9%,#279b86 48.5%,#21918c 49.6%,#269987 50.8%,#40ad76 51.4%,#7ec853 52.0%,#c6dc32 52.6%,#efe525 53.2%,#fbe724 53.7%,#fde725)"></i><i class="p4" style="top:739px;height:1px;background:linear-gradient(90deg,#440154,#450457 10.5%,#471a6b 11.7%,#414286 13.4%,#31668e 17.5%,#1f9f88 26.9%,#2fb37c 29.8%,#45bf70 31.5%,#73cf55 33.3%,#c3df25 35.6%,#e7e41c 36.8%,#f5e61f 38.0%,#f3e620 45.6%,#e1e324 46.1%,#b6db33 46.7%,#41af74 47.9%,#279b86 48.5%,#21918c 49.6%,#269987 50.8%,#40ad76 51.4%,#7ec853 52.0%,#c6dc32 52.6%,#efe525 53.2%,#fbe724 53.7%,#fde725)"></i><i class="p4" style="top:740px;height:1px;background:linear-gradient(90deg,#440154,#450659 10.5%,#433a82 12.9%,#365b8d 15.8%,#1f9c89 26.3%,#2bb17e 29.2%,#4bc16d 31.5%,#90d643 33.9%,#cee120 35.6%,#efe51e 36.8%,#f8e621 38.6%,#f4e621 45.6%,#e2e325 46.1%,#b6db34 46.7%,#41af74 47.9%,#279b86 48.5%,#21918c 49.6%,#269987 50.8%,#40ad76 51.4%,#7ec853 52.0%,#c6dc32 52.6%,#efe525 53.2%,#fbe724 53.7%,#fde725)"></i><i class="p4" style="top:741px;height:1px;background:linear-gradient(90deg,#440154,#440255 9.9%,#461365 11.1%,#423e84 12.9%,#34618d 16.4%,#1f9e89 26.3%,#2eb27d 29.2%,#44bf70 31.0%,#74cf55 32.7%,#c6e024 35.0%,#ebe51d 36.2%,#f8e621 37.4%,#f5e622 45.6%,#e3e325 46.1%,#b7db34 46.7%,#41af74 47.9%,#279b86 48.5%,#21918c 49.6%,#269987 50.8%,#40ad76 51.4%,#7ec853 52.0%,#c6dc32 52.6%,#efe525 53.2%,#fbe724 53.7%,#fde725)"></i><i class="p4" style="top:742px;height:1px;background:linear-gradient(90deg,#440154,#440356 9.9%,#471768 11.1%,#414186 12.9%,#31668e 16.9%,#1fa088 26.3%,#30b47b 29.2%,#4bc16d 31.0%,#92d742 33.3%,#d2e120 35.0%,#f2e61f 36.2%,#f9e621 38.6%,#f5e622 45.6%,#e3e325 46.1%,#b7db34 46.7%,#41af74 47.9%,#279b86 48.5%,#21918c 49.6%,#269987 50.8%,#40ad76 51.4%,#7ec853 52.0%,#c6dc32 52.6%,#efe525 53.2%,#fbe724 53.7%,#fde725)"></i><i class="p4" style="top:743px;height:1px;background:linear-gradient(90deg,#440154,#450558 9.9%,#471c6d 11.1%,#404487 12.9%,#2f6b8e 17.5%,#20a187 26.3%,#33b679 29.2%,#52c469 31.0%,#b4dd2d 33.9%,#dee31e 35.0%,#f7e621 36.2%,#f6e623 45.6%,#e5e325 46.1%,#b8db34 46.7%,#41af74 47.9%,#279b86 48.5%,#21918c 49.6%,#269987 50.8%,#40ad76 51.4%,#7ec853 52.0%,#c6dc32 52.6%,#efe525 53.2%,#fbe724 53.7%,#fde725)"></i><i class="p4" style="top:744px;height:1px;background:linear-gradient(90deg,#440154,#440255 9.3%,#461163 10.5%,#423e84 12.3%,#355e8d 15.2%,#1f9f88 25.7%,#30b47b 28.6%,#4bc16c 30.4%,#96d83f 32.7%,#d7e21f 34.5%,#f5e621 35.6%,#fbe723 40.3%,#f7e623 45.6%,#e5e426 46.1%,#b9db34 46.7%,#41af74 47.9%,#279b86 48.5%,#21918c 49.6%,#269987 50.8%,#40ad76 51.4%,#7ec853 52.0%,#c6dc32 52.6%,#efe525 53.2%,#fbe724 53.7%,#fde725)"></i><i class="p4" style="top:745px;height:1px;background:linear-gradient(90deg,#440154,#440356 9.3%,#471667 10.5%,#414186 12.3%,#33638d 15.8%,#1f9d89 25.1%,#2db27d 28.0%,#45bf70 29.8%,#78d052 31.5%,#d0e121 33.9%,#f2e620 35.0%,#fbe723 36.8%,#f7e623 45.6%,#e5e426 46.1%,#b9db34 46.7%,#41af74 47.9%,#279b86 48.5%,#21918c 49.6%,#269987 50.8%,#40ad76 51.4%,#7ec853 52.0%,#c6dc32 52.6%,#efe525 53.2%,#fbe724 53.7%,#fde725)"></i><i class="p4" style="top:746px;height:1px;background:linear-gradient(90deg,#440154,#450457 9.3%,#471b6c 10.5%,#404587 12.3%,#30698e 16.4%,#1f9f88 25.1%,#30b47b 28.0%,#4cc26c 29.8%,#9ad83d 32.1%,#c8e024 33.3%,#eee51f 34.5%,#fbe723 35.6%,#f7e623 45.6%,#e5e426 46.1%,#b9db34 46.7%,#41af74 47.9%,#279b86 48.5%,#21918c 49.6%,#269987 50.8%,#40ad76 51.4%,#7ec853 52.0%,#c6dc32 52.6%,#efe525 53.2%,#fbe724 53.7%,#fde725)"></i><i class="p4" style="top:747px;height:1px;background:linear-gradient(90deg,#440154,#440255 8.8%,#461163 9.9%,#423f84 11.7%,#33638d 15.2%,#20a187 25.1%,#34b679 28.0%,#55c567 29.8%,#a8db34 32.1%,#d6e21f 33.3%,#f7e622 34.5%,#fde725 37.4%,#f9e725 45.6%,#e7e427 46.1%,#b9db34 46.7%,#79c953 47.3%,#41af74 47.9%,#279b86 48.5%,#21918c 49.6%,#269987 50.8%,#40ad76 51.4%,#7ec853 52.0%,#c6dc32 52.6%,#efe525 53.2%,#fbe724 53.7%,#fde725)"></i><i class="p4" style="top:748px;height:1px;background:linear-gradient(90deg,#440154,#440355 8.8%,#461667 9.9%,#414286 11.7%,#32648e 15.2%,#1f9e88 24.5%,#30b47b 27.5%,#4ec36b 29.2%,#9fd93a 31.5%,#cde122 32.7%,#f3e620 33.9%,#fde724 35.0%,#f9e725 45.6%,#e7e427 46.1%,#b9db34 46.7%,#79c953 47.3%,#41af74 47.9%,#279b86 48.5%,#21918c 49.6%,#269987 50.8%,#40ad76 51.4%,#7ec853 52.0%,#c6dc32 52.6%,#efe525 53.2%,#fbe724 53.7%,#fde725)"></i><i class="p4" style="top:749px;height:1px;background:linear-gradient(90deg,#440154,#450457 8.8%,#471b6c 9.9%,#433b82 11.1%,#38598c 13.4%,#1f9c89 23.9%,#2eb27d 26.9%,#47c06e 28.6%,#7fd24e 30.4%,#c5e025 32.1%,#eee51f 33.3%,#fce724 34.5%,#fae725 45.6%,#e7e427 46.1%,#b9db34 46.7%,#79c953 47.3%,#41af74 47.9%,#279b86 48.5%,#21918c 49.6%,#269987 50.8%,#40ad76 51.4%,#7ec853 52.0%,#c6dc32 52.6%,#efe525 53.2%,#fbe724 53.7%,#fde725)"></i><i class="p4" style="top:750px;height:1px;background:linear-gradient(90deg,#440154,#440255 8.2%,#461163 9.3%,#424085 11.1%,#33648d 14.6%,#1f9e89 23.9%,#31b47b 26.9%,#4fc36a 28.6%,#a3da37 31.0%,#d2e120 32.1%,#f6e622 33.3%,#fde725 35.0%,#fae725 45.6%,#e8e427 46.1%,#badb34 46.7%,#7ac952 47.3%,#42af74 47.9%,#279b86 48.5%,#21918c 49.6%,#269987 50.8%,#40ad76 51.4%,#7ec853 52.0%,#c6dc32 52.6%,#efe525 53.2%,#fbe724 53.7%,#fde725)"></i><i class="p4" style="top:751px;height:1px;background:linear-gradient(90deg,#440154,#440355 8.2%,#461667 9.3%,#443780 10.5%,#3b528b 12.3%,#24878e 20.4%,#21a486 24.5%,#3cbb75 27.5%,#57c665 28.6%,#c8e024 31.5%,#f1e520 32.7%,#fde724 33.9%,#fae725 45.6%,#e8e427 46.1%,#badb34 46.7%,#7ac952 47.3%,#42af74 47.9%,#279b86 48.5%,#21918c 49.6%,#269987 50.8%,#40ad76 51.4%,#7ec853 52.0%,#c6dc32 52.6%,#efe525 53.2%,#fbe724 53.7%,#fde725)"></i><i class="p4" style="top:752px;height:1px;background:linear-gradient(90deg,#440154,#450457 8.2%,#471b6c 9.3%,#433c83 10.5%,#375a8c 12.9%,#1f9d89 23.4%,#30b47b 26.3%,#4fc36a 28.0%,#a5da36 30.4%,#d6e220 31.5%,#f7e622 32.7%,#fde725 35.6%,#fae725 45.6%,#e8e427 46.1%,#badb34 46.7%,#7ac952 47.3%,#42af74 47.9%,#279b86 48.5%,#21918c 49.6%,#269987 50.8%,#40ad76 51.4%,#7ec853 52.0%,#c6dc32 52.6%,#efe525 53.2%,#fbe724 53.7%,#fde725)"></i><i class="p4" style="top:753px;height:1px;background:linear-gradient(90deg,#440154,#440255 7.6%,#461163 8.8%,#414085 10.5%,#32648e 14.0%,#1f9f88 23.4%,#34b679 26.3%,#47c06f 27.5%,#81d34c 29.2%,#cae023 31.0%,#f2e621 32.1%,#fde725 33.3%,#fae725 45.6%,#e8e427 46.1%,#badb34 46.7%,#7ac952 47.3%,#42af74 47.9%,#279b86 48.5%,#21918c 49.6%,#269987 50.8%,#40ad76 51.4%,#7ec853 52.0%,#c6dc32 52.6%,#efe525 53.2%,#fbe724 53.7%,#fde725)"></i><i class="p4" style="top:754px;height:1px;background:linear-gradient(90deg,#440154,#440355 7.6%,#461667 8.8%,#443780 9.9%,#3a538b 11.7%,#24888e 19.9%,#22a685 23.9%,#37b878 26.3%,#4ec26b 27.5%,#8cd545 29.2%,#d6e220 31.0%,#f7e622 32.1%,#fde725 35.6%,#fae725 45.6%,#e8e427 46.1%,#badb34 46.7%,#7ac952 47.3%,#42af74 47.9%,#279b86 48.5%,#21918c 49.6%,#269987 50.8%,#40ad76 51.4%,#7ec853 52.0%,#c6dc32 52.6%,#efe525 53.2%,#fbe724 53.7%,#fde725)"></i><i class="p4" style="top:755px;height:1px;background:linear-gradient(90deg,#440154,#450457 7.6%,#461b6b 8.8%,#423c83 9.9%,#375a8c 12.3%,#1f9a8a 22.2%,#2cb17e 25.1%,#45bf70 26.9%,#7fd24e 28.6%,#c9e024 30.4%,#f2e621 31.5%,#fde725 32.7%,#fae725 45.6%,#e8e427 46.1%,#badb34 46.7%,#7ac952 47.3%,#42af74 47.9%,#279b86 48.5%,#21918c 49.6%,#269987 50.8%,#40ad76 51.4%,#7ec853 52.0%,#c6dc32 52.6%,#efe525 53.2%,#fbe724 53.7%,#fde725)"></i><i class="p4" style="top:756px;height:1px;background:linear-gradient(90deg,#440154,#450658 7.6%,#462170 8.8%,#414085 9.9%,#34618d 12.9%,#1f9b89 22.2%,#2eb37c 25.1%,#4bc16d 26.9%,#88d448 28.6%,#d3e220 30.4%,#f7e622 31.5%,#fde725 33.9%,#fae725 45.6%,#e8e427 46.1%,#badb34 46.7%,#7ac952 47.3%,#42af74 47.9%,#279b86 48.5%,#21918c 49.6%,#269987 50.8%,#40ad76 51.4%,#7ec853 52.0%,#c6dc32 52.6%,#efe525 53.2%,#fbe724 53.7%,#fde725)"></i><i class="p4" style="top:757px;height:1px;background:linear-gradient(90deg,#440154,#440355 7.0%,#461667 8.2%,#433880 9.3%,#3a538b 11.1%,#1f988a 21.6%,#2bb07f 24.5%,#43be71 26.3%,#7bd150 28.0%,#c5e025 29.8%,#f0e520 31.0%,#fde724 32.1%,#fae725 45.6%,#e8e427 46.1%,#badb34 46.7%,#7ac952 47.3%,#42af74 47.9%,#279b86 48.5%,#21918c 49.6%,#269987 50.8%,#40ac76 51.4%,#7ec853 52.0%,#c6dc32 52.6%,#efe525 53.2%,#fbe724 53.7%,#fde725)"></i><i class="p4" style="top:758px;height:1px;background:linear-gradient(90deg,#440154,#450558 7.0%,#461d6d 8.2%,#423e84 9.3%,#365b8d 11.7%,#1f9a8a 21.6%,#27ad81 23.9%,#3cbb75 25.7%,#59c765 26.9%,#cfe122 29.8%,#f5e621 31.0%,#fde725 32.7%,#fae725 45.6%,#e7e427 46.1%,#b9db34 46.7%,#79c953 47.3%,#41af74 47.9%,#279b86 48.5%,#21918c 49.6%,#269987 50.8%,#3fac76 51.4%,#7dc754 52.0%,#c5dc32 52.6%,#efe525 53.2%,#fbe724 53.7%,#fde725)"></i><i class="p4" style="top:759px;height:1px;background:linear-gradient(90deg,#440154,#450457 6.4%,#461466 7.6%,#404386 9.3%,#33628d 12.3%,#1f9c89 21.6%,#29af7f 23.9%,#41bd72 25.7%,#61c960 26.9%,#c0df27 29.2%,#ede51f 30.4%,#fde724 31.5%,#f9e725 45.6%,#e7e427 46.1%,#b9db35 46.7%,#78c953 47.3%,#41af74 47.9%,#279b86 48.5%,#21918c 49.6%,#269988 50.8%,#3fac76 51.4%,#7dc754 52.0%,#c5dc32 52.6%,#efe525 53.2%,#fbe724 53.7%,#fde725)"></i><i class="p4" style="top:760px;height:1px;background:linear-gradient(90deg,#440255,#450659 6.4%,#471c6c 7.6%,#423d83 8.8%,#375b8c 11.1%,#1f9e89 21.6%,#2cb17e 23.9%,#46bf6f 25.7%,#80d24d 27.5%,#cbe023 29.2%,#f4e621 30.4%,#fde725 31.5%,#f9e725 45.6%,#e7e427 46.1%,#b9db35 46.7%,#78c854 47.3%,#41af74 47.9%,#279a87 48.5%,#21918c 49.6%,#269988 50.8%,#3fac76 51.4%,#7dc754 52.0%,#c5dc32 52.6%,#efe525 53.2%,#fbe724 53.7%,#fde725)"></i><i class="p4" style="top:761px;height:1px;background:linear-gradient(90deg,#440356,#460a5d 6.4%,#414386 8.8%,#33628d 11.7%,#1fa088 21.6%,#2eb27d 23.9%,#4bc16c 25.7%,#8ad547 27.5%,#d5e220 29.2%,#f7e622 30.4%,#fde725 33.3%,#f9e725 45.6%,#e6e427 46.1%,#b8db35 46.7%,#77c854 47.3%,#40ae75 47.9%,#279a87 48.5%,#21918c 49.6%,#269988 50.8%,#3fac76 51.4%,#7dc754 52.0%,#c5dc32 52.6%,#efe525 53.2%,#fbe724 53.7%,#fde725)"></i><i class="p4" style="top:762px;height:1px;background:linear-gradient(90deg,#450357,#46095c 5.8%,#471d6d 7.0%,#423d83 8.2%,#375b8c 10.5%,#1f9d89 21.0%,#2ab07f 23.4%,#43be71 25.1%,#7bd150 26.9%,#c6e025 28.6%,#f1e520 29.8%,#fde724 31.0%,#f9e725 45.6%,#e6e428 46.1%,#b7db36 46.7%,#76c855 47.3%,#3fae75 47.9%,#269a87 48.5%,#21918c 49.6%,#259988 50.8%,#3fac77 51.4%,#7cc754 52.0%,#c5dc32 52.6%,#efe525 53.2%,#fbe724 53.7%,#fde725)"></i><i class="p4" style="top:763px;height:1px;background:linear-gradient(90deg,#450458,#460d60 5.8%,#462675 7.0%,#3d4c89 8.8%,#2f6c8e 12.9%,#1f9f88 21.0%,#2db17d 23.4%,#48c06e 25.1%,#85d44a 26.9%,#d0e121 28.6%,#f6e622 29.8%,#fde725 31.5%,#f9e725 45.6%,#e6e428 46.1%,#b6da36 46.7%,#75c755 47.3%,#3fae76 47.9%,#269a87 48.5%,#21918c 49.6%,#259988 50.8%,#3fab77 51.4%,#7cc754 52.0%,#c5dc32 52.6%,#efe525 53.2%,#fbe724 53.7%,#fde725)"></i><i class="p4" style="top:764px;height:1px;background:linear-gradient(90deg,#450559,#460d60 5.3%,#471f70 6.4%,#3e4988 8.2%,#2f6b8e 12.3%,#20a087 21.0%,#2fb37c 23.4%,#4fc36a 25.1%,#8fd644 26.9%,#c1df27 28.0%,#eee51f 29.2%,#fde724 30.4%,#f9e725 45.6%,#e5e328 46.1%,#b5da37 46.7%,#73c756 47.3%,#3ead76 47.9%,#269a87 48.5%,#21918c 49.6%,#259888 50.8%,#3eab77 51.4%,#7bc655 52.0%,#c4dc33 52.6%,#efe525 53.2%,#fbe724 53.7%,#fde725)"></i><i class="p4" style="top:765px;height:1px;background:linear-gradient(90deg,#45065a,#471264 5.3%,#404487 7.6%,#32668e 11.1%,#1f9e89 20.4%,#2cb17e 22.8%,#46bf6f 24.5%,#80d24d 26.3%,#cce023 28.0%,#f4e621 29.2%,#fde725 30.4%,#f9e625 45.6%,#e5e329 46.1%,#b4da38 46.7%,#72c657 47.3%,#3dad77 47.9%,#269a87 48.5%,#21918c 49.6%,#259888 50.8%,#3eab77 51.4%,#7bc655 52.0%,#c4dc33 52.6%,#efe525 53.2%,#fbe724 53.7%,#fde725)"></i><i class="p4" style="top:766px;height:1px;background:linear-gradient(90deg,#46085b,#471164 4.7%,#472373 5.8%,#3e4a89 7.6%,#2f6b8e 11.7%,#1fa088 20.4%,#2eb27d 22.8%,#4cc26c 24.5%,#8ad547 26.3%,#d5e220 28.0%,#f7e622 29.2%,#fde725 32.7%,#f9e625 45.6%,#e4e329 46.1%,#b2d939 46.7%,#71c658 47.3%,#3cac77 47.9%,#259987 48.5%,#21918c 49.6%,#259888 50.8%,#3dab78 51.4%,#7bc655 52.0%,#c4db33 52.6%,#efe525 53.2%,#fbe724 53.7%,#fde725)"></i><i class="p4" style="top:767px;height:1px;background:linear-gradient(90deg,#46095d,#481668 4.7%,#3f4687 7.0%,#32668e 10.5%,#1f9d89 19.9%,#2ab07f 22.2%,#43be71 23.9%,#7cd150 25.7%,#c6e025 27.5%,#f1e520 28.6%,#fde724 29.8%,#fde725 45.0%,#f9e625 45.6%,#e3e329 46.1%,#b1d939 46.7%,#6fc559 47.3%,#3bac78 47.9%,#259988 48.5%,#21918c 49.6%,#259888 50.8%,#3daa78 51.4%,#7ac656 52.0%,#c4db33 52.6%,#efe525 53.2%,#fbe724 53.7%,#fde725)"></i><i class="p4" style="top:768px;height:1px;background:linear-gradient(90deg,#460b5e,#481c6d 4.7%,#3e4b89 7.0%,#2f6b8e 11.1%,#1f9f88 19.9%,#2db27d 22.2%,#49c06e 23.9%,#85d44a 25.7%,#d0e121 27.5%,#f6e622 28.6%,#fde725 30.4%,#fde725 45.0%,#f9e625 45.6%,#e3e32a 46.1%,#afd93a 46.7%,#6ec55a 47.3%,#3aab79 47.9%,#259988 48.5%,#21918c 49.6%,#259888 50.8%,#3daa78 51.4%,#79c556 52.0%,#c3db33 52.6%,#efe525 53.2%,#fbe724 53.7%,#fde725)"></i><i class="p4" style="top:769px;height:1px;background:linear-gradient(90deg,#470d60,#481b6d 4.1%,#3f4788 6.4%,#30698e 10.5%,#1f9c89 19.3%,#29af7f 21.6%,#41bd72 23.4%,#62ca5f 24.5%,#c1df27 26.9%,#ede51f 28.0%,#fde724 29.2%,#fde725 45.0%,#f8e625 45.6%,#e1e329 46.1%,#add83b 46.7%,#6cc45b 47.3%,#39aa79 47.9%,#259888 48.5%,#21918c 49.6%,#259888 50.8%,#3caa79 51.4%,#79c556 52.0%,#c2db33 52.6%,#efe525 53.2%,#fbe724 53.7%,#fde725)"></i><i class="p4" style="top:770px;height:1px;background:linear-gradient(90deg,#470f62,#482171 4.1%,#3d4c89 6.4%,#2e6e8e 11.1%,#1f9e89 19.3%,#2cb17e 21.6%,#46bf6f 23.4%,#80d24d 25.1%,#cbe023 26.9%,#f3e621 28.0%,#fde725 29.2%,#fde725 45.0%,#f7e625 45.6%,#e0e229 46.1%,#abd83c 46.7%,#6ac35c 47.3%,#38a97a 47.9%,#249888 48.5%,#21918c 49.6%,#259888 50.8%,#3ca979 51.4%,#78c557 52.0%,#c2db34 52.6%,#eee425 53.2%,#fbe724 53.7%,#fde725)"></i><i class="p4" style="top:771px;height:1px;background:linear-gradient(90deg,#471163,#482071 3.5%,#3e4988 5.8%,#30698e 9.9%,#1f9b8a 18.7%,#29ae80 21.0%,#3fbc73 22.8%,#5dc862 23.9%,#d4e220 26.9%,#f7e622 28.0%,#fde725 31.0%,#fde724 45.0%,#f7e624 45.6%,#dee229 46.1%,#a9d73c 46.7%,#68c25d 47.3%,#38a97b 47.9%,#249889 48.5%,#21928c 50.2%,#259789 50.8%,#3ba979 51.4%,#77c457 52.0%,#c1db34 52.6%,#eee425 53.2%,#fbe724 53.7%,#fde725)"></i><i class="p4" style="top:772px;height:1px;background:linear-gradient(90deg,#471365,#482575 3.5%,#3d4d8a 5.8%,#2c748e 11.7%,#1f9d89 18.7%,#2bb07f 21.0%,#44be71 22.8%,#7cd150 24.5%,#c5e025 26.3%,#f0e520 27.5%,#fde724 28.6%,#fce724 45.0%,#f6e624 45.6%,#dce229 46.1%,#a7d73d 46.7%,#66c15e 47.3%,#37a87b 47.9%,#249789 48.5%,#21928c 50.2%,#249789 50.8%,#3ba979 51.4%,#76c458 52.0%,#c1da34 52.6%,#eee425 53.2%,#fbe724 53.7%,#fde725)"></i><i class="p4" style="top:773px;height:1px;background:linear-gradient(90deg,#481567,#472c7a 3.5%,#3b508b 5.8%,#25848e 14.6%,#21a486 19.3%,#34b679 21.6%,#49c06e 22.8%,#85d44a 24.5%,#cfe121 26.3%,#f5e621 27.5%,#fde725 29.2%,#fce724 45.0%,#f5e624 45.6%,#dae229 46.1%,#a4d63e 46.7%,#64c060 47.3%,#36a77c 47.9%,#249789 48.5%,#21928c 50.2%,#249789 50.8%,#3aa87a 51.4%,#75c458 52.0%,#c0da34 52.6%,#eee425 53.2%,#fbe724 53.7%,#fde725)"></i><i class="p4" style="top:774px;height:1px;background:linear-gradient(90deg,#481769,#472a79 2.9%,#3c4e8a 5.3%,#29798e 12.3%,#20a187 18.7%,#30b37c 21.0%,#4fc36a 22.8%,#8ed644 24.5%,#c0df27 25.7%,#ece51f 26.9%,#fce724 28.0%,#fce724 45.0%,#f4e624 45.6%,#d9e129 46.1%,#a2d53f 46.7%,#62bf61 47.3%,#34a67d 47.9%,#239689 48.5%,#21918c 50.2%,#249789 50.8%,#3aa87a 51.4%,#74c359 52.0%,#c0da35 52.6%,#eee426 53.2%,#fbe724 53.7%,#fde725)"></i><i class="p4" style="top:775px;height:1px;background:linear-gradient(90deg,#48196b,#462f7c 2.9%,#3b518b 5.3%,#1f998a 17.5%,#27ac81 19.9%,#46bf6f 22.2%,#80d34d 23.9%,#cae023 25.7%,#f3e621 26.9%,#fde725 28.0%,#fce724 45.0%,#f3e623 45.6%,#d6e129 46.1%,#9fd53f 46.7%,#5fbe62 47.3%,#34a57e 47.9%,#23968a 48.5%,#21918c 50.2%,#249789 50.8%,#39a77b 51.4%,#74c359 52.0%,#bfda35 52.6%,#eee426 53.2%,#fbe724 53.7%,#fde725)"></i><i class="p4" style="top:776px;height:1px;background:linear-gradient(90deg,#481b6d,#453580 2.9%,#3a538b 5.3%,#1f968b 16.9%,#29ae80 19.9%,#3fbc73 21.6%,#5ec862 22.8%,#d3e220 25.7%,#f6e622 26.9%,#fde725 29.2%,#fce724 45.0%,#f3e623 45.6%,#d4e129 46.1%,#9cd441 46.7%,#5dbd64 47.3%,#33a47f 47.9%,#23958a 48.5%,#21918c 50.2%,#249789 50.8%,#39a77b 51.4%,#73c25a 52.0%,#beda35 52.6%,#ede426 53.2%,#fbe724 53.7%,#fde725)"></i><i class="p4" style="top:777px;height:1px;background:linear-gradient(90deg,#481e6f,#443a82 2.9%,#39558c 5.3%,#1f988a 16.9%,#2bb07f 19.9%,#44be70 21.6%,#7cd150 23.4%,#c4df25 25.1%,#efe520 26.3%,#fde724 27.5%,#fce724 45.0%,#f2e523 45.6%,#d2e029 46.1%,#9ad342 46.7%,#5bbc65 47.3%,#32a37f 47.9%,#23958a 48.5%,#21918c 50.2%,#249689 50.8%,#39a77b 51.4%,#72c25a 52.0%,#bdd935 52.6%,#ede426 53.2%,#fbe724 53.7%,#fde725)"></i><i class="p4" style="top:778px;height:1px;background:linear-gradient(90deg,#482071,#3a538b 4.7%,#1f9a8a 16.9%,#28ad80 19.3%,#3dbb74 21.0%,#5ac764 22.2%,#cee122 25.1%,#f4e621 26.3%,#fde725 27.5%,#fbe724 45.0%,#f1e523 45.6%,#d0e02a 46.1%,#97d243 46.7%,#59bb66 47.3%,#31a280 47.9%,#23948a 48.5%,#21918c 50.2%,#249689 50.8%,#38a67b 51.4%,#71c25a 52.0%,#bdd936 52.6%,#ede426 53.2%,#fbe724 53.7%,#fde725)"></i><i class="p4" style="top:779px;height:1px;background:linear-gradient(90deg,#482273,#3c508b 4.1%,#1f978b 16.4%,#2aaf7f 19.3%,#42bd72 21.0%,#77d053 22.8%,#bfdf27 24.5%,#ebe51f 25.7%,#fce724 26.9%,#fbe724 45.0%,#f0e523 45.6%,#cee02a 46.1%,#94d244 46.7%,#57ba67 47.3%,#30a181 47.9%,#23948a 48.5%,#21918c 50.2%,#249689 50.8%,#38a67c 51.4%,#70c15b 52.0%,#bcd936 52.6%,#ede426 53.2%,#fbe724 53.7%,#fde725)"></i><i class="p4" style="top:780px;height:1px;background:linear-gradient(90deg,#482575,#3b528b 4.1%,#1f998a 16.4%,#27ac81 18.7%,#46bf6f 21.0%,#80d24d 22.8%,#c9e024 24.5%,#f2e620 25.7%,#fde724 26.9%,#fbe724 45.0%,#efe524 45.6%,#ccdf2b 46.1%,#91d145 46.7%,#55b969 47.3%,#2fa081 47.9%,#23938b 48.5%,#21918c 50.2%,#249689 50.8%,#37a67c 51.4%,#70c15b 52.0%,#bcd936 52.6%,#ece426 53.2%,#fbe724 53.7%,#fde725)"></i><i class="p4" style="top:781px;height:1px;background:linear-gradient(90deg,#482877,#3a538b 4.1%,#1f978b 15.8%,#29ae80 18.7%,#3fbc73 20.4%,#5ec862 21.6%,#d2e121 24.5%,#f6e622 25.7%,#fde725 27.5%,#fbe724 45.0%,#eee524 45.6%,#cadf2c 46.1%,#8fd047 46.7%,#52b86a 47.3%,#2e9f82 47.9%,#23938b 48.5%,#249689 50.8%,#37a67c 51.4%,#6fc05c 52.0%,#bbd936 52.6%,#ece426 53.2%,#fbe724 53.7%,#fde725)"></i><i class="p4" style="top:782px;height:1px;background:linear-gradient(90deg,#472a79,#39558c 4.1%,#1f988a 15.8%,#2bb07e 18.7%,#44be70 20.4%,#7cd150 22.2%,#c4df25 23.9%,#eee51f 25.1%,#fde724 26.3%,#fbe724 45.0%,#ede524 45.6%,#c8de2d 46.1%,#8ccf48 46.7%,#50b76b 47.3%,#2d9f83 47.9%,#22938b 48.5%,#23968a 50.8%,#36a57d 51.4%,#6ec05c 52.0%,#bad837 52.6%,#ece426 53.2%,#fbe724 53.7%,#fde725)"></i><i class="p4" style="top:783px;height:1px;background:linear-gradient(90deg,#472d7b,#3b528b 3.5%,#1f968b 15.2%,#28ad80 18.1%,#3dbb74 19.9%,#5ac764 21.0%,#cde122 23.9%,#f4e621 25.1%,#fde725 26.3%,#fae724 45.0%,#ece525 45.6%,#c5de2e 46.1%,#89ce4a 46.7%,#4eb66c 47.3%,#2c9e83 47.9%,#22938b 48.5%,#23968a 50.8%,#36a57d 51.4%,#6dc05c 52.0%,#bad837 52.6%,#ece426 53.2%,#fbe724 53.7%,#fde725)"></i><i class="p4" style="top:784px;height:1px;background:linear-gradient(90deg,#472f7c,#3a538b 3.5%,#1f988b 15.2%,#2aaf7f 18.1%,#42bd71 19.9%,#77d052 21.6%,#bfdf28 23.4%,#ebe51f 24.5%,#fce724 25.7%,#fae724 45.0%,#ebe425 45.6%,#c3dd2f 46.1%,#86ce4b 46.7%,#4cb56e 47.3%,#2b9e84 47.9%,#22938b 48.5%,#23968a 50.8%,#36a57d 51.4%,#6cbf5d 52.0%,#b9d837 52.6%,#ebe426 53.2%,#fbe724 53.7%,#fde725)"></i><i class="p4" style="top:785px;height:1px;background:linear-gradient(90deg,#46317e,#3a548b 3.5%,#1f9a8a 15.2%,#2cb17e 18.1%,#47c06f 19.9%,#80d34d 21.6%,#c9e024 23.4%,#f1e620 24.5%,#fde724 25.7%,#fae725 45.0%,#eae425 45.6%,#c1dd30 46.1%,#83cd4d 46.7%,#4ab46f 47.3%,#2b9d84 47.9%,#22928b 48.5%,#23958a 50.8%,#35a57d 51.4%,#6cbf5d 52.0%,#b9d837 52.6%,#ebe426 53.2%,#fbe724 53.7%,#fde725)"></i><i class="p4" style="top:786px;height:1px;background:linear-gradient(90deg,#46337f,#3b518b 2.9%,#1f978b 14.6%,#29ae80 17.5%,#40bd73 19.3%,#74cf55 21.0%,#d3e120 23.4%,#f6e622 24.5%,#fde725 26.3%,#fae725 45.0%,#e9e426 45.6%,#bedc32 46.1%,#80cc4f 46.7%,#47b271 47.3%,#2a9c85 47.9%,#22928b 48.5%,#23958a 50.8%,#35a47d 51.4%,#6bbf5d 52.0%,#b8d837 52.6%,#ebe426 53.2%,#fbe724 53.7%,#fde725)"></i><i class="p4" style="top:787px;height:1px;background:linear-gradient(90deg,#453580,#3a528b 2.9%,#1f998a 14.6%,#26ac81 16.9%,#45bf70 19.3%,#7ed24e 21.0%,#c6e025 22.8%,#efe520 23.9%,#fde724 25.1%,#f9e725 45.0%,#e7e427 45.6%,#badc34 46.1%,#7cca51 46.7%,#44b172 47.3%,#289b86 47.9%,#21908c 49.1%,#23958a 50.8%,#34a47e 51.4%,#6abe5e 52.0%,#b7d738 52.6%,#eae426 53.2%,#fbe724 53.7%,#fde725)"></i><i class="p4" style="top:788px;height:1px;background:linear-gradient(90deg,#443882,#3a548b 2.9%,#1f9b8a 14.6%,#29ae80 16.9%,#3fbc73 18.7%,#5dc862 19.9%,#d1e121 22.8%,#f6e622 23.9%,#fde725 25.7%,#fde725 44.4%,#f9e625 45.0%,#e4e328 45.6%,#b5da37 46.1%,#76c855 46.7%,#40ae75 47.3%,#279a87 47.9%,#21908d 49.1%,#23958a 50.8%,#34a47e 51.4%,#68be5e 52.0%,#b5d738 52.6%,#e9e326 53.2%,#fae724 53.7%,#fde725)"></i><i class="p4" style="top:789px;height:1px;background:linear-gradient(90deg,#443b83,#39568c 2.9%,#20948b 13.4%,#26ac81 16.4%,#45bf70 18.7%,#7dd24f 20.4%,#c5e025 22.2%,#efe520 23.4%,#fde724 24.5%,#fde724 44.4%,#f7e624 45.0%,#dfe328 45.6%,#add83a 46.1%,#6dc55a 46.7%,#3bac78 47.3%,#259888 47.9%,#21908d 49.1%,#23958a 50.8%,#33a37e 51.4%,#67be5f 52.0%,#b3d739 52.6%,#e8e327 53.2%,#fae724 53.7%,#fde725)"></i><i class="p4" style="top:790px;height:1px;background:linear-gradient(90deg,#433e84,#38588c 2.9%,#20928c 12.9%,#24aa83 15.8%,#3fbc73 18.1%,#72cf56 19.9%,#d2e121 22.2%,#f6e622 23.4%,#fde725 25.1%,#fce724 44.4%,#f4e623 45.0%,#d8e128 45.6%,#a3d63d 46.1%,#64c15f 46.7%,#36a87b 47.3%,#249789 47.9%,#21908d 49.6%,#23958a 50.8%,#32a37f 51.4%,#65bd60 52.0%,#b1d63a 52.6%,#e7e327 53.2%,#fae725 53.7%,#fde725)"></i><i class="p4" style="top:791px;height:1px;background:linear-gradient(90deg,#424186,#375a8c 2.9%,#21908c 12.3%,#23a784 15.2%,#3bba76 17.5%,#55c567 18.7%,#aedc31 21.0%,#dee31f 22.2%,#f0e520 22.8%,#fde724 23.9%,#fbe724 44.4%,#f1e523 45.0%,#d2e029 45.6%,#99d341 46.1%,#5cbd64 46.7%,#32a47f 47.3%,#23958a 47.9%,#21908c 50.2%,#23948a 50.8%,#32a37f 51.4%,#63bd61 52.0%,#aed63b 52.6%,#e6e328 53.2%,#fae725 53.7%,#fde725)"></i><i class="p4" style="top:792px;height:1px;background:linear-gradient(90deg,#414487,#355f8d 3.5%,#1f978b 12.9%,#29ae80 15.8%,#40bc73 17.5%,#74cf55 19.3%,#d3e220 21.6%,#f6e622 22.8%,#fde725 25.1%,#fbe724 44.4%,#eee524 45.0%,#cadf2c 45.6%,#8fd046 46.1%,#53b869 46.7%,#2fa082 47.3%,#23938b 47.9%,#21908c 50.2%,#23948a 50.8%,#31a27f 51.4%,#61bc62 52.0%,#acd53c 52.6%,#e4e329 53.2%,#f9e625 53.7%,#fde725)"></i><i class="p4" style="top:793px;height:1px;background:linear-gradient(90deg,#3f4788,#34618d 3.5%,#20958b 12.3%,#27ac81 15.2%,#46bf6f 17.5%,#80d24d 19.3%,#c9e024 21.0%,#f1e620 22.2%,#fde724 23.4%,#fae724 44.4%,#eae425 45.0%,#c2dd2f 45.6%,#85cd4c 46.1%,#4bb46e 46.7%,#2b9d84 47.3%,#22928b 47.9%,#23948a 50.8%,#30a280 51.4%,#5ebb63 52.0%,#a9d53e 52.6%,#e3e22a 53.2%,#f9e625 53.7%,#fde725 73.0%,#fde725)"></i><i class="p4" style="top:794px;height:1px;background:linear-gradient(90deg,#3e4a89,#33648d 3.5%,#1f978b 12.3%,#2aaf7f 15.2%,#41bd72 16.9%,#60c960 18.1%,#bdde29 20.4%,#eae51f 21.6%,#f7e622 22.2%,#fde725 25.1%,#f9e725 44.4%,#e6e427 45.0%,#b9db35 45.6%,#7aca52 46.1%,#43b173 46.7%,#289b86 47.3%,#21908c 48.5%,#22948a 50.8%,#2fa280 51.4%,#5cbb65 52.0%,#a5d440 52.6%,#e1e22b 53.2%,#f9e625 53.7%,#fde725 61.9%,#fde725)"></i><i class="p4" style="top:795px;height:1px;background:linear-gradient(90deg,#3d4d8a,#30698e 4.1%,#1f9f88 12.9%,#2db17e 15.2%,#48c06e 16.9%,#82d34c 18.7%,#cbe023 20.4%,#f3e621 21.6%,#fde725 22.8%,#fde725 43.8%,#f7e625 44.4%,#e0e329 45.0%,#add93a 45.6%,#6dc55a 46.1%,#3bac78 46.7%,#269987 47.3%,#21908d 48.5%,#22948b 50.8%,#2ea181 51.4%,#59ba67 52.0%,#a2d342 52.6%,#dfe22c 53.2%,#f8e626 53.7%,#fde725 57.8%,#fde725)"></i><i class="p4" style="top:796px;height:1px;background:linear-gradient(90deg,#3c508b,#2e6d8e 4.7%,#20a187 12.9%,#30b47b 15.2%,#50c36a 16.9%,#a7db35 19.3%,#d7e220 20.4%,#f8e622 21.6%,#fde725 26.3%,#fce724 43.8%,#f4e624 44.4%,#d7e129 45.0%,#a0d53f 45.6%,#61c061 46.1%,#35a87c 46.7%,#249789 47.3%,#218f8d 49.1%,#22948b 50.8%,#2ea182 51.4%,#57b968 52.0%,#9fd244 52.6%,#dde12d 53.2%,#f8e626 53.7%,#fde725 56.7%,#fde725)"></i><i class="p4" style="top:797px;height:1px;background:linear-gradient(90deg,#3a538b,#1f9a8a 11.7%,#28ad80 14.0%,#48c06e 16.4%,#83d34b 18.1%,#cce122 19.9%,#f4e621 21.0%,#fde725 22.2%,#fbe724 43.8%,#f0e524 44.4%,#cedf2b 45.0%,#94d244 45.6%,#57bb67 46.1%,#30a380 46.7%,#23958a 47.3%,#218f8d 50.2%,#22938b 50.8%,#2da182 51.4%,#54b86a 52.0%,#9bd246 52.6%,#dbe12e 53.2%,#f7e626 53.7%,#fde725 56.1%,#fde725)"></i><i class="p4" style="top:798px;height:1px;background:linear-gradient(90deg,#39568c,#1f988a 11.1%,#2aaf7f 14.0%,#42bd71 15.8%,#78d052 17.5%,#c0df27 19.3%,#ece51f 20.4%,#fce724 21.6%,#fae724 43.8%,#ebe525 44.4%,#c4de2f 45.0%,#87ce4b 45.6%,#4db66d 46.1%,#2c9f83 46.7%,#22938b 47.3%,#218f8d 50.2%,#22938b 50.8%,#2ca083 51.4%,#52b86b 52.0%,#98d149 52.6%,#d9e12f 53.2%,#f7e626 53.7%,#fde725 55.5%,#fde725)"></i><i class="p4" style="top:799px;height:1px;background:linear-gradient(90deg,#37598c,#1f9a8a 11.1%,#28ad80 13.4%,#48c06e 15.8%,#84d34b 17.5%,#cde122 19.3%,#f4e621 20.4%,#fde725 21.6%,#f9e725 43.8%,#e7e427 44.4%,#badc34 45.0%,#45b272 46.1%,#299c85 46.7%,#21908d 47.9%,#22938b 50.8%,#2b9f83 51.4%,#4fb76d 52.0%,#94d04b 52.6%,#d7e031 53.2%,#f7e627 53.7%,#fde725 55.5%,#fde725)"></i><i class="p4" style="top:800px;height:1px;background:linear-gradient(90deg,#365c8d,#1f9d89 11.1%,#30b47b 14.0%,#4fc36a 15.8%,#8ed644 17.5%,#c0df27 18.7%,#ece51f 19.9%,#fce724 21.0%,#fde725 43.2%,#f8e625 43.8%,#e1e329 44.4%,#afd939 45.0%,#6fc659 45.6%,#3dae77 46.1%,#269a87 46.7%,#218f8d 47.9%,#22928b 50.8%,#2b9f84 51.4%,#4db66e 52.0%,#91cf4d 52.6%,#d6e032 53.2%,#f6e627 53.7%,#fde725 54.9%,#fde725)"></i><i class="p4" style="top:801px;height:1px;background:linear-gradient(90deg,#355e8d,#1f9f88 11.1%,#2db17d 13.4%,#47c06f 15.2%,#81d34c 16.9%,#cbe023 18.7%,#f3e621 19.9%,#fde725 21.0%,#fce724 43.2%,#f4e624 43.8%,#d8e129 44.4%,#a2d63e 45.0%,#63c25f 45.6%,#36aa7b 46.1%,#249888 46.7%,#218f8d 48.5%,#22928b 50.8%,#2a9f84 51.4%,#4bb56f 52.0%,#8ece4f 52.6%,#d4df33 53.2%,#f6e627 53.7%,#fde725 54.9%,#fde725)"></i><i class="p4" style="top:802px;height:1px;background:linear-gradient(90deg,#34608d,#1f9c89 10.5%,#2fb37c 13.4%,#4dc26b 15.2%,#8bd546 16.9%,#d5e220 18.7%,#f7e622 19.9%,#fde725 22.8%,#fbe724 43.2%,#f0e524 43.8%,#cfe02a 44.4%,#96d343 45.0%,#59be65 45.6%,#31a67f 46.1%,#23968a 46.7%,#218e8d 49.1%,#22928b 50.8%,#299e84 51.4%,#49b471 52.0%,#d2df34 53.2%,#f5e627 53.7%,#fde725 54.9%,#fde725)"></i><i class="p4" style="top:803px;height:1px;background:linear-gradient(90deg,#33628d,#1f9e89 10.5%,#32b57b 13.4%,#53c568 15.2%,#acdc31 17.5%,#dde31f 18.7%,#f0e520 19.3%,#fde724 20.4%,#fae724 43.2%,#ece525 43.8%,#c6de2d 44.4%,#8bd048 45.0%,#51b96a 45.6%,#2ea281 46.1%,#23948a 46.7%,#218e8d 50.2%,#22928b 50.8%,#299e85 51.4%,#47b372 52.0%,#d1de35 53.2%,#f5e628 53.7%,#fde725 54.9%,#fde725)"></i><i class="p4" style="top:804px;height:1px;background:linear-gradient(90deg,#32648e,#1f9f88 10.5%,#34b679 13.4%,#48c06e 14.6%,#84d34b 16.4%,#cee122 18.1%,#f5e621 19.3%,#fde725 20.4%,#fae725 43.2%,#e9e426 43.8%,#bedd31 44.4%,#82cd4d 45.0%,#4ab56e 45.6%,#2b9f83 46.1%,#22938b 46.7%,#228e8d 50.2%,#22918c 50.8%,#289d85 51.4%,#45b373 52.0%,#86cc54 52.6%,#cfde36 53.2%,#f5e628 53.7%,#fde725 54.9%,#fde725)"></i><i class="p4" style="top:805px;height:1px;background:linear-gradient(90deg,#32668e,#20a187 10.5%,#36b878 13.4%,#4dc26b 14.6%,#8bd546 16.4%,#d5e220 18.1%,#f7e622 19.3%,#fde725 22.2%,#fde725 42.6%,#f9e625 43.2%,#e4e327 43.8%,#b6db35 44.4%,#79ca52 45.0%,#45b272 45.6%,#299c85 46.1%,#218f8d 47.3%,#22918c 50.8%,#289d86 51.4%,#43b274 52.0%,#84cb55 52.6%,#cede37 53.2%,#f4e528 53.7%,#fde725 54.9%,#fde725)"></i><i class="p4" style="top:806px;height:1px;background:linear-gradient(90deg,#31678e,#1f9d89 9.9%,#31b47b 12.9%,#51c469 14.6%,#91d643 16.4%,#c3df26 17.5%,#eee51f 18.7%,#fde724 19.9%,#fce724 42.6%,#f6e624 43.2%,#dee227 43.8%,#aed938 44.4%,#71c857 45.0%,#40b075 45.6%,#289b86 46.1%,#218f8d 47.3%,#22918c 50.8%,#279c86 51.4%,#42b175 52.0%,#81ca56 52.6%,#cbdd37 53.2%,#f4e528 53.7%,#fce725 54.3%,#fde725)"></i><i class="p4" style="top:807px;height:1px;background:linear-gradient(90deg,#30688e,#1f9e88 9.9%,#2cb07e 12.3%,#45bf70 14.0%,#7dd24f 15.8%,#c8e024 17.5%,#f2e620 18.7%,#fde724 19.9%,#fce724 42.6%,#f3e623 43.2%,#d7e127 43.8%,#a5d83b 44.4%,#6ac65b 45.0%,#3bae78 45.6%,#269a87 46.1%,#218f8d 47.3%,#22918c 50.8%,#279c86 51.4%,#40b076 52.0%,#7dc956 52.6%,#c8dc36 53.2%,#f2e527 53.7%,#fce725 54.3%,#fde725)"></i><i class="p4" style="top:808px;height:2px;background:linear-gradient(90deg,#30698e,#218f8d 7.6%,#23a884 11.1%,#3bba75 13.4%,#57c666 14.6%,#b3dd2e 16.9%,#e3e41f 18.1%,#f4e621 18.7%,#fde725 19.9%,#fbe724 42.6%,#efe523 43.2%,#d0e029 43.8%,#9cd63f 44.4%,#63c35f 45.0%,#37ab7a 45.6%,#259988 46.1%,#218f8d 47.3%,#22908c 50.8%,#269b87 51.4%,#3eaf77 52.0%,#78c857 52.6%,#c2db35 53.2%,#efe526 53.7%,#fce724 54.3%,#fde725)"></i><i class="p4" style="top:810px;height:2px;background:linear-gradient(90deg,#306a8e,#1fa088 9.9%,#34b679 12.9%,#48c06e 14.0%,#83d34b 15.8%,#cde122 17.5%,#f5e622 18.7%,#fde725 19.9%,#fae724 42.6%,#ece524 43.2%,#c8df2c 43.8%,#94d442 44.4%,#5dc162 45.0%,#35aa7c 45.6%,#249888 46.1%,#218f8d 47.3%,#22908c 50.8%,#269b87 51.4%,#3bae78 52.0%,#72c658 52.6%,#bcda35 53.2%,#ece426 53.7%,#fbe724 54.3%,#fde725)"></i><i class="p4" style="top:812px;height:2px;background:linear-gradient(90deg,#306a8e,#1fa088 9.9%,#34b679 12.9%,#48c06e 14.0%,#82d34c 15.8%,#cce122 17.5%,#f4e621 18.7%,#fde725 19.9%,#fde724 42.1%,#f8e624 42.6%,#e6e424 43.2%,#c0de2e 43.8%,#58bf65 45.0%,#33a87d 45.6%,#249789 46.1%,#218e8d 47.9%,#22908c 50.8%,#259a87 51.4%,#39ad79 52.0%,#6dc55a 52.6%,#b7d937 53.2%,#e9e426 53.7%,#fae724 54.3%,#fde725)"></i><i class="p4" style="top:814px;height:2px;background:linear-gradient(90deg,#306a8e,#1fa088 9.9%,#34b679 12.9%,#57c666 14.6%,#b0dc2f 16.9%,#e0e31e 18.1%,#f2e620 18.7%,#fde724 19.9%,#fce724 42.1%,#f5e623 42.6%,#dfe324 43.2%,#b7dc31 43.8%,#53bd68 45.0%,#30a77f 45.6%,#239789 46.1%,#218e8d 47.9%,#228f8c 50.8%,#259988 51.4%,#37ac7a 52.0%,#69c35c 52.6%,#b1d839 53.2%,#e6e327 53.7%,#fae725 54.3%,#fde725)"></i><i class="p4" style="top:816px;height:2px;background:linear-gradient(90deg,#306a8e,#1fa088 9.9%,#34b679 12.9%,#56c666 14.6%,#acdc32 16.9%,#dbe31e 18.1%,#f9e622 19.3%,#fde725 34.5%,#fbe724 42.1%,#f1e623 42.6%,#d7e225 43.2%,#acda35 43.8%,#4cbb6c 45.0%,#2ea580 45.6%,#23968a 46.1%,#228d8d 48.5%,#228f8c 50.8%,#249988 51.4%,#34ab7b 52.0%,#64c25f 52.6%,#acd73c 53.2%,#e4e329 53.7%,#f9e625 54.3%,#fde725)"></i><i class="p4" style="top:818px;height:2px;background:linear-gradient(90deg,#306a8e,#1fa088 9.9%,#34b679 12.9%,#54c567 14.6%,#a8db34 16.9%,#d6e21f 18.1%,#f7e622 19.3%,#fde725 22.2%,#fbe724 42.1%,#eee523 42.6%,#cfe028 43.2%,#a1d83b 43.8%,#46b870 45.0%,#2ba382 45.6%,#22958a 46.1%,#228c8d 49.6%,#228e8c 50.8%,#249888 51.4%,#33aa7c 52.0%,#60c161 52.6%,#a8d63f 53.2%,#e1e22a 53.7%,#f9e625 54.3%,#fde725 63.1%,#fde725)"></i><i class="p4" style="top:820px;height:1px;background:linear-gradient(90deg,#306a8e,#1fa088 9.9%,#34b679 12.9%,#53c568 14.6%,#a4da37 16.9%,#d1e120 18.1%,#f5e621 19.3%,#fde725 21.0%,#fae724 42.1%,#ebe525 42.6%,#c8df2b 43.2%,#69c85b 44.4%,#41b673 45.0%,#29a283 45.6%,#21908c 46.7%,#228e8c 50.8%,#249889 51.4%,#32aa7d 52.0%,#5ec063 52.6%,#a4d541 53.2%,#e0e22c 53.7%,#f8e626 54.3%,#fde725 58.4%,#fde725)"></i><i class="p4" style="top:821px;height:1px;background:linear-gradient(90deg,#306a8e,#20a087 9.9%,#34b679 12.9%,#53c568 14.6%,#a1da38 16.9%,#cde121 18.1%,#f3e620 19.3%,#fde724 20.4%,#f9e724 42.1%,#e8e425 42.6%,#c3de2e 43.2%,#63c75e 44.4%,#3db475 45.0%,#28a184 45.6%,#21908c 46.7%,#228e8c 50.8%,#249889 51.4%,#31a97d 52.0%,#5cbf64 52.6%,#a2d542 53.2%,#dee22c 53.7%,#f8e626 54.3%,#fde725 57.8%,#fde725)"></i><i class="p4" style="top:822px;height:2px;background:linear-gradient(90deg,#306a8e,#20a187 9.9%,#35b779 12.9%,#52c469 14.6%,#9dd93b 16.9%,#c8e023 18.1%,#efe51f 19.3%,#fde724 20.4%,#fce724 41.5%,#f7e623 42.1%,#e3e325 42.6%,#badd30 43.2%,#5bc463 44.4%,#38b178 45.0%,#26a085 45.6%,#218f8d 46.7%,#228e8c 50.8%,#249789 51.4%,#31a97e 52.0%,#5abf65 52.6%,#9fd444 53.2%,#dde22d 53.7%,#f8e626 54.3%,#fde725 56.7%,#fde725)"></i><i class="p4" style="top:824px;height:1px;background:linear-gradient(90deg,#306a8e,#20a187 9.9%,#35b778 12.9%,#51c469 14.6%,#99d83d 16.9%,#d8e21e 18.7%,#f7e622 19.9%,#fde725 22.8%,#fce724 41.5%,#f4e623 42.1%,#dce225 42.6%,#b1db34 43.2%,#53c168 44.4%,#34af7b 45.0%,#259e86 45.6%,#218f8d 46.7%,#228d8d 50.8%,#249789 51.4%,#30a87e 52.0%,#58be67 52.6%,#9cd346 53.2%,#dbe12e 53.7%,#f7e626 54.3%,#fde725 56.1%,#fde725)"></i><i class="p4" style="top:825px;height:1px;background:linear-gradient(90deg,#306a8e,#20a187 9.9%,#35b778 12.9%,#50c469 14.6%,#96d83f 16.9%,#d4e21f 18.7%,#f5e621 19.9%,#fde725 21.6%,#fce724 41.5%,#f2e623 42.1%,#d8e226 42.6%,#abda37 43.2%,#4ebf6b 44.4%,#31ad7d 45.0%,#249d87 45.6%,#218f8d 46.7%,#228d8d 50.8%,#239789 51.4%,#2fa87f 52.0%,#56bd68 52.6%,#9ad347 53.2%,#dae12f 53.7%,#f7e626 54.3%,#fde725 56.1%,#fde725)"></i><i class="p4" style="top:826px;height:1px;background:linear-gradient(90deg,#306a8e,#20a187 9.9%,#36b778 12.9%,#5ec962 15.2%,#d0e11f 18.7%,#f2e620 19.9%,#fde724 21.0%,#fbe724 41.5%,#f1e523 42.1%,#d3e127 42.6%,#a5d93a 43.2%,#73cc55 43.8%,#49bc6e 44.4%,#2eab7e 45.0%,#239c88 45.6%,#218f8d 46.7%,#228d8d 50.8%,#239689 51.4%,#2fa77f 52.0%,#55bd69 52.6%,#d9e130 53.7%,#f7e626 54.3%,#fde725 56.1%,#fde725)"></i><i class="p4" style="top:827px;height:1px;background:linear-gradient(90deg,#306a8e,#20a187 9.9%,#35b778 12.9%,#5dc862 15.2%,#cce121 18.7%,#efe51f 19.9%,#fde724 21.0%,#fbe724 41.5%,#eee523 42.1%,#cee029 42.6%,#6cca59 43.8%,#44ba70 44.4%,#2ca980 45.0%,#229b88 45.6%,#218f8d 46.7%,#228d8d 50.8%,#239689 51.4%,#2ea780 52.0%,#54bc69 52.6%,#d8e130 53.7%,#f7e627 54.3%,#fde725 56.1%,#fde725)"></i><i class="p4" style="top:828px;height:2px;background:linear-gradient(90deg,#306a8e,#20a187 9.9%,#35b778 12.9%,#5cc863 15.2%,#c7e023 18.7%,#ebe51e 19.9%,#fce724 21.0%,#fae724 41.5%,#ebe525 42.1%,#c7df2c 42.6%,#64c75e 43.8%,#3eb774 44.4%,#29a782 45.0%,#21928c 46.1%,#228d8d 50.8%,#23968a 51.4%,#2da680 52.0%,#52bc6b 52.6%,#d7e031 53.7%,#f6e627 54.3%,#fde725 55.5%,#fde725)"></i><i class="p4" style="top:830px;height:1px;background:linear-gradient(90deg,#306a8e,#1f9d89 9.3%,#2fb37c 12.3%,#5ac764 15.2%,#c1df25 18.7%,#e5e41d 19.9%,#fae723 21.0%,#f9e725 41.5%,#e7e426 42.1%,#bfde30 42.6%,#5bc463 43.8%,#38b478 44.4%,#26a484 45.0%,#21928c 46.1%,#238c8d 50.8%,#23958a 51.4%,#2da681 52.0%,#4fbb6c 52.6%,#d5e032 53.7%,#f6e627 54.3%,#fde725 55.5%,#fde725)"></i><i class="p4" style="top:831px;height:1px;background:linear-gradient(90deg,#306a8e,#1f9d89 9.3%,#2fb37c 12.3%,#5ac764 15.2%,#abdc32 18.1%,#d0e11f 19.3%,#f0e51f 20.4%,#fde724 21.6%,#fde724 40.9%,#f7e624 41.5%,#e3e326 42.1%,#b8dc33 42.6%,#55c266 43.8%,#35b17a 44.4%,#25a385 45.0%,#21928c 46.1%,#238c8d 50.8%,#23958a 51.4%,#2ca581 52.0%,#4eba6d 52.6%,#d3e032 53.7%,#f5e627 54.3%,#fde725 55.5%,#fde725)"></i><i class="p4" style="top:832px;height:1px;background:linear-gradient(90deg,#306a8e,#1f9d89 9.3%,#2eb37c 12.3%,#59c765 15.2%,#a8db34 18.1%,#dde31c 19.9%,#f8e622 21.0%,#fde725 25.7%,#fce724 40.9%,#f5e623 41.5%,#dee326 42.1%,#b2db35 42.6%,#50c069 43.8%,#32af7c 44.4%,#24a186 45.0%,#21918c 46.1%,#238c8d 50.8%,#23958a 51.4%,#2ca581 52.0%,#4dba6d 52.6%,#d1df32 53.7%,#f4e626 54.3%,#fde725 55.5%,#fde725)"></i><i class="p4" style="top:833px;height:1px;background:linear-gradient(90deg,#306a8e,#1f9d89 9.3%,#2eb37d 12.3%,#58c765 15.2%,#a5db36 18.1%,#d9e21d 19.9%,#f6e621 21.0%,#fde725 22.8%,#fce724 40.9%,#f3e623 41.5%,#d9e226 42.1%,#abda37 42.6%,#4cbe6c 43.8%,#2fad7d 44.4%,#239f87 45.0%,#218f8d 46.7%,#238c8d 50.8%,#23958a 51.4%,#2ba581 52.0%,#4bb96e 52.6%,#cedf31 53.7%,#f3e526 54.3%,#fce725 54.9%,#fde725)"></i><i class="p4" style="top:834px;height:1px;background:linear-gradient(90deg,#306a8e,#1f9c89 9.3%,#2eb27d 12.3%,#57c666 15.2%,#a2da37 18.1%,#d5e21d 19.9%,#f3e61f 21.0%,#fde724 22.2%,#fbe724 40.9%,#f1e523 41.5%,#d3e127 42.1%,#a4d83a 42.6%,#71cc56 43.2%,#47bc6f 43.8%,#2dab7f 44.4%,#229e87 45.0%,#218f8d 46.7%,#238c8d 50.8%,#2ba482 52.0%,#4ab96e 52.6%,#cbde31 53.7%,#f1e525 54.3%,#fce724 54.9%,#fde725)"></i><i class="p4" style="top:835px;height:1px;background:linear-gradient(90deg,#306a8e,#1f9c89 9.3%,#2eb27d 12.3%,#56c666 15.2%,#9fda39 18.1%,#d2e11e 19.9%,#f0e51e 21.0%,#fde724 22.2%,#fbe724 40.9%,#eee524 41.5%,#cee029 42.1%,#6bca59 43.2%,#43ba71 43.8%,#2ba980 44.4%,#20958b 45.6%,#238a8d 50.2%,#23948a 51.4%,#2ba482 52.0%,#48b86f 52.6%,#c9de31 53.7%,#f0e525 54.3%,#fce724 54.9%,#fde725)"></i><i class="p4" style="top:836px;height:1px;background:linear-gradient(90deg,#306a8e,#1f9c89 9.3%,#2db27d 12.3%,#56c666 15.2%,#9dd93b 18.1%,#cee11f 19.9%,#ede51e 21.0%,#fce724 22.2%,#fae724 40.9%,#ebe525 41.5%,#c8df2c 42.1%,#66c85c 43.2%,#40b873 43.8%,#29a881 44.4%,#20948b 45.6%,#238b8d 50.8%,#2aa382 52.0%,#47b870 52.6%,#82cd50 53.2%,#c6dd31 53.7%,#efe525 54.3%,#fbe724 54.9%,#fde725)"></i><i class="p4" style="top:837px;height:1px;background:linear-gradient(90deg,#306a8e,#1f988b 8.8%,#28ad80 11.7%,#55c667 15.2%,#9ad93d 18.1%,#cbe120 19.9%,#eae51d 21.0%,#fbe724 22.2%,#fde725 40.3%,#f9e624 40.9%,#e8e425 41.5%,#c1de2e 42.1%,#60c660 43.2%,#3cb675 43.8%,#28a682 44.4%,#20948b 45.6%,#238b8d 50.8%,#2aa383 52.0%,#46b770 52.6%,#80cc50 53.2%,#c3dd31 53.7%,#eee525 54.3%,#fbe724 54.9%,#fde725)"></i><i class="p4" style="top:838px;height:1px;background:linear-gradient(90deg,#306a8e,#1f9c89 9.3%,#2cb17d 12.3%,#5fc961 15.8%,#c8e022 19.9%,#e7e41c 21.0%,#fae723 22.2%,#fce724 40.3%,#f6e623 40.9%,#e2e325 41.5%,#badd30 42.1%,#5cc563 43.2%,#3ab577 43.8%,#27a583 44.4%,#20948c 45.6%,#238b8d 50.8%,#29a383 52.0%,#44b771 52.6%,#7dcc51 53.2%,#c1dc32 53.7%,#ece425 54.3%,#fbe724 54.9%,#fde725)"></i><i class="p4" style="top:839px;height:1px;background:linear-gradient(90deg,#306a8e,#1f9c89 9.3%,#2cb17e 12.3%,#5dc962 15.8%,#d4e21d 20.4%,#f9e722 22.2%,#fce724 40.3%,#f4e623 40.9%,#dbe225 41.5%,#b2db33 42.1%,#57c365 43.2%,#37b378 43.8%,#26a484 44.4%,#20938c 45.6%,#238b8d 50.8%,#29a383 52.0%,#43b672 52.6%,#7acb53 53.2%,#bedc33 53.7%,#ebe425 54.3%,#fbe724 54.9%,#fde725)"></i><i class="p4" style="top:840px;height:1px;background:linear-gradient(90deg,#306a8e,#1f9b8a 9.3%,#2cb17e 12.3%,#5cc863 15.8%,#d1e11e 20.4%,#f8e622 22.2%,#fde725 27.5%,#fbe724 40.3%,#f1e523 40.9%,#d5e126 41.5%,#aada37 42.1%,#52c168 43.2%,#35b27a 43.8%,#25a385 44.4%,#21908c 46.1%,#238b8d 50.8%,#29a283 52.0%,#42b672 52.6%,#78ca54 53.2%,#bcdb34 53.7%,#eae426 54.3%,#fae724 54.9%,#fde725)"></i><i class="p4" style="top:841px;height:1px;background:linear-gradient(90deg,#306a8e,#1f9b8a 9.3%,#2bb07e 12.3%,#5ac864 15.8%,#afdc30 19.3%,#dde31b 21.0%,#f6e621 22.2%,#fde725 24.5%,#fae724 40.3%,#ede524 40.9%,#cce029 41.5%,#73cd55 42.6%,#4dbf6b 43.2%,#32b07b 43.8%,#24a285 44.4%,#21908d 46.1%,#238b8d 50.8%,#28a284 52.0%,#41b573 52.6%,#76ca55 53.2%,#b9db35 53.7%,#e9e426 54.3%,#fae725 54.9%,#fde725)"></i><i class="p4" style="top:842px;height:1px;background:linear-gradient(90deg,#306a8e,#1f9f88 9.9%,#30b47c 12.9%,#59c765 15.8%,#acdc31 19.3%,#d9e21c 21.0%,#f4e620 22.2%,#fde725 23.9%,#fce724 39.7%,#f7e623 40.3%,#e3e424 40.9%,#bfde2d 41.5%,#68ca5b 42.6%,#46bc6f 43.2%,#2ead7e 43.8%,#23a086 44.4%,#218f8d 46.1%,#238b8d 50.8%,#28a284 52.0%,#3fb574 52.6%,#73c956 53.2%,#b7da36 53.7%,#e7e427 54.3%,#fae725 54.9%,#fde725)"></i><i class="p4" style="top:843px;height:1px;background:linear-gradient(90deg,#306a8e,#1f9e89 9.9%,#2fb37c 12.9%,#62ca5f 16.4%,#d6e21c 21.0%,#f9e722 22.8%,#fbe724 39.7%,#f0e523 40.3%,#d6e225 40.9%,#aedb34 41.5%,#5dc662 42.6%,#3eb874 43.2%,#2aaa80 43.8%,#20968b 45.0%,#23898e 49.6%,#238a8d 50.8%,#28a184 52.0%,#3eb474 52.6%,#71c857 53.2%,#b4da37 53.7%,#e6e328 54.3%,#fae725 54.9%,#fde725)"></i><i class="p4" style="top:844px;height:1px;background:linear-gradient(90deg,#306a8e,#1f9d89 9.9%,#2db27d 12.9%,#5fc961 16.4%,#d3e21d 21.0%,#f8e622 22.8%,#fde725 29.2%,#fce724 39.1%,#f7e623 39.7%,#e6e423 40.3%,#c5df2a 40.9%,#51c269 42.6%,#36b479 43.2%,#27a783 43.8%,#20918c 45.6%,#238a8d 50.8%,#27a184 52.0%,#3db475 52.6%,#6fc858 53.2%,#b2d939 53.7%,#e5e328 54.3%,#f9e725 54.9%,#fde725)"></i><i class="p4" style="top:845px;height:1px;background:linear-gradient(90deg,#30698e,#1fa088 10.5%,#32b57a 13.4%,#5cc863 16.4%,#cfe11f 21.0%,#f6e621 22.8%,#fde725 25.7%,#fbe724 39.1%,#f0e522 39.7%,#d7e225 40.3%,#b2dc32 40.9%,#64c95d 42.1%,#45bd70 42.6%,#2faf7d 43.2%,#209a89 44.4%,#218e8d 46.7%,#238a8d 50.8%,#27a184 52.0%,#3cb376 52.6%,#6dc75a 53.2%,#b0d93a 53.7%,#e4e329 54.3%,#f9e625 54.9%,#fde725 82.9%,#fde725)"></i><i class="p4" style="top:846px;height:1px;background:linear-gradient(90deg,#30698e,#1f9f88 10.5%,#30b47b 13.4%,#59c764 16.4%,#bcde28 20.4%,#dae31c 21.6%,#f4e620 22.8%,#fde725 24.5%,#fce724 38.6%,#f5e623 39.1%,#e3e422 39.7%,#c3df2a 40.3%,#56c466 42.1%,#3bb875 42.6%,#2aab80 43.2%,#20998a 44.4%,#238a8d 48.5%,#238a8d 50.8%,#27a184 52.0%,#3bb376 52.6%,#6bc75b 53.2%,#aed83b 53.7%,#e3e32a 54.3%,#f9e625 54.9%,#fde725 67.2%,#fde725)"></i><i class="p4" style="top:847px;height:1px;background:linear-gradient(90deg,#30698e,#1f9e88 10.5%,#2fb37c 13.4%,#56c666 16.4%,#c7e022 21.0%,#e5e41c 22.2%,#fae723 23.4%,#f9e723 38.6%,#ece522 39.1%,#d1e125 39.7%,#88d448 40.9%,#49bf6e 42.1%,#33b37a 42.6%,#209e88 43.8%,#218e8d 46.1%,#238a8d 50.8%,#27a185 52.0%,#3bb377 52.6%,#69c65c 53.2%,#acd83c 53.7%,#e2e32a 54.3%,#f9e625 54.9%,#fde725 63.1%,#fde725)"></i><i class="p4" style="top:848px;height:1px;background:linear-gradient(90deg,#30688e,#20a187 11.1%,#33b67a 14.0%,#5ec961 16.9%,#d3e21d 21.6%,#f8e622 23.4%,#fde725 29.8%,#fbe724 38.0%,#f2e622 38.6%,#dce322 39.1%,#bcde2c 39.7%,#57c565 41.5%,#2cae7f 42.6%,#209c89 43.8%,#228d8d 46.7%,#238a8d 50.8%,#26a185 52.0%,#3ab277 52.6%,#67c65d 53.2%,#aad83e 53.7%,#e1e32b 54.3%,#f8e625 54.9%,#fde725 60.7%,#fde725)"></i><i class="p4" style="top:849px;height:1px;background:linear-gradient(90deg,#31688e,#1fa088 11.1%,#31b47b 14.0%,#5bc863 16.9%,#cee11f 21.6%,#f6e621 23.4%,#fde725 25.7%,#fce724 37.4%,#f6e622 38.0%,#e5e421 38.6%,#c9e027 39.1%,#65ca5d 40.9%,#35b479 42.1%,#21a187 43.2%,#218f8d 45.6%,#238a8d 50.8%,#26a185 52.0%,#39b278 52.6%,#65c55e 53.2%,#a8d73f 53.7%,#e0e22b 54.3%,#f8e626 54.9%,#fde725 59.0%,#fde725)"></i><i class="p4" style="top:850px;height:1px;background:linear-gradient(90deg,#31688e,#1f9f88 11.1%,#2fb37c 14.0%,#58c765 16.9%,#cae020 21.6%,#e7e41c 22.8%,#fae723 23.9%,#f9e723 37.4%,#ede521 38.0%,#d5e223 38.6%,#93d641 39.7%,#57c565 40.9%,#2eb07d 42.1%,#209e88 43.2%,#218e8d 46.1%,#238a8d 50.8%,#26a185 52.0%,#38b278 52.6%,#63c55f 53.2%,#a6d740 53.7%,#dfe22c 54.3%,#f8e626 54.9%,#fde725 58.4%,#fde725)"></i><i class="p4" style="top:851px;height:1px;background:linear-gradient(90deg,#31678e,#20a287 11.7%,#34b679 14.6%,#54c567 16.9%,#c6e022 21.6%,#e3e41b 22.8%,#f9e722 23.9%,#fbe724 36.8%,#f3e622 37.4%,#dfe321 38.0%,#c2df29 38.6%,#65ca5d 40.3%,#37b678 41.5%,#22a386 42.6%,#218f8d 45.6%,#238a8d 50.8%,#26a185 52.0%,#37b279 52.6%,#61c461 53.2%,#a3d642 53.7%,#dee22d 54.3%,#f8e626 54.9%,#fde725 57.8%,#fde725)"></i><i class="p4" style="top:852px;height:1px;background:linear-gradient(90deg,#31678e,#1fa187 11.7%,#32b57b 14.6%,#51c469 16.9%,#b2dd2e 21.0%,#dfe31b 22.8%,#f7e621 23.9%,#fde725 27.5%,#fce724 36.2%,#f7e622 36.8%,#e8e420 37.4%,#cee124 38.0%,#58c665 40.3%,#30b27c 41.5%,#20a187 42.6%,#218e8d 45.6%,#238a8d 50.8%,#25a185 52.0%,#36b179 52.6%,#60c362 53.2%,#a1d643 53.7%,#dde22d 54.3%,#f8e626 54.9%,#fde725 57.2%,#fde725)"></i><i class="p4" style="top:853px;height:1px;background:linear-gradient(90deg,#31668e,#1f9f88 11.7%,#30b47c 14.6%,#59c764 17.5%,#cbe120 22.2%,#e9e41c 23.4%,#fbe723 24.5%,#fae723 36.2%,#f0e521 36.8%,#dae221 37.4%,#9fd93a 38.6%,#4ec26b 40.3%,#2bae7f 41.5%,#209f88 42.6%,#218e8d 45.6%,#238a8d 50.8%,#25a185 52.0%,#35b17a 52.6%,#5ec363 53.2%,#9fd544 53.7%,#dce12e 54.3%,#f7e626 54.9%,#fde725 56.7%,#fde725)"></i><i class="p4" style="top:854px;height:1px;background:linear-gradient(90deg,#32668e,#1f9e88 11.7%,#2eb27d 14.6%,#56c666 17.5%,#d6e21d 22.8%,#f9e722 24.5%,#fce724 35.6%,#f5e622 36.2%,#e5e420 36.8%,#cce024 37.4%,#5bc763 39.7%,#34b57a 40.9%,#22a486 42.1%,#218f8d 45.0%,#23898d 50.8%,#25a085 52.0%,#34b07a 52.6%,#5cc264 53.2%,#dae12e 54.3%,#f7e626 54.9%,#fde725 56.7%,#fde725)"></i><i class="p4" style="top:855px;height:1px;background:linear-gradient(90deg,#32658e,#20a187 12.3%,#32b57b 15.2%,#52c568 17.5%,#b2dd2d 21.6%,#e0e31b 23.4%,#f7e621 24.5%,#fde725 28.0%,#fae723 35.6%,#efe521 36.2%,#dae221 36.8%,#a1da38 38.0%,#53c468 39.7%,#2fb27c 40.9%,#21a287 42.1%,#218f8d 45.0%,#23898d 50.8%,#25a086 52.0%,#33b07b 52.6%,#5ac265 53.2%,#d7e12e 54.3%,#f6e626 54.9%,#fde725 56.1%,#fde725)"></i><i class="p4" style="top:856px;height:1px;background:linear-gradient(90deg,#32658e,#1fa088 12.3%,#30b47b 15.2%,#4fc36a 17.5%,#aedc30 21.6%,#dbe31c 23.4%,#f4e620 24.5%,#fde725 26.3%,#fce724 35.0%,#f6e622 35.6%,#e7e41f 36.2%,#cfe123 36.8%,#62ca5f 39.1%,#3ab876 40.3%,#24a784 41.5%,#218f8d 45.0%,#24868e 50.2%,#22928b 51.4%,#25a086 52.0%,#33b07b 52.6%,#58c166 53.2%,#d4e02e 54.3%,#f4e625 54.9%,#fde725 56.1%,#fde725)"></i><i class="p4" style="top:857px;height:1px;background:linear-gradient(90deg,#32648e,#1f9f88 12.3%,#2eb37c 15.2%,#4cc26c 17.5%,#a9db33 21.6%,#d5e21d 23.4%,#f9e622 25.1%,#fde725 34.5%,#f3e621 35.6%,#c6e026 36.8%,#5cc862 39.1%,#36b678 40.3%,#23a684 41.5%,#218f8d 45.0%,#24868e 50.2%,#22928b 51.4%,#24a086 52.0%,#32af7b 52.6%,#56c167 53.2%,#d1e02d 54.3%,#f3e524 54.9%,#fde725 56.1%,#fde725)"></i><i class="p4" style="top:858px;height:2px;background:linear-gradient(90deg,#33638d,#1f9e89 12.3%,#2cb17e 15.2%,#52c568 18.1%,#bedf26 22.8%,#dbe31c 23.9%,#fbe723 25.7%,#fde724 34.5%,#f9e623 35.0%,#ede520 35.6%,#d7e220 36.2%,#a1da38 37.4%,#57c666 39.1%,#33b47a 40.3%,#22a585 41.5%,#218f8d 45.0%,#24868e 50.2%,#22928b 51.4%,#24a086 52.0%,#31af7c 52.6%,#53c068 53.2%,#ccdf2d 54.3%,#f0e524 54.9%,#fbe724 55.5%,#fde725)"></i><i class="p4" style="top:860px;height:1px;background:linear-gradient(90deg,#33628d,#1f9d89 12.3%,#2bb07e 15.2%,#4ec36b 18.1%,#a8db34 22.2%,#d2e21d 23.9%,#f7e621 25.7%,#fde725 29.2%,#fce724 34.5%,#f7e622 35.0%,#e9e41f 35.6%,#d3e221 36.2%,#6bcc5a 38.6%,#32b47b 40.3%,#22a585 41.5%,#218f8d 45.0%,#24868e 50.2%,#22928b 51.4%,#249f86 52.0%,#30ae7d 52.6%,#50bf69 53.2%,#c6de2e 54.3%,#eee524 54.9%,#fbe724 55.5%,#fde725)"></i><i class="p4" style="top:861px;height:1px;background:linear-gradient(90deg,#33628d,#1fa088 12.9%,#2fb37c 15.8%,#56c666 18.7%,#d8e21c 24.5%,#f8e622 26.3%,#f9e722 34.5%,#f4e620 35.0%,#e7e41e 35.6%,#b7dd2c 36.8%,#54c467 39.1%,#31b47b 40.3%,#22a585 41.5%,#218e8d 45.0%,#23898d 50.8%,#249f86 52.0%,#2fae7d 52.6%,#4ebe6a 53.2%,#c2dd30 54.3%,#ece425 54.9%,#fae724 55.5%,#fde725)"></i><i class="p4" style="top:862px;height:1px;background:linear-gradient(90deg,#34618d,#1f9f88 12.9%,#2db27d 15.8%,#52c469 18.7%,#cae020 24.5%,#eee51d 26.3%,#f6e620 28.0%,#ebe51c 35.0%,#e1e31c 35.6%,#b3dd2e 36.8%,#53c468 39.1%,#31b37b 40.3%,#21a585 41.5%,#218e8d 45.0%,#23898d 50.8%,#239f87 52.0%,#2ead7e 52.6%,#4bbd6c 53.2%,#7fce4f 53.7%,#bddc32 54.3%,#e9e426 54.9%,#fae725 55.5%,#fde725)"></i><i class="p4" style="top:863px;height:1px;background:linear-gradient(90deg,#34608d,#1f9e88 12.9%,#31b47b 16.4%,#60ca60 19.9%,#d3e21d 25.7%,#ede51c 27.5%,#dde31a 35.0%,#d5e21d 35.6%,#addc31 36.8%,#50c369 39.1%,#30b37c 40.3%,#21a486 41.5%,#228c8d 45.6%,#23898d 50.8%,#239e87 52.0%,#2ead7e 52.6%,#49bc6d 53.2%,#7bcd52 53.7%,#b8db35 54.3%,#e6e427 54.9%,#f9e725 55.5%,#fde725)"></i><i class="p4" style="top:864px;height:1px;background:linear-gradient(90deg,#355f8d,#1f9d89 12.9%,#2fb37c 16.4%,#63cb5f 20.4%,#d6e21c 26.9%,#e3e41a 28.0%,#c4e023 35.6%,#a3da37 36.8%,#4dc26b 39.1%,#26aa82 40.9%,#1f978b 43.2%,#23898d 47.3%,#23898d 50.8%,#239e87 52.0%,#2dac7f 52.6%,#46bb6f 53.2%,#75cc55 53.7%,#b2da39 54.3%,#e3e329 54.9%,#f9e625 55.5%,#fde725 66.0%,#fde725)"></i><i class="p4" style="top:865px;height:1px;background:linear-gradient(90deg,#355e8d,#1f9c89 12.9%,#2db27d 16.4%,#64cb5e 21.0%,#d3e21c 28.0%,#d4e21b 29.8%,#afdc2f 35.6%,#96d83f 36.8%,#49c06e 39.1%,#25a983 40.9%,#1f968b 43.2%,#24888e 47.9%,#23898d 50.8%,#239e87 52.0%,#2cab7f 52.6%,#43ba71 53.2%,#70ca58 53.7%,#acd93c 54.3%,#e0e32a 54.9%,#f7e625 55.5%,#fde725 57.8%,#fde725)"></i><i class="p4" style="top:866px;height:1px;background:linear-gradient(90deg,#365d8d,#1f9e88 13.4%,#30b47c 16.9%,#7cd250 23.4%,#c7e021 28.6%,#c4e022 30.4%,#91d742 36.2%,#76d053 37.4%,#36b778 39.7%,#20a287 41.5%,#23888e 46.7%,#24898d 50.8%,#239d88 52.0%,#2bab80 52.6%,#41b972 53.2%,#6bc95a 53.7%,#a5d83d 54.3%,#d9e229 54.9%,#f5e624 55.5%,#fde725 56.7%,#fde725)"></i><i class="p4" style="top:867px;height:1px;background:linear-gradient(90deg,#365b8d,#1f9d89 13.4%,#2eb27d 16.9%,#80d34d 24.5%,#bbde28 29.2%,#b4dd2c 31.0%,#75d054 36.8%,#32b47b 39.7%,#20a087 41.5%,#24878e 46.7%,#24888d 50.8%,#229d88 52.0%,#2aaa81 52.6%,#3fb874 53.2%,#66c85d 53.7%,#d3e129 54.9%,#f2e523 55.5%,#fce724 56.1%,#fde725)"></i><i class="p4" style="top:868px;height:1px;background:linear-gradient(90deg,#375a8c,#1f9c89 13.4%,#2cb17e 16.9%,#89d547 26.3%,#afdc2f 29.8%,#9bd93c 32.1%,#5bc863 37.4%,#2eb27d 39.7%,#209f88 41.5%,#24868e 47.3%,#24888d 50.8%,#229c88 52.0%,#29aa81 52.6%,#3db775 53.2%,#61c65f 53.7%,#cde02a 54.9%,#efe524 55.5%,#fbe724 56.1%,#fde725)"></i><i class="p4" style="top:869px;height:1px;background:linear-gradient(90deg,#38598c,#1f9b8a 13.4%,#2ab07f 16.9%,#6ece59 24.5%,#a2da37 29.8%,#9fda39 31.0%,#45bf70 38.0%,#24a983 40.3%,#20928c 43.2%,#25858e 48.5%,#24888d 50.8%,#229c88 52.0%,#29a981 52.6%,#3bb776 53.2%,#5ec561 53.7%,#c8df2c 54.9%,#ede524 55.5%,#fbe724 56.1%,#fde725)"></i><i class="p4" style="top:870px;height:1px;background:linear-gradient(90deg,#38578c,#1f9d89 14.0%,#2db27d 17.5%,#72cf56 25.7%,#99d93d 30.4%,#46c06f 37.4%,#23a784 40.3%,#218f8d 43.8%,#25848e 49.1%,#24888d 50.8%,#229c88 52.0%,#28a982 52.6%,#39b676 53.2%,#5bc463 53.7%,#c4de2e 54.9%,#ebe425 55.5%,#fae724 56.1%,#fde725)"></i><i class="p4" style="top:871px;height:1px;background:linear-gradient(90deg,#39568c,#1f9c89 14.0%,#2bb17e 17.5%,#63cb5f 24.5%,#8fd744 30.4%,#38b977 38.0%,#21a585 40.3%,#218f8d 43.8%,#25848e 49.1%,#24888d 50.8%,#229c88 52.0%,#28a882 52.6%,#38b577 53.2%,#58c365 53.7%,#c0dd30 54.9%,#e9e426 55.5%,#fae725 56.1%,#fde725)"></i><i class="p4" style="top:872px;height:1px;background:linear-gradient(90deg,#3a548b,#1f9b8a 14.0%,#29af7f 17.5%,#5ac864 23.9%,#87d549 30.4%,#34b679 38.0%,#21a486 40.3%,#228c8d 44.4%,#25848e 49.6%,#22908c 51.4%,#27a882 52.6%,#37b578 53.2%,#56c366 53.7%,#bcdd32 54.9%,#e7e427 55.5%,#f9e725 56.1%,#fde725)"></i><i class="p4" style="top:873px;height:1px;background:linear-gradient(90deg,#3b528b,#1f9a8a 14.0%,#2cb17e 18.1%,#5cc863 25.1%,#7ed24f 30.4%,#2ab07f 38.6%,#1f998a 41.5%,#25838e 47.9%,#24888d 50.8%,#229b88 52.0%,#27a883 52.6%,#36b479 53.2%,#54c267 53.7%,#82d04d 54.3%,#b9dc34 54.9%,#e5e427 55.5%,#f8e625 56.1%,#fde725 63.1%,#fde725)"></i><i class="p4" style="top:874px;height:1px;background:linear-gradient(90deg,#3c4f8a,#228b8d 11.1%,#21a685 16.4%,#4ac16d 22.8%,#75d054 30.4%,#28ae80 38.6%,#1f988a 41.5%,#25838e 47.9%,#24878d 50.8%,#219b89 52.0%,#27a783 52.6%,#35b479 53.2%,#52c168 53.7%,#7fd04f 54.3%,#b4db35 54.9%,#e1e326 55.5%,#f7e624 56.1%,#fde725 57.8%,#fde725)"></i><i class="p4" style="top:875px;height:1px;background:linear-gradient(90deg,#3d4d8a,#24888e 10.5%,#21a486 16.4%,#48c16e 23.4%,#6cce59 30.4%,#26ac82 38.6%,#20948c 42.1%,#25838e 47.9%,#24878d 50.8%,#219b89 52.0%,#26a783 52.6%,#35b479 53.2%,#50c169 53.7%,#7ccf50 54.3%,#b1db36 54.9%,#dee326 55.5%,#f5e623 56.1%,#fde725 57.2%,#fde725)"></i><i class="p4" style="top:876px;height:1px;background:linear-gradient(90deg,#3e4a89,#25858e 9.9%,#21a685 16.9%,#44bf70 23.4%,#64cb5e 30.4%,#24aa83 38.6%,#20918c 42.6%,#25838e 48.5%,#24878d 50.8%,#219a89 52.0%,#26a783 52.6%,#34b37a 53.2%,#4ec06a 53.7%,#79ce52 54.3%,#adda37 54.9%,#dae226 55.5%,#f4e623 56.1%,#fde725 57.2%,#fde725)"></i><i class="p4" style="top:877px;height:1px;background:linear-gradient(90deg,#3f4788,#26818e 9.3%,#21a586 16.9%,#42be71 23.9%,#5cc963 30.4%,#23a884 38.6%,#228d8d 43.8%,#26838e 49.1%,#24878e 50.8%,#26a683 52.6%,#33b37a 53.2%,#4dc06b 53.7%,#76ce53 54.3%,#a9da38 54.9%,#d7e226 55.5%,#f2e623 56.1%,#fde725 57.2%,#fde725)"></i><i class="p4" style="top:878px;height:1px;background:linear-gradient(90deg,#404587,#26818e 9.3%,#20a386 16.9%,#3ebc74 23.9%,#56c667 30.4%,#22a784 38.6%,#24868e 45.6%,#24868e 50.8%,#26a684 52.6%,#33b27b 53.2%,#4cbf6c 53.7%,#74cd54 54.3%,#a6d939 54.9%,#d5e127 55.5%,#f1e523 56.1%,#fbe724 56.7%,#fde725)"></i><i class="p4" style="top:879px;height:2px;background:linear-gradient(90deg,#424186,#287d8e 8.8%,#1fa287 16.9%,#3bba75 24.5%,#4dc36c 30.4%,#21a585 38.6%,#25848e 46.1%,#24868e 50.8%,#25a584 52.6%,#32b27b 53.2%,#4abf6d 53.7%,#71cc56 54.3%,#d1e128 55.5%,#f0e523 56.1%,#fbe724 56.7%,#fde725)"></i><i class="p4" style="top:881px;height:2px;background:linear-gradient(90deg,#433c84,#29798e 8.2%,#20a287 17.5%,#37b878 25.1%,#42be71 31.0%,#21a685 38.0%,#25848e 46.1%,#25868e 50.8%,#25a584 52.6%,#31b17c 53.2%,#48be6e 53.7%,#6ecb58 54.3%,#cde029 55.5%,#eee524 56.1%,#fbe724 56.7%,#fde725)"></i><i class="p4" style="top:883px;height:3px;background:linear-gradient(90deg,#453782,#2d708e 7.0%,#1fa188 17.5%,#33b67a 25.1%,#3cbb75 31.0%,#20a287 38.6%,#26828e 46.7%,#25858e 50.8%,#24a485 52.6%,#2fb07d 53.2%,#46bd6f 53.7%,#6aca5a 54.3%,#c9df2b 55.5%,#ece524 56.1%,#fae724 56.7%,#fde725)"></i><i class="p4" style="top:886px;height:3px;background:linear-gradient(90deg,#46327e,#30698e 6.4%,#1f9e88 17.5%,#2fb47c 25.1%,#35b778 31.5%,#1f9c89 39.7%,#26818e 46.7%,#25848e 50.8%,#24a286 52.6%,#2eae7e 53.2%,#43bb71 53.7%,#65c95d 54.3%,#c5df2d 55.5%,#eae425 56.1%,#fae725 56.7%,#fde725)"></i><i class="p4" style="top:889px;height:4px;background:linear-gradient(90deg,#472c7b,#433e84 2.3%,#2e6d8e 7.6%,#1f9e89 18.1%,#2cb27d 25.1%,#30b47b 32.1%,#1f9d89 39.7%,#26828e 46.1%,#26828e 50.8%,#23a087 52.6%,#2cad7f 53.2%,#3fba73 53.7%,#60c760 54.3%,#c0de2f 55.5%,#e7e425 56.1%,#f9e624 56.7%,#fde725 69.5%,#fde725)"></i><i class="p4" style="top:893px;height:4px;background:linear-gradient(90deg,#482676,#443882 2.3%,#306a8e 7.6%,#1f9c89 18.1%,#2ab07f 25.1%,#2cb17e 32.7%,#1f998a 40.3%,#27808e 46.7%,#26828e 50.8%,#229e87 52.6%,#2aab80 53.2%,#3cb875 53.7%,#5cc662 54.3%,#badd31 55.5%,#e2e325 56.1%,#f7e623 56.7%,#fde725 59.0%,#fde725)"></i><i class="p4" style="top:897px;height:5px;background:linear-gradient(90deg,#482071,#453580 2.3%,#34608d 6.4%,#20938c 15.8%,#25ab82 22.8%,#29af80 32.1%,#1f988b 39.7%,#26808e 45.6%,#26828e 50.8%,#229e87 52.6%,#29ab81 53.2%,#3bb776 53.7%,#58c464 54.3%,#b3dc33 55.5%,#dde325 56.1%,#f4e623 56.7%,#fde725 57.8%,#fde725)"></i><i class="p4" style="top:902px;height:5px;background:linear-gradient(90deg,#48196b,#46327e 2.3%,#37598c 5.8%,#277f8e 11.7%,#20a386 20.4%,#28ae80 28.0%,#1fa187 36.2%,#26828e 43.8%,#27808e 50.2%,#21948b 52.0%,#29ab81 53.2%,#39b777 53.7%,#55c366 54.3%,#acda35 55.5%,#d7e225 56.1%,#f2e623 56.7%,#fde725 57.8%,#fde725)"></i><i class="p4" style="top:907px;height:5px;background:linear-gradient(90deg,#481466,#462f7c 2.3%,#3a528b 5.3%,#297b8e 11.1%,#1fa287 20.4%,#26ac81 29.2%,#20948c 38.0%,#26818e 43.2%,#27808e 50.2%,#21948b 52.0%,#29ab81 53.2%,#39b777 53.7%,#53c368 54.3%,#a6d938 55.5%,#d2e127 56.1%,#efe523 56.7%,#fbe724 57.2%,#fde725)"></i><i class="p4" style="top:912px;height:2px;background:linear-gradient(90deg,#471063,#472a79 2.3%,#3e4b89 4.7%,#2a798e 11.1%,#1f9e89 19.9%,#23a983 28.0%,#1f958b 37.4%,#26818e 42.6%,#27808e 50.2%,#21958b 52.0%,#29ab81 53.2%,#38b777 53.7%,#51c268 54.3%,#a1d93a 55.5%,#cde029 56.1%,#ede524 56.7%,#fae724 57.2%,#fde725)"></i><i class="p4" style="top:914px;height:2px;background:linear-gradient(90deg,#470e61,#482373 2.3%,#3f4788 4.7%,#2b768e 11.1%,#1f998a 19.3%,#21a685 26.3%,#1fa187 32.7%,#277f8e 43.8%,#25838e 50.8%,#22a087 52.6%,#38b777 53.7%,#51c269 54.3%,#9ed83c 55.5%,#c9e02a 56.1%,#eae523 56.7%,#f9e724 57.2%,#fde725)"></i><i class="p4" style="top:916px;height:2px;background:linear-gradient(90deg,#460b5f,#481a6c 2.3%,#3f4788 5.3%,#2b768e 11.7%,#1f988b 19.9%,#20a486 28.0%,#1f978b 36.2%,#277f8e 43.2%,#26818e 50.2%,#21958b 52.0%,#29ac80 53.2%,#38b777 53.7%,#50c269 54.3%,#9bd73e 55.5%,#c5df2a 56.1%,#e6e423 56.7%,#f8e623 57.2%,#fde725 60.7%,#fde725)"></i><i class="p4" style="top:918px;height:1px;background:linear-gradient(90deg,#46095d,#481b6c 2.9%,#414286 5.3%,#2d708e 11.1%,#1f958b 19.9%,#1fa287 28.0%,#1f988b 35.0%,#287e8e 43.8%,#25858e 50.8%,#22a187 52.6%,#38b777 53.7%,#50c26a 54.3%,#98d73f 55.5%,#c1df2b 56.1%,#e4e422 56.7%,#f6e623 57.2%,#fde725 59.0%,#fde725)"></i><i class="p4" style="top:919px;height:1px;background:linear-gradient(90deg,#46095c,#481668 2.9%,#404487 5.8%,#2d718e 11.7%,#20948c 19.9%,#1fa188 28.6%,#21918c 37.4%,#287d8e 44.4%,#25858e 50.8%,#22a186 52.6%,#38b777 53.7%,#4fc26a 54.3%,#97d740 55.5%,#bfde2c 56.1%,#e1e322 56.7%,#f5e622 57.2%,#fde725 58.4%,#fde725)"></i><i class="p4" style="top:920px;height:1px;background:linear-gradient(90deg,#46085b,#481769 3.5%,#423f85 5.8%,#2e6e8e 11.7%,#20938c 20.4%,#1f9f88 29.2%,#23898d 39.1%,#287b8e 45.6%,#24868e 50.8%,#22a186 52.6%,#38b777 53.7%,#4fc26a 54.3%,#95d641 55.5%,#bdde2c 56.1%,#dfe322 56.7%,#f4e622 57.2%,#fde725 58.4%,#fde725)"></i><i class="p4" style="top:921px;height:1px;background:linear-gradient(90deg,#46075b,#471365 3.5%,#414286 6.4%,#2c728e 12.9%,#20938c 21.0%,#1f9e89 30.4%,#287c8e 45.0%,#24868e 50.8%,#22a186 52.6%,#38b777 53.7%,#4fc26a 54.3%,#93d641 55.5%,#bbde2d 56.1%,#dee322 56.7%,#f4e622 57.2%,#fde725 58.4%,#fde725)"></i><i class="p4" style="top:922px;height:1px;background:linear-gradient(90deg,#45065a,#471466 4.1%,#414487 7.0%,#2d708e 12.9%,#20918c 21.0%,#1e9c89 30.4%,#287b8e 45.6%,#24878e 50.8%,#22a286 52.6%,#38b777 53.7%,#4ec26a 54.3%,#92d642 55.5%,#b9dd2e 56.1%,#dce323 56.7%,#f3e622 57.2%,#fde725 58.4%,#fde725)"></i><i class="p4" style="top:923px;height:1px;background:linear-gradient(90deg,#450659,#470f62 4.1%,#404587 7.6%,#2d708e 13.4%,#21908c 21.6%,#1f9a8a 31.0%,#297b8e 45.6%,#24888e 50.8%,#22a286 52.6%,#38b777 53.7%,#6ccc59 54.9%,#b6dd2f 56.1%,#dae223 56.7%,#f2e622 57.2%,#fde725 58.4%,#fde725)"></i><i class="p4" style="top:924px;height:1px;background:linear-gradient(90deg,#450558,#471062 4.7%,#423f85 7.6%,#2e6e8e 13.4%,#218f8d 21.6%,#1f988b 31.5%,#297b8e 45.6%,#24888d 50.8%,#22a286 52.6%,#38b777 53.7%,#6ccc59 54.9%,#b5dd2f 56.1%,#d8e223 56.7%,#f1e522 57.2%,#fbe724 57.8%,#fde725)"></i><i class="p4" style="top:925px;height:1px;background:linear-gradient(90deg,#450458,#471062 5.3%,#414186 8.2%,#2e6e8e 14.0%,#218e8d 22.2%,#1f968b 32.1%,#297a8e 45.6%,#23898d 50.8%,#23a386 52.6%,#38b777 53.7%,#6bcc5a 54.9%,#b2dc31 56.1%,#d6e224 56.7%,#f0e522 57.2%,#fbe724 57.8%,#fde725)"></i><i class="p4" style="top:926px;height:1px;background:linear-gradient(90deg,#450457,#460b5f 5.3%,#472474 7.0%,#3e4989 9.3%,#2d718e 15.2%,#228d8d 22.8%,#1f948c 32.7%,#297a8e 45.6%,#23898d 50.8%,#23a386 52.6%,#39b777 53.7%,#6acc5a 54.9%,#b0dc31 56.1%,#d4e124 56.7%,#eee522 57.2%,#fae724 57.8%,#fde725)"></i><i class="p4" style="top:927px;height:1px;background:linear-gradient(90deg,#450457,#460b5e 5.8%,#433c83 8.8%,#32658e 13.4%,#228c8d 22.8%,#20938c 32.7%,#297a8e 46.1%,#238a8d 50.8%,#23a385 52.6%,#39b777 53.7%,#69cb5b 54.9%,#aedc32 56.1%,#d1e125 56.7%,#ece521 57.2%,#f9e723 57.8%,#fde725)"></i><i class="p4" style="top:928px;height:1px;background:linear-gradient(90deg,#450356,#460b5f 6.4%,#423e84 9.3%,#30698e 14.6%,#228b8d 23.4%,#20918c 33.3%,#297a8e 46.1%,#238b8d 50.8%,#23a385 52.6%,#38b777 53.7%,#69cb5b 54.9%,#cfe125 56.7%,#ebe521 57.2%,#f9e623 57.8%,#fde725 66.0%,#fde725)"></i><i class="p4" style="top:929px;height:1px;background:linear-gradient(90deg,#450356,#460c5f 7.0%,#424085 9.9%,#2e6d8e 15.8%,#238b8d 23.9%,#218f8d 33.9%,#297a8e 46.1%,#238b8d 50.8%,#23a485 52.6%,#38b777 53.7%,#67cb5c 54.9%,#cde025 56.7%,#e9e421 57.2%,#f8e623 57.8%,#fde725 61.9%,#fde725)"></i><i class="p4" style="top:930px;height:1px;background:linear-gradient(90deg,#440256,#46085b 7.0%,#472172 8.8%,#414186 10.5%,#2e6d8e 16.4%,#238a8d 24.5%,#228d8d 34.5%,#297a8e 46.1%,#228c8d 50.8%,#23a485 52.6%,#38b777 53.7%,#67cb5c 54.9%,#cae026 56.7%,#e7e421 57.2%,#f7e622 57.8%,#fde725 60.2%,#fde725)"></i><i class="p4" style="top:931px;height:1px;background:linear-gradient(90deg,#440255,#46085b 7.6%,#46307c 9.9%,#3c4e8a 12.3%,#2d708e 17.5%,#23898d 25.1%,#238a8d 35.0%,#297a8e 46.1%,#228c8d 50.8%,#23a485 52.6%,#38b777 53.7%,#66cb5c 54.9%,#c8e026 56.7%,#e5e420 57.2%,#f6e622 57.8%,#fde725 59.6%,#fde725)"></i><i class="p4" style="top:932px;height:1px;background:linear-gradient(90deg,#440255,#46085b 8.2%,#433d84 11.1%,#32658e 15.8%,#23888e 25.1%,#23898d 35.0%,#29798e 45.6%,#228d8d 50.8%,#23a585 52.6%,#38b777 53.7%,#65ca5d 54.9%,#c6e027 56.7%,#e3e420 57.2%,#f5e622 57.8%,#fde725 59.0%,#fde725)"></i><i class="p4" style="top:933px;height:1px;background:linear-gradient(90deg,#440154,#450558 8.2%,#471265 9.3%,#423f85 11.7%,#30698e 16.9%,#24888e 25.7%,#24878e 35.6%,#29798e 45.6%,#228d8d 50.8%,#23a585 52.6%,#38b777 53.7%,#65ca5d 54.9%,#c4df27 56.7%,#e1e320 57.2%,#f4e622 57.8%,#fde725 59.0%,#fde725)"></i><i class="p4" style="top:934px;height:1px;background:linear-gradient(90deg,#440154,#450558 8.8%,#472272 10.5%,#414286 12.3%,#306a8e 17.5%,#24878e 25.7%,#24878e 35.6%,#29798e 45.0%,#24878e 49.6%,#209c89 52.0%,#2bae7f 53.2%,#4cc16c 54.3%,#a2d939 56.1%,#c2df28 56.7%,#e0e321 57.2%,#f4e622 57.8%,#fde725 59.0%,#fde725)"></i><i class="p4" style="top:935px;height:1px;background:linear-gradient(90deg,#440154,#45075a 9.3%,#433c83 12.3%,#32658e 16.9%,#24878e 26.3%,#25858e 36.2%,#29798e 45.0%,#24878e 49.6%,#209c89 52.0%,#2baf7f 53.2%,#4cc16c 54.3%,#a0d939 56.1%,#c0df29 56.7%,#dee321 57.2%,#f3e622 57.8%,#fde725 59.0%,#fde725)"></i><i class="p4" style="top:936px;height:1px;background:linear-gradient(90deg,#440154,#450457 9.3%,#471e6f 11.1%,#424085 12.9%,#30698e 18.1%,#24868e 26.3%,#25848e 36.2%,#29798e 44.4%,#26828e 48.5%,#20948b 51.4%,#24a684 52.6%,#39b877 53.7%,#64ca5e 54.9%,#bfde29 56.7%,#dde321 57.2%,#f2e622 57.8%,#fde725 59.0%,#fde725)"></i><i class="p4" style="top:937px;height:1px;background:linear-gradient(90deg,#440154,#450558 9.9%,#433a82 12.9%,#365c8d 16.4%,#25838e 25.1%,#25858e 35.6%,#2a798e 43.8%,#27808e 47.9%,#20958b 51.4%,#24a684 52.6%,#39b877 53.7%,#63ca5e 54.9%,#bdde2a 56.7%,#dbe321 57.2%,#f1e622 57.8%,#fde725 59.0%,#fde725)"></i><i class="p4" style="top:938px;height:2px;background:linear-gradient(90deg,#440154,#440255 9.9%,#460f61 11.1%,#433d84 13.4%,#32658e 18.1%,#25858e 27.5%,#26808e 37.4%,#2a788e 45.0%,#25858e 49.1%,#20958b 51.4%,#24a684 52.6%,#39b877 53.7%,#62c95f 54.9%,#bbde2b 56.7%,#d9e221 57.2%,#efe521 57.8%,#fae723 58.4%,#fde725)"></i><i class="p4" style="top:940px;height:2px;background:linear-gradient(90deg,#440154,#440355 10.5%,#471163 11.7%,#423f85 14.0%,#30698e 19.3%,#25858e 28.0%,#27808e 37.4%,#2a788e 44.4%,#277f8e 47.9%,#20958b 51.4%,#24a684 52.6%,#39b877 53.7%,#62c95f 54.9%,#b8dd2c 56.7%,#d5e222 57.2%,#ede520 57.8%,#f9e723 58.4%,#fde725 76.5%,#fde725)"></i><i class="p4" style="top:942px;height:3px;background:linear-gradient(90deg,#440154,#450457 11.1%,#462d7b 13.4%,#3f4888 15.2%,#2f6c8e 20.4%,#25858e 28.0%,#27808e 37.4%,#2a788e 43.8%,#277f8e 47.9%,#20958b 51.4%,#24a684 52.6%,#39b877 53.7%,#61c960 54.9%,#d2e122 57.2%,#eae520 57.8%,#f8e622 58.4%,#fde725 62.5%,#fde725)"></i><i class="p4" style="top:945px;height:3px;background:linear-gradient(90deg,#440154,#450558 11.7%,#433c83 14.6%,#34618d 18.7%,#25848e 28.0%,#26818e 37.4%,#2a788e 43.8%,#277f8e 47.9%,#20958b 51.4%,#2baf7f 53.2%,#49c06e 54.3%,#94d741 56.1%,#cee123 57.2%,#e7e41f 57.8%,#f6e622 58.4%,#fde725 60.2%,#fde725)"></i><i class="p4" style="top:948px;height:4px;background:linear-gradient(90deg,#440154,#440356 11.7%,#471e6f 13.4%,#423f85 15.2%,#30698e 20.4%,#25858e 29.2%,#277f8e 38.0%,#2a788e 45.0%,#25858e 49.1%,#209d89 52.0%,#2aae7f 53.2%,#46bf6f 54.3%,#8fd643 56.1%,#cae024 57.2%,#e4e41f 57.8%,#f5e622 58.4%,#fde725 59.6%,#fde725)"></i><i class="p4" style="top:952px;height:3px;background:linear-gradient(90deg,#440154,#450558 12.3%,#433c83 15.2%,#32658e 19.9%,#25858e 29.2%,#277f8e 38.0%,#2a788e 44.4%,#277f8e 47.9%,#20958b 51.4%,#29ad80 53.2%,#44be70 54.3%,#8bd546 56.1%,#c5e026 57.2%,#f4e622 58.4%,#fde725 59.6%,#fde725)"></i><svg width="685" height="988" viewBox="0 0 685 988">
<text x="193.60" y="12.30" font-size="12.6" text-anchor="middle" font-family='"Liberation Sans", sans-serif' fill="#262626" textLength="137.50" lengthAdjust="spacingAndGlyphs" >Amplitude of ULF wave</text>
<text x="538.80" y="12.30" font-size="12.6" text-anchor="middle" font-family='"Liberation Sans", sans-serif' fill="#262626" textLength="170.00" lengthAdjust="spacingAndGlyphs" >Magnetic field variation rate</text>
<clipPath id="cl0"><rect x="53.55" y="17.60" width="279.75" height="101.60"/></clipPath>
<g clip-path="url(#cl0)">
<polyline points="53.5,68.4 333.3,68.4" fill="none" stroke="#c0343e" stroke-width="1.9" stroke-linejoin="round" stroke-linecap="butt"/>
<polyline points="53.5,68.4 54.6,74.2 55.7,78.9 57.0,83.3 58.3,86.6 59.6,88.9 60.2,89.8 61.1,90.7 61.9,91.3 62.8,91.8 63.7,92.0 64.5,92.0 65.6,91.9 66.7,91.6 69.0,90.6 71.6,89.0 77.7,84.8 80.9,82.7 84.3,80.8 87.6,79.3 92.9,77.2 98.3,75.4 104.1,73.9 110.1,72.6 116.6,71.6 123.7,70.8 131.7,70.1 140.7,69.6 151.0,69.2 162.9,68.9 177.1,68.7 193.4,68.7 209.6,68.7 223.8,68.9 235.6,69.2 245.9,69.6 255.0,70.1 262.9,70.7 270.0,71.6 276.5,72.6 282.5,73.8 288.1,75.3 293.5,77.0 298.9,79.1 302.1,80.5 305.8,82.6 309.0,84.7 315.4,89.1 318.0,90.7 319.3,91.3 320.6,91.8 321.7,92.0 322.8,92.0 323.6,91.9 324.5,91.6 325.3,91.1 326.0,90.5 326.8,89.5 327.5,88.6 328.8,86.1 330.1,82.7 331.1,78.9 332.2,74.2 333.3,68.4" fill="none" stroke="#2323b0" stroke-width="1.9" stroke-linejoin="round" stroke-linecap="butt"/>
</g>
<rect x="53.55" y="18.60" width="279.75" height="99.60" fill="none" stroke="#333" stroke-width="1.0"/>
<line x1="49.85" y1="18.60" x2="53.55" y2="18.60" stroke="#333" stroke-width="1.0"/>
<text x="45.25" y="22.50" font-size="10.4" text-anchor="end" font-family='"Liberation Sans", sans-serif' fill="#262626" textLength="19.08" lengthAdjust="spacingAndGlyphs" >500</text>
<line x1="49.85" y1="43.50" x2="53.55" y2="43.50" stroke="#333" stroke-width="1.0"/>
<text x="45.25" y="47.40" font-size="10.4" text-anchor="end" font-family='"Liberation Sans", sans-serif' fill="#262626" textLength="19.08" lengthAdjust="spacingAndGlyphs" >250</text>
<line x1="49.85" y1="68.40" x2="53.55" y2="68.40" stroke="#333" stroke-width="1.0"/>
<text x="45.25" y="72.30" font-size="10.4" text-anchor="end" font-family='"Liberation Sans", sans-serif' fill="#262626" textLength="6.36" lengthAdjust="spacingAndGlyphs" >0</text>
<line x1="49.85" y1="93.30" x2="53.55" y2="93.30" stroke="#333" stroke-width="1.0"/>
<text x="45.25" y="97.20" font-size="10.4" text-anchor="end" font-family='"Liberation Sans", sans-serif' fill="#262626" textLength="27.46" lengthAdjust="spacingAndGlyphs" >−250</text>
<line x1="49.85" y1="118.20" x2="53.55" y2="118.20" stroke="#333" stroke-width="1.0"/>
<text x="45.25" y="122.10" font-size="10.4" text-anchor="end" font-family='"Liberation Sans", sans-serif' fill="#262626" textLength="27.46" lengthAdjust="spacingAndGlyphs" >−500</text>
<line x1="64.31" y1="118.20" x2="64.31" y2="121.90" stroke="#333" stroke-width="1.0"/>
<text x="64.31" y="132.60" font-size="10.4" text-anchor="middle" font-family='"Liberation Sans", sans-serif' fill="#262626" textLength="21.10" lengthAdjust="spacingAndGlyphs" >−60</text>
<line x1="107.35" y1="118.20" x2="107.35" y2="121.90" stroke="#333" stroke-width="1.0"/>
<text x="107.35" y="132.60" font-size="10.4" text-anchor="middle" font-family='"Liberation Sans", sans-serif' fill="#262626" textLength="21.10" lengthAdjust="spacingAndGlyphs" >−40</text>
<line x1="150.39" y1="118.20" x2="150.39" y2="121.90" stroke="#333" stroke-width="1.0"/>
<text x="150.39" y="132.60" font-size="10.4" text-anchor="middle" font-family='"Liberation Sans", sans-serif' fill="#262626" textLength="21.10" lengthAdjust="spacingAndGlyphs" >−20</text>
<line x1="193.43" y1="118.20" x2="193.43" y2="121.90" stroke="#333" stroke-width="1.0"/>
<text x="193.43" y="132.60" font-size="10.4" text-anchor="middle" font-family='"Liberation Sans", sans-serif' fill="#262626" textLength="6.36" lengthAdjust="spacingAndGlyphs" >0</text>
<line x1="236.46" y1="118.20" x2="236.46" y2="121.90" stroke="#333" stroke-width="1.0"/>
<text x="236.46" y="132.60" font-size="10.4" text-anchor="middle" font-family='"Liberation Sans", sans-serif' fill="#262626" textLength="12.72" lengthAdjust="spacingAndGlyphs" >20</text>
<line x1="279.50" y1="118.20" x2="279.50" y2="121.90" stroke="#333" stroke-width="1.0"/>
<text x="279.50" y="132.60" font-size="10.4" text-anchor="middle" font-family='"Liberation Sans", sans-serif' fill="#262626" textLength="12.72" lengthAdjust="spacingAndGlyphs" >40</text>
<line x1="322.54" y1="118.20" x2="322.54" y2="121.90" stroke="#333" stroke-width="1.0"/>
<text x="322.54" y="132.60" font-size="10.4" text-anchor="middle" font-family='"Liberation Sans", sans-serif' fill="#262626" textLength="12.72" lengthAdjust="spacingAndGlyphs" >60</text>
<text transform="translate(9.9 62.80) rotate(-90)" text-anchor="middle" font-family='"Liberation Sans", sans-serif' font-size="11" fill="#262626" textLength="60.5" lengthAdjust="spacingAndGlyphs"><tspan font-style="italic">B</tspan><tspan font-size="7.7" font-style="italic" dy="2.2">ϕ</tspan><tspan dy="-2.2">,  </tspan><tspan font-style="italic">B</tspan><tspan font-size="7.7" font-style="italic" dy="2.2">μ</tspan><tspan dy="-2.2"> [nT]</tspan></text>
<text x="4.40" y="17.80" font-size="14.5" text-anchor="start" font-family='"Liberation Sans", sans-serif' fill="#000" >a)</text>
<text x="66.45" y="39.50" font-family='"Liberation Serif", serif' font-size="16.5" fill="#000" textLength="34.75" lengthAdjust="spacing"><tspan font-style="italic">t</tspan> = 0</text>
<clipPath id="cl1"><rect x="53.55" y="149.15" width="279.75" height="101.60"/></clipPath>
<g clip-path="url(#cl1)">
<polyline points="53.5,200.0 54.6,204.1 55.7,207.4 57.0,210.5 58.3,212.8 59.6,214.5 60.2,215.1 61.1,215.7 61.9,216.2 62.8,216.5 64.5,216.7 65.6,216.6 66.7,216.4 69.0,215.6 71.6,214.5 77.7,211.5 80.9,210.1 84.3,208.7 87.6,207.6 92.9,206.2 98.3,204.9 104.1,203.8 110.1,202.9 116.6,202.2 123.7,201.6 131.7,201.1 140.7,200.8 162.9,200.3 193.4,200.2 223.8,200.3 245.9,200.8 255.0,201.1 262.9,201.6 270.0,202.2 276.5,202.9 282.5,203.8 288.1,204.8 293.5,206.0 298.9,207.5 302.1,208.5 305.8,210.0 309.0,211.4 315.4,214.6 318.0,215.7 320.6,216.5 321.7,216.6 322.8,216.7 323.6,216.6 324.5,216.3 326.0,215.6 326.8,214.9 327.5,214.2 328.8,212.5 330.1,210.1 331.1,207.4 332.2,204.1 333.3,200.0" fill="none" stroke="#2323b0" stroke-width="1.9" stroke-linejoin="round" stroke-linecap="butt"/>
<polyline points="53.5,163.9 55.3,167.0 57.2,170.2 59.1,172.9 61.1,175.3 63.2,177.7 65.6,180.0 68.2,182.1 70.8,184.0 73.6,185.7 76.6,187.3 79.8,188.7 83.0,190.0 86.7,191.2 90.6,192.3 94.7,193.2 99.2,194.1 107.1,195.4 116.4,196.4 126.9,197.3 139.4,198.1 151.0,198.6 164.8,199.1 229.8,201.0 245.1,201.7 258.0,202.4 270.0,203.4 280.1,204.6 289.0,206.0 292.8,206.8 296.5,207.7 299.7,208.6 303.0,209.6 306.0,210.7 308.8,211.9 311.4,213.2 313.9,214.6 316.3,216.1 318.7,217.8 320.8,219.5 322.8,221.3 324.7,223.3 326.6,225.6 328.4,227.9 330.1,230.4 331.8,233.2 333.3,236.0" fill="none" stroke="#c0343e" stroke-width="1.9" stroke-linejoin="round" stroke-linecap="butt"/>
</g>
<rect x="53.55" y="150.15" width="279.75" height="99.60" fill="none" stroke="#333" stroke-width="1.0"/>
<line x1="49.85" y1="150.15" x2="53.55" y2="150.15" stroke="#333" stroke-width="1.0"/>
<text x="45.25" y="154.05" font-size="10.4" text-anchor="end" font-family='"Liberation Sans", sans-serif' fill="#262626" textLength="19.08" lengthAdjust="spacingAndGlyphs" >500</text>
<line x1="49.85" y1="175.05" x2="53.55" y2="175.05" stroke="#333" stroke-width="1.0"/>
<text x="45.25" y="178.95" font-size="10.4" text-anchor="end" font-family='"Liberation Sans", sans-serif' fill="#262626" textLength="19.08" lengthAdjust="spacingAndGlyphs" >250</text>
<line x1="49.85" y1="199.95" x2="53.55" y2="199.95" stroke="#333" stroke-width="1.0"/>
<text x="45.25" y="203.85" font-size="10.4" text-anchor="end" font-family='"Liberation Sans", sans-serif' fill="#262626" textLength="6.36" lengthAdjust="spacingAndGlyphs" >0</text>
<line x1="49.85" y1="224.85" x2="53.55" y2="224.85" stroke="#333" stroke-width="1.0"/>
<text x="45.25" y="228.75" font-size="10.4" text-anchor="end" font-family='"Liberation Sans", sans-serif' fill="#262626" textLength="27.46" lengthAdjust="spacingAndGlyphs" >−250</text>
<line x1="49.85" y1="249.75" x2="53.55" y2="249.75" stroke="#333" stroke-width="1.0"/>
<text x="45.25" y="253.65" font-size="10.4" text-anchor="end" font-family='"Liberation Sans", sans-serif' fill="#262626" textLength="27.46" lengthAdjust="spacingAndGlyphs" >−500</text>
<line x1="64.31" y1="249.75" x2="64.31" y2="253.45" stroke="#333" stroke-width="1.0"/>
<text x="64.31" y="264.15" font-size="10.4" text-anchor="middle" font-family='"Liberation Sans", sans-serif' fill="#262626" textLength="21.10" lengthAdjust="spacingAndGlyphs" >−60</text>
<line x1="107.35" y1="249.75" x2="107.35" y2="253.45" stroke="#333" stroke-width="1.0"/>
<text x="107.35" y="264.15" font-size="10.4" text-anchor="middle" font-family='"Liberation Sans", sans-serif' fill="#262626" textLength="21.10" lengthAdjust="spacingAndGlyphs" >−40</text>
<line x1="150.39" y1="249.75" x2="150.39" y2="253.45" stroke="#333" stroke-width="1.0"/>
<text x="150.39" y="264.15" font-size="10.4" text-anchor="middle" font-family='"Liberation Sans", sans-serif' fill="#262626" textLength="21.10" lengthAdjust="spacingAndGlyphs" >−20</text>
<line x1="193.43" y1="249.75" x2="193.43" y2="253.45" stroke="#333" stroke-width="1.0"/>
<text x="193.43" y="264.15" font-size="10.4" text-anchor="middle" font-family='"Liberation Sans", sans-serif' fill="#262626" textLength="6.36" lengthAdjust="spacingAndGlyphs" >0</text>
<line x1="236.46" y1="249.75" x2="236.46" y2="253.45" stroke="#333" stroke-width="1.0"/>
<text x="236.46" y="264.15" font-size="10.4" text-anchor="middle" font-family='"Liberation Sans", sans-serif' fill="#262626" textLength="12.72" lengthAdjust="spacingAndGlyphs" >20</text>
<line x1="279.50" y1="249.75" x2="279.50" y2="253.45" stroke="#333" stroke-width="1.0"/>
<text x="279.50" y="264.15" font-size="10.4" text-anchor="middle" font-family='"Liberation Sans", sans-serif' fill="#262626" textLength="12.72" lengthAdjust="spacingAndGlyphs" >40</text>
<line x1="322.54" y1="249.75" x2="322.54" y2="253.45" stroke="#333" stroke-width="1.0"/>
<text x="322.54" y="264.15" font-size="10.4" text-anchor="middle" font-family='"Liberation Sans", sans-serif' fill="#262626" textLength="12.72" lengthAdjust="spacingAndGlyphs" >60</text>
<text transform="translate(9.9 199.50) rotate(-90)" text-anchor="middle" font-family='"Liberation Sans", sans-serif' font-size="11" fill="#262626" textLength="60.5" lengthAdjust="spacingAndGlyphs"><tspan font-style="italic">B</tspan><tspan font-size="7.7" font-style="italic" dy="2.2">ϕ</tspan><tspan dy="-2.2">,  </tspan><tspan font-style="italic">B</tspan><tspan font-size="7.7" font-style="italic" dy="2.2">μ</tspan><tspan dy="-2.2"> [nT]</tspan></text>
<text x="4.70" y="156.50" font-size="14.5" text-anchor="start" font-family='"Liberation Sans", sans-serif' fill="#000" >b)</text>
<text x="67.10" y="168.70" font-family='"Liberation Serif", serif' font-size="16.5" fill="#000" textLength="56.30" lengthAdjust="spacing"><tspan font-style="italic">t</tspan> = <tspan font-style="italic">T</tspan><tspan font-size="11.5" dy="3.3">0</tspan><tspan dy="-3.3">/8</tspan></text>
<clipPath id="cl2"><rect x="53.55" y="280.70" width="279.75" height="101.60"/></clipPath>
<g clip-path="url(#cl2)">
<polyline points="53.5,331.5 333.3,331.5" fill="none" stroke="#2323b0" stroke-width="1.9" stroke-linejoin="round" stroke-linecap="butt"/>
<polyline points="53.5,280.5 55.3,285.0 57.2,289.4 59.1,293.3 61.1,296.7 63.2,300.0 65.6,303.3 68.2,306.3 70.8,308.9 73.6,311.3 76.6,313.6 79.8,315.6 83.0,317.4 86.7,319.1 90.6,320.6 94.7,322.0 99.2,323.2 103.0,324.2 107.1,325.0 116.4,326.5 126.9,327.8 139.4,328.9 151.0,329.6 164.8,330.3 212.8,332.3 229.8,333.0 245.1,333.9 258.0,335.0 264.2,335.7 270.0,336.4 275.2,337.2 280.1,338.1 284.7,339.0 289.0,340.1 292.8,341.2 296.5,342.5 299.7,343.7 303.0,345.2 306.0,346.8 308.8,348.4 311.4,350.2 313.9,352.2 316.3,354.3 318.7,356.7 320.8,359.2 322.8,361.7 324.7,364.6 326.6,367.8 328.4,371.0 330.1,374.5 331.8,378.6 333.3,382.5" fill="none" stroke="#c0343e" stroke-width="1.9" stroke-linejoin="round" stroke-linecap="butt"/>
</g>
<rect x="53.55" y="281.70" width="279.75" height="99.60" fill="none" stroke="#333" stroke-width="1.0"/>
<line x1="49.85" y1="281.70" x2="53.55" y2="281.70" stroke="#333" stroke-width="1.0"/>
<text x="45.25" y="285.60" font-size="10.4" text-anchor="end" font-family='"Liberation Sans", sans-serif' fill="#262626" textLength="19.08" lengthAdjust="spacingAndGlyphs" >500</text>
<line x1="49.85" y1="306.60" x2="53.55" y2="306.60" stroke="#333" stroke-width="1.0"/>
<text x="45.25" y="310.50" font-size="10.4" text-anchor="end" font-family='"Liberation Sans", sans-serif' fill="#262626" textLength="19.08" lengthAdjust="spacingAndGlyphs" >250</text>
<line x1="49.85" y1="331.50" x2="53.55" y2="331.50" stroke="#333" stroke-width="1.0"/>
<text x="45.25" y="335.40" font-size="10.4" text-anchor="end" font-family='"Liberation Sans", sans-serif' fill="#262626" textLength="6.36" lengthAdjust="spacingAndGlyphs" >0</text>
<line x1="49.85" y1="356.40" x2="53.55" y2="356.40" stroke="#333" stroke-width="1.0"/>
<text x="45.25" y="360.30" font-size="10.4" text-anchor="end" font-family='"Liberation Sans", sans-serif' fill="#262626" textLength="27.46" lengthAdjust="spacingAndGlyphs" >−250</text>
<line x1="49.85" y1="381.30" x2="53.55" y2="381.30" stroke="#333" stroke-width="1.0"/>
<text x="45.25" y="385.20" font-size="10.4" text-anchor="end" font-family='"Liberation Sans", sans-serif' fill="#262626" textLength="27.46" lengthAdjust="spacingAndGlyphs" >−500</text>
<line x1="64.31" y1="381.30" x2="64.31" y2="385.00" stroke="#333" stroke-width="1.0"/>
<text x="64.31" y="395.70" font-size="10.4" text-anchor="middle" font-family='"Liberation Sans", sans-serif' fill="#262626" textLength="21.10" lengthAdjust="spacingAndGlyphs" >−60</text>
<line x1="107.35" y1="381.30" x2="107.35" y2="385.00" stroke="#333" stroke-width="1.0"/>
<text x="107.35" y="395.70" font-size="10.4" text-anchor="middle" font-family='"Liberation Sans", sans-serif' fill="#262626" textLength="21.10" lengthAdjust="spacingAndGlyphs" >−40</text>
<line x1="150.39" y1="381.30" x2="150.39" y2="385.00" stroke="#333" stroke-width="1.0"/>
<text x="150.39" y="395.70" font-size="10.4" text-anchor="middle" font-family='"Liberation Sans", sans-serif' fill="#262626" textLength="21.10" lengthAdjust="spacingAndGlyphs" >−20</text>
<line x1="193.43" y1="381.30" x2="193.43" y2="385.00" stroke="#333" stroke-width="1.0"/>
<text x="193.43" y="395.70" font-size="10.4" text-anchor="middle" font-family='"Liberation Sans", sans-serif' fill="#262626" textLength="6.36" lengthAdjust="spacingAndGlyphs" >0</text>
<line x1="236.46" y1="381.30" x2="236.46" y2="385.00" stroke="#333" stroke-width="1.0"/>
<text x="236.46" y="395.70" font-size="10.4" text-anchor="middle" font-family='"Liberation Sans", sans-serif' fill="#262626" textLength="12.72" lengthAdjust="spacingAndGlyphs" >20</text>
<line x1="279.50" y1="381.30" x2="279.50" y2="385.00" stroke="#333" stroke-width="1.0"/>
<text x="279.50" y="395.70" font-size="10.4" text-anchor="middle" font-family='"Liberation Sans", sans-serif' fill="#262626" textLength="12.72" lengthAdjust="spacingAndGlyphs" >40</text>
<line x1="322.54" y1="381.30" x2="322.54" y2="385.00" stroke="#333" stroke-width="1.0"/>
<text x="322.54" y="395.70" font-size="10.4" text-anchor="middle" font-family='"Liberation Sans", sans-serif' fill="#262626" textLength="12.72" lengthAdjust="spacingAndGlyphs" >60</text>
<text transform="translate(9.9 331.50) rotate(-90)" text-anchor="middle" font-family='"Liberation Sans", sans-serif' font-size="11" fill="#262626" textLength="60.5" lengthAdjust="spacingAndGlyphs"><tspan font-style="italic">B</tspan><tspan font-size="7.7" font-style="italic" dy="2.2">ϕ</tspan><tspan dy="-2.2">,  </tspan><tspan font-style="italic">B</tspan><tspan font-size="7.7" font-style="italic" dy="2.2">μ</tspan><tspan dy="-2.2"> [nT]</tspan></text>
<text x="5.50" y="291.10" font-size="14.5" text-anchor="start" font-family='"Liberation Sans", sans-serif' fill="#000" >c)</text>
<text x="69.40" y="299.50" font-family='"Liberation Serif", serif' font-size="16.5" fill="#000" textLength="56.30" lengthAdjust="spacing"><tspan font-style="italic">t</tspan> = <tspan font-style="italic">T</tspan><tspan font-size="11.5" dy="3.3">0</tspan><tspan dy="-3.3">/4</tspan></text>
<clipPath id="cl3"><rect x="53.55" y="412.25" width="279.75" height="101.60"/></clipPath>
<g clip-path="url(#cl3)">
<polyline points="53.5,463.0 54.6,458.9 55.7,455.6 57.0,452.5 58.3,450.2 59.6,448.5 60.2,447.9 61.1,447.3 61.9,446.8 62.8,446.5 64.5,446.3 65.6,446.4 66.7,446.6 69.0,447.4 71.6,448.5 77.7,451.5 80.9,452.9 84.3,454.3 87.6,455.4 92.9,456.8 98.3,458.1 104.1,459.2 110.1,460.1 116.6,460.8 123.7,461.4 131.7,461.9 140.7,462.2 162.9,462.7 193.4,462.8 223.8,462.7 245.9,462.2 255.0,461.9 262.9,461.4 270.0,460.8 276.5,460.1 282.5,459.2 288.1,458.2 293.5,457.0 298.9,455.5 302.1,454.5 305.8,453.0 309.0,451.6 315.4,448.4 318.0,447.3 320.6,446.5 321.7,446.4 322.8,446.3 323.6,446.4 324.5,446.7 326.0,447.4 326.8,448.1 327.5,448.8 328.8,450.5 330.1,452.9 331.1,455.6 332.2,458.9 333.3,463.0" fill="none" stroke="#2323b0" stroke-width="1.9" stroke-linejoin="round" stroke-linecap="butt"/>
<polyline points="53.5,427.0 55.3,430.1 57.2,433.3 59.1,436.0 61.1,438.4 63.2,440.8 65.6,443.1 68.2,445.2 70.8,447.1 73.6,448.8 76.6,450.4 79.8,451.8 83.0,453.1 86.7,454.3 90.6,455.4 94.7,456.3 99.2,457.2 107.1,458.5 116.4,459.5 126.9,460.4 139.4,461.2 151.0,461.7 164.8,462.2 229.8,464.1 245.1,464.8 258.0,465.5 270.0,466.5 280.1,467.7 289.0,469.1 292.8,469.9 296.5,470.8 299.7,471.7 303.0,472.7 306.0,473.8 308.8,475.0 311.4,476.3 313.9,477.7 316.3,479.2 318.7,480.9 320.8,482.6 322.8,484.4 324.7,486.4 326.6,488.7 328.4,491.0 330.1,493.5 331.8,496.3 333.3,499.1" fill="none" stroke="#c0343e" stroke-width="1.9" stroke-linejoin="round" stroke-linecap="butt"/>
</g>
<rect x="53.55" y="413.25" width="279.75" height="99.60" fill="none" stroke="#333" stroke-width="1.0"/>
<line x1="49.85" y1="413.25" x2="53.55" y2="413.25" stroke="#333" stroke-width="1.0"/>
<text x="45.25" y="417.15" font-size="10.4" text-anchor="end" font-family='"Liberation Sans", sans-serif' fill="#262626" textLength="19.08" lengthAdjust="spacingAndGlyphs" >500</text>
<line x1="49.85" y1="438.15" x2="53.55" y2="438.15" stroke="#333" stroke-width="1.0"/>
<text x="45.25" y="442.05" font-size="10.4" text-anchor="end" font-family='"Liberation Sans", sans-serif' fill="#262626" textLength="19.08" lengthAdjust="spacingAndGlyphs" >250</text>
<line x1="49.85" y1="463.05" x2="53.55" y2="463.05" stroke="#333" stroke-width="1.0"/>
<text x="45.25" y="466.95" font-size="10.4" text-anchor="end" font-family='"Liberation Sans", sans-serif' fill="#262626" textLength="6.36" lengthAdjust="spacingAndGlyphs" >0</text>
<line x1="49.85" y1="487.95" x2="53.55" y2="487.95" stroke="#333" stroke-width="1.0"/>
<text x="45.25" y="491.85" font-size="10.4" text-anchor="end" font-family='"Liberation Sans", sans-serif' fill="#262626" textLength="27.46" lengthAdjust="spacingAndGlyphs" >−250</text>
<line x1="49.85" y1="512.85" x2="53.55" y2="512.85" stroke="#333" stroke-width="1.0"/>
<text x="45.25" y="516.75" font-size="10.4" text-anchor="end" font-family='"Liberation Sans", sans-serif' fill="#262626" textLength="27.46" lengthAdjust="spacingAndGlyphs" >−500</text>
<line x1="64.31" y1="512.85" x2="64.31" y2="516.55" stroke="#333" stroke-width="1.0"/>
<text x="64.31" y="527.25" font-size="10.4" text-anchor="middle" font-family='"Liberation Sans", sans-serif' fill="#262626" textLength="21.10" lengthAdjust="spacingAndGlyphs" >−60</text>
<line x1="107.35" y1="512.85" x2="107.35" y2="516.55" stroke="#333" stroke-width="1.0"/>
<text x="107.35" y="527.25" font-size="10.4" text-anchor="middle" font-family='"Liberation Sans", sans-serif' fill="#262626" textLength="21.10" lengthAdjust="spacingAndGlyphs" >−40</text>
<line x1="150.39" y1="512.85" x2="150.39" y2="516.55" stroke="#333" stroke-width="1.0"/>
<text x="150.39" y="527.25" font-size="10.4" text-anchor="middle" font-family='"Liberation Sans", sans-serif' fill="#262626" textLength="21.10" lengthAdjust="spacingAndGlyphs" >−20</text>
<line x1="193.43" y1="512.85" x2="193.43" y2="516.55" stroke="#333" stroke-width="1.0"/>
<text x="193.43" y="527.25" font-size="10.4" text-anchor="middle" font-family='"Liberation Sans", sans-serif' fill="#262626" textLength="6.36" lengthAdjust="spacingAndGlyphs" >0</text>
<line x1="236.46" y1="512.85" x2="236.46" y2="516.55" stroke="#333" stroke-width="1.0"/>
<text x="236.46" y="527.25" font-size="10.4" text-anchor="middle" font-family='"Liberation Sans", sans-serif' fill="#262626" textLength="12.72" lengthAdjust="spacingAndGlyphs" >20</text>
<line x1="279.50" y1="512.85" x2="279.50" y2="516.55" stroke="#333" stroke-width="1.0"/>
<text x="279.50" y="527.25" font-size="10.4" text-anchor="middle" font-family='"Liberation Sans", sans-serif' fill="#262626" textLength="12.72" lengthAdjust="spacingAndGlyphs" >40</text>
<line x1="322.54" y1="512.85" x2="322.54" y2="516.55" stroke="#333" stroke-width="1.0"/>
<text x="322.54" y="527.25" font-size="10.4" text-anchor="middle" font-family='"Liberation Sans", sans-serif' fill="#262626" textLength="12.72" lengthAdjust="spacingAndGlyphs" >60</text>
<text transform="translate(9.9 463.00) rotate(-90)" text-anchor="middle" font-family='"Liberation Sans", sans-serif' font-size="11" fill="#262626" textLength="60.5" lengthAdjust="spacingAndGlyphs"><tspan font-style="italic">B</tspan><tspan font-size="7.7" font-style="italic" dy="2.2">ϕ</tspan><tspan dy="-2.2">,  </tspan><tspan font-style="italic">B</tspan><tspan font-size="7.7" font-style="italic" dy="2.2">μ</tspan><tspan dy="-2.2"> [nT]</tspan></text>
<text x="6.60" y="422.60" font-size="14.5" text-anchor="start" font-family='"Liberation Sans", sans-serif' fill="#000" >d)</text>
<text x="68.60" y="429.40" font-family='"Liberation Serif", serif' font-size="16.5" fill="#000" textLength="59.40" lengthAdjust="spacing"><tspan font-style="italic">t</tspan> = <tspan font-style="italic">T</tspan><tspan font-size="11.5" dy="3.3">0</tspan><tspan dy="-3.3"> /8</tspan></text>
<clipPath id="cl4"><rect x="53.55" y="543.80" width="279.75" height="101.60"/></clipPath>
<g clip-path="url(#cl4)">
<polyline points="53.5,594.6 333.3,594.6" fill="none" stroke="#c0343e" stroke-width="1.9" stroke-linejoin="round" stroke-linecap="butt"/>
<polyline points="53.5,594.6 54.6,588.8 55.7,584.1 57.0,579.7 58.3,576.4 59.6,574.1 60.2,573.2 61.1,572.3 61.9,571.7 62.8,571.2 63.7,571.0 64.5,571.0 65.6,571.1 66.7,571.4 69.0,572.4 71.6,574.0 77.7,578.2 80.9,580.3 84.3,582.2 87.6,583.7 92.9,585.8 98.3,587.6 104.1,589.1 110.1,590.4 116.6,591.4 123.7,592.2 131.7,592.9 140.7,593.4 151.0,593.8 162.9,594.1 177.1,594.3 193.4,594.3 209.6,594.3 223.8,594.1 235.6,593.8 245.9,593.4 255.0,592.9 262.9,592.3 270.0,591.4 276.5,590.4 282.5,589.2 288.1,587.7 293.5,586.0 298.9,583.9 302.1,582.5 305.8,580.4 309.0,578.3 315.4,573.9 318.0,572.3 319.3,571.7 320.6,571.2 321.7,571.0 322.8,571.0 323.6,571.1 324.5,571.4 325.3,571.9 326.0,572.5 326.8,573.5 327.5,574.4 328.8,576.9 330.1,580.3 331.1,584.1 332.2,588.8 333.3,594.6" fill="none" stroke="#2323b0" stroke-width="1.9" stroke-linejoin="round" stroke-linecap="butt"/>
</g>
<rect x="53.55" y="544.80" width="279.75" height="99.60" fill="none" stroke="#333" stroke-width="1.0"/>
<line x1="49.85" y1="544.80" x2="53.55" y2="544.80" stroke="#333" stroke-width="1.0"/>
<text x="45.25" y="548.70" font-size="10.4" text-anchor="end" font-family='"Liberation Sans", sans-serif' fill="#262626" textLength="19.08" lengthAdjust="spacingAndGlyphs" >500</text>
<line x1="49.85" y1="569.70" x2="53.55" y2="569.70" stroke="#333" stroke-width="1.0"/>
<text x="45.25" y="573.60" font-size="10.4" text-anchor="end" font-family='"Liberation Sans", sans-serif' fill="#262626" textLength="19.08" lengthAdjust="spacingAndGlyphs" >250</text>
<line x1="49.85" y1="594.60" x2="53.55" y2="594.60" stroke="#333" stroke-width="1.0"/>
<text x="45.25" y="598.50" font-size="10.4" text-anchor="end" font-family='"Liberation Sans", sans-serif' fill="#262626" textLength="6.36" lengthAdjust="spacingAndGlyphs" >0</text>
<line x1="49.85" y1="619.50" x2="53.55" y2="619.50" stroke="#333" stroke-width="1.0"/>
<text x="45.25" y="623.40" font-size="10.4" text-anchor="end" font-family='"Liberation Sans", sans-serif' fill="#262626" textLength="27.46" lengthAdjust="spacingAndGlyphs" >−250</text>
<line x1="49.85" y1="644.40" x2="53.55" y2="644.40" stroke="#333" stroke-width="1.0"/>
<text x="45.25" y="648.30" font-size="10.4" text-anchor="end" font-family='"Liberation Sans", sans-serif' fill="#262626" textLength="27.46" lengthAdjust="spacingAndGlyphs" >−500</text>
<line x1="64.31" y1="644.40" x2="64.31" y2="648.10" stroke="#333" stroke-width="1.0"/>
<text x="64.31" y="658.80" font-size="10.4" text-anchor="middle" font-family='"Liberation Sans", sans-serif' fill="#262626" textLength="21.10" lengthAdjust="spacingAndGlyphs" >−60</text>
<line x1="107.35" y1="644.40" x2="107.35" y2="648.10" stroke="#333" stroke-width="1.0"/>
<text x="107.35" y="658.80" font-size="10.4" text-anchor="middle" font-family='"Liberation Sans", sans-serif' fill="#262626" textLength="21.10" lengthAdjust="spacingAndGlyphs" >−40</text>
<line x1="150.39" y1="644.40" x2="150.39" y2="648.10" stroke="#333" stroke-width="1.0"/>
<text x="150.39" y="658.80" font-size="10.4" text-anchor="middle" font-family='"Liberation Sans", sans-serif' fill="#262626" textLength="21.10" lengthAdjust="spacingAndGlyphs" >−20</text>
<line x1="193.43" y1="644.40" x2="193.43" y2="648.10" stroke="#333" stroke-width="1.0"/>
<text x="193.43" y="658.80" font-size="10.4" text-anchor="middle" font-family='"Liberation Sans", sans-serif' fill="#262626" textLength="6.36" lengthAdjust="spacingAndGlyphs" >0</text>
<line x1="236.46" y1="644.40" x2="236.46" y2="648.10" stroke="#333" stroke-width="1.0"/>
<text x="236.46" y="658.80" font-size="10.4" text-anchor="middle" font-family='"Liberation Sans", sans-serif' fill="#262626" textLength="12.72" lengthAdjust="spacingAndGlyphs" >20</text>
<line x1="279.50" y1="644.40" x2="279.50" y2="648.10" stroke="#333" stroke-width="1.0"/>
<text x="279.50" y="658.80" font-size="10.4" text-anchor="middle" font-family='"Liberation Sans", sans-serif' fill="#262626" textLength="12.72" lengthAdjust="spacingAndGlyphs" >40</text>
<line x1="322.54" y1="644.40" x2="322.54" y2="648.10" stroke="#333" stroke-width="1.0"/>
<text x="322.54" y="658.80" font-size="10.4" text-anchor="middle" font-family='"Liberation Sans", sans-serif' fill="#262626" textLength="12.72" lengthAdjust="spacingAndGlyphs" >60</text>
<text transform="translate(9.9 594.60) rotate(-90)" text-anchor="middle" font-family='"Liberation Sans", sans-serif' font-size="11" fill="#262626" textLength="60.5" lengthAdjust="spacingAndGlyphs"><tspan font-style="italic">B</tspan><tspan font-size="7.7" font-style="italic" dy="2.2">ϕ</tspan><tspan dy="-2.2">,  </tspan><tspan font-style="italic">B</tspan><tspan font-size="7.7" font-style="italic" dy="2.2">μ</tspan><tspan dy="-2.2"> [nT]</tspan></text>
<text x="6.20" y="554.10" font-size="14.5" text-anchor="start" font-family='"Liberation Sans", sans-serif' fill="#000" >e)</text>
<text x="69.40" y="560.20" font-family='"Liberation Serif", serif' font-size="16.5" fill="#000" textLength="55.70" lengthAdjust="spacing"><tspan font-style="italic">t</tspan> = <tspan font-style="italic">T</tspan><tspan font-size="11.5" dy="3.3">0</tspan><tspan dy="-3.3">/2</tspan></text>
<rect x="203.6" y="23.6" width="124.20" height="39.40" rx="2" fill="#fff" fill-opacity="0.8" stroke="#d6d6d6" stroke-width="0.9"/>
<line x1="206.2" y1="33.8" x2="227.7" y2="33.8" stroke="#2323b0" stroke-width="1.9"/>
<line x1="206.2" y1="51.8" x2="227.7" y2="51.8" stroke="#c0343e" stroke-width="1.9"/>
<text x="236.6" y="37.1" font-family='"Liberation Sans", sans-serif' font-size="10" fill="#262626" textLength="88.4" lengthAdjust="spacingAndGlyphs">compressional <tspan font-style="italic">B</tspan><tspan font-size="7" font-style="italic" dy="2">μ</tspan></text>
<text x="236.6" y="55.1" font-family='"Liberation Sans", sans-serif' font-size="10" fill="#262626" textLength="54.6" lengthAdjust="spacingAndGlyphs">poloidal <tspan font-style="italic">B</tspan><tspan font-size="7" font-style="italic" dy="2">ϕ</tspan></text>
<text x="175.1" y="674.3" font-family='"Liberation Sans", sans-serif' font-size="10.8" fill="#262626" textLength="35" lengthAdjust="spacingAndGlyphs"><tspan font-style="italic">λ</tspan> [deg]</text>
<clipPath id="cr0"><rect x="399.00" y="17.60" width="279.70" height="101.60"/></clipPath>
<g clip-path="url(#cr0)">
<polyline points="399.0,23.1 402.0,28.8 405.2,35.7 408.7,43.5 417.7,64.6 423.1,76.5 425.9,82.1 428.5,87.0 431.1,91.5 433.4,95.3 436.4,99.7 439.4,103.4 442.5,106.5 445.5,109.1 447.0,110.1 448.5,111.1 450.0,111.8 451.7,112.5 453.2,113.0 454.7,113.4 456.2,113.6 458.0,113.6 460.1,113.5 462.3,113.2 464.4,112.6 466.6,111.8 468.7,110.9 471.1,109.6 473.4,108.1 476.0,106.3 480.1,103.1 484.8,98.9 489.4,94.7 500.8,83.7 506.8,78.2 509.8,75.6 512.8,73.2 515.6,71.2 518.2,69.5 520.8,67.9 523.4,66.6 525.9,65.4 528.5,64.4 531.1,63.7 533.7,63.1 536.3,62.8 538.6,62.7 541.4,62.8 544.2,63.1 547.0,63.8 549.8,64.6 552.6,65.8 555.6,67.2 558.6,68.9 561.7,70.9 566.8,74.7 572.6,79.7 578.0,84.7 590.5,96.7 596.5,102.2 599.3,104.5 602.1,106.6 604.7,108.4 607.3,110.0 609.9,111.3 612.4,112.3 615.0,113.1 617.4,113.5 619.7,113.6 622.1,113.5 624.5,113.0 626.8,112.2 629.4,110.9 632.0,109.3 634.6,107.1 637.0,104.8 639.5,101.9 642.1,98.5 644.7,94.7 647.3,90.5 651.4,83.0 655.7,74.2 660.4,63.7 669.0,43.5 672.2,36.1 675.7,28.8 678.7,23.1" fill="none" stroke="#2323b0" stroke-width="1.9" stroke-linejoin="round" stroke-linecap="butt"/>
</g>
<rect x="399.00" y="18.60" width="279.70" height="99.60" fill="none" stroke="#333" stroke-width="1.0"/>
<line x1="395.30" y1="23.13" x2="399.00" y2="23.13" stroke="#333" stroke-width="1.0"/>
<text x="390.70" y="27.03" font-size="10.4" text-anchor="end" font-family='"Liberation Sans", sans-serif' fill="#262626" textLength="6.36" lengthAdjust="spacingAndGlyphs" >0</text>
<line x1="395.30" y1="56.98" x2="399.00" y2="56.98" stroke="#333" stroke-width="1.0"/>
<text x="390.70" y="60.88" font-size="10.4" text-anchor="end" font-family='"Liberation Sans", sans-serif' fill="#262626" textLength="14.74" lengthAdjust="spacingAndGlyphs" >−2</text>
<line x1="395.30" y1="90.82" x2="399.00" y2="90.82" stroke="#333" stroke-width="1.0"/>
<text x="390.70" y="94.72" font-size="10.4" text-anchor="end" font-family='"Liberation Sans", sans-serif' fill="#262626" textLength="14.74" lengthAdjust="spacingAndGlyphs" >−4</text>
<line x1="409.76" y1="118.20" x2="409.76" y2="121.90" stroke="#333" stroke-width="1.0"/>
<text x="409.76" y="132.60" font-size="10.4" text-anchor="middle" font-family='"Liberation Sans", sans-serif' fill="#262626" textLength="21.10" lengthAdjust="spacingAndGlyphs" >−60</text>
<line x1="452.79" y1="118.20" x2="452.79" y2="121.90" stroke="#333" stroke-width="1.0"/>
<text x="452.79" y="132.60" font-size="10.4" text-anchor="middle" font-family='"Liberation Sans", sans-serif' fill="#262626" textLength="21.10" lengthAdjust="spacingAndGlyphs" >−40</text>
<line x1="495.82" y1="118.20" x2="495.82" y2="121.90" stroke="#333" stroke-width="1.0"/>
<text x="495.82" y="132.60" font-size="10.4" text-anchor="middle" font-family='"Liberation Sans", sans-serif' fill="#262626" textLength="21.10" lengthAdjust="spacingAndGlyphs" >−20</text>
<line x1="538.85" y1="118.20" x2="538.85" y2="121.90" stroke="#333" stroke-width="1.0"/>
<text x="538.85" y="132.60" font-size="10.4" text-anchor="middle" font-family='"Liberation Sans", sans-serif' fill="#262626" textLength="6.36" lengthAdjust="spacingAndGlyphs" >0</text>
<line x1="581.88" y1="118.20" x2="581.88" y2="121.90" stroke="#333" stroke-width="1.0"/>
<text x="581.88" y="132.60" font-size="10.4" text-anchor="middle" font-family='"Liberation Sans", sans-serif' fill="#262626" textLength="12.72" lengthAdjust="spacingAndGlyphs" >20</text>
<line x1="624.91" y1="118.20" x2="624.91" y2="121.90" stroke="#333" stroke-width="1.0"/>
<text x="624.91" y="132.60" font-size="10.4" text-anchor="middle" font-family='"Liberation Sans", sans-serif' fill="#262626" textLength="12.72" lengthAdjust="spacingAndGlyphs" >40</text>
<line x1="667.94" y1="118.20" x2="667.94" y2="121.90" stroke="#333" stroke-width="1.0"/>
<text x="667.94" y="132.60" font-size="10.4" text-anchor="middle" font-family='"Liberation Sans", sans-serif' fill="#262626" textLength="12.72" lengthAdjust="spacingAndGlyphs" >60</text>
<text transform="translate(370.2 65.60) rotate(-90)" text-anchor="middle" font-family='"Liberation Sans", sans-serif' font-size="11.5" fill="#262626" textLength="55" lengthAdjust="spacingAndGlyphs"><tspan font-style="italic">B</tspan><tspan font-size="8" font-style="italic" dy="2.3">μ</tspan><tspan dy="-2.3">/</tspan><tspan font-style="italic">B</tspan><tspan font-size="8" dy="2.3">0</tspan><tspan dy="-2.3"> [%]</tspan></text>
<text x="353.40" y="18.70" font-size="14.5" text-anchor="start" font-family='"Liberation Sans", sans-serif' fill="#000" >f)</text>
<clipPath id="cr1"><rect x="399.00" y="149.15" width="279.70" height="101.60"/></clipPath>
<g clip-path="url(#cr1)">
<polyline points="399.0,154.7 402.0,160.4 405.2,167.2 408.7,175.0 417.7,196.2 423.1,208.0 425.9,213.7 428.5,218.6 431.1,223.1 433.4,226.9 436.4,231.2 439.4,234.9 442.5,238.1 445.5,240.6 447.0,241.7 448.5,242.6 450.0,243.4 451.7,244.1 453.2,244.6 454.7,244.9 456.2,245.1 458.0,245.2 460.1,245.1 462.3,244.7 464.4,244.2 466.6,243.4 468.7,242.4 471.1,241.1 473.4,239.7 476.0,237.9 480.1,234.7 484.8,230.5 489.4,226.3 500.8,215.2 506.8,209.7 509.8,207.2 512.8,204.8 515.6,202.7 518.2,201.0 520.8,199.5 523.4,198.1 525.9,196.9 528.5,196.0 531.1,195.2 533.7,194.7 536.3,194.3 538.6,194.2 541.4,194.3 544.2,194.7 547.0,195.3 549.8,196.2 552.6,197.3 555.6,198.8 558.6,200.5 561.7,202.4 566.8,206.3 572.6,211.2 578.0,216.2 590.5,228.3 596.5,233.7 599.3,236.1 602.1,238.2 604.7,240.0 607.3,241.5 609.9,242.8 612.4,243.9 615.0,244.6 617.4,245.1 619.7,245.2 622.1,245.0 624.5,244.6 626.8,243.8 629.4,242.5 632.0,240.8 634.6,238.7 637.0,236.4 639.5,233.4 642.1,230.0 644.7,226.2 647.3,222.0 651.4,214.5 655.7,205.7 660.4,195.2 669.0,175.0 672.2,167.7 675.7,160.4 678.7,154.7" fill="none" stroke="#2323b0" stroke-width="1.9" stroke-linejoin="round" stroke-linecap="butt"/>
</g>
<rect x="399.00" y="150.15" width="279.70" height="99.60" fill="none" stroke="#333" stroke-width="1.0"/>
<line x1="395.30" y1="154.67" x2="399.00" y2="154.67" stroke="#333" stroke-width="1.0"/>
<text x="390.70" y="158.57" font-size="10.4" text-anchor="end" font-family='"Liberation Sans", sans-serif' fill="#262626" textLength="6.36" lengthAdjust="spacingAndGlyphs" >0</text>
<line x1="395.30" y1="202.55" x2="399.00" y2="202.55" stroke="#333" stroke-width="1.0"/>
<text x="390.70" y="206.45" font-size="10.4" text-anchor="end" font-family='"Liberation Sans", sans-serif' fill="#262626" textLength="14.74" lengthAdjust="spacingAndGlyphs" >−2</text>
<line x1="409.76" y1="249.75" x2="409.76" y2="253.45" stroke="#333" stroke-width="1.0"/>
<text x="409.76" y="264.15" font-size="10.4" text-anchor="middle" font-family='"Liberation Sans", sans-serif' fill="#262626" textLength="21.10" lengthAdjust="spacingAndGlyphs" >−60</text>
<line x1="452.79" y1="249.75" x2="452.79" y2="253.45" stroke="#333" stroke-width="1.0"/>
<text x="452.79" y="264.15" font-size="10.4" text-anchor="middle" font-family='"Liberation Sans", sans-serif' fill="#262626" textLength="21.10" lengthAdjust="spacingAndGlyphs" >−40</text>
<line x1="495.82" y1="249.75" x2="495.82" y2="253.45" stroke="#333" stroke-width="1.0"/>
<text x="495.82" y="264.15" font-size="10.4" text-anchor="middle" font-family='"Liberation Sans", sans-serif' fill="#262626" textLength="21.10" lengthAdjust="spacingAndGlyphs" >−20</text>
<line x1="538.85" y1="249.75" x2="538.85" y2="253.45" stroke="#333" stroke-width="1.0"/>
<text x="538.85" y="264.15" font-size="10.4" text-anchor="middle" font-family='"Liberation Sans", sans-serif' fill="#262626" textLength="6.36" lengthAdjust="spacingAndGlyphs" >0</text>
<line x1="581.88" y1="249.75" x2="581.88" y2="253.45" stroke="#333" stroke-width="1.0"/>
<text x="581.88" y="264.15" font-size="10.4" text-anchor="middle" font-family='"Liberation Sans", sans-serif' fill="#262626" textLength="12.72" lengthAdjust="spacingAndGlyphs" >20</text>
<line x1="624.91" y1="249.75" x2="624.91" y2="253.45" stroke="#333" stroke-width="1.0"/>
<text x="624.91" y="264.15" font-size="10.4" text-anchor="middle" font-family='"Liberation Sans", sans-serif' fill="#262626" textLength="12.72" lengthAdjust="spacingAndGlyphs" >40</text>
<line x1="667.94" y1="249.75" x2="667.94" y2="253.45" stroke="#333" stroke-width="1.0"/>
<text x="667.94" y="264.15" font-size="10.4" text-anchor="middle" font-family='"Liberation Sans", sans-serif' fill="#262626" textLength="12.72" lengthAdjust="spacingAndGlyphs" >60</text>
<text transform="translate(370.2 200.50) rotate(-90)" text-anchor="middle" font-family='"Liberation Sans", sans-serif' font-size="11.5" fill="#262626" textLength="55" lengthAdjust="spacingAndGlyphs"><tspan font-style="italic">B</tspan><tspan font-size="8" font-style="italic" dy="2.3">μ</tspan><tspan dy="-2.3">/</tspan><tspan font-style="italic">B</tspan><tspan font-size="8" dy="2.3">0</tspan><tspan dy="-2.3"> [%]</tspan></text>
<text x="352.80" y="151.90" font-size="15" text-anchor="start" font-family='"Liberation Serif", serif' fill="#000" >g)</text>
<clipPath id="cr2"><rect x="399.00" y="280.70" width="279.70" height="101.60"/></clipPath>
<g clip-path="url(#cr2)">
<polyline points="399.0,331.5 678.7,331.5" fill="none" stroke="#2323b0" stroke-width="1.9" stroke-linejoin="round" stroke-linecap="butt"/>
</g>
<rect x="399.00" y="281.70" width="279.70" height="99.60" fill="none" stroke="#333" stroke-width="1.0"/>
<line x1="395.30" y1="286.23" x2="399.00" y2="286.23" stroke="#333" stroke-width="1.0"/>
<text x="390.70" y="290.13" font-size="10.4" text-anchor="end" font-family='"Liberation Sans", sans-serif' fill="#262626" textLength="22.26" lengthAdjust="spacingAndGlyphs" >0.05</text>
<line x1="395.30" y1="331.50" x2="399.00" y2="331.50" stroke="#333" stroke-width="1.0"/>
<text x="390.70" y="335.40" font-size="10.4" text-anchor="end" font-family='"Liberation Sans", sans-serif' fill="#262626" textLength="22.26" lengthAdjust="spacingAndGlyphs" >0.00</text>
<line x1="395.30" y1="376.77" x2="399.00" y2="376.77" stroke="#333" stroke-width="1.0"/>
<text x="390.70" y="380.67" font-size="10.4" text-anchor="end" font-family='"Liberation Sans", sans-serif' fill="#262626" textLength="30.64" lengthAdjust="spacingAndGlyphs" >−0.05</text>
<line x1="409.76" y1="381.30" x2="409.76" y2="385.00" stroke="#333" stroke-width="1.0"/>
<text x="409.76" y="395.70" font-size="10.4" text-anchor="middle" font-family='"Liberation Sans", sans-serif' fill="#262626" textLength="21.10" lengthAdjust="spacingAndGlyphs" >−60</text>
<line x1="452.79" y1="381.30" x2="452.79" y2="385.00" stroke="#333" stroke-width="1.0"/>
<text x="452.79" y="395.70" font-size="10.4" text-anchor="middle" font-family='"Liberation Sans", sans-serif' fill="#262626" textLength="21.10" lengthAdjust="spacingAndGlyphs" >−40</text>
<line x1="495.82" y1="381.30" x2="495.82" y2="385.00" stroke="#333" stroke-width="1.0"/>
<text x="495.82" y="395.70" font-size="10.4" text-anchor="middle" font-family='"Liberation Sans", sans-serif' fill="#262626" textLength="21.10" lengthAdjust="spacingAndGlyphs" >−20</text>
<line x1="538.85" y1="381.30" x2="538.85" y2="385.00" stroke="#333" stroke-width="1.0"/>
<text x="538.85" y="395.70" font-size="10.4" text-anchor="middle" font-family='"Liberation Sans", sans-serif' fill="#262626" textLength="6.36" lengthAdjust="spacingAndGlyphs" >0</text>
<line x1="581.88" y1="381.30" x2="581.88" y2="385.00" stroke="#333" stroke-width="1.0"/>
<text x="581.88" y="395.70" font-size="10.4" text-anchor="middle" font-family='"Liberation Sans", sans-serif' fill="#262626" textLength="12.72" lengthAdjust="spacingAndGlyphs" >20</text>
<line x1="624.91" y1="381.30" x2="624.91" y2="385.00" stroke="#333" stroke-width="1.0"/>
<text x="624.91" y="395.70" font-size="10.4" text-anchor="middle" font-family='"Liberation Sans", sans-serif' fill="#262626" textLength="12.72" lengthAdjust="spacingAndGlyphs" >40</text>
<line x1="667.94" y1="381.30" x2="667.94" y2="385.00" stroke="#333" stroke-width="1.0"/>
<text x="667.94" y="395.70" font-size="10.4" text-anchor="middle" font-family='"Liberation Sans", sans-serif' fill="#262626" textLength="12.72" lengthAdjust="spacingAndGlyphs" >60</text>
<text transform="translate(352.5 329.50) rotate(-90)" text-anchor="middle" font-family='"Liberation Sans", sans-serif' font-size="11.5" fill="#262626" textLength="55" lengthAdjust="spacingAndGlyphs"><tspan font-style="italic">B</tspan><tspan font-size="8" font-style="italic" dy="2.3">μ</tspan><tspan dy="-2.3">/</tspan><tspan font-style="italic">B</tspan><tspan font-size="8" dy="2.3">0</tspan><tspan dy="-2.3"> [%]</tspan></text>
<text x="354.90" y="283.70" font-size="14.5" text-anchor="start" font-family='"Liberation Sans", sans-serif' fill="#000" >h)</text>
<clipPath id="cr3"><rect x="399.00" y="412.25" width="279.70" height="101.60"/></clipPath>
<g clip-path="url(#cr3)">
<polyline points="399.0,508.3 402.0,502.6 405.2,495.8 408.7,488.0 417.7,466.8 423.1,455.0 425.9,449.3 428.5,444.4 431.1,439.9 433.4,436.1 436.4,431.8 439.4,428.1 442.5,424.9 445.5,422.4 447.0,421.3 448.5,420.4 450.0,419.6 451.7,418.9 453.2,418.4 454.7,418.1 456.2,417.9 458.0,417.8 460.1,417.9 462.3,418.3 464.4,418.8 466.6,419.6 468.7,420.6 471.1,421.9 473.4,423.3 476.0,425.1 480.1,428.3 484.8,432.5 489.4,436.7 500.8,447.8 506.8,453.3 509.8,455.8 512.8,458.2 515.6,460.3 518.2,462.0 520.8,463.5 523.4,464.9 525.9,466.1 528.5,467.0 531.1,467.8 533.7,468.3 536.3,468.7 538.6,468.8 541.4,468.7 544.2,468.3 547.0,467.7 549.8,466.8 552.6,465.7 555.6,464.2 558.6,462.5 561.7,460.6 566.8,456.7 572.6,451.8 578.0,446.8 590.5,434.7 596.5,429.3 599.3,426.9 602.1,424.8 604.7,423.0 607.3,421.5 609.9,420.2 612.4,419.1 615.0,418.4 617.4,417.9 619.7,417.8 622.1,418.0 624.5,418.4 626.8,419.2 629.4,420.5 632.0,422.2 634.6,424.3 637.0,426.6 639.5,429.6 642.1,433.0 644.7,436.8 647.3,441.0 651.4,448.5 655.7,457.3 660.4,467.8 669.0,488.0 672.2,495.3 675.7,502.6 678.7,508.3" fill="none" stroke="#2323b0" stroke-width="1.9" stroke-linejoin="round" stroke-linecap="butt"/>
</g>
<rect x="399.00" y="413.25" width="279.70" height="99.60" fill="none" stroke="#333" stroke-width="1.0"/>
<line x1="395.30" y1="508.33" x2="399.00" y2="508.33" stroke="#333" stroke-width="1.0"/>
<text x="390.70" y="512.23" font-size="10.4" text-anchor="end" font-family='"Liberation Sans", sans-serif' fill="#262626" textLength="6.36" lengthAdjust="spacingAndGlyphs" >0</text>
<line x1="395.30" y1="460.45" x2="399.00" y2="460.45" stroke="#333" stroke-width="1.0"/>
<text x="390.70" y="464.35" font-size="10.4" text-anchor="end" font-family='"Liberation Sans", sans-serif' fill="#262626" textLength="6.36" lengthAdjust="spacingAndGlyphs" >2</text>
<line x1="409.76" y1="512.85" x2="409.76" y2="516.55" stroke="#333" stroke-width="1.0"/>
<text x="409.76" y="527.25" font-size="10.4" text-anchor="middle" font-family='"Liberation Sans", sans-serif' fill="#262626" textLength="21.10" lengthAdjust="spacingAndGlyphs" >−60</text>
<line x1="452.79" y1="512.85" x2="452.79" y2="516.55" stroke="#333" stroke-width="1.0"/>
<text x="452.79" y="527.25" font-size="10.4" text-anchor="middle" font-family='"Liberation Sans", sans-serif' fill="#262626" textLength="21.10" lengthAdjust="spacingAndGlyphs" >−40</text>
<line x1="495.82" y1="512.85" x2="495.82" y2="516.55" stroke="#333" stroke-width="1.0"/>
<text x="495.82" y="527.25" font-size="10.4" text-anchor="middle" font-family='"Liberation Sans", sans-serif' fill="#262626" textLength="21.10" lengthAdjust="spacingAndGlyphs" >−20</text>
<line x1="538.85" y1="512.85" x2="538.85" y2="516.55" stroke="#333" stroke-width="1.0"/>
<text x="538.85" y="527.25" font-size="10.4" text-anchor="middle" font-family='"Liberation Sans", sans-serif' fill="#262626" textLength="6.36" lengthAdjust="spacingAndGlyphs" >0</text>
<line x1="581.88" y1="512.85" x2="581.88" y2="516.55" stroke="#333" stroke-width="1.0"/>
<text x="581.88" y="527.25" font-size="10.4" text-anchor="middle" font-family='"Liberation Sans", sans-serif' fill="#262626" textLength="12.72" lengthAdjust="spacingAndGlyphs" >20</text>
<line x1="624.91" y1="512.85" x2="624.91" y2="516.55" stroke="#333" stroke-width="1.0"/>
<text x="624.91" y="527.25" font-size="10.4" text-anchor="middle" font-family='"Liberation Sans", sans-serif' fill="#262626" textLength="12.72" lengthAdjust="spacingAndGlyphs" >40</text>
<line x1="667.94" y1="512.85" x2="667.94" y2="516.55" stroke="#333" stroke-width="1.0"/>
<text x="667.94" y="527.25" font-size="10.4" text-anchor="middle" font-family='"Liberation Sans", sans-serif' fill="#262626" textLength="12.72" lengthAdjust="spacingAndGlyphs" >60</text>
<text transform="translate(378.0 460.50) rotate(-90)" text-anchor="middle" font-family='"Liberation Sans", sans-serif' font-size="11.5" fill="#262626" textLength="55" lengthAdjust="spacingAndGlyphs"><tspan font-style="italic">B</tspan><tspan font-size="8" font-style="italic" dy="2.3">μ</tspan><tspan dy="-2.3">/</tspan><tspan font-style="italic">B</tspan><tspan font-size="8" dy="2.3">0</tspan><tspan dy="-2.3"> [%]</tspan></text>
<text x="356.70" y="422.50" font-size="14.5" text-anchor="start" font-family='"Liberation Sans", sans-serif' fill="#000" >i)</text>
<clipPath id="cr4"><rect x="399.00" y="543.80" width="279.70" height="101.60"/></clipPath>
<g clip-path="url(#cr4)">
<polyline points="399.0,639.9 402.0,634.2 405.2,627.3 408.7,619.5 417.7,598.4 423.1,586.5 425.9,580.9 428.5,576.0 431.1,571.5 433.4,567.7 436.4,563.3 439.4,559.6 442.5,556.5 445.5,553.9 447.0,552.9 448.5,551.9 450.0,551.2 451.7,550.5 453.2,550.0 454.7,549.6 456.2,549.4 458.0,549.4 460.1,549.5 462.3,549.8 464.4,550.4 466.6,551.2 468.7,552.1 471.1,553.4 473.4,554.9 476.0,556.7 480.1,559.9 484.8,564.1 489.4,568.3 500.8,579.3 506.8,584.8 509.8,587.4 512.8,589.8 515.6,591.8 518.2,593.5 520.8,595.1 523.4,596.4 525.9,597.6 528.5,598.6 531.1,599.3 533.7,599.9 536.3,600.2 538.6,600.3 541.4,600.2 544.2,599.9 547.0,599.2 549.8,598.4 552.6,597.2 555.6,595.8 558.6,594.1 561.7,592.1 566.8,588.3 572.6,583.3 578.0,578.3 590.5,566.3 596.5,560.8 599.3,558.5 602.1,556.4 604.7,554.6 607.3,553.0 609.9,551.7 612.4,550.7 615.0,549.9 617.4,549.5 619.7,549.4 622.1,549.5 624.5,550.0 626.8,550.8 629.4,552.1 632.0,553.7 634.6,555.9 637.0,558.2 639.5,561.1 642.1,564.5 644.7,568.3 647.3,572.5 651.4,580.0 655.7,588.8 660.4,599.3 669.0,619.5 672.2,626.9 675.7,634.2 678.7,639.9" fill="none" stroke="#2323b0" stroke-width="1.9" stroke-linejoin="round" stroke-linecap="butt"/>
</g>
<rect x="399.00" y="544.80" width="279.70" height="99.60" fill="none" stroke="#333" stroke-width="1.0"/>
<line x1="395.30" y1="639.87" x2="399.00" y2="639.87" stroke="#333" stroke-width="1.0"/>
<text x="390.70" y="643.77" font-size="10.4" text-anchor="end" font-family='"Liberation Sans", sans-serif' fill="#262626" textLength="6.36" lengthAdjust="spacingAndGlyphs" >0</text>
<line x1="395.30" y1="606.02" x2="399.00" y2="606.02" stroke="#333" stroke-width="1.0"/>
<text x="390.70" y="609.92" font-size="10.4" text-anchor="end" font-family='"Liberation Sans", sans-serif' fill="#262626" textLength="6.36" lengthAdjust="spacingAndGlyphs" >2</text>
<line x1="395.30" y1="572.18" x2="399.00" y2="572.18" stroke="#333" stroke-width="1.0"/>
<text x="390.70" y="576.08" font-size="10.4" text-anchor="end" font-family='"Liberation Sans", sans-serif' fill="#262626" textLength="6.36" lengthAdjust="spacingAndGlyphs" >4</text>
<line x1="409.76" y1="644.40" x2="409.76" y2="648.10" stroke="#333" stroke-width="1.0"/>
<text x="409.76" y="658.80" font-size="10.4" text-anchor="middle" font-family='"Liberation Sans", sans-serif' fill="#262626" textLength="21.10" lengthAdjust="spacingAndGlyphs" >−60</text>
<line x1="452.79" y1="644.40" x2="452.79" y2="648.10" stroke="#333" stroke-width="1.0"/>
<text x="452.79" y="658.80" font-size="10.4" text-anchor="middle" font-family='"Liberation Sans", sans-serif' fill="#262626" textLength="21.10" lengthAdjust="spacingAndGlyphs" >−40</text>
<line x1="495.82" y1="644.40" x2="495.82" y2="648.10" stroke="#333" stroke-width="1.0"/>
<text x="495.82" y="658.80" font-size="10.4" text-anchor="middle" font-family='"Liberation Sans", sans-serif' fill="#262626" textLength="21.10" lengthAdjust="spacingAndGlyphs" >−20</text>
<line x1="538.85" y1="644.40" x2="538.85" y2="648.10" stroke="#333" stroke-width="1.0"/>
<text x="538.85" y="658.80" font-size="10.4" text-anchor="middle" font-family='"Liberation Sans", sans-serif' fill="#262626" textLength="6.36" lengthAdjust="spacingAndGlyphs" >0</text>
<line x1="581.88" y1="644.40" x2="581.88" y2="648.10" stroke="#333" stroke-width="1.0"/>
<text x="581.88" y="658.80" font-size="10.4" text-anchor="middle" font-family='"Liberation Sans", sans-serif' fill="#262626" textLength="12.72" lengthAdjust="spacingAndGlyphs" >20</text>
<line x1="624.91" y1="644.40" x2="624.91" y2="648.10" stroke="#333" stroke-width="1.0"/>
<text x="624.91" y="658.80" font-size="10.4" text-anchor="middle" font-family='"Liberation Sans", sans-serif' fill="#262626" textLength="12.72" lengthAdjust="spacingAndGlyphs" >40</text>
<line x1="667.94" y1="644.40" x2="667.94" y2="648.10" stroke="#333" stroke-width="1.0"/>
<text x="667.94" y="658.80" font-size="10.4" text-anchor="middle" font-family='"Liberation Sans", sans-serif' fill="#262626" textLength="12.72" lengthAdjust="spacingAndGlyphs" >60</text>
<text transform="translate(378.0 592.10) rotate(-90)" text-anchor="middle" font-family='"Liberation Sans", sans-serif' font-size="11.5" fill="#262626" textLength="55" lengthAdjust="spacingAndGlyphs"><tspan font-style="italic">B</tspan><tspan font-size="8" font-style="italic" dy="2.3">μ</tspan><tspan dy="-2.3">/</tspan><tspan font-style="italic">B</tspan><tspan font-size="8" dy="2.3">0</tspan><tspan dy="-2.3"> [%]</tspan></text>
<text x="356.00" y="553.40" font-size="14.5" text-anchor="start" font-family='"Liberation Sans", sans-serif' fill="#000" >j)</text>
<text x="520.3" y="674.3" font-family='"Liberation Sans", sans-serif' font-size="10.8" fill="#262626" textLength="35" lengthAdjust="spacingAndGlyphs"><tspan font-style="italic">λ</tspan> [deg]</text>
<rect x="42.50" y="696.40" width="85.60" height="257.70" fill="none" stroke="#222" stroke-width="1.0"/>
<line x1="38.80" y1="954.10" x2="42.50" y2="954.10" stroke="#333" stroke-width="1.0"/>
<text x="34.20" y="958.20" font-size="10.4" text-anchor="end" font-family='"Liberation Sans", sans-serif' fill="#262626" textLength="6.36" lengthAdjust="spacingAndGlyphs" >0</text>
<line x1="38.80" y1="914.45" x2="42.50" y2="914.45" stroke="#333" stroke-width="1.0"/>
<text x="34.20" y="918.55" font-size="10.4" text-anchor="end" font-family='"Liberation Sans", sans-serif' fill="#262626" textLength="12.72" lengthAdjust="spacingAndGlyphs" >10</text>
<line x1="38.80" y1="874.81" x2="42.50" y2="874.81" stroke="#333" stroke-width="1.0"/>
<text x="34.20" y="878.91" font-size="10.4" text-anchor="end" font-family='"Liberation Sans", sans-serif' fill="#262626" textLength="12.72" lengthAdjust="spacingAndGlyphs" >20</text>
<line x1="38.80" y1="835.16" x2="42.50" y2="835.16" stroke="#333" stroke-width="1.0"/>
<text x="34.20" y="839.26" font-size="10.4" text-anchor="end" font-family='"Liberation Sans", sans-serif' fill="#262626" textLength="12.72" lengthAdjust="spacingAndGlyphs" >30</text>
<line x1="38.80" y1="795.52" x2="42.50" y2="795.52" stroke="#333" stroke-width="1.0"/>
<text x="34.20" y="799.62" font-size="10.4" text-anchor="end" font-family='"Liberation Sans", sans-serif' fill="#262626" textLength="12.72" lengthAdjust="spacingAndGlyphs" >40</text>
<line x1="38.80" y1="755.87" x2="42.50" y2="755.87" stroke="#333" stroke-width="1.0"/>
<text x="34.20" y="759.97" font-size="10.4" text-anchor="end" font-family='"Liberation Sans", sans-serif' fill="#262626" textLength="12.72" lengthAdjust="spacingAndGlyphs" >50</text>
<line x1="38.80" y1="716.22" x2="42.50" y2="716.22" stroke="#333" stroke-width="1.0"/>
<text x="34.20" y="720.32" font-size="10.4" text-anchor="end" font-family='"Liberation Sans", sans-serif' fill="#262626" textLength="12.72" lengthAdjust="spacingAndGlyphs" >60</text>
<line x1="49.00" y1="954.10" x2="49.00" y2="957.80" stroke="#333" stroke-width="1.0"/>
<text x="49.00" y="969.90" font-size="10.4" text-anchor="middle" font-family='"Liberation Sans", sans-serif' fill="#262626" textLength="15.90" lengthAdjust="spacingAndGlyphs" >5.9</text>
<line x1="85.60" y1="954.10" x2="85.60" y2="957.80" stroke="#333" stroke-width="1.0"/>
<text x="85.60" y="969.90" font-size="10.4" text-anchor="middle" font-family='"Liberation Sans", sans-serif' fill="#262626" textLength="15.90" lengthAdjust="spacingAndGlyphs" >6.0</text>
<line x1="122.20" y1="954.10" x2="122.20" y2="957.80" stroke="#333" stroke-width="1.0"/>
<text x="122.20" y="969.90" font-size="10.4" text-anchor="middle" font-family='"Liberation Sans", sans-serif' fill="#262626" textLength="15.90" lengthAdjust="spacingAndGlyphs" >6.1</text>
<text x="85.60" y="984.40" font-size="10.0" text-anchor="middle" font-family='"Liberation Sans", sans-serif' fill="#262626" >L</text>
<text x="18.20" y="701.30" font-size="14.5" text-anchor="start" font-family='"Liberation Sans", sans-serif' fill="#000" >k)</text>
<text x="64.00" y="691.60" font-family='"Liberation Serif", serif' font-size="13.5" fill="#000" textLength="29.90" lengthAdjust="spacing"><tspan font-style="italic">t</tspan> = 0</text>
<rect x="161.60" y="696.40" width="85.60" height="257.70" fill="none" stroke="#222" stroke-width="1.0"/>
<line x1="157.90" y1="954.10" x2="161.60" y2="954.10" stroke="#333" stroke-width="1.0"/>
<text x="153.30" y="958.20" font-size="10.4" text-anchor="end" font-family='"Liberation Sans", sans-serif' fill="#262626" textLength="6.36" lengthAdjust="spacingAndGlyphs" >0</text>
<line x1="157.90" y1="914.45" x2="161.60" y2="914.45" stroke="#333" stroke-width="1.0"/>
<text x="153.30" y="918.55" font-size="10.4" text-anchor="end" font-family='"Liberation Sans", sans-serif' fill="#262626" textLength="12.72" lengthAdjust="spacingAndGlyphs" >10</text>
<line x1="157.90" y1="874.81" x2="161.60" y2="874.81" stroke="#333" stroke-width="1.0"/>
<text x="153.30" y="878.91" font-size="10.4" text-anchor="end" font-family='"Liberation Sans", sans-serif' fill="#262626" textLength="12.72" lengthAdjust="spacingAndGlyphs" >20</text>
<line x1="157.90" y1="835.16" x2="161.60" y2="835.16" stroke="#333" stroke-width="1.0"/>
<text x="153.30" y="839.26" font-size="10.4" text-anchor="end" font-family='"Liberation Sans", sans-serif' fill="#262626" textLength="12.72" lengthAdjust="spacingAndGlyphs" >30</text>
<line x1="157.90" y1="795.52" x2="161.60" y2="795.52" stroke="#333" stroke-width="1.0"/>
<text x="153.30" y="799.62" font-size="10.4" text-anchor="end" font-family='"Liberation Sans", sans-serif' fill="#262626" textLength="12.72" lengthAdjust="spacingAndGlyphs" >40</text>
<line x1="157.90" y1="755.87" x2="161.60" y2="755.87" stroke="#333" stroke-width="1.0"/>
<text x="153.30" y="759.97" font-size="10.4" text-anchor="end" font-family='"Liberation Sans", sans-serif' fill="#262626" textLength="12.72" lengthAdjust="spacingAndGlyphs" >50</text>
<line x1="157.90" y1="716.22" x2="161.60" y2="716.22" stroke="#333" stroke-width="1.0"/>
<text x="153.30" y="720.32" font-size="10.4" text-anchor="end" font-family='"Liberation Sans", sans-serif' fill="#262626" textLength="12.72" lengthAdjust="spacingAndGlyphs" >60</text>
<line x1="168.10" y1="954.10" x2="168.10" y2="957.80" stroke="#333" stroke-width="1.0"/>
<text x="168.10" y="969.90" font-size="10.4" text-anchor="middle" font-family='"Liberation Sans", sans-serif' fill="#262626" textLength="15.90" lengthAdjust="spacingAndGlyphs" >5.9</text>
<line x1="204.70" y1="954.10" x2="204.70" y2="957.80" stroke="#333" stroke-width="1.0"/>
<text x="204.70" y="969.90" font-size="10.4" text-anchor="middle" font-family='"Liberation Sans", sans-serif' fill="#262626" textLength="15.90" lengthAdjust="spacingAndGlyphs" >6.0</text>
<line x1="241.30" y1="954.10" x2="241.30" y2="957.80" stroke="#333" stroke-width="1.0"/>
<text x="241.30" y="969.90" font-size="10.4" text-anchor="middle" font-family='"Liberation Sans", sans-serif' fill="#262626" textLength="15.90" lengthAdjust="spacingAndGlyphs" >6.1</text>
<text x="204.70" y="984.40" font-size="10.0" text-anchor="middle" font-family='"Liberation Sans", sans-serif' fill="#262626" >L</text>
<text x="143.40" y="701.30" font-size="14.5" text-anchor="start" font-family='"Liberation Sans", sans-serif' fill="#000" >l)</text>
<text x="181.90" y="691.60" font-family='"Liberation Serif", serif' font-size="13.5" fill="#000" textLength="49.90" lengthAdjust="spacing"><tspan font-style="italic">t</tspan> = <tspan font-style="italic">T</tspan><tspan font-size="9.4" dy="2.7">0</tspan><tspan dy="-2.7">/8</tspan></text>
<rect x="281.00" y="696.40" width="85.60" height="257.70" fill="none" stroke="#222" stroke-width="1.0"/>
<line x1="277.30" y1="954.10" x2="281.00" y2="954.10" stroke="#333" stroke-width="1.0"/>
<text x="272.70" y="958.20" font-size="10.4" text-anchor="end" font-family='"Liberation Sans", sans-serif' fill="#262626" textLength="6.36" lengthAdjust="spacingAndGlyphs" >0</text>
<line x1="277.30" y1="914.45" x2="281.00" y2="914.45" stroke="#333" stroke-width="1.0"/>
<text x="272.70" y="918.55" font-size="10.4" text-anchor="end" font-family='"Liberation Sans", sans-serif' fill="#262626" textLength="12.72" lengthAdjust="spacingAndGlyphs" >10</text>
<line x1="277.30" y1="874.81" x2="281.00" y2="874.81" stroke="#333" stroke-width="1.0"/>
<text x="272.70" y="878.91" font-size="10.4" text-anchor="end" font-family='"Liberation Sans", sans-serif' fill="#262626" textLength="12.72" lengthAdjust="spacingAndGlyphs" >20</text>
<line x1="277.30" y1="835.16" x2="281.00" y2="835.16" stroke="#333" stroke-width="1.0"/>
<text x="272.70" y="839.26" font-size="10.4" text-anchor="end" font-family='"Liberation Sans", sans-serif' fill="#262626" textLength="12.72" lengthAdjust="spacingAndGlyphs" >30</text>
<line x1="277.30" y1="795.52" x2="281.00" y2="795.52" stroke="#333" stroke-width="1.0"/>
<text x="272.70" y="799.62" font-size="10.4" text-anchor="end" font-family='"Liberation Sans", sans-serif' fill="#262626" textLength="12.72" lengthAdjust="spacingAndGlyphs" >40</text>
<line x1="277.30" y1="755.87" x2="281.00" y2="755.87" stroke="#333" stroke-width="1.0"/>
<text x="272.70" y="759.97" font-size="10.4" text-anchor="end" font-family='"Liberation Sans", sans-serif' fill="#262626" textLength="12.72" lengthAdjust="spacingAndGlyphs" >50</text>
<line x1="277.30" y1="716.22" x2="281.00" y2="716.22" stroke="#333" stroke-width="1.0"/>
<text x="272.70" y="720.32" font-size="10.4" text-anchor="end" font-family='"Liberation Sans", sans-serif' fill="#262626" textLength="12.72" lengthAdjust="spacingAndGlyphs" >60</text>
<line x1="287.50" y1="954.10" x2="287.50" y2="957.80" stroke="#333" stroke-width="1.0"/>
<text x="287.50" y="969.90" font-size="10.4" text-anchor="middle" font-family='"Liberation Sans", sans-serif' fill="#262626" textLength="15.90" lengthAdjust="spacingAndGlyphs" >5.9</text>
<line x1="324.10" y1="954.10" x2="324.10" y2="957.80" stroke="#333" stroke-width="1.0"/>
<text x="324.10" y="969.90" font-size="10.4" text-anchor="middle" font-family='"Liberation Sans", sans-serif' fill="#262626" textLength="15.90" lengthAdjust="spacingAndGlyphs" >6.0</text>
<line x1="360.70" y1="954.10" x2="360.70" y2="957.80" stroke="#333" stroke-width="1.0"/>
<text x="360.70" y="969.90" font-size="10.4" text-anchor="middle" font-family='"Liberation Sans", sans-serif' fill="#262626" textLength="15.90" lengthAdjust="spacingAndGlyphs" >6.1</text>
<text x="324.10" y="984.40" font-size="10.0" text-anchor="middle" font-family='"Liberation Sans", sans-serif' fill="#262626" >L</text>
<text x="259.30" y="701.30" font-size="14.5" text-anchor="start" font-family='"Liberation Sans", sans-serif' fill="#000" >m)</text>
<text x="301.30" y="691.60" font-family='"Liberation Serif", serif' font-size="13.5" fill="#000" textLength="49.90" lengthAdjust="spacing"><tspan font-style="italic">t</tspan> = <tspan font-style="italic">T</tspan><tspan font-size="9.4" dy="2.7">0</tspan><tspan dy="-2.7">/4</tspan></text>
<rect x="400.90" y="696.40" width="85.60" height="257.70" fill="none" stroke="#222" stroke-width="1.0"/>
<line x1="397.20" y1="954.10" x2="400.90" y2="954.10" stroke="#333" stroke-width="1.0"/>
<text x="392.60" y="958.20" font-size="10.4" text-anchor="end" font-family='"Liberation Sans", sans-serif' fill="#262626" textLength="6.36" lengthAdjust="spacingAndGlyphs" >0</text>
<line x1="397.20" y1="914.45" x2="400.90" y2="914.45" stroke="#333" stroke-width="1.0"/>
<text x="392.60" y="918.55" font-size="10.4" text-anchor="end" font-family='"Liberation Sans", sans-serif' fill="#262626" textLength="12.72" lengthAdjust="spacingAndGlyphs" >10</text>
<line x1="397.20" y1="874.81" x2="400.90" y2="874.81" stroke="#333" stroke-width="1.0"/>
<text x="392.60" y="878.91" font-size="10.4" text-anchor="end" font-family='"Liberation Sans", sans-serif' fill="#262626" textLength="12.72" lengthAdjust="spacingAndGlyphs" >20</text>
<line x1="397.20" y1="835.16" x2="400.90" y2="835.16" stroke="#333" stroke-width="1.0"/>
<text x="392.60" y="839.26" font-size="10.4" text-anchor="end" font-family='"Liberation Sans", sans-serif' fill="#262626" textLength="12.72" lengthAdjust="spacingAndGlyphs" >30</text>
<line x1="397.20" y1="795.52" x2="400.90" y2="795.52" stroke="#333" stroke-width="1.0"/>
<text x="392.60" y="799.62" font-size="10.4" text-anchor="end" font-family='"Liberation Sans", sans-serif' fill="#262626" textLength="12.72" lengthAdjust="spacingAndGlyphs" >40</text>
<line x1="397.20" y1="755.87" x2="400.90" y2="755.87" stroke="#333" stroke-width="1.0"/>
<text x="392.60" y="759.97" font-size="10.4" text-anchor="end" font-family='"Liberation Sans", sans-serif' fill="#262626" textLength="12.72" lengthAdjust="spacingAndGlyphs" >50</text>
<line x1="397.20" y1="716.22" x2="400.90" y2="716.22" stroke="#333" stroke-width="1.0"/>
<text x="392.60" y="720.32" font-size="10.4" text-anchor="end" font-family='"Liberation Sans", sans-serif' fill="#262626" textLength="12.72" lengthAdjust="spacingAndGlyphs" >60</text>
<line x1="407.40" y1="954.10" x2="407.40" y2="957.80" stroke="#333" stroke-width="1.0"/>
<text x="407.40" y="969.90" font-size="10.4" text-anchor="middle" font-family='"Liberation Sans", sans-serif' fill="#262626" textLength="15.90" lengthAdjust="spacingAndGlyphs" >5.9</text>
<line x1="444.00" y1="954.10" x2="444.00" y2="957.80" stroke="#333" stroke-width="1.0"/>
<text x="444.00" y="969.90" font-size="10.4" text-anchor="middle" font-family='"Liberation Sans", sans-serif' fill="#262626" textLength="15.90" lengthAdjust="spacingAndGlyphs" >6.0</text>
<line x1="480.60" y1="954.10" x2="480.60" y2="957.80" stroke="#333" stroke-width="1.0"/>
<text x="480.60" y="969.90" font-size="10.4" text-anchor="middle" font-family='"Liberation Sans", sans-serif' fill="#262626" textLength="15.90" lengthAdjust="spacingAndGlyphs" >6.1</text>
<text x="444.00" y="984.40" font-size="10.0" text-anchor="middle" font-family='"Liberation Sans", sans-serif' fill="#262626" >L</text>
<text x="384.30" y="701.60" font-size="14.5" text-anchor="start" font-family='"Liberation Sans", sans-serif' fill="#000" >n)</text>
<text x="418.90" y="691.60" font-family='"Liberation Serif", serif' font-size="13.5" fill="#000" textLength="56.50" lengthAdjust="spacing"><tspan font-style="italic">t</tspan> = 3<tspan font-style="italic">T</tspan><tspan font-size="9.4" dy="2.7">0</tspan><tspan dy="-2.7">/8</tspan></text>
<rect x="520.20" y="696.40" width="85.60" height="257.70" fill="none" stroke="#222" stroke-width="1.0"/>
<line x1="516.50" y1="954.10" x2="520.20" y2="954.10" stroke="#333" stroke-width="1.0"/>
<text x="511.90" y="958.20" font-size="10.4" text-anchor="end" font-family='"Liberation Sans", sans-serif' fill="#262626" textLength="6.36" lengthAdjust="spacingAndGlyphs" >0</text>
<line x1="516.50" y1="914.45" x2="520.20" y2="914.45" stroke="#333" stroke-width="1.0"/>
<text x="511.90" y="918.55" font-size="10.4" text-anchor="end" font-family='"Liberation Sans", sans-serif' fill="#262626" textLength="12.72" lengthAdjust="spacingAndGlyphs" >10</text>
<line x1="516.50" y1="874.81" x2="520.20" y2="874.81" stroke="#333" stroke-width="1.0"/>
<text x="511.90" y="878.91" font-size="10.4" text-anchor="end" font-family='"Liberation Sans", sans-serif' fill="#262626" textLength="12.72" lengthAdjust="spacingAndGlyphs" >20</text>
<line x1="516.50" y1="835.16" x2="520.20" y2="835.16" stroke="#333" stroke-width="1.0"/>
<text x="511.90" y="839.26" font-size="10.4" text-anchor="end" font-family='"Liberation Sans", sans-serif' fill="#262626" textLength="12.72" lengthAdjust="spacingAndGlyphs" >30</text>
<line x1="516.50" y1="795.52" x2="520.20" y2="795.52" stroke="#333" stroke-width="1.0"/>
<text x="511.90" y="799.62" font-size="10.4" text-anchor="end" font-family='"Liberation Sans", sans-serif' fill="#262626" textLength="12.72" lengthAdjust="spacingAndGlyphs" >40</text>
<line x1="516.50" y1="755.87" x2="520.20" y2="755.87" stroke="#333" stroke-width="1.0"/>
<text x="511.90" y="759.97" font-size="10.4" text-anchor="end" font-family='"Liberation Sans", sans-serif' fill="#262626" textLength="12.72" lengthAdjust="spacingAndGlyphs" >50</text>
<line x1="516.50" y1="716.22" x2="520.20" y2="716.22" stroke="#333" stroke-width="1.0"/>
<text x="511.90" y="720.32" font-size="10.4" text-anchor="end" font-family='"Liberation Sans", sans-serif' fill="#262626" textLength="12.72" lengthAdjust="spacingAndGlyphs" >60</text>
<line x1="526.70" y1="954.10" x2="526.70" y2="957.80" stroke="#333" stroke-width="1.0"/>
<text x="526.70" y="969.90" font-size="10.4" text-anchor="middle" font-family='"Liberation Sans", sans-serif' fill="#262626" textLength="15.90" lengthAdjust="spacingAndGlyphs" >5.9</text>
<line x1="563.30" y1="954.10" x2="563.30" y2="957.80" stroke="#333" stroke-width="1.0"/>
<text x="563.30" y="969.90" font-size="10.4" text-anchor="middle" font-family='"Liberation Sans", sans-serif' fill="#262626" textLength="15.90" lengthAdjust="spacingAndGlyphs" >6.0</text>
<line x1="599.90" y1="954.10" x2="599.90" y2="957.80" stroke="#333" stroke-width="1.0"/>
<text x="599.90" y="969.90" font-size="10.4" text-anchor="middle" font-family='"Liberation Sans", sans-serif' fill="#262626" textLength="15.90" lengthAdjust="spacingAndGlyphs" >6.1</text>
<text x="563.30" y="984.40" font-size="10.0" text-anchor="middle" font-family='"Liberation Sans", sans-serif' fill="#262626" >L</text>
<text x="504.30" y="700.70" font-size="14.5" text-anchor="start" font-family='"Liberation Sans", sans-serif' fill="#000" >o)</text>
<text x="542.20" y="691.60" font-family='"Liberation Serif", serif' font-size="13.5" fill="#000" textLength="49.20" lengthAdjust="spacing"><tspan font-style="italic">t</tspan> = <tspan font-style="italic">T</tspan><tspan font-size="9.4" dy="2.7">0</tspan><tspan dy="-2.7">/2</tspan></text>
<text transform="translate(12.7 826.8) rotate(-90)" text-anchor="middle" font-family='"Liberation Sans", sans-serif' font-size="11" fill="#262626" textLength="36.4" lengthAdjust="spacingAndGlyphs"><tspan font-style="italic">λ</tspan> [deg]</text>
<defs><linearGradient id="cbg" x1="0" y1="0" x2="0" y2="1"><stop offset="0.0000" stop-color="#fde725"/><stop offset="0.0625" stop-color="#d8e219"/><stop offset="0.1250" stop-color="#addc30"/><stop offset="0.1875" stop-color="#84d44b"/><stop offset="0.2500" stop-color="#5ec962"/><stop offset="0.3125" stop-color="#3fbc73"/><stop offset="0.3750" stop-color="#28ae80"/><stop offset="0.4375" stop-color="#1fa088"/><stop offset="0.5000" stop-color="#21918c"/><stop offset="0.5625" stop-color="#26828e"/><stop offset="0.6250" stop-color="#2c728e"/><stop offset="0.6875" stop-color="#33638d"/><stop offset="0.7500" stop-color="#3b528b"/><stop offset="0.8125" stop-color="#424086"/><stop offset="0.8750" stop-color="#472d7b"/><stop offset="0.9375" stop-color="#48186a"/><stop offset="1.0000" stop-color="#440154"/></linearGradient></defs>
<rect x="614.8" y="737.6" width="10.40" height="206.50" fill="url(#cbg)" stroke="#222" stroke-width="1"/>
<line x1="625.20" y1="737.60" x2="628.90" y2="737.60" stroke="#333" stroke-width="1"/>
<text x="632.70" y="742.50" font-size="10.4" text-anchor="start" font-family='"Liberation Sans", sans-serif' fill="#262626" textLength="33.30" lengthAdjust="spacingAndGlyphs" >1.0100</text>
<line x1="625.20" y1="763.41" x2="628.90" y2="763.41" stroke="#333" stroke-width="1"/>
<text x="632.70" y="768.31" font-size="10.4" text-anchor="start" font-family='"Liberation Sans", sans-serif' fill="#262626" textLength="33.30" lengthAdjust="spacingAndGlyphs" >1.0075</text>
<line x1="625.20" y1="789.23" x2="628.90" y2="789.23" stroke="#333" stroke-width="1"/>
<text x="632.70" y="794.12" font-size="10.4" text-anchor="start" font-family='"Liberation Sans", sans-serif' fill="#262626" textLength="33.30" lengthAdjust="spacingAndGlyphs" >1.0050</text>
<line x1="625.20" y1="815.04" x2="628.90" y2="815.04" stroke="#333" stroke-width="1"/>
<text x="632.70" y="819.94" font-size="10.4" text-anchor="start" font-family='"Liberation Sans", sans-serif' fill="#262626" textLength="33.30" lengthAdjust="spacingAndGlyphs" >1.0025</text>
<line x1="625.20" y1="840.85" x2="628.90" y2="840.85" stroke="#333" stroke-width="1"/>
<text x="632.70" y="845.75" font-size="10.4" text-anchor="start" font-family='"Liberation Sans", sans-serif' fill="#262626" textLength="33.30" lengthAdjust="spacingAndGlyphs" >1.0000</text>
<line x1="625.20" y1="866.66" x2="628.90" y2="866.66" stroke="#333" stroke-width="1"/>
<text x="632.70" y="871.56" font-size="10.4" text-anchor="start" font-family='"Liberation Sans", sans-serif' fill="#262626" textLength="33.30" lengthAdjust="spacingAndGlyphs" >0.9975</text>
<line x1="625.20" y1="892.48" x2="628.90" y2="892.48" stroke="#333" stroke-width="1"/>
<text x="632.70" y="897.38" font-size="10.4" text-anchor="start" font-family='"Liberation Sans", sans-serif' fill="#262626" textLength="33.30" lengthAdjust="spacingAndGlyphs" >0.9950</text>
<line x1="625.20" y1="918.29" x2="628.90" y2="918.29" stroke="#333" stroke-width="1"/>
<text x="632.70" y="923.19" font-size="10.4" text-anchor="start" font-family='"Liberation Sans", sans-serif' fill="#262626" textLength="33.30" lengthAdjust="spacingAndGlyphs" >0.9925</text>
<line x1="625.20" y1="944.10" x2="628.90" y2="944.10" stroke="#333" stroke-width="1"/>
<text x="632.70" y="949.00" font-size="10.4" text-anchor="start" font-family='"Liberation Sans", sans-serif' fill="#262626" textLength="33.30" lengthAdjust="spacingAndGlyphs" >0.9900</text>
<text transform="translate(679.6 843.5) rotate(-90)" text-anchor="middle" font-family='"Liberation Sans", sans-serif' font-size="11" fill="#262626" textLength="69.6" lengthAdjust="spacingAndGlyphs"><tspan font-style="italic">μ</tspan>(<tspan font-style="italic">λ</tspan>)/<tspan font-style="italic">μ</tspan><tspan font-size="8" font-style="italic" dy="2">center</tspan><tspan dy="-2">(</tspan><tspan font-style="italic">λ</tspan>)</text>
</svg></div></body></html>
